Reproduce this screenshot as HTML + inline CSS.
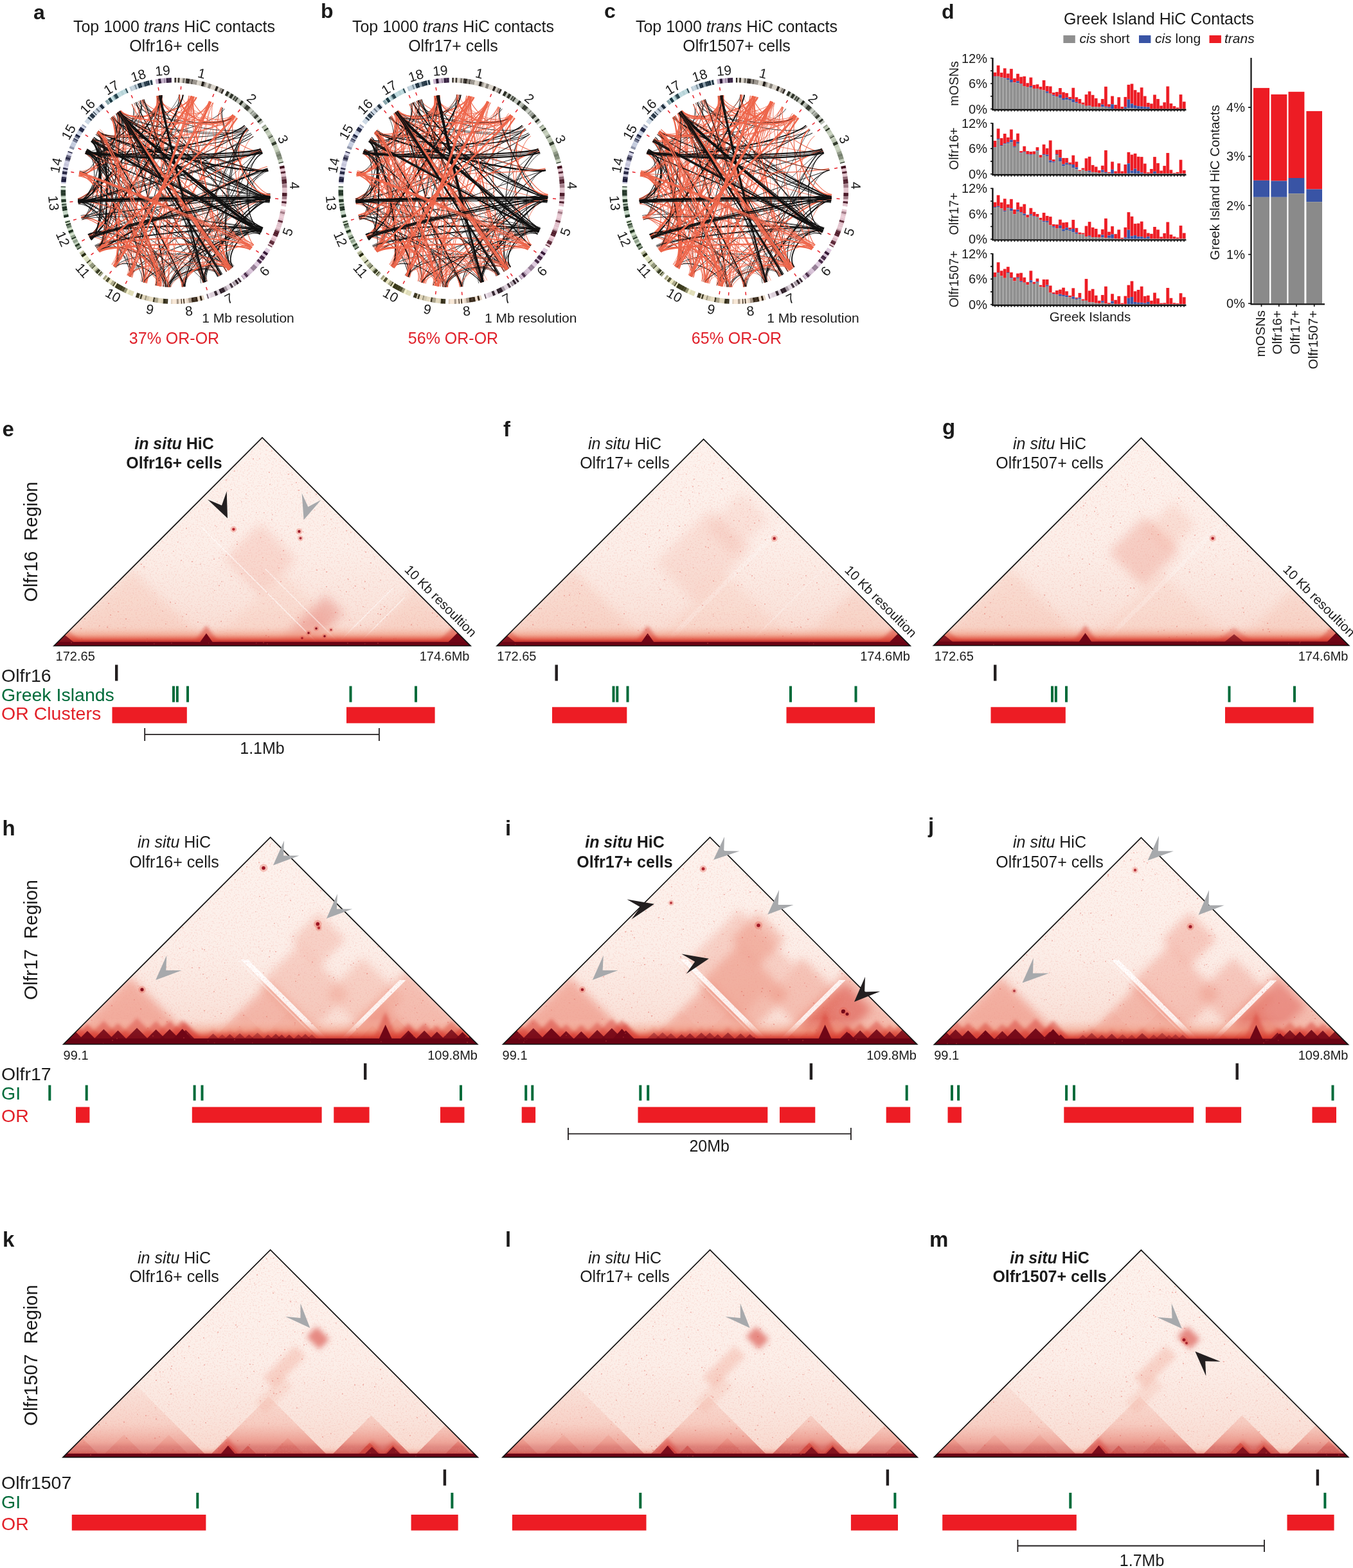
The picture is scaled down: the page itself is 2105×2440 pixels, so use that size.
<!DOCTYPE html>
<html><head><meta charset="utf-8"><style>
html,body{margin:0;padding:0;background:#fff;}
body{width:2105px;height:2440px;overflow:hidden;}
svg{display:block;font-family:'Liberation Sans', Arial, sans-serif;}

</style></head><body>
<svg width="2105" height="2440" viewBox="0 0 2105 2440">
<rect width="2105" height="2440" fill="#fff"/><g fill="#1a1a1a">
<text x="52.0" y="30.0" font-size="32" font-weight="bold">a</text>
<text x="499.0" y="28.0" font-size="32" font-weight="bold">b</text>
<text x="940.0" y="28.0" font-size="32" font-weight="bold">c</text>
<text x="1465.0" y="29.0" font-size="32" font-weight="bold">d</text>
<text x="271.0" y="50.0" font-size="25" text-anchor="middle">Top 1000 <tspan font-style="italic">trans</tspan> HiC contacts</text>
<text x="271.0" y="80.0" font-size="25" text-anchor="middle">Olfr16+ cells</text>
<text x="271.0" y="535.0" font-size="25" text-anchor="middle" fill="#e0202a">37% OR-OR</text>
<text x="705.0" y="50.0" font-size="25" text-anchor="middle">Top 1000 <tspan font-style="italic">trans</tspan> HiC contacts</text>
<text x="705.0" y="80.0" font-size="25" text-anchor="middle">Olfr17+ cells</text>
<text x="705.0" y="535.0" font-size="25" text-anchor="middle" fill="#e0202a">56% OR-OR</text>
<text x="1146.0" y="50.0" font-size="25" text-anchor="middle">Top 1000 <tspan font-style="italic">trans</tspan> HiC contacts</text>
<text x="1146.0" y="80.0" font-size="25" text-anchor="middle">Olfr1507+ cells</text>
<text x="1146.0" y="535.0" font-size="25" text-anchor="middle" fill="#e0202a">65% OR-OR</text>
<text x="386.0" y="502.0" font-size="21" text-anchor="middle">1 Mb resolution</text>
<text x="825.7" y="502.0" font-size="21" text-anchor="middle">1 Mb resolution</text>
<text x="1265.0" y="502.0" font-size="21" text-anchor="middle">1 Mb resolution</text>
<rect x="1545.50" y="112.73" width="5.07" height="6.08" fill="rgb(237,28,36)"/><rect x="1545.50" y="118.80" width="5.07" height="0.87" fill="rgb(57,84,165)"/><rect x="1545.50" y="119.67" width="5.07" height="49.83" fill="rgb(143,143,143)"/><rect x="1550.57" y="101.79" width="5.07" height="17.01" fill="rgb(237,28,36)"/><rect x="1550.57" y="118.80" width="5.07" height="50.70" fill="rgb(143,143,143)"/><rect x="1555.64" y="113.08" width="5.07" height="7.47" fill="rgb(237,28,36)"/><rect x="1555.64" y="120.54" width="5.07" height="48.96" fill="rgb(143,143,143)"/><rect x="1560.71" y="106.30" width="5.07" height="15.10" fill="rgb(237,28,36)"/><rect x="1560.71" y="121.41" width="5.07" height="0.87" fill="rgb(57,84,165)"/><rect x="1560.71" y="122.28" width="5.07" height="47.22" fill="rgb(143,143,143)"/><rect x="1565.78" y="114.46" width="5.07" height="7.29" fill="rgb(237,28,36)"/><rect x="1565.78" y="121.76" width="5.07" height="2.26" fill="rgb(57,84,165)"/><rect x="1565.78" y="124.01" width="5.07" height="45.49" fill="rgb(143,143,143)"/><rect x="1570.85" y="107.17" width="5.07" height="16.84" fill="rgb(237,28,36)"/><rect x="1570.85" y="124.01" width="5.07" height="3.99" fill="rgb(57,84,165)"/><rect x="1570.85" y="128.01" width="5.07" height="41.49" fill="rgb(143,143,143)"/><rect x="1575.92" y="121.93" width="5.07" height="6.42" fill="rgb(237,28,36)"/><rect x="1575.92" y="128.35" width="5.07" height="41.15" fill="rgb(143,143,143)"/><rect x="1580.99" y="114.81" width="5.07" height="11.46" fill="rgb(237,28,36)"/><rect x="1580.99" y="126.27" width="5.07" height="2.95" fill="rgb(57,84,165)"/><rect x="1580.99" y="129.22" width="5.07" height="40.28" fill="rgb(143,143,143)"/><rect x="1586.06" y="119.67" width="5.07" height="10.76" fill="rgb(237,28,36)"/><rect x="1586.06" y="130.44" width="5.07" height="0.52" fill="rgb(57,84,165)"/><rect x="1586.06" y="130.96" width="5.07" height="38.54" fill="rgb(143,143,143)"/><rect x="1591.13" y="118.80" width="5.07" height="15.28" fill="rgb(237,28,36)"/><rect x="1591.13" y="134.08" width="5.07" height="35.42" fill="rgb(143,143,143)"/><rect x="1596.20" y="129.22" width="5.07" height="6.42" fill="rgb(237,28,36)"/><rect x="1596.20" y="135.65" width="5.07" height="33.85" fill="rgb(143,143,143)"/><rect x="1601.27" y="120.54" width="5.07" height="13.37" fill="rgb(237,28,36)"/><rect x="1601.27" y="133.91" width="5.07" height="2.26" fill="rgb(57,84,165)"/><rect x="1601.27" y="136.17" width="5.07" height="33.33" fill="rgb(143,143,143)"/><rect x="1606.34" y="132.17" width="5.07" height="5.73" fill="rgb(237,28,36)"/><rect x="1606.34" y="137.90" width="5.07" height="31.60" fill="rgb(143,143,143)"/><rect x="1611.41" y="131.30" width="5.07" height="6.60" fill="rgb(237,28,36)"/><rect x="1611.41" y="137.90" width="5.07" height="31.60" fill="rgb(143,143,143)"/><rect x="1616.48" y="134.95" width="5.07" height="4.69" fill="rgb(237,28,36)"/><rect x="1616.48" y="139.64" width="5.07" height="29.86" fill="rgb(143,143,143)"/><rect x="1621.55" y="124.88" width="5.07" height="15.63" fill="rgb(237,28,36)"/><rect x="1621.55" y="140.51" width="5.07" height="28.99" fill="rgb(143,143,143)"/><rect x="1626.62" y="133.91" width="5.07" height="8.33" fill="rgb(237,28,36)"/><rect x="1626.62" y="142.24" width="5.07" height="2.60" fill="rgb(57,84,165)"/><rect x="1626.62" y="144.85" width="5.07" height="24.65" fill="rgb(143,143,143)"/><rect x="1631.69" y="134.43" width="5.07" height="11.28" fill="rgb(237,28,36)"/><rect x="1631.69" y="145.71" width="5.07" height="23.79" fill="rgb(143,143,143)"/><rect x="1636.76" y="143.98" width="5.07" height="3.82" fill="rgb(237,28,36)"/><rect x="1636.76" y="147.80" width="5.07" height="1.74" fill="rgb(57,84,165)"/><rect x="1636.76" y="149.53" width="5.07" height="19.97" fill="rgb(143,143,143)"/><rect x="1641.83" y="143.11" width="5.07" height="6.94" fill="rgb(237,28,36)"/><rect x="1641.83" y="150.06" width="5.07" height="19.44" fill="rgb(143,143,143)"/><rect x="1646.90" y="137.03" width="5.07" height="10.42" fill="rgb(237,28,36)"/><rect x="1646.90" y="147.45" width="5.07" height="5.21" fill="rgb(57,84,165)"/><rect x="1646.90" y="152.66" width="5.07" height="16.84" fill="rgb(143,143,143)"/><rect x="1651.97" y="143.46" width="5.07" height="9.55" fill="rgb(237,28,36)"/><rect x="1651.97" y="153.01" width="5.07" height="2.78" fill="rgb(57,84,165)"/><rect x="1651.97" y="155.78" width="5.07" height="13.72" fill="rgb(143,143,143)"/><rect x="1657.04" y="144.85" width="5.07" height="6.94" fill="rgb(237,28,36)"/><rect x="1657.04" y="151.79" width="5.07" height="3.47" fill="rgb(57,84,165)"/><rect x="1657.04" y="155.26" width="5.07" height="14.24" fill="rgb(143,143,143)"/><rect x="1662.11" y="150.92" width="5.07" height="3.13" fill="rgb(237,28,36)"/><rect x="1662.11" y="154.05" width="5.07" height="2.08" fill="rgb(57,84,165)"/><rect x="1662.11" y="156.13" width="5.07" height="13.37" fill="rgb(143,143,143)"/><rect x="1667.18" y="136.69" width="5.07" height="17.71" fill="rgb(237,28,36)"/><rect x="1667.18" y="154.40" width="5.07" height="4.86" fill="rgb(57,84,165)"/><rect x="1667.18" y="159.26" width="5.07" height="10.24" fill="rgb(143,143,143)"/><rect x="1672.25" y="151.27" width="5.07" height="7.47" fill="rgb(237,28,36)"/><rect x="1672.25" y="158.74" width="5.07" height="1.74" fill="rgb(57,84,165)"/><rect x="1672.25" y="160.47" width="5.07" height="9.03" fill="rgb(143,143,143)"/><rect x="1677.32" y="154.05" width="5.07" height="7.29" fill="rgb(237,28,36)"/><rect x="1677.32" y="161.34" width="5.07" height="8.16" fill="rgb(143,143,143)"/><rect x="1682.39" y="159.60" width="5.07" height="3.13" fill="rgb(237,28,36)"/><rect x="1682.39" y="162.73" width="5.07" height="6.77" fill="rgb(143,143,143)"/><rect x="1687.46" y="147.10" width="5.07" height="17.71" fill="rgb(237,28,36)"/><rect x="1687.46" y="164.81" width="5.07" height="4.69" fill="rgb(143,143,143)"/><rect x="1692.53" y="142.24" width="5.07" height="22.22" fill="rgb(237,28,36)"/><rect x="1692.53" y="164.47" width="5.07" height="0.87" fill="rgb(57,84,165)"/><rect x="1692.53" y="165.33" width="5.07" height="4.17" fill="rgb(143,143,143)"/><rect x="1697.60" y="147.80" width="5.07" height="18.23" fill="rgb(237,28,36)"/><rect x="1697.60" y="166.03" width="5.07" height="3.47" fill="rgb(143,143,143)"/><rect x="1702.67" y="153.01" width="5.07" height="13.19" fill="rgb(237,28,36)"/><rect x="1702.67" y="166.20" width="5.07" height="3.30" fill="rgb(143,143,143)"/><rect x="1707.74" y="160.47" width="5.07" height="6.08" fill="rgb(237,28,36)"/><rect x="1707.74" y="166.55" width="5.07" height="2.95" fill="rgb(143,143,143)"/><rect x="1712.81" y="154.05" width="5.07" height="8.68" fill="rgb(237,28,36)"/><rect x="1712.81" y="162.73" width="5.07" height="3.47" fill="rgb(57,84,165)"/><rect x="1712.81" y="166.20" width="5.07" height="3.30" fill="rgb(143,143,143)"/><rect x="1717.88" y="134.78" width="5.07" height="30.90" fill="rgb(237,28,36)"/><rect x="1717.88" y="165.68" width="5.07" height="1.22" fill="rgb(57,84,165)"/><rect x="1717.88" y="166.90" width="5.07" height="2.60" fill="rgb(143,143,143)"/><rect x="1722.95" y="162.21" width="5.07" height="4.34" fill="rgb(237,28,36)"/><rect x="1722.95" y="166.55" width="5.07" height="1.39" fill="rgb(57,84,165)"/><rect x="1722.95" y="167.94" width="5.07" height="1.56" fill="rgb(143,143,143)"/><rect x="1728.02" y="149.53" width="5.07" height="12.67" fill="rgb(237,28,36)"/><rect x="1728.02" y="162.21" width="5.07" height="6.94" fill="rgb(57,84,165)"/><rect x="1728.02" y="169.15" width="5.07" height="0.35" fill="rgb(143,143,143)"/><rect x="1733.09" y="163.08" width="5.07" height="6.08" fill="rgb(237,28,36)"/><rect x="1733.09" y="169.15" width="5.07" height="0.35" fill="rgb(143,143,143)"/><rect x="1738.16" y="151.27" width="5.07" height="18.23" fill="rgb(237,28,36)"/><rect x="1743.23" y="166.03" width="5.07" height="3.47" fill="rgb(237,28,36)"/><rect x="1748.30" y="150.92" width="5.07" height="15.63" fill="rgb(237,28,36)"/><rect x="1748.30" y="166.55" width="5.07" height="2.60" fill="rgb(57,84,165)"/><rect x="1748.30" y="169.15" width="5.07" height="0.35" fill="rgb(143,143,143)"/><rect x="1753.37" y="131.83" width="5.07" height="22.92" fill="rgb(237,28,36)"/><rect x="1753.37" y="154.74" width="5.07" height="13.54" fill="rgb(57,84,165)"/><rect x="1753.37" y="168.28" width="5.07" height="1.22" fill="rgb(143,143,143)"/><rect x="1758.44" y="130.44" width="5.07" height="30.90" fill="rgb(237,28,36)"/><rect x="1758.44" y="161.34" width="5.07" height="6.94" fill="rgb(57,84,165)"/><rect x="1758.44" y="168.28" width="5.07" height="1.22" fill="rgb(143,143,143)"/><rect x="1763.51" y="140.16" width="5.07" height="23.79" fill="rgb(237,28,36)"/><rect x="1763.51" y="163.94" width="5.07" height="4.69" fill="rgb(57,84,165)"/><rect x="1763.51" y="168.63" width="5.07" height="0.87" fill="rgb(143,143,143)"/><rect x="1768.58" y="143.63" width="5.07" height="21.53" fill="rgb(237,28,36)"/><rect x="1768.58" y="165.16" width="5.07" height="3.99" fill="rgb(57,84,165)"/><rect x="1768.58" y="169.15" width="5.07" height="0.35" fill="rgb(143,143,143)"/><rect x="1773.65" y="136.17" width="5.07" height="29.51" fill="rgb(237,28,36)"/><rect x="1773.65" y="165.68" width="5.07" height="3.47" fill="rgb(57,84,165)"/><rect x="1773.65" y="169.15" width="5.07" height="0.35" fill="rgb(143,143,143)"/><rect x="1778.72" y="149.53" width="5.07" height="16.67" fill="rgb(237,28,36)"/><rect x="1778.72" y="166.20" width="5.07" height="2.95" fill="rgb(57,84,165)"/><rect x="1778.72" y="169.15" width="5.07" height="0.35" fill="rgb(143,143,143)"/><rect x="1783.79" y="159.95" width="5.07" height="6.60" fill="rgb(237,28,36)"/><rect x="1783.79" y="166.55" width="5.07" height="2.95" fill="rgb(57,84,165)"/><rect x="1788.86" y="161.34" width="5.07" height="8.16" fill="rgb(237,28,36)"/><rect x="1793.93" y="147.45" width="5.07" height="22.05" fill="rgb(237,28,36)"/><rect x="1799.00" y="154.05" width="5.07" height="15.45" fill="rgb(237,28,36)"/><rect x="1804.07" y="164.47" width="5.07" height="5.03" fill="rgb(237,28,36)"/><rect x="1809.14" y="159.26" width="5.07" height="10.24" fill="rgb(237,28,36)"/><rect x="1814.21" y="134.43" width="5.07" height="35.07" fill="rgb(237,28,36)"/><rect x="1819.28" y="160.99" width="5.07" height="8.51" fill="rgb(237,28,36)"/><rect x="1824.35" y="165.16" width="5.07" height="4.34" fill="rgb(237,28,36)"/><rect x="1829.42" y="167.42" width="5.07" height="2.08" fill="rgb(237,28,36)"/><rect x="1834.49" y="147.10" width="5.07" height="22.40" fill="rgb(237,28,36)"/><rect x="1839.56" y="158.22" width="5.07" height="11.28" fill="rgb(237,28,36)"/><path d="M1550.57 79.5V169.5M1555.64 79.5V169.5M1560.71 79.5V169.5M1565.78 79.5V169.5M1570.85 79.5V169.5M1575.92 79.5V169.5M1580.99 79.5V169.5M1586.06 79.5V169.5M1591.13 79.5V169.5M1596.20 79.5V169.5M1601.27 79.5V169.5M1606.34 79.5V169.5M1611.41 79.5V169.5M1616.48 79.5V169.5M1621.55 79.5V169.5M1626.62 79.5V169.5M1631.69 79.5V169.5M1636.76 79.5V169.5M1641.83 79.5V169.5M1646.90 79.5V169.5M1651.97 79.5V169.5M1657.04 79.5V169.5M1662.11 79.5V169.5M1667.18 79.5V169.5M1672.25 79.5V169.5M1677.32 79.5V169.5M1682.39 79.5V169.5M1687.46 79.5V169.5M1692.53 79.5V169.5M1697.60 79.5V169.5M1702.67 79.5V169.5M1707.74 79.5V169.5M1712.81 79.5V169.5M1717.88 79.5V169.5M1722.95 79.5V169.5M1728.02 79.5V169.5M1733.09 79.5V169.5M1738.16 79.5V169.5M1743.23 79.5V169.5M1748.30 79.5V169.5M1753.37 79.5V169.5M1758.44 79.5V169.5M1763.51 79.5V169.5M1768.58 79.5V169.5M1773.65 79.5V169.5M1778.72 79.5V169.5M1783.79 79.5V169.5M1788.86 79.5V169.5M1793.93 79.5V169.5M1799.00 79.5V169.5M1804.07 79.5V169.5M1809.14 79.5V169.5M1814.21 79.5V169.5M1819.28 79.5V169.5M1824.35 79.5V169.5M1829.42 79.5V169.5M1834.49 79.5V169.5M1839.56 79.5V169.5" stroke="#fff" stroke-opacity="0.45" stroke-width="0.8" fill="none"/><path d="M1544.4 89.9V170.7H1845.4" stroke="#111" stroke-width="2.4" fill="none"/><path d="M1541 169.5H1544.4M1541 149.8H1544.4M1541 130.0H1544.4M1541 110.3H1544.4M1541 90.5H1544.4" stroke="#111" stroke-width="1.6" fill="none"/><path d="M1548.04 170.5V173.5M1553.11 170.5V173.5M1558.17 170.5V173.5M1563.24 170.5V173.5M1568.32 170.5V173.5M1573.38 170.5V173.5M1578.45 170.5V173.5M1583.53 170.5V173.5M1588.60 170.5V173.5M1593.66 170.5V173.5M1598.73 170.5V173.5M1603.81 170.5V173.5M1608.88 170.5V173.5M1613.94 170.5V173.5M1619.02 170.5V173.5M1624.09 170.5V173.5M1629.15 170.5V173.5M1634.22 170.5V173.5M1639.30 170.5V173.5M1644.37 170.5V173.5M1649.43 170.5V173.5M1654.51 170.5V173.5M1659.58 170.5V173.5M1664.64 170.5V173.5M1669.71 170.5V173.5M1674.79 170.5V173.5M1679.86 170.5V173.5M1684.92 170.5V173.5M1689.99 170.5V173.5M1695.07 170.5V173.5M1700.13 170.5V173.5M1705.20 170.5V173.5M1710.28 170.5V173.5M1715.35 170.5V173.5M1720.41 170.5V173.5M1725.49 170.5V173.5M1730.56 170.5V173.5M1735.62 170.5V173.5M1740.69 170.5V173.5M1745.77 170.5V173.5M1750.84 170.5V173.5M1755.90 170.5V173.5M1760.97 170.5V173.5M1766.05 170.5V173.5M1771.12 170.5V173.5M1776.18 170.5V173.5M1781.26 170.5V173.5M1786.33 170.5V173.5M1791.39 170.5V173.5M1796.46 170.5V173.5M1801.54 170.5V173.5M1806.61 170.5V173.5M1811.67 170.5V173.5M1816.74 170.5V173.5M1821.82 170.5V173.5M1826.88 170.5V173.5M1831.95 170.5V173.5M1837.03 170.5V173.5M1842.10 170.5V173.5" stroke="#111" stroke-width="1.6" fill="none"/><text x="1536" y="176.5" font-size="20" text-anchor="end">0%</text><text x="1536" y="137.0" font-size="20" text-anchor="end">6%</text><text x="1536" y="97.5" font-size="20" text-anchor="end">12%</text><rect x="1545.50" y="219.03" width="5.07" height="9.94" fill="rgb(237,28,36)"/><rect x="1545.50" y="228.97" width="5.07" height="0.52" fill="rgb(57,84,165)"/><rect x="1545.50" y="229.49" width="5.07" height="41.31" fill="rgb(143,143,143)"/><rect x="1550.57" y="200.21" width="5.07" height="15.69" fill="rgb(237,28,36)"/><rect x="1550.57" y="215.89" width="5.07" height="1.39" fill="rgb(57,84,165)"/><rect x="1550.57" y="217.29" width="5.07" height="53.51" fill="rgb(143,143,143)"/><rect x="1555.64" y="215.02" width="5.07" height="10.98" fill="rgb(237,28,36)"/><rect x="1555.64" y="226.00" width="5.07" height="1.22" fill="rgb(57,84,165)"/><rect x="1555.64" y="227.22" width="5.07" height="43.58" fill="rgb(143,143,143)"/><rect x="1560.71" y="208.05" width="5.07" height="15.16" fill="rgb(237,28,36)"/><rect x="1560.71" y="223.21" width="5.07" height="1.05" fill="rgb(57,84,165)"/><rect x="1560.71" y="224.26" width="5.07" height="46.54" fill="rgb(143,143,143)"/><rect x="1565.78" y="213.80" width="5.07" height="7.67" fill="rgb(237,28,36)"/><rect x="1565.78" y="221.47" width="5.07" height="1.74" fill="rgb(57,84,165)"/><rect x="1565.78" y="223.21" width="5.07" height="47.59" fill="rgb(143,143,143)"/><rect x="1570.85" y="201.43" width="5.07" height="16.21" fill="rgb(237,28,36)"/><rect x="1570.85" y="217.64" width="5.07" height="3.83" fill="rgb(57,84,165)"/><rect x="1570.85" y="221.47" width="5.07" height="49.33" fill="rgb(143,143,143)"/><rect x="1575.92" y="217.64" width="5.07" height="10.11" fill="rgb(237,28,36)"/><rect x="1575.92" y="227.75" width="5.07" height="1.22" fill="rgb(57,84,165)"/><rect x="1575.92" y="228.97" width="5.07" height="41.83" fill="rgb(143,143,143)"/><rect x="1580.99" y="207.70" width="5.07" height="13.07" fill="rgb(237,28,36)"/><rect x="1580.99" y="220.77" width="5.07" height="2.96" fill="rgb(57,84,165)"/><rect x="1580.99" y="223.74" width="5.07" height="47.06" fill="rgb(143,143,143)"/><rect x="1586.06" y="235.07" width="5.07" height="2.61" fill="rgb(237,28,36)"/><rect x="1586.06" y="237.68" width="5.07" height="0.87" fill="rgb(57,84,165)"/><rect x="1586.06" y="238.55" width="5.07" height="32.25" fill="rgb(143,143,143)"/><rect x="1591.13" y="227.57" width="5.07" height="8.37" fill="rgb(237,28,36)"/><rect x="1591.13" y="235.94" width="5.07" height="0.87" fill="rgb(57,84,165)"/><rect x="1591.13" y="236.81" width="5.07" height="33.99" fill="rgb(143,143,143)"/><rect x="1596.20" y="235.07" width="5.07" height="4.88" fill="rgb(237,28,36)"/><rect x="1596.20" y="239.95" width="5.07" height="0.70" fill="rgb(57,84,165)"/><rect x="1596.20" y="240.65" width="5.07" height="30.15" fill="rgb(143,143,143)"/><rect x="1601.27" y="235.94" width="5.07" height="4.36" fill="rgb(237,28,36)"/><rect x="1601.27" y="240.30" width="5.07" height="1.39" fill="rgb(57,84,165)"/><rect x="1601.27" y="241.69" width="5.07" height="29.11" fill="rgb(143,143,143)"/><rect x="1606.34" y="235.42" width="5.07" height="4.53" fill="rgb(237,28,36)"/><rect x="1606.34" y="239.95" width="5.07" height="30.85" fill="rgb(143,143,143)"/><rect x="1611.41" y="229.14" width="5.07" height="5.05" fill="rgb(237,28,36)"/><rect x="1611.41" y="234.20" width="5.07" height="1.22" fill="rgb(57,84,165)"/><rect x="1611.41" y="235.42" width="5.07" height="35.38" fill="rgb(143,143,143)"/><rect x="1616.48" y="241.17" width="5.07" height="4.01" fill="rgb(237,28,36)"/><rect x="1616.48" y="245.18" width="5.07" height="25.62" fill="rgb(143,143,143)"/><rect x="1621.55" y="224.78" width="5.07" height="15.16" fill="rgb(237,28,36)"/><rect x="1621.55" y="239.95" width="5.07" height="1.22" fill="rgb(57,84,165)"/><rect x="1621.55" y="241.17" width="5.07" height="29.63" fill="rgb(143,143,143)"/><rect x="1626.62" y="230.71" width="5.07" height="9.94" fill="rgb(237,28,36)"/><rect x="1626.62" y="240.65" width="5.07" height="2.27" fill="rgb(57,84,165)"/><rect x="1626.62" y="242.91" width="5.07" height="27.89" fill="rgb(143,143,143)"/><rect x="1631.69" y="218.51" width="5.07" height="31.03" fill="rgb(237,28,36)"/><rect x="1631.69" y="249.53" width="5.07" height="3.31" fill="rgb(57,84,165)"/><rect x="1631.69" y="252.85" width="5.07" height="17.95" fill="rgb(143,143,143)"/><rect x="1636.76" y="248.14" width="5.07" height="3.14" fill="rgb(237,28,36)"/><rect x="1636.76" y="251.28" width="5.07" height="1.57" fill="rgb(57,84,165)"/><rect x="1636.76" y="252.85" width="5.07" height="17.95" fill="rgb(143,143,143)"/><rect x="1641.83" y="233.32" width="5.07" height="6.62" fill="rgb(237,28,36)"/><rect x="1641.83" y="239.95" width="5.07" height="1.22" fill="rgb(57,84,165)"/><rect x="1641.83" y="241.17" width="5.07" height="29.63" fill="rgb(143,143,143)"/><rect x="1646.90" y="232.98" width="5.07" height="12.20" fill="rgb(237,28,36)"/><rect x="1646.90" y="245.18" width="5.07" height="5.93" fill="rgb(57,84,165)"/><rect x="1646.90" y="251.10" width="5.07" height="19.70" fill="rgb(143,143,143)"/><rect x="1651.97" y="245.87" width="5.07" height="9.76" fill="rgb(237,28,36)"/><rect x="1651.97" y="255.64" width="5.07" height="2.96" fill="rgb(57,84,165)"/><rect x="1651.97" y="258.60" width="5.07" height="12.20" fill="rgb(143,143,143)"/><rect x="1657.04" y="245.87" width="5.07" height="7.50" fill="rgb(237,28,36)"/><rect x="1657.04" y="253.37" width="5.07" height="2.61" fill="rgb(57,84,165)"/><rect x="1657.04" y="255.98" width="5.07" height="14.82" fill="rgb(143,143,143)"/><rect x="1662.11" y="252.85" width="5.07" height="2.79" fill="rgb(237,28,36)"/><rect x="1662.11" y="255.64" width="5.07" height="1.74" fill="rgb(57,84,165)"/><rect x="1662.11" y="257.38" width="5.07" height="13.42" fill="rgb(143,143,143)"/><rect x="1667.18" y="241.69" width="5.07" height="14.29" fill="rgb(237,28,36)"/><rect x="1667.18" y="255.98" width="5.07" height="5.23" fill="rgb(57,84,165)"/><rect x="1667.18" y="261.21" width="5.07" height="9.59" fill="rgb(143,143,143)"/><rect x="1672.25" y="251.63" width="5.07" height="8.72" fill="rgb(237,28,36)"/><rect x="1672.25" y="260.34" width="5.07" height="2.96" fill="rgb(57,84,165)"/><rect x="1672.25" y="263.30" width="5.07" height="7.50" fill="rgb(143,143,143)"/><rect x="1677.32" y="264.70" width="5.07" height="1.39" fill="rgb(237,28,36)"/><rect x="1677.32" y="266.09" width="5.07" height="4.71" fill="rgb(143,143,143)"/><rect x="1682.39" y="261.56" width="5.07" height="2.79" fill="rgb(237,28,36)"/><rect x="1682.39" y="264.35" width="5.07" height="6.45" fill="rgb(143,143,143)"/><rect x="1687.46" y="246.40" width="5.07" height="19.70" fill="rgb(237,28,36)"/><rect x="1687.46" y="266.09" width="5.07" height="4.71" fill="rgb(143,143,143)"/><rect x="1692.53" y="243.78" width="5.07" height="21.96" fill="rgb(237,28,36)"/><rect x="1692.53" y="265.75" width="5.07" height="2.09" fill="rgb(57,84,165)"/><rect x="1692.53" y="267.84" width="5.07" height="2.96" fill="rgb(143,143,143)"/><rect x="1697.60" y="256.86" width="5.07" height="10.98" fill="rgb(237,28,36)"/><rect x="1697.60" y="267.84" width="5.07" height="2.96" fill="rgb(143,143,143)"/><rect x="1702.67" y="259.47" width="5.07" height="8.72" fill="rgb(237,28,36)"/><rect x="1702.67" y="268.19" width="5.07" height="2.61" fill="rgb(143,143,143)"/><rect x="1707.74" y="265.05" width="5.07" height="4.01" fill="rgb(237,28,36)"/><rect x="1707.74" y="269.06" width="5.07" height="1.74" fill="rgb(143,143,143)"/><rect x="1712.81" y="257.73" width="5.07" height="6.62" fill="rgb(237,28,36)"/><rect x="1712.81" y="264.35" width="5.07" height="3.49" fill="rgb(57,84,165)"/><rect x="1712.81" y="267.84" width="5.07" height="2.96" fill="rgb(143,143,143)"/><rect x="1717.88" y="233.85" width="5.07" height="33.99" fill="rgb(237,28,36)"/><rect x="1717.88" y="267.84" width="5.07" height="1.22" fill="rgb(57,84,165)"/><rect x="1717.88" y="269.06" width="5.07" height="1.74" fill="rgb(143,143,143)"/><rect x="1722.95" y="267.84" width="5.07" height="1.74" fill="rgb(237,28,36)"/><rect x="1722.95" y="269.58" width="5.07" height="1.22" fill="rgb(143,143,143)"/><rect x="1728.02" y="251.63" width="5.07" height="12.20" fill="rgb(237,28,36)"/><rect x="1728.02" y="263.83" width="5.07" height="6.10" fill="rgb(57,84,165)"/><rect x="1728.02" y="269.93" width="5.07" height="0.87" fill="rgb(143,143,143)"/><rect x="1733.09" y="266.44" width="5.07" height="3.49" fill="rgb(237,28,36)"/><rect x="1733.09" y="269.93" width="5.07" height="0.87" fill="rgb(143,143,143)"/><rect x="1738.16" y="254.24" width="5.07" height="15.69" fill="rgb(237,28,36)"/><rect x="1738.16" y="269.93" width="5.07" height="0.87" fill="rgb(143,143,143)"/><rect x="1743.23" y="266.44" width="5.07" height="3.49" fill="rgb(237,28,36)"/><rect x="1743.23" y="269.93" width="5.07" height="0.87" fill="rgb(143,143,143)"/><rect x="1748.30" y="255.98" width="5.07" height="13.94" fill="rgb(237,28,36)"/><rect x="1748.30" y="269.93" width="5.07" height="0.87" fill="rgb(143,143,143)"/><rect x="1753.37" y="236.81" width="5.07" height="17.43" fill="rgb(237,28,36)"/><rect x="1753.37" y="254.24" width="5.07" height="15.69" fill="rgb(57,84,165)"/><rect x="1753.37" y="269.93" width="5.07" height="0.87" fill="rgb(143,143,143)"/><rect x="1758.44" y="240.65" width="5.07" height="24.93" fill="rgb(237,28,36)"/><rect x="1758.44" y="265.57" width="5.07" height="4.01" fill="rgb(57,84,165)"/><rect x="1758.44" y="269.58" width="5.07" height="1.22" fill="rgb(143,143,143)"/><rect x="1763.51" y="238.90" width="5.07" height="23.71" fill="rgb(237,28,36)"/><rect x="1763.51" y="262.61" width="5.07" height="7.32" fill="rgb(57,84,165)"/><rect x="1763.51" y="269.93" width="5.07" height="0.87" fill="rgb(143,143,143)"/><rect x="1768.58" y="243.78" width="5.07" height="22.31" fill="rgb(237,28,36)"/><rect x="1768.58" y="266.09" width="5.07" height="3.83" fill="rgb(57,84,165)"/><rect x="1768.58" y="269.93" width="5.07" height="0.87" fill="rgb(143,143,143)"/><rect x="1773.65" y="244.13" width="5.07" height="24.40" fill="rgb(237,28,36)"/><rect x="1773.65" y="268.53" width="5.07" height="1.39" fill="rgb(57,84,165)"/><rect x="1773.65" y="269.93" width="5.07" height="0.87" fill="rgb(143,143,143)"/><rect x="1778.72" y="254.59" width="5.07" height="15.34" fill="rgb(237,28,36)"/><rect x="1778.72" y="269.93" width="5.07" height="0.87" fill="rgb(143,143,143)"/><rect x="1783.79" y="268.19" width="5.07" height="1.74" fill="rgb(237,28,36)"/><rect x="1783.79" y="269.93" width="5.07" height="0.87" fill="rgb(143,143,143)"/><rect x="1788.86" y="262.96" width="5.07" height="6.97" fill="rgb(237,28,36)"/><rect x="1788.86" y="269.93" width="5.07" height="0.87" fill="rgb(143,143,143)"/><rect x="1793.93" y="244.13" width="5.07" height="22.66" fill="rgb(237,28,36)"/><rect x="1793.93" y="266.79" width="5.07" height="3.14" fill="rgb(57,84,165)"/><rect x="1793.93" y="269.93" width="5.07" height="0.87" fill="rgb(143,143,143)"/><rect x="1799.00" y="253.89" width="5.07" height="16.04" fill="rgb(237,28,36)"/><rect x="1799.00" y="269.93" width="5.07" height="0.87" fill="rgb(143,143,143)"/><rect x="1804.07" y="265.57" width="5.07" height="4.36" fill="rgb(237,28,36)"/><rect x="1804.07" y="269.93" width="5.07" height="0.87" fill="rgb(143,143,143)"/><rect x="1809.14" y="258.08" width="5.07" height="11.85" fill="rgb(237,28,36)"/><rect x="1809.14" y="269.93" width="5.07" height="0.87" fill="rgb(143,143,143)"/><rect x="1814.21" y="238.03" width="5.07" height="31.90" fill="rgb(237,28,36)"/><rect x="1814.21" y="269.93" width="5.07" height="0.87" fill="rgb(143,143,143)"/><rect x="1819.28" y="264.35" width="5.07" height="5.58" fill="rgb(237,28,36)"/><rect x="1819.28" y="269.93" width="5.07" height="0.87" fill="rgb(143,143,143)"/><rect x="1824.35" y="269.06" width="5.07" height="0.87" fill="rgb(237,28,36)"/><rect x="1824.35" y="269.93" width="5.07" height="0.87" fill="rgb(143,143,143)"/><rect x="1829.42" y="267.84" width="5.07" height="2.09" fill="rgb(237,28,36)"/><rect x="1829.42" y="269.93" width="5.07" height="0.87" fill="rgb(143,143,143)"/><rect x="1834.49" y="248.66" width="5.07" height="21.27" fill="rgb(237,28,36)"/><rect x="1834.49" y="269.93" width="5.07" height="0.87" fill="rgb(143,143,143)"/><rect x="1839.56" y="265.05" width="5.07" height="4.88" fill="rgb(237,28,36)"/><rect x="1839.56" y="269.93" width="5.07" height="0.87" fill="rgb(143,143,143)"/><path d="M1550.57 180.8V270.8M1555.64 180.8V270.8M1560.71 180.8V270.8M1565.78 180.8V270.8M1570.85 180.8V270.8M1575.92 180.8V270.8M1580.99 180.8V270.8M1586.06 180.8V270.8M1591.13 180.8V270.8M1596.20 180.8V270.8M1601.27 180.8V270.8M1606.34 180.8V270.8M1611.41 180.8V270.8M1616.48 180.8V270.8M1621.55 180.8V270.8M1626.62 180.8V270.8M1631.69 180.8V270.8M1636.76 180.8V270.8M1641.83 180.8V270.8M1646.90 180.8V270.8M1651.97 180.8V270.8M1657.04 180.8V270.8M1662.11 180.8V270.8M1667.18 180.8V270.8M1672.25 180.8V270.8M1677.32 180.8V270.8M1682.39 180.8V270.8M1687.46 180.8V270.8M1692.53 180.8V270.8M1697.60 180.8V270.8M1702.67 180.8V270.8M1707.74 180.8V270.8M1712.81 180.8V270.8M1717.88 180.8V270.8M1722.95 180.8V270.8M1728.02 180.8V270.8M1733.09 180.8V270.8M1738.16 180.8V270.8M1743.23 180.8V270.8M1748.30 180.8V270.8M1753.37 180.8V270.8M1758.44 180.8V270.8M1763.51 180.8V270.8M1768.58 180.8V270.8M1773.65 180.8V270.8M1778.72 180.8V270.8M1783.79 180.8V270.8M1788.86 180.8V270.8M1793.93 180.8V270.8M1799.00 180.8V270.8M1804.07 180.8V270.8M1809.14 180.8V270.8M1814.21 180.8V270.8M1819.28 180.8V270.8M1824.35 180.8V270.8M1829.42 180.8V270.8M1834.49 180.8V270.8M1839.56 180.8V270.8" stroke="#fff" stroke-opacity="0.45" stroke-width="0.8" fill="none"/><path d="M1544.4 191.2V272.0H1845.4" stroke="#111" stroke-width="2.4" fill="none"/><path d="M1541 270.8H1544.4M1541 251.1H1544.4M1541 231.3H1544.4M1541 211.6H1544.4M1541 191.8H1544.4" stroke="#111" stroke-width="1.6" fill="none"/><path d="M1548.04 271.8V274.8M1553.11 271.8V274.8M1558.17 271.8V274.8M1563.24 271.8V274.8M1568.32 271.8V274.8M1573.38 271.8V274.8M1578.45 271.8V274.8M1583.53 271.8V274.8M1588.60 271.8V274.8M1593.66 271.8V274.8M1598.73 271.8V274.8M1603.81 271.8V274.8M1608.88 271.8V274.8M1613.94 271.8V274.8M1619.02 271.8V274.8M1624.09 271.8V274.8M1629.15 271.8V274.8M1634.22 271.8V274.8M1639.30 271.8V274.8M1644.37 271.8V274.8M1649.43 271.8V274.8M1654.51 271.8V274.8M1659.58 271.8V274.8M1664.64 271.8V274.8M1669.71 271.8V274.8M1674.79 271.8V274.8M1679.86 271.8V274.8M1684.92 271.8V274.8M1689.99 271.8V274.8M1695.07 271.8V274.8M1700.13 271.8V274.8M1705.20 271.8V274.8M1710.28 271.8V274.8M1715.35 271.8V274.8M1720.41 271.8V274.8M1725.49 271.8V274.8M1730.56 271.8V274.8M1735.62 271.8V274.8M1740.69 271.8V274.8M1745.77 271.8V274.8M1750.84 271.8V274.8M1755.90 271.8V274.8M1760.97 271.8V274.8M1766.05 271.8V274.8M1771.12 271.8V274.8M1776.18 271.8V274.8M1781.26 271.8V274.8M1786.33 271.8V274.8M1791.39 271.8V274.8M1796.46 271.8V274.8M1801.54 271.8V274.8M1806.61 271.8V274.8M1811.67 271.8V274.8M1816.74 271.8V274.8M1821.82 271.8V274.8M1826.88 271.8V274.8M1831.95 271.8V274.8M1837.03 271.8V274.8M1842.10 271.8V274.8" stroke="#111" stroke-width="1.6" fill="none"/><text x="1536" y="277.8" font-size="20" text-anchor="end">0%</text><text x="1536" y="238.3" font-size="20" text-anchor="end">6%</text><text x="1536" y="198.8" font-size="20" text-anchor="end">12%</text><rect x="1545.50" y="314.68" width="5.07" height="7.32" fill="rgb(237,28,36)"/><rect x="1545.50" y="322.00" width="5.07" height="1.22" fill="rgb(57,84,165)"/><rect x="1545.50" y="323.22" width="5.07" height="48.98" fill="rgb(143,143,143)"/><rect x="1550.57" y="303.70" width="5.07" height="17.08" fill="rgb(237,28,36)"/><rect x="1550.57" y="320.78" width="5.07" height="1.22" fill="rgb(57,84,165)"/><rect x="1550.57" y="322.00" width="5.07" height="50.20" fill="rgb(143,143,143)"/><rect x="1555.64" y="315.03" width="5.07" height="9.24" fill="rgb(237,28,36)"/><rect x="1555.64" y="324.27" width="5.07" height="47.93" fill="rgb(143,143,143)"/><rect x="1560.71" y="309.28" width="5.07" height="18.48" fill="rgb(237,28,36)"/><rect x="1560.71" y="327.75" width="5.07" height="1.22" fill="rgb(57,84,165)"/><rect x="1560.71" y="328.97" width="5.07" height="43.23" fill="rgb(143,143,143)"/><rect x="1565.78" y="317.99" width="5.07" height="5.23" fill="rgb(237,28,36)"/><rect x="1565.78" y="323.22" width="5.07" height="1.05" fill="rgb(57,84,165)"/><rect x="1565.78" y="324.27" width="5.07" height="47.93" fill="rgb(143,143,143)"/><rect x="1570.85" y="309.80" width="5.07" height="14.47" fill="rgb(237,28,36)"/><rect x="1570.85" y="324.27" width="5.07" height="3.83" fill="rgb(57,84,165)"/><rect x="1570.85" y="328.10" width="5.07" height="44.10" fill="rgb(143,143,143)"/><rect x="1575.92" y="326.01" width="5.07" height="7.32" fill="rgb(237,28,36)"/><rect x="1575.92" y="333.33" width="5.07" height="38.87" fill="rgb(143,143,143)"/><rect x="1580.99" y="315.03" width="5.07" height="11.33" fill="rgb(237,28,36)"/><rect x="1580.99" y="326.36" width="5.07" height="3.14" fill="rgb(57,84,165)"/><rect x="1580.99" y="329.50" width="5.07" height="42.70" fill="rgb(143,143,143)"/><rect x="1586.06" y="321.65" width="5.07" height="8.54" fill="rgb(237,28,36)"/><rect x="1586.06" y="330.19" width="5.07" height="1.39" fill="rgb(57,84,165)"/><rect x="1586.06" y="331.59" width="5.07" height="40.61" fill="rgb(143,143,143)"/><rect x="1591.13" y="317.64" width="5.07" height="14.82" fill="rgb(237,28,36)"/><rect x="1591.13" y="332.46" width="5.07" height="2.61" fill="rgb(57,84,165)"/><rect x="1591.13" y="335.07" width="5.07" height="37.13" fill="rgb(143,143,143)"/><rect x="1596.20" y="334.20" width="5.07" height="4.36" fill="rgb(237,28,36)"/><rect x="1596.20" y="338.56" width="5.07" height="33.64" fill="rgb(143,143,143)"/><rect x="1601.27" y="323.74" width="5.07" height="9.59" fill="rgb(237,28,36)"/><rect x="1601.27" y="333.33" width="5.07" height="1.74" fill="rgb(57,84,165)"/><rect x="1601.27" y="335.07" width="5.07" height="37.13" fill="rgb(143,143,143)"/><rect x="1606.34" y="329.84" width="5.07" height="6.62" fill="rgb(237,28,36)"/><rect x="1606.34" y="336.47" width="5.07" height="1.22" fill="rgb(57,84,165)"/><rect x="1606.34" y="337.69" width="5.07" height="34.51" fill="rgb(143,143,143)"/><rect x="1611.41" y="332.98" width="5.07" height="4.71" fill="rgb(237,28,36)"/><rect x="1611.41" y="337.69" width="5.07" height="34.51" fill="rgb(143,143,143)"/><rect x="1616.48" y="338.91" width="5.07" height="3.14" fill="rgb(237,28,36)"/><rect x="1616.48" y="342.05" width="5.07" height="30.15" fill="rgb(143,143,143)"/><rect x="1621.55" y="331.06" width="5.07" height="12.72" fill="rgb(237,28,36)"/><rect x="1621.55" y="343.79" width="5.07" height="1.74" fill="rgb(57,84,165)"/><rect x="1621.55" y="345.53" width="5.07" height="26.67" fill="rgb(143,143,143)"/><rect x="1626.62" y="335.94" width="5.07" height="7.84" fill="rgb(237,28,36)"/><rect x="1626.62" y="343.79" width="5.07" height="2.09" fill="rgb(57,84,165)"/><rect x="1626.62" y="345.88" width="5.07" height="26.32" fill="rgb(143,143,143)"/><rect x="1631.69" y="337.16" width="5.07" height="13.25" fill="rgb(237,28,36)"/><rect x="1631.69" y="350.41" width="5.07" height="21.79" fill="rgb(143,143,143)"/><rect x="1636.76" y="349.02" width="5.07" height="3.14" fill="rgb(237,28,36)"/><rect x="1636.76" y="352.15" width="5.07" height="1.74" fill="rgb(57,84,165)"/><rect x="1636.76" y="353.90" width="5.07" height="18.30" fill="rgb(143,143,143)"/><rect x="1641.83" y="349.37" width="5.07" height="6.27" fill="rgb(237,28,36)"/><rect x="1641.83" y="355.64" width="5.07" height="16.56" fill="rgb(143,143,143)"/><rect x="1646.90" y="341.70" width="5.07" height="9.06" fill="rgb(237,28,36)"/><rect x="1646.90" y="350.76" width="5.07" height="4.36" fill="rgb(57,84,165)"/><rect x="1646.90" y="355.12" width="5.07" height="17.08" fill="rgb(143,143,143)"/><rect x="1651.97" y="346.40" width="5.07" height="10.11" fill="rgb(237,28,36)"/><rect x="1651.97" y="356.51" width="5.07" height="3.31" fill="rgb(57,84,165)"/><rect x="1651.97" y="359.82" width="5.07" height="12.38" fill="rgb(143,143,143)"/><rect x="1657.04" y="345.88" width="5.07" height="8.37" fill="rgb(237,28,36)"/><rect x="1657.04" y="354.25" width="5.07" height="3.83" fill="rgb(57,84,165)"/><rect x="1657.04" y="358.08" width="5.07" height="14.12" fill="rgb(143,143,143)"/><rect x="1662.11" y="354.25" width="5.07" height="3.14" fill="rgb(237,28,36)"/><rect x="1662.11" y="357.38" width="5.07" height="1.74" fill="rgb(57,84,165)"/><rect x="1662.11" y="359.13" width="5.07" height="13.07" fill="rgb(143,143,143)"/><rect x="1667.18" y="342.05" width="5.07" height="13.94" fill="rgb(237,28,36)"/><rect x="1667.18" y="355.99" width="5.07" height="5.58" fill="rgb(57,84,165)"/><rect x="1667.18" y="361.57" width="5.07" height="10.63" fill="rgb(143,143,143)"/><rect x="1672.25" y="354.77" width="5.07" height="6.97" fill="rgb(237,28,36)"/><rect x="1672.25" y="361.74" width="5.07" height="2.09" fill="rgb(57,84,165)"/><rect x="1672.25" y="363.83" width="5.07" height="8.37" fill="rgb(143,143,143)"/><rect x="1677.32" y="361.74" width="5.07" height="2.96" fill="rgb(237,28,36)"/><rect x="1677.32" y="364.70" width="5.07" height="7.50" fill="rgb(143,143,143)"/><rect x="1682.39" y="362.61" width="5.07" height="2.09" fill="rgb(237,28,36)"/><rect x="1682.39" y="364.70" width="5.07" height="7.50" fill="rgb(143,143,143)"/><rect x="1687.46" y="351.63" width="5.07" height="16.56" fill="rgb(237,28,36)"/><rect x="1687.46" y="368.19" width="5.07" height="4.01" fill="rgb(143,143,143)"/><rect x="1692.53" y="345.18" width="5.07" height="21.61" fill="rgb(237,28,36)"/><rect x="1692.53" y="366.80" width="5.07" height="1.39" fill="rgb(57,84,165)"/><rect x="1692.53" y="368.19" width="5.07" height="4.01" fill="rgb(143,143,143)"/><rect x="1697.60" y="353.90" width="5.07" height="15.16" fill="rgb(237,28,36)"/><rect x="1697.60" y="369.06" width="5.07" height="3.14" fill="rgb(143,143,143)"/><rect x="1702.67" y="355.99" width="5.07" height="13.07" fill="rgb(237,28,36)"/><rect x="1702.67" y="369.06" width="5.07" height="3.14" fill="rgb(143,143,143)"/><rect x="1707.74" y="364.70" width="5.07" height="4.88" fill="rgb(237,28,36)"/><rect x="1707.74" y="369.59" width="5.07" height="2.61" fill="rgb(143,143,143)"/><rect x="1712.81" y="356.86" width="5.07" height="8.72" fill="rgb(237,28,36)"/><rect x="1712.81" y="365.58" width="5.07" height="3.49" fill="rgb(57,84,165)"/><rect x="1712.81" y="369.06" width="5.07" height="3.14" fill="rgb(143,143,143)"/><rect x="1717.88" y="339.95" width="5.07" height="30.33" fill="rgb(237,28,36)"/><rect x="1717.88" y="370.28" width="5.07" height="1.92" fill="rgb(143,143,143)"/><rect x="1722.95" y="360.70" width="5.07" height="5.75" fill="rgb(237,28,36)"/><rect x="1722.95" y="366.45" width="5.07" height="3.49" fill="rgb(57,84,165)"/><rect x="1722.95" y="369.93" width="5.07" height="2.27" fill="rgb(143,143,143)"/><rect x="1728.02" y="352.15" width="5.07" height="12.55" fill="rgb(237,28,36)"/><rect x="1728.02" y="364.70" width="5.07" height="6.10" fill="rgb(57,84,165)"/><rect x="1728.02" y="370.81" width="5.07" height="1.39" fill="rgb(143,143,143)"/><rect x="1733.09" y="364.18" width="5.07" height="7.15" fill="rgb(237,28,36)"/><rect x="1733.09" y="371.33" width="5.07" height="0.87" fill="rgb(143,143,143)"/><rect x="1738.16" y="357.38" width="5.07" height="14.29" fill="rgb(237,28,36)"/><rect x="1738.16" y="371.68" width="5.07" height="0.52" fill="rgb(143,143,143)"/><rect x="1743.23" y="369.93" width="5.07" height="1.74" fill="rgb(237,28,36)"/><rect x="1743.23" y="371.68" width="5.07" height="0.52" fill="rgb(143,143,143)"/><rect x="1748.30" y="353.90" width="5.07" height="15.69" fill="rgb(237,28,36)"/><rect x="1748.30" y="369.59" width="5.07" height="2.09" fill="rgb(57,84,165)"/><rect x="1748.30" y="371.68" width="5.07" height="0.52" fill="rgb(143,143,143)"/><rect x="1753.37" y="330.19" width="5.07" height="27.54" fill="rgb(237,28,36)"/><rect x="1753.37" y="357.73" width="5.07" height="13.94" fill="rgb(57,84,165)"/><rect x="1753.37" y="371.68" width="5.07" height="0.52" fill="rgb(143,143,143)"/><rect x="1758.44" y="336.82" width="5.07" height="30.50" fill="rgb(237,28,36)"/><rect x="1758.44" y="367.32" width="5.07" height="4.36" fill="rgb(57,84,165)"/><rect x="1758.44" y="371.68" width="5.07" height="0.52" fill="rgb(143,143,143)"/><rect x="1763.51" y="348.15" width="5.07" height="17.95" fill="rgb(237,28,36)"/><rect x="1763.51" y="366.10" width="5.07" height="5.58" fill="rgb(57,84,165)"/><rect x="1763.51" y="371.68" width="5.07" height="0.52" fill="rgb(143,143,143)"/><rect x="1768.58" y="347.62" width="5.07" height="20.57" fill="rgb(237,28,36)"/><rect x="1768.58" y="368.19" width="5.07" height="3.49" fill="rgb(57,84,165)"/><rect x="1768.58" y="371.68" width="5.07" height="0.52" fill="rgb(143,143,143)"/><rect x="1773.65" y="344.66" width="5.07" height="23.53" fill="rgb(237,28,36)"/><rect x="1773.65" y="368.19" width="5.07" height="3.49" fill="rgb(57,84,165)"/><rect x="1773.65" y="371.68" width="5.07" height="0.52" fill="rgb(143,143,143)"/><rect x="1778.72" y="356.86" width="5.07" height="13.07" fill="rgb(237,28,36)"/><rect x="1778.72" y="369.93" width="5.07" height="1.74" fill="rgb(57,84,165)"/><rect x="1778.72" y="371.68" width="5.07" height="0.52" fill="rgb(143,143,143)"/><rect x="1783.79" y="362.61" width="5.07" height="5.58" fill="rgb(237,28,36)"/><rect x="1783.79" y="368.19" width="5.07" height="3.49" fill="rgb(57,84,165)"/><rect x="1783.79" y="371.68" width="5.07" height="0.52" fill="rgb(143,143,143)"/><rect x="1788.86" y="363.83" width="5.07" height="7.84" fill="rgb(237,28,36)"/><rect x="1788.86" y="371.68" width="5.07" height="0.52" fill="rgb(143,143,143)"/><rect x="1793.93" y="353.03" width="5.07" height="18.65" fill="rgb(237,28,36)"/><rect x="1793.93" y="371.68" width="5.07" height="0.52" fill="rgb(143,143,143)"/><rect x="1799.00" y="357.38" width="5.07" height="14.29" fill="rgb(237,28,36)"/><rect x="1799.00" y="371.68" width="5.07" height="0.52" fill="rgb(143,143,143)"/><rect x="1804.07" y="368.54" width="5.07" height="3.14" fill="rgb(237,28,36)"/><rect x="1804.07" y="371.68" width="5.07" height="0.52" fill="rgb(143,143,143)"/><rect x="1809.14" y="362.96" width="5.07" height="8.72" fill="rgb(237,28,36)"/><rect x="1809.14" y="371.68" width="5.07" height="0.52" fill="rgb(143,143,143)"/><rect x="1814.21" y="345.53" width="5.07" height="26.15" fill="rgb(237,28,36)"/><rect x="1814.21" y="371.68" width="5.07" height="0.52" fill="rgb(143,143,143)"/><rect x="1819.28" y="365.05" width="5.07" height="6.62" fill="rgb(237,28,36)"/><rect x="1819.28" y="371.68" width="5.07" height="0.52" fill="rgb(143,143,143)"/><rect x="1824.35" y="368.19" width="5.07" height="3.49" fill="rgb(237,28,36)"/><rect x="1824.35" y="371.68" width="5.07" height="0.52" fill="rgb(143,143,143)"/><rect x="1829.42" y="369.59" width="5.07" height="2.09" fill="rgb(237,28,36)"/><rect x="1829.42" y="371.68" width="5.07" height="0.52" fill="rgb(143,143,143)"/><rect x="1834.49" y="351.11" width="5.07" height="20.57" fill="rgb(237,28,36)"/><rect x="1834.49" y="371.68" width="5.07" height="0.52" fill="rgb(143,143,143)"/><rect x="1839.56" y="362.61" width="5.07" height="9.06" fill="rgb(237,28,36)"/><rect x="1839.56" y="371.68" width="5.07" height="0.52" fill="rgb(143,143,143)"/><path d="M1550.57 282.2V372.2M1555.64 282.2V372.2M1560.71 282.2V372.2M1565.78 282.2V372.2M1570.85 282.2V372.2M1575.92 282.2V372.2M1580.99 282.2V372.2M1586.06 282.2V372.2M1591.13 282.2V372.2M1596.20 282.2V372.2M1601.27 282.2V372.2M1606.34 282.2V372.2M1611.41 282.2V372.2M1616.48 282.2V372.2M1621.55 282.2V372.2M1626.62 282.2V372.2M1631.69 282.2V372.2M1636.76 282.2V372.2M1641.83 282.2V372.2M1646.90 282.2V372.2M1651.97 282.2V372.2M1657.04 282.2V372.2M1662.11 282.2V372.2M1667.18 282.2V372.2M1672.25 282.2V372.2M1677.32 282.2V372.2M1682.39 282.2V372.2M1687.46 282.2V372.2M1692.53 282.2V372.2M1697.60 282.2V372.2M1702.67 282.2V372.2M1707.74 282.2V372.2M1712.81 282.2V372.2M1717.88 282.2V372.2M1722.95 282.2V372.2M1728.02 282.2V372.2M1733.09 282.2V372.2M1738.16 282.2V372.2M1743.23 282.2V372.2M1748.30 282.2V372.2M1753.37 282.2V372.2M1758.44 282.2V372.2M1763.51 282.2V372.2M1768.58 282.2V372.2M1773.65 282.2V372.2M1778.72 282.2V372.2M1783.79 282.2V372.2M1788.86 282.2V372.2M1793.93 282.2V372.2M1799.00 282.2V372.2M1804.07 282.2V372.2M1809.14 282.2V372.2M1814.21 282.2V372.2M1819.28 282.2V372.2M1824.35 282.2V372.2M1829.42 282.2V372.2M1834.49 282.2V372.2M1839.56 282.2V372.2" stroke="#fff" stroke-opacity="0.45" stroke-width="0.8" fill="none"/><path d="M1544.4 292.6V373.4H1845.4" stroke="#111" stroke-width="2.4" fill="none"/><path d="M1541 372.2H1544.4M1541 352.5H1544.4M1541 332.7H1544.4M1541 313.0H1544.4M1541 293.2H1544.4" stroke="#111" stroke-width="1.6" fill="none"/><path d="M1548.04 373.2V376.2M1553.11 373.2V376.2M1558.17 373.2V376.2M1563.24 373.2V376.2M1568.32 373.2V376.2M1573.38 373.2V376.2M1578.45 373.2V376.2M1583.53 373.2V376.2M1588.60 373.2V376.2M1593.66 373.2V376.2M1598.73 373.2V376.2M1603.81 373.2V376.2M1608.88 373.2V376.2M1613.94 373.2V376.2M1619.02 373.2V376.2M1624.09 373.2V376.2M1629.15 373.2V376.2M1634.22 373.2V376.2M1639.30 373.2V376.2M1644.37 373.2V376.2M1649.43 373.2V376.2M1654.51 373.2V376.2M1659.58 373.2V376.2M1664.64 373.2V376.2M1669.71 373.2V376.2M1674.79 373.2V376.2M1679.86 373.2V376.2M1684.92 373.2V376.2M1689.99 373.2V376.2M1695.07 373.2V376.2M1700.13 373.2V376.2M1705.20 373.2V376.2M1710.28 373.2V376.2M1715.35 373.2V376.2M1720.41 373.2V376.2M1725.49 373.2V376.2M1730.56 373.2V376.2M1735.62 373.2V376.2M1740.69 373.2V376.2M1745.77 373.2V376.2M1750.84 373.2V376.2M1755.90 373.2V376.2M1760.97 373.2V376.2M1766.05 373.2V376.2M1771.12 373.2V376.2M1776.18 373.2V376.2M1781.26 373.2V376.2M1786.33 373.2V376.2M1791.39 373.2V376.2M1796.46 373.2V376.2M1801.54 373.2V376.2M1806.61 373.2V376.2M1811.67 373.2V376.2M1816.74 373.2V376.2M1821.82 373.2V376.2M1826.88 373.2V376.2M1831.95 373.2V376.2M1837.03 373.2V376.2M1842.10 373.2V376.2" stroke="#111" stroke-width="1.6" fill="none"/><text x="1536" y="379.2" font-size="20" text-anchor="end">0%</text><text x="1536" y="339.7" font-size="20" text-anchor="end">6%</text><text x="1536" y="300.2" font-size="20" text-anchor="end">12%</text><rect x="1545.50" y="423.97" width="5.07" height="7.02" fill="rgb(237,28,36)"/><rect x="1545.50" y="430.99" width="5.07" height="42.81" fill="rgb(143,143,143)"/><rect x="1550.57" y="408.18" width="5.07" height="16.14" fill="rgb(237,28,36)"/><rect x="1550.57" y="424.32" width="5.07" height="0.88" fill="rgb(57,84,165)"/><rect x="1550.57" y="425.20" width="5.07" height="48.60" fill="rgb(143,143,143)"/><rect x="1555.64" y="421.34" width="5.07" height="7.90" fill="rgb(237,28,36)"/><rect x="1555.64" y="429.23" width="5.07" height="44.57" fill="rgb(143,143,143)"/><rect x="1560.71" y="418.53" width="5.07" height="14.21" fill="rgb(237,28,36)"/><rect x="1560.71" y="432.74" width="5.07" height="41.06" fill="rgb(143,143,143)"/><rect x="1565.78" y="415.19" width="5.07" height="8.77" fill="rgb(237,28,36)"/><rect x="1565.78" y="423.97" width="5.07" height="1.23" fill="rgb(57,84,165)"/><rect x="1565.78" y="425.20" width="5.07" height="48.60" fill="rgb(143,143,143)"/><rect x="1570.85" y="423.79" width="5.07" height="8.42" fill="rgb(237,28,36)"/><rect x="1570.85" y="432.21" width="5.07" height="1.23" fill="rgb(57,84,165)"/><rect x="1570.85" y="433.44" width="5.07" height="40.36" fill="rgb(143,143,143)"/><rect x="1575.92" y="431.69" width="5.07" height="5.79" fill="rgb(237,28,36)"/><rect x="1575.92" y="437.48" width="5.07" height="36.32" fill="rgb(143,143,143)"/><rect x="1580.99" y="425.55" width="5.07" height="6.14" fill="rgb(237,28,36)"/><rect x="1580.99" y="431.69" width="5.07" height="1.40" fill="rgb(57,84,165)"/><rect x="1580.99" y="433.09" width="5.07" height="40.71" fill="rgb(143,143,143)"/><rect x="1586.06" y="424.67" width="5.07" height="12.81" fill="rgb(237,28,36)"/><rect x="1586.06" y="437.48" width="5.07" height="1.75" fill="rgb(57,84,165)"/><rect x="1586.06" y="439.23" width="5.07" height="34.57" fill="rgb(143,143,143)"/><rect x="1591.13" y="431.69" width="5.07" height="8.07" fill="rgb(237,28,36)"/><rect x="1591.13" y="439.76" width="5.07" height="34.04" fill="rgb(143,143,143)"/><rect x="1596.20" y="438.88" width="5.07" height="4.39" fill="rgb(237,28,36)"/><rect x="1596.20" y="443.27" width="5.07" height="30.53" fill="rgb(143,143,143)"/><rect x="1601.27" y="421.34" width="5.07" height="14.91" fill="rgb(237,28,36)"/><rect x="1601.27" y="436.25" width="5.07" height="3.51" fill="rgb(57,84,165)"/><rect x="1601.27" y="439.76" width="5.07" height="34.04" fill="rgb(143,143,143)"/><rect x="1606.34" y="438.71" width="5.07" height="3.16" fill="rgb(237,28,36)"/><rect x="1606.34" y="441.87" width="5.07" height="31.93" fill="rgb(143,143,143)"/><rect x="1611.41" y="433.44" width="5.07" height="4.91" fill="rgb(237,28,36)"/><rect x="1611.41" y="438.36" width="5.07" height="1.40" fill="rgb(57,84,165)"/><rect x="1611.41" y="439.76" width="5.07" height="34.04" fill="rgb(143,143,143)"/><rect x="1616.48" y="443.62" width="5.07" height="2.63" fill="rgb(237,28,36)"/><rect x="1616.48" y="446.25" width="5.07" height="27.55" fill="rgb(143,143,143)"/><rect x="1621.55" y="434.85" width="5.07" height="12.28" fill="rgb(237,28,36)"/><rect x="1621.55" y="447.13" width="5.07" height="26.67" fill="rgb(143,143,143)"/><rect x="1626.62" y="434.85" width="5.07" height="8.77" fill="rgb(237,28,36)"/><rect x="1626.62" y="443.62" width="5.07" height="2.11" fill="rgb(57,84,165)"/><rect x="1626.62" y="445.73" width="5.07" height="28.07" fill="rgb(143,143,143)"/><rect x="1631.69" y="444.50" width="5.07" height="11.05" fill="rgb(237,28,36)"/><rect x="1631.69" y="455.55" width="5.07" height="18.25" fill="rgb(143,143,143)"/><rect x="1636.76" y="455.03" width="5.07" height="2.28" fill="rgb(237,28,36)"/><rect x="1636.76" y="457.31" width="5.07" height="0.70" fill="rgb(57,84,165)"/><rect x="1636.76" y="458.01" width="5.07" height="15.79" fill="rgb(143,143,143)"/><rect x="1641.83" y="452.04" width="5.07" height="6.49" fill="rgb(237,28,36)"/><rect x="1641.83" y="458.53" width="5.07" height="15.27" fill="rgb(143,143,143)"/><rect x="1646.90" y="450.64" width="5.07" height="7.02" fill="rgb(237,28,36)"/><rect x="1646.90" y="457.66" width="5.07" height="3.16" fill="rgb(57,84,165)"/><rect x="1646.90" y="460.82" width="5.07" height="12.98" fill="rgb(143,143,143)"/><rect x="1651.97" y="447.66" width="5.07" height="11.41" fill="rgb(237,28,36)"/><rect x="1651.97" y="459.06" width="5.07" height="2.11" fill="rgb(57,84,165)"/><rect x="1651.97" y="461.17" width="5.07" height="12.63" fill="rgb(143,143,143)"/><rect x="1657.04" y="453.27" width="5.07" height="6.49" fill="rgb(237,28,36)"/><rect x="1657.04" y="459.76" width="5.07" height="2.81" fill="rgb(57,84,165)"/><rect x="1657.04" y="462.57" width="5.07" height="11.23" fill="rgb(143,143,143)"/><rect x="1662.11" y="459.94" width="5.07" height="2.63" fill="rgb(237,28,36)"/><rect x="1662.11" y="462.57" width="5.07" height="11.23" fill="rgb(143,143,143)"/><rect x="1667.18" y="448.36" width="5.07" height="13.16" fill="rgb(237,28,36)"/><rect x="1667.18" y="461.52" width="5.07" height="3.51" fill="rgb(57,84,165)"/><rect x="1667.18" y="465.03" width="5.07" height="8.77" fill="rgb(143,143,143)"/><rect x="1672.25" y="462.92" width="5.07" height="1.75" fill="rgb(237,28,36)"/><rect x="1672.25" y="464.68" width="5.07" height="1.40" fill="rgb(57,84,165)"/><rect x="1672.25" y="466.08" width="5.07" height="7.72" fill="rgb(143,143,143)"/><rect x="1677.32" y="455.90" width="5.07" height="7.37" fill="rgb(237,28,36)"/><rect x="1677.32" y="463.27" width="5.07" height="2.28" fill="rgb(57,84,165)"/><rect x="1677.32" y="465.55" width="5.07" height="8.25" fill="rgb(143,143,143)"/><rect x="1682.39" y="465.55" width="5.07" height="2.28" fill="rgb(237,28,36)"/><rect x="1682.39" y="467.83" width="5.07" height="5.97" fill="rgb(143,143,143)"/><rect x="1687.46" y="433.97" width="5.07" height="33.87" fill="rgb(237,28,36)"/><rect x="1687.46" y="467.83" width="5.07" height="5.97" fill="rgb(143,143,143)"/><rect x="1692.53" y="452.39" width="5.07" height="17.90" fill="rgb(237,28,36)"/><rect x="1692.53" y="470.29" width="5.07" height="3.51" fill="rgb(143,143,143)"/><rect x="1697.60" y="449.76" width="5.07" height="20.53" fill="rgb(237,28,36)"/><rect x="1697.60" y="470.29" width="5.07" height="3.51" fill="rgb(143,143,143)"/><rect x="1702.67" y="459.76" width="5.07" height="11.93" fill="rgb(237,28,36)"/><rect x="1702.67" y="471.69" width="5.07" height="2.11" fill="rgb(143,143,143)"/><rect x="1707.74" y="467.83" width="5.07" height="4.21" fill="rgb(237,28,36)"/><rect x="1707.74" y="472.05" width="5.07" height="1.75" fill="rgb(143,143,143)"/><rect x="1712.81" y="459.06" width="5.07" height="9.12" fill="rgb(237,28,36)"/><rect x="1712.81" y="468.19" width="5.07" height="2.63" fill="rgb(57,84,165)"/><rect x="1712.81" y="470.82" width="5.07" height="2.98" fill="rgb(143,143,143)"/><rect x="1717.88" y="445.73" width="5.07" height="26.85" fill="rgb(237,28,36)"/><rect x="1717.88" y="472.57" width="5.07" height="1.23" fill="rgb(143,143,143)"/><rect x="1722.95" y="471.34" width="5.07" height="1.75" fill="rgb(237,28,36)"/><rect x="1722.95" y="473.10" width="5.07" height="0.70" fill="rgb(143,143,143)"/><rect x="1728.02" y="457.31" width="5.07" height="11.23" fill="rgb(237,28,36)"/><rect x="1728.02" y="468.54" width="5.07" height="4.04" fill="rgb(57,84,165)"/><rect x="1728.02" y="472.57" width="5.07" height="1.23" fill="rgb(143,143,143)"/><rect x="1733.09" y="466.78" width="5.07" height="6.32" fill="rgb(237,28,36)"/><rect x="1733.09" y="473.10" width="5.07" height="0.70" fill="rgb(143,143,143)"/><rect x="1738.16" y="460.82" width="5.07" height="12.63" fill="rgb(237,28,36)"/><rect x="1738.16" y="473.45" width="5.07" height="0.35" fill="rgb(143,143,143)"/><rect x="1743.23" y="471.69" width="5.07" height="1.75" fill="rgb(237,28,36)"/><rect x="1743.23" y="473.45" width="5.07" height="0.35" fill="rgb(143,143,143)"/><rect x="1748.30" y="460.64" width="5.07" height="12.81" fill="rgb(237,28,36)"/><rect x="1748.30" y="473.45" width="5.07" height="0.35" fill="rgb(143,143,143)"/><rect x="1753.37" y="443.62" width="5.07" height="20.18" fill="rgb(237,28,36)"/><rect x="1753.37" y="463.80" width="5.07" height="9.65" fill="rgb(57,84,165)"/><rect x="1753.37" y="473.45" width="5.07" height="0.35" fill="rgb(143,143,143)"/><rect x="1758.44" y="437.48" width="5.07" height="24.57" fill="rgb(237,28,36)"/><rect x="1758.44" y="462.04" width="5.07" height="11.41" fill="rgb(57,84,165)"/><rect x="1758.44" y="473.45" width="5.07" height="0.35" fill="rgb(143,143,143)"/><rect x="1763.51" y="453.27" width="5.07" height="16.67" fill="rgb(237,28,36)"/><rect x="1763.51" y="469.94" width="5.07" height="3.51" fill="rgb(57,84,165)"/><rect x="1763.51" y="473.45" width="5.07" height="0.35" fill="rgb(143,143,143)"/><rect x="1768.58" y="450.99" width="5.07" height="19.83" fill="rgb(237,28,36)"/><rect x="1768.58" y="470.82" width="5.07" height="2.63" fill="rgb(57,84,165)"/><rect x="1768.58" y="473.45" width="5.07" height="0.35" fill="rgb(143,143,143)"/><rect x="1773.65" y="445.73" width="5.07" height="25.09" fill="rgb(237,28,36)"/><rect x="1773.65" y="470.82" width="5.07" height="2.63" fill="rgb(57,84,165)"/><rect x="1773.65" y="473.45" width="5.07" height="0.35" fill="rgb(143,143,143)"/><rect x="1778.72" y="460.82" width="5.07" height="10.88" fill="rgb(237,28,36)"/><rect x="1778.72" y="471.69" width="5.07" height="1.75" fill="rgb(57,84,165)"/><rect x="1778.72" y="473.45" width="5.07" height="0.35" fill="rgb(143,143,143)"/><rect x="1783.79" y="459.76" width="5.07" height="10.18" fill="rgb(237,28,36)"/><rect x="1783.79" y="469.94" width="5.07" height="3.51" fill="rgb(57,84,165)"/><rect x="1783.79" y="473.45" width="5.07" height="0.35" fill="rgb(143,143,143)"/><rect x="1788.86" y="467.83" width="5.07" height="5.61" fill="rgb(237,28,36)"/><rect x="1788.86" y="473.45" width="5.07" height="0.35" fill="rgb(143,143,143)"/><rect x="1793.93" y="455.55" width="5.07" height="17.90" fill="rgb(237,28,36)"/><rect x="1793.93" y="473.45" width="5.07" height="0.35" fill="rgb(143,143,143)"/><rect x="1799.00" y="464.32" width="5.07" height="9.12" fill="rgb(237,28,36)"/><rect x="1799.00" y="473.45" width="5.07" height="0.35" fill="rgb(143,143,143)"/><rect x="1804.07" y="471.69" width="5.07" height="1.75" fill="rgb(237,28,36)"/><rect x="1804.07" y="473.45" width="5.07" height="0.35" fill="rgb(143,143,143)"/><rect x="1809.14" y="471.34" width="5.07" height="2.11" fill="rgb(237,28,36)"/><rect x="1809.14" y="473.45" width="5.07" height="0.35" fill="rgb(143,143,143)"/><rect x="1814.21" y="448.01" width="5.07" height="25.44" fill="rgb(237,28,36)"/><rect x="1814.21" y="473.45" width="5.07" height="0.35" fill="rgb(143,143,143)"/><rect x="1819.28" y="463.80" width="5.07" height="9.65" fill="rgb(237,28,36)"/><rect x="1819.28" y="473.45" width="5.07" height="0.35" fill="rgb(143,143,143)"/><rect x="1824.35" y="471.34" width="5.07" height="2.11" fill="rgb(237,28,36)"/><rect x="1824.35" y="473.45" width="5.07" height="0.35" fill="rgb(143,143,143)"/><rect x="1829.42" y="472.05" width="5.07" height="1.40" fill="rgb(237,28,36)"/><rect x="1829.42" y="473.45" width="5.07" height="0.35" fill="rgb(143,143,143)"/><rect x="1834.49" y="456.25" width="5.07" height="17.20" fill="rgb(237,28,36)"/><rect x="1834.49" y="473.45" width="5.07" height="0.35" fill="rgb(143,143,143)"/><rect x="1839.56" y="462.39" width="5.07" height="11.05" fill="rgb(237,28,36)"/><rect x="1839.56" y="473.45" width="5.07" height="0.35" fill="rgb(143,143,143)"/><path d="M1550.57 383.8V473.8M1555.64 383.8V473.8M1560.71 383.8V473.8M1565.78 383.8V473.8M1570.85 383.8V473.8M1575.92 383.8V473.8M1580.99 383.8V473.8M1586.06 383.8V473.8M1591.13 383.8V473.8M1596.20 383.8V473.8M1601.27 383.8V473.8M1606.34 383.8V473.8M1611.41 383.8V473.8M1616.48 383.8V473.8M1621.55 383.8V473.8M1626.62 383.8V473.8M1631.69 383.8V473.8M1636.76 383.8V473.8M1641.83 383.8V473.8M1646.90 383.8V473.8M1651.97 383.8V473.8M1657.04 383.8V473.8M1662.11 383.8V473.8M1667.18 383.8V473.8M1672.25 383.8V473.8M1677.32 383.8V473.8M1682.39 383.8V473.8M1687.46 383.8V473.8M1692.53 383.8V473.8M1697.60 383.8V473.8M1702.67 383.8V473.8M1707.74 383.8V473.8M1712.81 383.8V473.8M1717.88 383.8V473.8M1722.95 383.8V473.8M1728.02 383.8V473.8M1733.09 383.8V473.8M1738.16 383.8V473.8M1743.23 383.8V473.8M1748.30 383.8V473.8M1753.37 383.8V473.8M1758.44 383.8V473.8M1763.51 383.8V473.8M1768.58 383.8V473.8M1773.65 383.8V473.8M1778.72 383.8V473.8M1783.79 383.8V473.8M1788.86 383.8V473.8M1793.93 383.8V473.8M1799.00 383.8V473.8M1804.07 383.8V473.8M1809.14 383.8V473.8M1814.21 383.8V473.8M1819.28 383.8V473.8M1824.35 383.8V473.8M1829.42 383.8V473.8M1834.49 383.8V473.8M1839.56 383.8V473.8" stroke="#fff" stroke-opacity="0.45" stroke-width="0.8" fill="none"/><path d="M1544.4 394.2V475.0H1845.4" stroke="#111" stroke-width="2.4" fill="none"/><path d="M1541 473.8H1544.4M1541 454.1H1544.4M1541 434.3H1544.4M1541 414.6H1544.4M1541 394.8H1544.4" stroke="#111" stroke-width="1.6" fill="none"/><path d="M1548.04 474.8V477.8M1553.11 474.8V477.8M1558.17 474.8V477.8M1563.24 474.8V477.8M1568.32 474.8V477.8M1573.38 474.8V477.8M1578.45 474.8V477.8M1583.53 474.8V477.8M1588.60 474.8V477.8M1593.66 474.8V477.8M1598.73 474.8V477.8M1603.81 474.8V477.8M1608.88 474.8V477.8M1613.94 474.8V477.8M1619.02 474.8V477.8M1624.09 474.8V477.8M1629.15 474.8V477.8M1634.22 474.8V477.8M1639.30 474.8V477.8M1644.37 474.8V477.8M1649.43 474.8V477.8M1654.51 474.8V477.8M1659.58 474.8V477.8M1664.64 474.8V477.8M1669.71 474.8V477.8M1674.79 474.8V477.8M1679.86 474.8V477.8M1684.92 474.8V477.8M1689.99 474.8V477.8M1695.07 474.8V477.8M1700.13 474.8V477.8M1705.20 474.8V477.8M1710.28 474.8V477.8M1715.35 474.8V477.8M1720.41 474.8V477.8M1725.49 474.8V477.8M1730.56 474.8V477.8M1735.62 474.8V477.8M1740.69 474.8V477.8M1745.77 474.8V477.8M1750.84 474.8V477.8M1755.90 474.8V477.8M1760.97 474.8V477.8M1766.05 474.8V477.8M1771.12 474.8V477.8M1776.18 474.8V477.8M1781.26 474.8V477.8M1786.33 474.8V477.8M1791.39 474.8V477.8M1796.46 474.8V477.8M1801.54 474.8V477.8M1806.61 474.8V477.8M1811.67 474.8V477.8M1816.74 474.8V477.8M1821.82 474.8V477.8M1826.88 474.8V477.8M1831.95 474.8V477.8M1837.03 474.8V477.8M1842.10 474.8V477.8" stroke="#111" stroke-width="1.6" fill="none"/><text x="1536" y="480.8" font-size="20" text-anchor="end">0%</text><text x="1536" y="441.3" font-size="20" text-anchor="end">6%</text><text x="1536" y="401.8" font-size="20" text-anchor="end">12%</text>
<text x="1491" y="130.0" font-size="20" text-anchor="middle" transform="rotate(-90 1491 130.0)">mOSNs</text>
<text x="1491" y="231.3" font-size="20" text-anchor="middle" transform="rotate(-90 1491 231.3)">Olfr16+</text>
<text x="1491" y="332.7" font-size="20" text-anchor="middle" transform="rotate(-90 1491 332.7)">Olfr17+</text>
<text x="1491" y="434.3" font-size="20" text-anchor="middle" transform="rotate(-90 1491 434.3)">Olfr1507+</text>
<text x="1696.0" y="500.0" font-size="20.5" text-anchor="middle">Greek Islands</text>
<text x="1803.0" y="38.0" font-size="25" text-anchor="middle">Greek Island HiC Contacts</text>
<rect x="1654.4" y="55" width="18.4" height="12" fill="rgb(143,143,143)"/>
<rect x="1772" y="55" width="18.4" height="12" fill="rgb(57,84,165)"/>
<rect x="1881.5" y="55" width="18.4" height="12" fill="rgb(237,28,36)"/>
<text x="1679.5" y="66.5" font-size="21"><tspan font-style="italic">cis</tspan> short</text>
<text x="1797.0" y="66.5" font-size="21"><tspan font-style="italic">cis</tspan> long</text>
<text x="1905.0" y="66.5" font-size="21"><tspan font-style="italic">trans</tspan></text>
<rect x="1950" y="136.9" width="25.0" height="143.9" fill="rgb(237,28,36)"/>
<rect x="1950" y="280.8" width="25.0" height="26.0" fill="rgb(57,84,165)"/>
<rect x="1950" y="306.8" width="25.0" height="165.5" fill="rgb(138,138,138)"/>
<rect x="1977.4" y="146.9" width="24.9" height="134.6" fill="rgb(237,28,36)"/>
<rect x="1977.4" y="281.5" width="24.9" height="25.3" fill="rgb(57,84,165)"/>
<rect x="1977.4" y="306.8" width="24.9" height="165.5" fill="rgb(138,138,138)"/>
<rect x="2004.5" y="142.8" width="24.9" height="134.2" fill="rgb(237,28,36)"/>
<rect x="2004.5" y="277" width="24.9" height="24.2" fill="rgb(57,84,165)"/>
<rect x="2004.5" y="301.2" width="24.9" height="171.1" fill="rgb(138,138,138)"/>
<rect x="2032.4" y="172.9" width="24.6" height="121.6" fill="rgb(237,28,36)"/>
<rect x="2032.4" y="294.5" width="24.6" height="19.7" fill="rgb(57,84,165)"/>
<rect x="2032.4" y="314.2" width="24.6" height="158.1" fill="rgb(138,138,138)"/>
<path d="M1946.5 90V473.3H2061" stroke="#111" stroke-width="2.2" fill="none"/>
<path d="M1942 472.3H1946.5M1942 396.0H1946.5M1942 319.7H1946.5M1942 243.4H1946.5M1942 167.1H1946.5" stroke="#111" stroke-width="1.6" fill="none"/>
<path d="M1962.5 473.3V477.3M1989.8 473.3V477.3M2017.0 473.3V477.3M2044.7 473.3V477.3" stroke="#111" stroke-width="1.6" fill="none"/>
<text x="1937.0" y="479.3" font-size="20" text-anchor="end">0%</text>
<text x="1937.0" y="403.0" font-size="20" text-anchor="end">1%</text>
<text x="1937.0" y="326.7" font-size="20" text-anchor="end">2%</text>
<text x="1937.0" y="250.4" font-size="20" text-anchor="end">3%</text>
<text x="1937.0" y="174.1" font-size="20" text-anchor="end">4%</text>
<text x="1897" y="284" font-size="20.4" text-anchor="middle" transform="rotate(-90 1897 284)">Greek Island HiC Contacts</text>
<text x="1967.6" y="483" font-size="20.7" text-anchor="end" transform="rotate(-90 1967.6 483)">mOSNs</text>
<text x="1993.7" y="483" font-size="20.7" text-anchor="end" transform="rotate(-90 1993.7 483)">Olfr16+</text>
<text x="2021.5" y="483" font-size="20.7" text-anchor="end" transform="rotate(-90 2021.5 483)">Olfr17+</text>
<text x="2049.5" y="483" font-size="20.7" text-anchor="end" transform="rotate(-90 2049.5 483)">Olfr1507+</text>
<text x="3.5" y="678.5" font-size="33" font-weight="bold">e</text>
<text x="783.0" y="679.0" font-size="33" font-weight="bold">f</text>
<text x="1466.0" y="676.0" font-size="33" font-weight="bold">g</text>
<text x="3.5" y="1299.5" font-size="33" font-weight="bold">h</text>
<text x="786.0" y="1299.5" font-size="33" font-weight="bold">i</text>
<text x="1444.0" y="1296.0" font-size="33" font-weight="bold">j</text>
<text x="4.0" y="1940.0" font-size="33" font-weight="bold">k</text>
<text x="786.0" y="1940.0" font-size="33" font-weight="bold">l</text>
<text x="1446.0" y="1939.5" font-size="33" font-weight="bold">m</text>
<text x="271.0" y="698.5" font-size="25" text-anchor="middle" font-weight="bold"><tspan font-style="italic">in situ</tspan> HiC</text>
<text x="271.0" y="728.5" font-size="25" text-anchor="middle" font-weight="bold">Olfr16+ cells</text>
<text x="972.0" y="698.5" font-size="25" text-anchor="middle"><tspan font-style="italic">in situ</tspan> HiC</text>
<text x="972.0" y="728.5" font-size="25" text-anchor="middle">Olfr17+ cells</text>
<text x="1633.0" y="698.5" font-size="25" text-anchor="middle"><tspan font-style="italic">in situ</tspan> HiC</text>
<text x="1633.0" y="728.5" font-size="25" text-anchor="middle">Olfr1507+ cells</text>
<text x="271.0" y="1319.0" font-size="25" text-anchor="middle"><tspan font-style="italic">in situ</tspan> HiC</text>
<text x="271.0" y="1349.5" font-size="25" text-anchor="middle">Olfr16+ cells</text>
<text x="972.0" y="1319.0" font-size="25" text-anchor="middle" font-weight="bold"><tspan font-style="italic">in situ</tspan> HiC</text>
<text x="972.0" y="1349.5" font-size="25" text-anchor="middle" font-weight="bold">Olfr17+ cells</text>
<text x="1633.0" y="1319.0" font-size="25" text-anchor="middle"><tspan font-style="italic">in situ</tspan> HiC</text>
<text x="1633.0" y="1349.5" font-size="25" text-anchor="middle">Olfr1507+ cells</text>
<text x="271.0" y="1965.5" font-size="25" text-anchor="middle"><tspan font-style="italic">in situ</tspan> HiC</text>
<text x="271.0" y="1995.3" font-size="25" text-anchor="middle">Olfr16+ cells</text>
<text x="972.0" y="1965.5" font-size="25" text-anchor="middle"><tspan font-style="italic">in situ</tspan> HiC</text>
<text x="972.0" y="1995.3" font-size="25" text-anchor="middle">Olfr17+ cells</text>
<text x="1633.0" y="1965.5" font-size="25" text-anchor="middle" font-weight="bold"><tspan font-style="italic">in situ</tspan> HiC</text>
<text x="1633.0" y="1995.3" font-size="25" text-anchor="middle" font-weight="bold">Olfr1507+ cells</text>
<text x="57.5" y="843" font-size="29" text-anchor="middle" transform="rotate(-90 57.5 843)">Olfr16&#160;&#160;Region</text>
<text x="57.5" y="1462.5" font-size="29" text-anchor="middle" transform="rotate(-90 57.5 1462.5)">Olfr17&#160;&#160;Region</text>
<text x="57.5" y="2109" font-size="29" text-anchor="middle" transform="rotate(-90 57.5 2109)">Olfr1507&#160;&#160;Region</text>
<filter id="hicnoise" x="0" y="0" width="100%" height="100%"><feTurbulence type="fractalNoise" baseFrequency="0.45" numOctaves="2" seed="3" result="n"/><feColorMatrix in="n" type="matrix" values="0 0 0 0 0.86  0 0 0 0 0.3  0 0 0 0 0.26  0 0 0 -5 2.3"/></filter><clipPath id="ct1"><path d="M84.0 1005.0L408.0 681.0L732.0 1005.0Z"/></clipPath><filter id="st1" x="-30%" y="-30%" width="160%" height="160%"><feGaussianBlur stdDeviation="2.5"/></filter><g clip-path="url(#ct1)"><linearGradient id="gt1" x1="0" y1="681.0" x2="0" y2="1005.0" gradientUnits="userSpaceOnUse"><stop offset="0" stop-color="rgb(253, 243, 238)"/><stop offset="0.55" stop-color="rgb(252, 238, 232)"/><stop offset="0.8" stop-color="rgb(250, 229, 221)"/><stop offset="0.93" stop-color="rgb(249, 220, 210)"/><stop offset="1" stop-color="rgb(246, 205, 192)"/></linearGradient><rect x="84.0" y="681.0" width="648.0" height="324.0" fill="url(#gt1)"/><filter id="ft1" x="-20%" y="-20%" width="140%" height="140%"><feGaussianBlur stdDeviation="8"/></filter><g filter="url(#ft1)"><path d="M85.0 1005.0L205.0 885.0L325.0 1005.0Z" fill="rgb(244, 175, 155)" fill-opacity="0.25"/><path d="M325.0 1005.0L440.0 890.0L555.0 1005.0Z" fill="rgb(244, 185, 165)" fill-opacity="0.2"/><path d="M555.0 1005.0L645.0 915.0L735.0 1005.0Z" fill="rgb(244, 175, 155)" fill-opacity="0.25"/><path d="M348.4 870.0L405.0 813.4L461.6 870.0L405.0 926.6Z" fill="rgb(238, 150, 130)" fill-opacity="0.25"/><path d="M435.5 996.2L506.2 925.5L534.5 953.8L463.8 1024.5Z" fill="rgb(220, 80, 65)" fill-opacity="0.3"/></g><path d="M497.0 1005.0L312.0 820.0L314.5 820.0L499.5 1005.0Z" fill="#fff" fill-opacity="0.6"/><path d="M531.0 1005.0L411.0 885.0L413.5 885.0L533.5 1005.0Z" fill="#fff" fill-opacity="0.5"/><path d="M520.0 1005.0L610.0 915.0L612.5 915.0L522.5 1005.0Z" fill="#fff" fill-opacity="0.5"/><path d="M553.0 1005.0L628.0 930.0L630.5 930.0L555.5 1005.0Z" fill="#fff" fill-opacity="0.5"/><rect x="84.0" y="681.0" width="648.0" height="324.0" filter="url(#hicnoise)" opacity="0.2"/><linearGradient id="bt1" x1="0" y1="973.0" x2="0" y2="1005.0" gradientUnits="userSpaceOnUse"><stop offset="0" stop-color="rgb(248, 205, 190)" stop-opacity="0"/><stop offset="0.45" stop-color="rgb(240, 150, 125)" stop-opacity="0.6"/><stop offset="0.7" stop-color="rgb(222, 75, 58)" stop-opacity="0.9"/><stop offset="0.86" stop-color="rgb(165, 20, 30)" stop-opacity="1"/><stop offset="1" stop-color="rgb(110, 5, 20)" stop-opacity="1"/></linearGradient><rect x="84.0" y="973.0" width="648.0" height="32.0" fill="url(#bt1)"/><g filter="url(#st1)"><path d="M302.0 999.5L321.0 972.9L340.0 999.5Z" fill="rgb(215,60,50)" fill-opacity="0.50"/><path d="M680.8 999.5L715.0 965.3L749.2 999.5Z" fill="rgb(215,60,50)" fill-opacity="0.50"/><path d="M71.5 999.5L100.0 976.7L128.5 999.5Z" fill="rgb(215,60,50)" fill-opacity="0.40"/></g><path d="M311.0 999.5L321.0 985.5L331.0 999.5Z" fill="rgb(112,6,22)" fill-opacity="1.00"/><path d="M697.0 999.5L715.0 981.5L733.0 999.5Z" fill="rgb(112,6,22)" fill-opacity="1.00"/><path d="M85.0 999.5L100.0 987.5L115.0 999.5Z" fill="rgb(112,6,22)" fill-opacity="0.80"/><rect x="84.0" y="999.0" width="648.0" height="6.0" fill="rgb(105,4,20)"/><circle cx="363.4" cy="823.6" r="4.8" fill="rgb(230,90,75)" fill-opacity="0.32"/><circle cx="363.4" cy="823.6" r="2.2" fill="rgb(180, 20, 30)" fill-opacity="0.9"/><circle cx="465.4" cy="827.0" r="4.8" fill="rgb(230,90,75)" fill-opacity="0.32"/><circle cx="465.4" cy="827.0" r="2.2" fill="rgb(150, 10, 25)" fill-opacity="0.9"/><circle cx="467.5" cy="837.6" r="4.4" fill="rgb(230,90,75)" fill-opacity="0.28"/><circle cx="467.5" cy="837.6" r="2" fill="rgb(150, 10, 25)" fill-opacity="0.8"/><circle cx="480.0" cy="985.0" r="4.0" fill="rgb(230,90,75)" fill-opacity="0.32"/><circle cx="480.0" cy="985.0" r="1.8" fill="rgb(120, 0, 20)" fill-opacity="0.9"/><circle cx="492.0" cy="978.0" r="4.0" fill="rgb(230,90,75)" fill-opacity="0.32"/><circle cx="492.0" cy="978.0" r="1.8" fill="rgb(120, 0, 20)" fill-opacity="0.9"/><circle cx="505.0" cy="990.0" r="4.0" fill="rgb(230,90,75)" fill-opacity="0.32"/><circle cx="505.0" cy="990.0" r="1.8" fill="rgb(120, 0, 20)" fill-opacity="0.9"/><circle cx="470.0" cy="993.0" r="4.0" fill="rgb(230,90,75)" fill-opacity="0.28"/><circle cx="470.0" cy="993.0" r="1.8" fill="rgb(150, 10, 25)" fill-opacity="0.8"/><circle cx="515.0" cy="980.0" r="3.3" fill="rgb(230,90,75)" fill-opacity="0.28"/><circle cx="515.0" cy="980.0" r="1.5" fill="rgb(150, 10, 25)" fill-opacity="0.8"/><path d="M171 956h2.0v2.0h-2.0zM375 892h2.0v2.0h-2.0zM373 915h1.4v1.4h-1.4zM697 973h1.2v1.2h-1.2zM368 842h1.4v1.4h-1.4zM382 775h1.2v1.2h-1.2zM552 911h2.1v2.1h-2.1zM358 950h1.9v1.9h-1.9zM281 871h2.1v2.1h-2.1zM241 939h1.6v1.6h-1.6zM540 900h1.6v1.6h-1.6zM368 846h2.0v2.0h-2.0zM422 808h1.7v1.7h-1.7zM540 1000h1.8v1.8h-1.8zM409 999h2.0v2.0h-2.0zM434 960h1.4v1.4h-1.4zM417 990h1.8v1.8h-1.8zM382 768h1.7v1.7h-1.7zM592 947h2.1v2.1h-2.1zM564 943h1.7v1.7h-1.7zM448 819h1.3v1.3h-1.3zM398 797h1.5v1.5h-1.5zM433 883h1.8v1.8h-1.8zM463 960h2.0v2.0h-2.0zM601 946h1.5v1.5h-1.5zM489 793h1.3v1.3h-1.3zM545 828h1.5v1.5h-1.5zM334 817h1.4v1.4h-1.4zM154 973h1.7v1.7h-1.7zM219 877h2.0v2.0h-2.0zM179 914h1.4v1.4h-1.4zM541 901h1.7v1.7h-1.7zM227 997h2.0v2.0h-2.0zM419 753h1.8v1.8h-1.8zM340 868h1.5v1.5h-1.5zM277 995h2.1v2.1h-2.1zM283 959h1.5v1.5h-1.5zM354 763h1.2v1.2h-1.2zM615 993h1.8v1.8h-1.8zM195 962h2.2v2.2h-2.2zM540 846h1.6v1.6h-1.6zM521 821h1.4v1.4h-1.4zM276 843h1.5v1.5h-1.5zM649 972h1.2v1.2h-1.2zM521 952h2.1v2.1h-2.1zM307 967h1.9v1.9h-1.9zM398 1000h1.4v1.4h-1.4zM194 976h1.4v1.4h-1.4zM576 875h2.0v2.0h-2.0zM323 791h1.5v1.5h-1.5zM131 962h2.0v2.0h-2.0zM483 934h1.6v1.6h-1.6zM454 753h1.3v1.3h-1.3zM257 970h1.8v1.8h-1.8zM264 936h2.0v2.0h-2.0zM239 1001h1.6v1.6h-1.6zM240 922h1.3v1.3h-1.3zM393 713h1.9v1.9h-1.9zM471 827h1.5v1.5h-1.5zM125 977h2.2v2.2h-2.2zM223 881h2.2v2.2h-2.2zM436 904h1.9v1.9h-1.9zM252 856h1.5v1.5h-1.5zM266 1000h1.6v1.6h-1.6zM507 889h2.1v2.1h-2.1zM337 780h1.5v1.5h-1.5zM289 955h2.1v2.1h-2.1zM437 869h1.8v1.8h-1.8zM272 938h1.7v1.7h-1.7zM409 939h1.3v1.3h-1.3zM587 1000h2.0v2.0h-2.0zM417 979h1.5v1.5h-1.5zM289 974h2.0v2.0h-2.0zM672 953h1.9v1.9h-1.9zM364 732h1.9v1.9h-1.9zM126 993h2.0v2.0h-2.0zM440 856h2.1v2.1h-2.1zM378 809h1.5v1.5h-1.5zM503 816h1.8v1.8h-1.8zM252 950h1.6v1.6h-1.6zM344 879h1.4v1.4h-1.4zM409 891h1.6v1.6h-1.6zM529 918h1.4v1.4h-1.4zM405 836h1.4v1.4h-1.4zM351 863h2.1v2.1h-2.1zM580 967h1.5v1.5h-1.5zM533 956h1.6v1.6h-1.6zM538 920h1.8v1.8h-1.8zM639 971h2.2v2.2h-2.2zM454 738h1.5v1.5h-1.5zM526 913h1.5v1.5h-1.5zM418 734h1.9v1.9h-1.9zM110 999h2.0v2.0h-2.0zM491 768h2.1v2.1h-2.1zM587 954h1.9v1.9h-1.9zM538 825h2.1v2.1h-2.1zM166 975h2.2v2.2h-2.2zM476 952h1.4v1.4h-1.4zM269 857h1.5v1.5h-1.5zM464 762h1.9v1.9h-1.9zM597 943h2.2v2.2h-2.2zM437 840h2.1v2.1h-2.1zM582 866h1.6v1.6h-1.6zM568 858h2.2v2.2h-2.2zM577 996h1.3v1.3h-1.3zM408 867h1.5v1.5h-1.5zM410 797h1.7v1.7h-1.7zM375 780h1.6v1.6h-1.6zM591 902h1.7v1.7h-1.7zM504 803h1.4v1.4h-1.4zM472 967h2.0v2.0h-2.0zM415 1001h1.7v1.7h-1.7zM567 1001h1.5v1.5h-1.5zM428 797h1.2v1.2h-1.2zM336 819h1.6v1.6h-1.6zM560 972h1.9v1.9h-1.9zM403 923h1.8v1.8h-1.8zM504 885h1.6v1.6h-1.6zM492 886h2.1v2.1h-2.1zM591 955h2.0v2.0h-2.0zM543 964h1.7v1.7h-1.7zM183 951h1.7v1.7h-1.7zM415 922h1.6v1.6h-1.6zM314 894h1.2v1.2h-1.2zM413 988h1.9v1.9h-1.9zM344 904h1.8v1.8h-1.8zM423 800h1.7v1.7h-1.7zM507 912h2.0v2.0h-2.0zM259 879h1.4v1.4h-1.4zM448 737h2.0v2.0h-2.0zM228 993h1.9v1.9h-1.9zM289 821h2.0v2.0h-2.0zM477 766h1.7v1.7h-1.7zM549 914h1.5v1.5h-1.5zM403 713h1.4v1.4h-1.4zM612 993h1.8v1.8h-1.8zM306 952h1.3v1.3h-1.3zM343 841h1.6v1.6h-1.6zM460 750h1.9v1.9h-1.9zM298 873h2.1v2.1h-2.1zM601 959h1.5v1.5h-1.5zM332 869h2.1v2.1h-2.1zM343 966h2.0v2.0h-2.0zM183 977h1.2v1.2h-1.2zM628 975h1.2v1.2h-1.2zM567 904h2.0v2.0h-2.0zM514 807h1.8v1.8h-1.8zM311 877h1.8v1.8h-1.8zM422 701h1.6v1.6h-1.6zM351 746h2.1v2.1h-2.1zM359 896h1.9v1.9h-1.9zM566 915h2.0v2.0h-2.0zM247 997h1.4v1.4h-1.4zM679 958h2.1v2.1h-2.1zM324 1000h1.2v1.2h-1.2zM428 825h1.3v1.3h-1.3zM340 910h2.1v2.1h-2.1zM333 918h1.5v1.5h-1.5zM168 938h2.0v2.0h-2.0zM359 761h1.8v1.8h-1.8zM592 991h1.8v1.8h-1.8z" fill="rgb(220,80,70)" fill-opacity="0.3"/></g><path d="M84.0 1005.0L408.0 681.0L732.0 1005.0Z" fill="none" stroke="#111" stroke-width="1.7"/>
<path d="M354.0 806.6L323.0 777.3L345.0 786.6L352.7 764.5Z" fill="#231f20"/>
<path d="M472.6 809.1L469.6 767.5L479.3 788.8L499.4 778.1Z" fill="rgb(167,169,172)"/>
<clipPath id="ct2"><path d="M773.1 1005.0L1094.6 683.5L1416.1 1005.0Z"/></clipPath><filter id="st2" x="-30%" y="-30%" width="160%" height="160%"><feGaussianBlur stdDeviation="2.5"/></filter><g clip-path="url(#ct2)"><linearGradient id="gt2" x1="0" y1="683.5" x2="0" y2="1005.0" gradientUnits="userSpaceOnUse"><stop offset="0" stop-color="rgb(253, 243, 238)"/><stop offset="0.55" stop-color="rgb(252, 238, 232)"/><stop offset="0.8" stop-color="rgb(250, 229, 221)"/><stop offset="0.93" stop-color="rgb(249, 220, 210)"/><stop offset="1" stop-color="rgb(246, 205, 192)"/></linearGradient><rect x="773.1" y="683.5" width="643.0" height="321.5" fill="url(#gt2)"/><filter id="ft2" x="-20%" y="-20%" width="140%" height="140%"><feGaussianBlur stdDeviation="8"/></filter><g filter="url(#ft2)"><path d="M771.6 1005.0L891.6 885.0L1011.6 1005.0Z" fill="rgb(244, 175, 155)" fill-opacity="0.25"/><path d="M1011.6 1005.0L1126.6 890.0L1241.6 1005.0Z" fill="rgb(244, 185, 165)" fill-opacity="0.2"/><path d="M1241.6 1005.0L1331.6 915.0L1421.6 1005.0Z" fill="rgb(244, 175, 155)" fill-opacity="0.25"/><path d="M1019.8 875.6L1104.6 790.8L1168.2 854.4L1083.4 939.2Z" fill="rgb(238, 150, 130)" fill-opacity="0.18"/><path d="M1097.5 822.1L1154.1 765.5L1196.5 807.9L1139.9 864.5Z" fill="rgb(238, 150, 130)" fill-opacity="0.15"/></g><path d="M1026.0 1005.0L1216.0 815.0L1226.0 815.0L1036.0 1005.0Z" fill="#fff" fill-opacity="0.2"/><path d="M1160.0 1005.0L1280.0 885.0L1283.0 885.0L1163.0 1005.0Z" fill="#fff" fill-opacity="0.25"/><rect x="773.1" y="683.5" width="643.0" height="321.5" filter="url(#hicnoise)" opacity="0.2"/><linearGradient id="bt2" x1="0" y1="973.0" x2="0" y2="1005.0" gradientUnits="userSpaceOnUse"><stop offset="0" stop-color="rgb(248, 205, 190)" stop-opacity="0"/><stop offset="0.45" stop-color="rgb(240, 150, 125)" stop-opacity="0.6"/><stop offset="0.7" stop-color="rgb(222, 75, 58)" stop-opacity="0.9"/><stop offset="0.86" stop-color="rgb(165, 20, 30)" stop-opacity="1"/><stop offset="1" stop-color="rgb(110, 5, 20)" stop-opacity="1"/></linearGradient><rect x="773.1" y="973.0" width="643.0" height="32.0" fill="url(#bt2)"/><g filter="url(#st2)"><path d="M988.6 999.5L1007.6 972.9L1026.6 999.5Z" fill="rgb(215,60,50)" fill-opacity="0.50"/><path d="M1367.4 999.5L1401.6 965.3L1435.8 999.5Z" fill="rgb(215,60,50)" fill-opacity="0.50"/><path d="M758.1 999.5L786.6 976.7L815.1 999.5Z" fill="rgb(215,60,50)" fill-opacity="0.40"/></g><path d="M997.6 999.5L1007.6 985.5L1017.6 999.5Z" fill="rgb(112,6,22)" fill-opacity="1.00"/><path d="M1383.6 999.5L1401.6 981.5L1419.6 999.5Z" fill="rgb(112,6,22)" fill-opacity="1.00"/><path d="M771.6 999.5L786.6 987.5L801.6 999.5Z" fill="rgb(112,6,22)" fill-opacity="0.80"/><rect x="773.1" y="999.0" width="643.0" height="6.0" fill="rgb(105,4,20)"/><circle cx="1204.7" cy="837.9" r="5.1" fill="rgb(230,90,75)" fill-opacity="0.32"/><circle cx="1204.7" cy="837.9" r="2.3" fill="rgb(170, 20, 30)" fill-opacity="0.9"/><path d="M1388 988h1.3v1.3h-1.3zM1246 899h1.5v1.5h-1.5zM1163 879h1.8v1.8h-1.8zM1026 916h2.2v2.2h-2.2zM1059 770h1.2v1.2h-1.2zM978 806h2.1v2.1h-2.1zM1111 864h1.4v1.4h-1.4zM890 971h2.0v2.0h-2.0zM1245 975h2.0v2.0h-2.0zM877 926h1.9v1.9h-1.9zM1070 854h1.7v1.7h-1.7zM1341 973h1.7v1.7h-1.7zM1138 979h1.9v1.9h-1.9zM1086 755h1.5v1.5h-1.5zM1097 850h1.9v1.9h-1.9zM1151 784h1.4v1.4h-1.4zM1102 984h1.8v1.8h-1.8zM1240 975h1.4v1.4h-1.4zM919 965h1.3v1.3h-1.3zM1109 958h1.4v1.4h-1.4zM908 967h1.6v1.6h-1.6zM938 945h1.4v1.4h-1.4zM891 906h1.6v1.6h-1.6zM801 1002h1.4v1.4h-1.4zM1169 922h1.3v1.3h-1.3zM1062 930h1.9v1.9h-1.9zM1077 756h1.9v1.9h-1.9zM1061 965h1.3v1.3h-1.3zM1149 810h1.7v1.7h-1.7zM866 992h1.5v1.5h-1.5zM1163 818h1.2v1.2h-1.2zM1132 729h1.3v1.3h-1.3zM1100 1000h2.1v2.1h-2.1zM1059 764h1.8v1.8h-1.8zM1174 941h1.9v1.9h-1.9zM1072 783h1.8v1.8h-1.8zM910 975h2.2v2.2h-2.2zM1102 870h1.3v1.3h-1.3zM1042 852h1.4v1.4h-1.4zM1009 850h2.1v2.1h-2.1zM1166 777h2.2v2.2h-2.2zM970 954h1.9v1.9h-1.9zM1037 840h1.4v1.4h-1.4zM1141 809h1.7v1.7h-1.7zM825 957h1.8v1.8h-1.8zM1273 916h1.7v1.7h-1.7zM1003 830h2.0v2.0h-2.0zM946 853h1.7v1.7h-1.7zM1087 767h1.6v1.6h-1.6zM1210 979h1.8v1.8h-1.8zM1002 1004h1.3v1.3h-1.3zM828 971h2.2v2.2h-2.2zM1204 902h1.6v1.6h-1.6zM1110 720h1.7v1.7h-1.7zM1156 967h1.4v1.4h-1.4zM1101 839h1.6v1.6h-1.6zM1230 985h1.9v1.9h-1.9zM1077 993h1.5v1.5h-1.5zM1253 895h2.0v2.0h-2.0zM1173 813h1.9v1.9h-1.9zM1231 967h1.9v1.9h-1.9zM1163 975h2.1v2.1h-2.1zM838 946h2.0v2.0h-2.0zM901 923h1.8v1.8h-1.8zM896 942h1.3v1.3h-1.3zM1167 823h1.5v1.5h-1.5zM1137 834h1.4v1.4h-1.4zM945 845h1.2v1.2h-1.2zM885 925h2.0v2.0h-2.0zM1033 901h2.0v2.0h-2.0zM1072 778h1.2v1.2h-1.2zM1132 994h1.6v1.6h-1.6zM1119 806h1.6v1.6h-1.6zM1190 839h1.7v1.7h-1.7zM1189 939h1.9v1.9h-1.9zM1026 954h1.3v1.3h-1.3zM1180 809h1.7v1.7h-1.7zM1320 940h1.8v1.8h-1.8zM1067 758h1.5v1.5h-1.5zM1008 786h1.3v1.3h-1.3zM1067 737h1.6v1.6h-1.6zM961 971h2.1v2.1h-2.1zM1057 889h2.1v2.1h-2.1zM1209 804h1.6v1.6h-1.6zM1293 887h1.6v1.6h-1.6zM1338 981h1.7v1.7h-1.7zM1217 989h1.9v1.9h-1.9zM1256 963h2.1v2.1h-2.1zM1258 998h1.5v1.5h-1.5zM1173 899h1.6v1.6h-1.6zM1080 971h1.4v1.4h-1.4zM1004 979h2.1v2.1h-2.1zM1122 760h2.0v2.0h-2.0zM1024 775h1.8v1.8h-1.8zM1166 792h1.6v1.6h-1.6zM866 957h1.6v1.6h-1.6zM1109 955h1.5v1.5h-1.5zM1267 880h1.6v1.6h-1.6zM1078 883h1.5v1.5h-1.5zM1151 857h2.2v2.2h-2.2zM1065 816h1.7v1.7h-1.7zM970 940h1.2v1.2h-1.2zM1132 728h1.7v1.7h-1.7zM1109 903h2.1v2.1h-2.1zM1017 884h2.1v2.1h-2.1zM1099 978h1.4v1.4h-1.4zM841 946h1.8v1.8h-1.8zM964 822h1.6v1.6h-1.6zM1029 940h2.0v2.0h-2.0zM1135 835h1.5v1.5h-1.5zM1265 1001h1.4v1.4h-1.4zM1225 908h1.9v1.9h-1.9zM1146 891h1.8v1.8h-1.8zM1250 909h1.7v1.7h-1.7zM1302 952h1.8v1.8h-1.8zM1123 743h2.2v2.2h-2.2zM1071 777h1.4v1.4h-1.4zM1303 909h1.5v1.5h-1.5zM1038 817h1.9v1.9h-1.9zM1066 895h1.3v1.3h-1.3zM987 856h1.6v1.6h-1.6zM1111 981h1.4v1.4h-1.4zM1270 906h2.0v2.0h-2.0zM1061 830h1.5v1.5h-1.5zM1077 765h1.4v1.4h-1.4zM1079 745h1.7v1.7h-1.7zM1142 783h1.4v1.4h-1.4zM1162 960h1.4v1.4h-1.4zM1169 895h2.1v2.1h-2.1zM906 953h1.5v1.5h-1.5zM1056 818h2.0v2.0h-2.0zM1163 804h1.3v1.3h-1.3zM1151 977h1.8v1.8h-1.8zM1092 941h2.1v2.1h-2.1zM904 910h2.1v2.1h-2.1zM1153 909h1.7v1.7h-1.7zM1025 824h2.2v2.2h-2.2zM1025 836h1.6v1.6h-1.6zM1116 946h1.3v1.3h-1.3zM1031 849h1.3v1.3h-1.3zM1101 851h2.0v2.0h-2.0zM1147 910h1.9v1.9h-1.9zM1081 725h1.3v1.3h-1.3zM980 856h1.8v1.8h-1.8zM1189 987h1.3v1.3h-1.3zM1204 824h1.3v1.3h-1.3zM973 896h1.7v1.7h-1.7zM992 980h1.8v1.8h-1.8zM1007 988h1.8v1.8h-1.8z" fill="rgb(220,80,70)" fill-opacity="0.3"/></g><path d="M773.1 1005.0L1094.6 683.5L1416.1 1005.0Z" fill="none" stroke="#111" stroke-width="1.7"/>
<clipPath id="ct3"><path d="M1452.5 1004.5L1775.5 681.5L2098.5 1004.5Z"/></clipPath><filter id="st3" x="-30%" y="-30%" width="160%" height="160%"><feGaussianBlur stdDeviation="2.5"/></filter><g clip-path="url(#ct3)"><linearGradient id="gt3" x1="0" y1="681.5" x2="0" y2="1004.5" gradientUnits="userSpaceOnUse"><stop offset="0" stop-color="rgb(253, 243, 238)"/><stop offset="0.55" stop-color="rgb(252, 238, 232)"/><stop offset="0.8" stop-color="rgb(250, 229, 221)"/><stop offset="0.93" stop-color="rgb(249, 220, 210)"/><stop offset="1" stop-color="rgb(246, 205, 192)"/></linearGradient><rect x="1452.5" y="681.5" width="646.0" height="323.0" fill="url(#gt3)"/><filter id="ft3" x="-20%" y="-20%" width="140%" height="140%"><feGaussianBlur stdDeviation="8"/></filter><g filter="url(#ft3)"><path d="M1452.5 1004.5L1572.5 884.5L1692.5 1004.5Z" fill="rgb(244, 175, 155)" fill-opacity="0.25"/><path d="M1692.5 1004.5L1807.5 889.5L1922.5 1004.5Z" fill="rgb(244, 185, 165)" fill-opacity="0.2"/><path d="M1922.5 1004.5L2012.5 914.5L2102.5 1004.5Z" fill="rgb(244, 175, 155)" fill-opacity="0.25"/><path d="M1724.8 859.4L1781.4 802.8L1835.2 856.6L1778.6 913.2Z" fill="rgb(232, 130, 110)" fill-opacity="0.3"/><path d="M1783.1 823.5L1825.5 781.1L1860.9 816.5L1818.5 858.9Z" fill="rgb(238, 150, 130)" fill-opacity="0.2"/></g><path d="M1707.0 1004.5L1897.0 814.5L1907.0 814.5L1717.0 1004.5Z" fill="#fff" fill-opacity="0.2"/><rect x="1452.5" y="681.5" width="646.0" height="323.0" filter="url(#hicnoise)" opacity="0.2"/><linearGradient id="bt3" x1="0" y1="972.5" x2="0" y2="1004.5" gradientUnits="userSpaceOnUse"><stop offset="0" stop-color="rgb(248, 205, 190)" stop-opacity="0"/><stop offset="0.45" stop-color="rgb(240, 150, 125)" stop-opacity="0.6"/><stop offset="0.7" stop-color="rgb(222, 75, 58)" stop-opacity="0.9"/><stop offset="0.86" stop-color="rgb(165, 20, 30)" stop-opacity="1"/><stop offset="1" stop-color="rgb(110, 5, 20)" stop-opacity="1"/></linearGradient><rect x="1452.5" y="972.5" width="646.0" height="32.0" fill="url(#bt3)"/><g filter="url(#st3)"><path d="M1669.5 999.0L1688.5 972.4L1707.5 999.0Z" fill="rgb(215,60,50)" fill-opacity="0.50"/><path d="M2048.3 999.0L2082.5 964.8L2116.7 999.0Z" fill="rgb(215,60,50)" fill-opacity="0.50"/><path d="M1439.0 999.0L1467.5 976.2L1496.0 999.0Z" fill="rgb(215,60,50)" fill-opacity="0.40"/><path d="M1891.5 999.0L1920.0 976.2L1948.5 999.0Z" fill="rgb(215,60,50)" fill-opacity="0.35"/></g><path d="M1678.5 999.0L1688.5 985.0L1698.5 999.0Z" fill="rgb(112,6,22)" fill-opacity="1.00"/><path d="M2064.5 999.0L2082.5 981.0L2100.5 999.0Z" fill="rgb(112,6,22)" fill-opacity="1.00"/><path d="M1452.5 999.0L1467.5 987.0L1482.5 999.0Z" fill="rgb(112,6,22)" fill-opacity="0.80"/><path d="M1905.0 999.0L1920.0 987.0L1935.0 999.0Z" fill="rgb(112,6,22)" fill-opacity="0.70"/><rect x="1452.5" y="998.5" width="646.0" height="6.0" fill="rgb(105,4,20)"/><circle cx="1886.7" cy="837.7" r="5.1" fill="rgb(230,90,75)" fill-opacity="0.32"/><circle cx="1886.7" cy="837.7" r="2.3" fill="rgb(170, 20, 30)" fill-opacity="0.9"/><path d="M1606 857h1.6v1.6h-1.6zM1843 884h1.3v1.3h-1.3zM1863 962h1.7v1.7h-1.7zM1931 898h1.3v1.3h-1.3zM1942 872h1.5v1.5h-1.5zM1758 914h2.1v2.1h-2.1zM1914 979h1.6v1.6h-1.6zM2057 965h1.3v1.3h-1.3zM1857 779h1.7v1.7h-1.7zM1702 795h1.8v1.8h-1.8zM1830 974h1.9v1.9h-1.9zM1558 959h2.2v2.2h-2.2zM2004 1001h1.3v1.3h-1.3zM1949 963h1.2v1.2h-1.2zM2022 998h1.7v1.7h-1.7zM1716 879h1.4v1.4h-1.4zM1655 991h2.1v2.1h-2.1zM1697 830h1.7v1.7h-1.7zM1868 874h1.8v1.8h-1.8zM1853 985h1.7v1.7h-1.7zM1731 914h1.4v1.4h-1.4zM1647 997h1.7v1.7h-1.7zM1721 869h1.2v1.2h-1.2zM1850 886h1.3v1.3h-1.3zM1858 832h1.9v1.9h-1.9zM1680 910h1.9v1.9h-1.9zM1889 993h1.5v1.5h-1.5zM1747 873h1.5v1.5h-1.5zM1688 782h1.6v1.6h-1.6zM1837 779h1.6v1.6h-1.6zM1820 919h1.5v1.5h-1.5zM1596 941h1.4v1.4h-1.4zM1670 892h2.1v2.1h-2.1zM1744 754h1.3v1.3h-1.3zM1795 743h2.0v2.0h-2.0zM1632 942h1.8v1.8h-1.8zM1676 816h1.6v1.6h-1.6zM1717 979h1.4v1.4h-1.4zM2021 1000h1.6v1.6h-1.6zM2066 981h1.4v1.4h-1.4zM1934 952h1.9v1.9h-1.9zM1788 775h1.5v1.5h-1.5zM1833 774h2.0v2.0h-2.0zM1901 980h2.1v2.1h-2.1zM1881 851h1.6v1.6h-1.6zM1964 979h2.0v2.0h-2.0zM1859 960h1.2v1.2h-1.2zM1793 818h1.7v1.7h-1.7zM1679 890h1.8v1.8h-1.8zM1811 913h1.6v1.6h-1.6zM1694 877h2.0v2.0h-2.0zM1698 940h1.8v1.8h-1.8zM1731 802h1.7v1.7h-1.7zM1907 817h1.9v1.9h-1.9zM1750 761h1.7v1.7h-1.7zM1727 819h2.1v2.1h-2.1zM1532 944h1.9v1.9h-1.9zM2026 937h1.9v1.9h-1.9zM1926 864h1.3v1.3h-1.3zM1545 932h1.2v1.2h-1.2zM1531 954h1.9v1.9h-1.9zM1993 989h1.8v1.8h-1.8zM1936 983h1.3v1.3h-1.3zM1662 864h2.0v2.0h-2.0zM1614 880h2.0v2.0h-2.0zM1707 800h1.6v1.6h-1.6zM1679 817h1.3v1.3h-1.3zM1776 996h1.6v1.6h-1.6zM1899 926h1.9v1.9h-1.9zM1787 838h1.8v1.8h-1.8zM1739 914h1.4v1.4h-1.4zM1831 783h1.4v1.4h-1.4zM1899 989h1.5v1.5h-1.5zM1685 786h2.0v2.0h-2.0zM1545 1002h1.7v1.7h-1.7zM1839 833h2.0v2.0h-2.0zM1763 914h2.1v2.1h-2.1zM1711 918h2.2v2.2h-2.2zM1754 756h1.4v1.4h-1.4zM1916 900h2.2v2.2h-2.2zM1573 909h2.1v2.1h-2.1zM1726 917h1.3v1.3h-1.3zM1512 951h1.5v1.5h-1.5zM1683 869h1.9v1.9h-1.9zM1734 838h1.4v1.4h-1.4zM1830 990h1.6v1.6h-1.6zM1804 720h1.5v1.5h-1.5zM2026 975h1.3v1.3h-1.3zM1951 926h1.5v1.5h-1.5zM1889 893h2.0v2.0h-2.0zM1624 925h2.2v2.2h-2.2zM1887 855h1.3v1.3h-1.3zM1772 795h1.9v1.9h-1.9zM1891 864h1.4v1.4h-1.4zM1870 885h1.4v1.4h-1.4zM1532 982h1.3v1.3h-1.3zM1667 914h1.8v1.8h-1.8zM1811 891h1.7v1.7h-1.7zM1940 857h1.9v1.9h-1.9zM1700 963h1.2v1.2h-1.2zM1779 761h2.0v2.0h-2.0zM1681 789h1.6v1.6h-1.6zM1802 931h1.6v1.6h-1.6zM1933 945h1.9v1.9h-1.9zM1793 865h1.4v1.4h-1.4zM1614 934h1.2v1.2h-1.2zM1971 969h2.1v2.1h-2.1zM1700 860h1.8v1.8h-1.8zM1862 997h1.9v1.9h-1.9zM1646 959h1.7v1.7h-1.7zM1841 916h1.2v1.2h-1.2zM1950 895h1.7v1.7h-1.7zM1791 830h1.4v1.4h-1.4zM1776 890h1.6v1.6h-1.6zM1818 991h2.1v2.1h-2.1zM1540 937h1.8v1.8h-1.8zM1801 982h1.5v1.5h-1.5zM1539 959h1.8v1.8h-1.8zM1974 982h2.1v2.1h-2.1zM1735 926h1.7v1.7h-1.7zM1904 855h1.6v1.6h-1.6zM1753 926h1.6v1.6h-1.6zM1569 972h1.9v1.9h-1.9zM1690 801h1.7v1.7h-1.7zM1838 754h1.2v1.2h-1.2zM1588 934h1.3v1.3h-1.3zM1750 745h1.4v1.4h-1.4zM1769 701h1.2v1.2h-1.2zM1742 813h1.9v1.9h-1.9zM1630 936h1.7v1.7h-1.7zM1893 995h1.8v1.8h-1.8zM1875 972h1.4v1.4h-1.4zM1972 978h2.1v2.1h-2.1zM1845 987h1.3v1.3h-1.3zM1642 956h1.3v1.3h-1.3zM1704 789h1.9v1.9h-1.9zM1930 919h2.0v2.0h-2.0zM1810 980h1.6v1.6h-1.6zM1720 756h2.0v2.0h-2.0zM1763 769h1.4v1.4h-1.4zM1918 877h1.9v1.9h-1.9zM1702 839h1.4v1.4h-1.4zM1754 926h1.9v1.9h-1.9zM2020 963h1.6v1.6h-1.6zM1668 801h1.3v1.3h-1.3zM1710 990h1.3v1.3h-1.3zM1601 994h1.4v1.4h-1.4zM1816 817h2.0v2.0h-2.0zM1843 936h1.7v1.7h-1.7zM1753 753h2.0v2.0h-2.0zM1850 889h2.0v2.0h-2.0zM1842 825h1.3v1.3h-1.3zM1801 831h1.9v1.9h-1.9z" fill="rgb(220,80,70)" fill-opacity="0.3"/></g><path d="M1452.5 1004.5L1775.5 681.5L2098.5 1004.5Z" fill="none" stroke="#111" stroke-width="1.7"/>
<clipPath id="ct4"><path d="M98.7 1625.0L420.7 1303.0L742.7 1625.0Z"/></clipPath><filter id="st4" x="-30%" y="-30%" width="160%" height="160%"><feGaussianBlur stdDeviation="2.5"/></filter><g clip-path="url(#ct4)"><linearGradient id="gt4" x1="0" y1="1303.0" x2="0" y2="1625.0" gradientUnits="userSpaceOnUse"><stop offset="0" stop-color="rgb(253, 243, 238)"/><stop offset="0.55" stop-color="rgb(252, 238, 232)"/><stop offset="0.8" stop-color="rgb(250, 229, 221)"/><stop offset="0.93" stop-color="rgb(249, 220, 210)"/><stop offset="1" stop-color="rgb(246, 205, 192)"/></linearGradient><rect x="98.7" y="1303.0" width="644.0" height="322.0" fill="url(#gt4)"/><filter id="ft4" x="-20%" y="-20%" width="140%" height="140%"><feGaussianBlur stdDeviation="7"/></filter><g filter="url(#ft4)"><path d="M97.7 1625.0L202.7 1520.0L307.7 1625.0Z" fill="rgb(236, 120, 100)" fill-opacity="0.5"/><path d="M322.7 1625.0L420.2 1527.5L517.7 1625.0Z" fill="rgb(236, 130, 110)" fill-opacity="0.45"/><path d="M517.7 1625.0L632.7 1510.0L747.7 1625.0Z" fill="rgb(236, 130, 110)" fill-opacity="0.4"/><path d="M527.7 1625.0L592.7 1560.0L657.7 1625.0Z" fill="rgb(232, 110, 90)" fill-opacity="0.3"/><path d="M402.0 1532.9L465.6 1469.3L543.4 1547.1L479.8 1610.7Z" fill="rgb(236, 140, 120)" fill-opacity="0.3"/><path d="M507.6 1546.5L564.2 1489.9L627.8 1553.5L571.2 1610.1Z" fill="rgb(236, 140, 120)" fill-opacity="0.28"/><path d="M453.3 1462.0L495.7 1419.6L538.1 1462.0L495.7 1504.4Z" fill="rgb(236, 140, 120)" fill-opacity="0.3"/></g><linearGradient id="dt4" x1="0" y1="1545.0" x2="0" y2="1625.0" gradientUnits="userSpaceOnUse"><stop offset="0" stop-color="rgb(240,160,140)" stop-opacity="0.12"/><stop offset="0.6" stop-color="rgb(236,135,115)" stop-opacity="0.35"/><stop offset="0.82" stop-color="rgb(220,80,65)" stop-opacity="0.65"/><stop offset="0.93" stop-color="rgb(180,30,35)" stop-opacity="0.9"/><stop offset="1" stop-color="rgb(120,8,22)" stop-opacity="1"/></linearGradient><path d="M97.7 1625.0L120.1 1602.6L142.4 1625.0Z" fill="url(#dt4)" fill-opacity="0.7516726942796699"/><path d="M133.0 1625.0L151.7 1606.4L170.3 1625.0Z" fill="url(#dt4)" fill-opacity="0.7415268594494882"/><path d="M160.1 1625.0L184.7 1600.4L209.2 1625.0Z" fill="url(#dt4)" fill-opacity="0.577540512229303"/><path d="M187.5 1625.0L207.6 1604.9L227.7 1625.0Z" fill="url(#dt4)" fill-opacity="0.7365987990415961"/><path d="M212.2 1625.0L234.2 1603.0L256.2 1625.0Z" fill="url(#dt4)" fill-opacity="0.6293587726364375"/><path d="M245.7 1625.0L274.8 1595.9L303.9 1625.0Z" fill="url(#dt4)" fill-opacity="0.6503977342276674"/><path d="M292.3 1625.0L300.0 1617.3L307.7 1625.0Z" fill="url(#dt4)" fill-opacity="0.753152250110404"/><path d="M527.7 1625.0L544.1 1608.6L560.5 1625.0Z" fill="url(#dt4)" fill-opacity="0.7263921538979877"/><path d="M550.3 1625.0L579.6 1595.7L608.9 1625.0Z" fill="url(#dt4)" fill-opacity="0.6025025023725556"/><path d="M590.5 1625.0L618.6 1596.9L646.7 1625.0Z" fill="url(#dt4)" fill-opacity="0.7096932952649492"/><path d="M625.7 1625.0L641.0 1609.7L656.4 1625.0Z" fill="url(#dt4)" fill-opacity="0.7849440117529288"/><path d="M646.2 1625.0L676.1 1595.1L706.1 1625.0Z" fill="url(#dt4)" fill-opacity="0.5854017851550339"/><path d="M691.3 1625.0L717.5 1598.8L743.7 1625.0Z" fill="url(#dt4)" fill-opacity="0.7799937556244101"/><path d="M721.3 1625.0L732.5 1613.8L743.7 1625.0Z" fill="url(#dt4)" fill-opacity="0.5629172483400989"/><path d="M322.7 1625.0L375.2 1572.5L427.7 1625.0Z" fill="url(#dt4)" fill-opacity="0.35"/><path d="M397.7 1625.0L457.7 1565.0L517.7 1625.0Z" fill="url(#dt4)" fill-opacity="0.35"/><path d="M577.7 1625.0L617.7 1585.0L657.7 1625.0Z" fill="url(#dt4)" fill-opacity="0.8"/><path d="M597.7 1625.0L617.7 1605.0L637.7 1625.0Z" fill="url(#dt4)" fill-opacity="0.9"/><path d="M506.7 1625.0L374.7 1493.0L385.7 1493.0L517.7 1625.0Z" fill="#fff" fill-opacity="0.85"/><path d="M499.7 1625.0L367.7 1493.0L370.7 1493.0L502.7 1625.0Z" fill="#fff" fill-opacity="0.35"/><path d="M521.7 1625.0L621.7 1525.0L631.7 1525.0L531.7 1625.0Z" fill="#fff" fill-opacity="0.85"/><rect x="98.7" y="1303.0" width="644.0" height="322.0" filter="url(#hicnoise)" opacity="0.2"/><linearGradient id="bt4" x1="0" y1="1585.0" x2="0" y2="1625.0" gradientUnits="userSpaceOnUse"><stop offset="0" stop-color="rgb(248, 205, 190)" stop-opacity="0"/><stop offset="0.45" stop-color="rgb(240, 150, 125)" stop-opacity="0.6"/><stop offset="0.7" stop-color="rgb(222, 75, 58)" stop-opacity="0.9"/><stop offset="0.86" stop-color="rgb(165, 20, 30)" stop-opacity="1"/><stop offset="1" stop-color="rgb(110, 5, 20)" stop-opacity="1"/></linearGradient><rect x="98.7" y="1585.0" width="644.0" height="40.0" fill="url(#bt4)"/><g filter="url(#st4)"><path d="M86.7 1616.5L114.1 1589.1L141.5 1616.5Z" fill="rgb(215,60,50)" fill-opacity="0.46"/><path d="M112.7 1616.5L135.9 1593.3L159.2 1616.5Z" fill="rgb(215,60,50)" fill-opacity="0.49"/><path d="M133.0 1616.5L161.4 1588.2L189.7 1616.5Z" fill="rgb(215,60,50)" fill-opacity="0.44"/><path d="M158.9 1616.5L183.5 1591.9L208.2 1616.5Z" fill="rgb(215,60,50)" fill-opacity="0.44"/><path d="M180.7 1616.5L213.0 1584.2L245.2 1616.5Z" fill="rgb(215,60,50)" fill-opacity="0.43"/><path d="M214.9 1616.5L242.7 1588.7L270.5 1616.5Z" fill="rgb(215,60,50)" fill-opacity="0.45"/><path d="M235.4 1616.5L264.0 1587.9L292.6 1616.5Z" fill="rgb(215,60,50)" fill-opacity="0.46"/><path d="M262.9 1616.5L289.0 1590.4L315.1 1616.5Z" fill="rgb(215,60,50)" fill-opacity="0.43"/><path d="M302.3 1616.5L302.5 1616.2L302.8 1616.5Z" fill="rgb(215,60,50)" fill-opacity="0.50"/><path d="M314.7 1616.5L331.6 1601.3L348.5 1616.5Z" fill="rgb(215,60,50)" fill-opacity="0.26"/><path d="M331.3 1616.5L345.7 1603.6L360.1 1616.5Z" fill="rgb(215,60,50)" fill-opacity="0.18"/><path d="M342.2 1616.5L357.6 1602.7L373.0 1616.5Z" fill="rgb(215,60,50)" fill-opacity="0.28"/><path d="M355.2 1616.5L373.1 1600.4L390.9 1616.5Z" fill="rgb(215,60,50)" fill-opacity="0.24"/><path d="M373.1 1616.5L387.5 1603.5L401.9 1616.5Z" fill="rgb(215,60,50)" fill-opacity="0.23"/><path d="M380.4 1616.5L400.6 1598.3L420.8 1616.5Z" fill="rgb(215,60,50)" fill-opacity="0.18"/><path d="M403.1 1616.5L417.0 1604.0L430.9 1616.5Z" fill="rgb(215,60,50)" fill-opacity="0.26"/><path d="M412.7 1616.5L429.1 1601.8L445.4 1616.5Z" fill="rgb(215,60,50)" fill-opacity="0.28"/><path d="M424.4 1616.5L438.2 1604.1L451.9 1616.5Z" fill="rgb(215,60,50)" fill-opacity="0.29"/><path d="M435.9 1616.5L449.9 1603.9L463.9 1616.5Z" fill="rgb(215,60,50)" fill-opacity="0.30"/><path d="M450.3 1616.5L464.4 1603.8L478.6 1616.5Z" fill="rgb(215,60,50)" fill-opacity="0.23"/><path d="M459.3 1616.5L475.0 1602.4L490.6 1616.5Z" fill="rgb(215,60,50)" fill-opacity="0.25"/><path d="M470.9 1616.5L485.2 1603.7L499.5 1616.5Z" fill="rgb(215,60,50)" fill-opacity="0.18"/><path d="M489.9 1616.5L491.7 1614.9L493.6 1616.5Z" fill="rgb(215,60,50)" fill-opacity="0.23"/><path d="M611.3 1616.5L635.4 1592.3L659.6 1616.5Z" fill="rgb(215,60,50)" fill-opacity="0.46"/><path d="M635.8 1616.5L660.2 1592.2L684.5 1616.5Z" fill="rgb(215,60,50)" fill-opacity="0.45"/><path d="M658.7 1616.5L679.8 1595.4L700.9 1616.5Z" fill="rgb(215,60,50)" fill-opacity="0.45"/><path d="M674.4 1616.5L702.4 1588.5L730.4 1616.5Z" fill="rgb(215,60,50)" fill-opacity="0.41"/><path d="M699.5 1616.5L719.5 1596.5L739.5 1616.5Z" fill="rgb(215,60,50)" fill-opacity="0.48"/><path d="M720.1 1616.5L735.6 1601.1L751.0 1616.5Z" fill="rgb(215,60,50)" fill-opacity="0.50"/><path d="M257.1 1616.5L283.7 1587.2L310.3 1616.5Z" fill="rgb(215,60,50)" fill-opacity="0.50"/><path d="M580.7 1616.5L599.7 1574.7L618.7 1616.5Z" fill="rgb(215,60,50)" fill-opacity="0.50"/><path d="M619.6 1616.5L636.7 1599.4L653.8 1616.5Z" fill="rgb(215,60,50)" fill-opacity="0.50"/></g><path d="M99.7 1616.5L114.1 1602.1L128.6 1616.5Z" fill="rgb(112,6,22)" fill-opacity="0.91"/><path d="M123.7 1616.5L135.9 1604.3L148.2 1616.5Z" fill="rgb(112,6,22)" fill-opacity="0.97"/><path d="M146.4 1616.5L161.4 1601.6L176.3 1616.5Z" fill="rgb(112,6,22)" fill-opacity="0.87"/><path d="M170.6 1616.5L183.5 1603.5L196.5 1616.5Z" fill="rgb(112,6,22)" fill-opacity="0.89"/><path d="M196.0 1616.5L213.0 1599.5L230.0 1616.5Z" fill="rgb(112,6,22)" fill-opacity="0.86"/><path d="M228.1 1616.5L242.7 1601.9L257.3 1616.5Z" fill="rgb(112,6,22)" fill-opacity="0.91"/><path d="M248.9 1616.5L264.0 1601.5L279.0 1616.5Z" fill="rgb(112,6,22)" fill-opacity="0.92"/><path d="M275.2 1616.5L289.0 1602.8L302.7 1616.5Z" fill="rgb(112,6,22)" fill-opacity="0.87"/><path d="M302.4 1616.5L302.5 1616.3L302.7 1616.5Z" fill="rgb(112,6,22)" fill-opacity="1.00"/><path d="M322.7 1616.5L331.6 1608.5L340.5 1616.5Z" fill="rgb(112,6,22)" fill-opacity="0.51"/><path d="M338.1 1616.5L345.7 1609.7L353.3 1616.5Z" fill="rgb(112,6,22)" fill-opacity="0.35"/><path d="M349.5 1616.5L357.6 1609.2L365.7 1616.5Z" fill="rgb(112,6,22)" fill-opacity="0.55"/><path d="M363.7 1616.5L373.1 1608.0L382.5 1616.5Z" fill="rgb(112,6,22)" fill-opacity="0.49"/><path d="M379.9 1616.5L387.5 1609.7L395.1 1616.5Z" fill="rgb(112,6,22)" fill-opacity="0.46"/><path d="M390.0 1616.5L400.6 1606.9L411.3 1616.5Z" fill="rgb(112,6,22)" fill-opacity="0.36"/><path d="M409.7 1616.5L417.0 1609.9L424.3 1616.5Z" fill="rgb(112,6,22)" fill-opacity="0.52"/><path d="M420.4 1616.5L429.1 1608.7L437.7 1616.5Z" fill="rgb(112,6,22)" fill-opacity="0.56"/><path d="M430.9 1616.5L438.2 1610.0L445.4 1616.5Z" fill="rgb(112,6,22)" fill-opacity="0.58"/><path d="M442.6 1616.5L449.9 1609.9L457.3 1616.5Z" fill="rgb(112,6,22)" fill-opacity="0.60"/><path d="M457.0 1616.5L464.4 1609.8L471.9 1616.5Z" fill="rgb(112,6,22)" fill-opacity="0.46"/><path d="M466.7 1616.5L475.0 1609.1L483.2 1616.5Z" fill="rgb(112,6,22)" fill-opacity="0.51"/><path d="M477.7 1616.5L485.2 1609.7L492.7 1616.5Z" fill="rgb(112,6,22)" fill-opacity="0.36"/><path d="M490.8 1616.5L491.7 1615.6L492.7 1616.5Z" fill="rgb(112,6,22)" fill-opacity="0.45"/><path d="M622.7 1616.5L635.4 1603.8L648.1 1616.5Z" fill="rgb(112,6,22)" fill-opacity="0.91"/><path d="M647.4 1616.5L660.2 1603.7L672.9 1616.5Z" fill="rgb(112,6,22)" fill-opacity="0.90"/><path d="M668.7 1616.5L679.8 1605.4L690.9 1616.5Z" fill="rgb(112,6,22)" fill-opacity="0.90"/><path d="M687.6 1616.5L702.4 1601.7L717.2 1616.5Z" fill="rgb(112,6,22)" fill-opacity="0.82"/><path d="M708.9 1616.5L719.5 1606.0L730.0 1616.5Z" fill="rgb(112,6,22)" fill-opacity="0.96"/><path d="M727.4 1616.5L735.6 1608.4L743.7 1616.5Z" fill="rgb(112,6,22)" fill-opacity="1.00"/><path d="M269.7 1616.5L283.7 1601.1L297.7 1616.5Z" fill="rgb(112,6,22)" fill-opacity="1.00"/><path d="M589.7 1616.5L599.7 1594.5L609.7 1616.5Z" fill="rgb(112,6,22)" fill-opacity="1.00"/><path d="M627.7 1616.5L636.7 1607.5L645.7 1616.5Z" fill="rgb(112,6,22)" fill-opacity="1.00"/><rect x="98.7" y="1616.0" width="644.0" height="9.0" fill="rgb(105,4,20)"/><circle cx="410.0" cy="1350.7" r="6.2" fill="rgb(230,90,75)" fill-opacity="0.33"/><circle cx="410.0" cy="1350.7" r="2.8" fill="rgb(150, 10, 25)" fill-opacity="0.95"/><circle cx="494.3" cy="1437.9" r="6.2" fill="rgb(230,90,75)" fill-opacity="0.33"/><circle cx="494.3" cy="1437.9" r="2.8" fill="rgb(150, 10, 25)" fill-opacity="0.95"/><circle cx="496.0" cy="1444.0" r="4.8" fill="rgb(230,90,75)" fill-opacity="0.28"/><circle cx="496.0" cy="1444.0" r="2.2" fill="rgb(170, 20, 30)" fill-opacity="0.8"/><circle cx="221.0" cy="1539.9" r="5.7" fill="rgb(230,90,75)" fill-opacity="0.33"/><circle cx="221.0" cy="1539.9" r="2.6" fill="rgb(130, 5, 20)" fill-opacity="0.95"/><path d="M444 1392h1.4v1.4h-1.4zM618 1561h1.4v1.4h-1.4zM298 1505h1.9v1.9h-1.9zM649 1586h1.3v1.3h-1.3zM489 1519h1.7v1.7h-1.7zM156 1604h2.1v2.1h-2.1zM451 1400h2.1v2.1h-2.1zM467 1587h2.0v2.0h-2.0zM426 1436h1.8v1.8h-1.8zM376 1355h1.5v1.5h-1.5zM279 1475h1.7v1.7h-1.7zM319 1624h1.4v1.4h-1.4zM365 1368h1.8v1.8h-1.8zM458 1594h1.3v1.3h-1.3zM591 1501h1.4v1.4h-1.4zM548 1591h2.2v2.2h-2.2zM572 1612h1.2v1.2h-1.2zM285 1614h2.0v2.0h-2.0zM363 1607h1.8v1.8h-1.8zM208 1555h1.6v1.6h-1.6zM259 1624h1.3v1.3h-1.3zM440 1552h1.6v1.6h-1.6zM259 1589h2.0v2.0h-2.0zM420 1313h1.5v1.5h-1.5zM248 1583h1.3v1.3h-1.3zM132 1602h1.8v1.8h-1.8zM608 1543h1.7v1.7h-1.7zM661 1593h2.1v2.1h-2.1zM315 1515h2.0v2.0h-2.0zM512 1565h1.7v1.7h-1.7zM520 1524h1.5v1.5h-1.5zM693 1611h1.3v1.3h-1.3zM724 1613h1.9v1.9h-1.9zM181 1615h1.9v1.9h-1.9zM508 1486h1.9v1.9h-1.9zM173 1564h2.0v2.0h-2.0zM402 1473h1.2v1.2h-1.2zM414 1581h1.8v1.8h-1.8zM449 1426h2.0v2.0h-2.0zM412 1614h1.3v1.3h-1.3zM378 1579h2.0v2.0h-2.0zM142 1587h1.4v1.4h-1.4zM293 1572h1.6v1.6h-1.6zM317 1477h2.1v2.1h-2.1zM300 1478h1.7v1.7h-1.7zM560 1459h1.3v1.3h-1.3zM257 1576h1.6v1.6h-1.6zM592 1620h1.8v1.8h-1.8zM535 1499h1.5v1.5h-1.5zM657 1556h1.8v1.8h-1.8zM383 1348h2.0v2.0h-2.0zM332 1516h1.3v1.3h-1.3zM470 1416h1.8v1.8h-1.8zM520 1408h1.5v1.5h-1.5zM615 1563h2.2v2.2h-2.2zM418 1488h2.1v2.1h-2.1zM588 1615h1.3v1.3h-1.3zM518 1520h1.9v1.9h-1.9zM497 1571h1.5v1.5h-1.5zM484 1592h1.9v1.9h-1.9zM309 1505h2.2v2.2h-2.2zM357 1566h1.5v1.5h-1.5zM545 1501h1.6v1.6h-1.6zM726 1621h2.1v2.1h-2.1zM488 1404h1.3v1.3h-1.3zM696 1590h2.0v2.0h-2.0zM291 1608h1.4v1.4h-1.4zM608 1522h1.7v1.7h-1.7zM436 1354h1.3v1.3h-1.3zM570 1514h2.2v2.2h-2.2zM459 1526h1.9v1.9h-1.9zM454 1465h1.4v1.4h-1.4zM351 1523h2.1v2.1h-2.1zM310 1428h1.6v1.6h-1.6zM645 1568h1.4v1.4h-1.4zM455 1456h1.9v1.9h-1.9zM218 1569h2.2v2.2h-2.2zM554 1600h2.1v2.1h-2.1zM343 1576h2.0v2.0h-2.0zM497 1597h1.5v1.5h-1.5zM515 1592h1.8v1.8h-1.8zM263 1579h1.9v1.9h-1.9zM297 1591h1.8v1.8h-1.8zM317 1572h2.1v2.1h-2.1zM674 1587h1.9v1.9h-1.9zM549 1498h1.7v1.7h-1.7zM419 1479h1.8v1.8h-1.8zM174 1618h2.0v2.0h-2.0zM407 1350h1.6v1.6h-1.6zM349 1498h1.2v1.2h-1.2zM364 1617h2.0v2.0h-2.0zM544 1557h1.9v1.9h-1.9zM380 1359h1.2v1.2h-1.2zM670 1603h1.5v1.5h-1.5zM503 1574h1.5v1.5h-1.5zM498 1385h1.7v1.7h-1.7zM284 1597h1.3v1.3h-1.3zM392 1622h1.4v1.4h-1.4zM256 1575h1.3v1.3h-1.3zM464 1516h2.1v2.1h-2.1zM214 1534h1.2v1.2h-1.2zM333 1622h1.4v1.4h-1.4zM237 1611h2.2v2.2h-2.2zM539 1618h1.3v1.3h-1.3zM529 1574h1.3v1.3h-1.3zM407 1479h1.7v1.7h-1.7zM332 1542h2.0v2.0h-2.0zM252 1488h1.4v1.4h-1.4zM501 1414h1.6v1.6h-1.6zM555 1607h1.4v1.4h-1.4zM323 1619h1.4v1.4h-1.4zM630 1538h2.1v2.1h-2.1zM419 1316h1.5v1.5h-1.5zM397 1418h1.6v1.6h-1.6zM603 1539h1.6v1.6h-1.6zM458 1591h1.7v1.7h-1.7zM485 1496h1.9v1.9h-1.9zM283 1443h1.5v1.5h-1.5zM321 1521h1.7v1.7h-1.7zM716 1604h1.5v1.5h-1.5zM314 1476h1.7v1.7h-1.7zM334 1581h1.4v1.4h-1.4zM402 1341h2.1v2.1h-2.1zM482 1621h1.3v1.3h-1.3zM557 1495h1.3v1.3h-1.3zM627 1584h1.3v1.3h-1.3zM488 1478h1.5v1.5h-1.5zM403 1394h1.9v1.9h-1.9zM648 1575h1.3v1.3h-1.3zM372 1597h1.5v1.5h-1.5zM643 1611h2.0v2.0h-2.0zM229 1599h2.1v2.1h-2.1zM432 1440h1.3v1.3h-1.3zM511 1518h1.8v1.8h-1.8zM428 1480h1.9v1.9h-1.9zM593 1479h1.6v1.6h-1.6zM587 1472h1.7v1.7h-1.7zM258 1504h1.4v1.4h-1.4zM409 1513h1.7v1.7h-1.7zM473 1487h1.4v1.4h-1.4zM566 1611h1.7v1.7h-1.7zM410 1397h1.6v1.6h-1.6zM655 1560h1.5v1.5h-1.5zM160 1623h1.2v1.2h-1.2zM457 1375h1.4v1.4h-1.4z" fill="rgb(220,80,70)" fill-opacity="0.3"/></g><path d="M98.7 1625.0L420.7 1303.0L742.7 1625.0Z" fill="none" stroke="#111" stroke-width="1.7"/>
<path d="M425.0 1346.5L442.0 1308.2L441.1 1331.6L465.4 1331.6Z" fill="rgb(167,169,172)"/>
<path d="M507.9 1429.4L524.9 1391.1L523.9 1414.5L548.2 1414.5Z" fill="rgb(167,169,172)"/>
<path d="M242.2 1525.0L259.2 1486.7L258.3 1510.1L282.6 1510.1Z" fill="rgb(167,169,172)"/>
<clipPath id="ct5"><path d="M782.6 1625.0L1104.6 1303.0L1426.6 1625.0Z"/></clipPath><filter id="st5" x="-30%" y="-30%" width="160%" height="160%"><feGaussianBlur stdDeviation="2.5"/></filter><g clip-path="url(#ct5)"><linearGradient id="gt5" x1="0" y1="1303.0" x2="0" y2="1625.0" gradientUnits="userSpaceOnUse"><stop offset="0" stop-color="rgb(253, 243, 238)"/><stop offset="0.55" stop-color="rgb(252, 238, 232)"/><stop offset="0.8" stop-color="rgb(250, 229, 221)"/><stop offset="0.93" stop-color="rgb(249, 220, 210)"/><stop offset="1" stop-color="rgb(246, 205, 192)"/></linearGradient><rect x="782.6" y="1303.0" width="644.0" height="322.0" fill="url(#gt5)"/><filter id="ft5" x="-20%" y="-20%" width="140%" height="140%"><feGaussianBlur stdDeviation="7"/></filter><g filter="url(#ft5)"><path d="M781.6 1625.0L886.6 1520.0L991.6 1625.0Z" fill="rgb(236, 120, 100)" fill-opacity="0.5"/><path d="M1006.6 1625.0L1104.1 1527.5L1201.6 1625.0Z" fill="rgb(236, 130, 110)" fill-opacity="0.45"/><path d="M1201.6 1625.0L1316.6 1510.0L1431.6 1625.0Z" fill="rgb(236, 130, 110)" fill-opacity="0.4"/><path d="M1211.6 1625.0L1276.6 1560.0L1341.6 1625.0Z" fill="rgb(232, 110, 90)" fill-opacity="0.3"/><path d="M1085.9 1532.9L1149.5 1469.3L1227.3 1547.1L1163.7 1610.7Z" fill="rgb(236, 140, 120)" fill-opacity="0.44999999999999996"/><path d="M1191.5 1546.5L1248.1 1489.9L1311.7 1553.5L1255.1 1610.1Z" fill="rgb(236, 140, 120)" fill-opacity="0.42000000000000004"/><path d="M1137.2 1462.0L1179.6 1419.6L1222.0 1462.0L1179.6 1504.4Z" fill="rgb(236, 140, 120)" fill-opacity="0.44999999999999996"/><path d="M1243.4 1599.1L1314.1 1528.4L1356.6 1570.9L1285.9 1641.6Z" fill="rgb(215, 60, 50)" fill-opacity="0.45"/><path d="M1065.1 1500.0L1150.0 1415.1L1234.9 1500.0L1150.0 1584.9Z" fill="rgb(236, 140, 120)" fill-opacity="0.3"/></g><linearGradient id="dt5" x1="0" y1="1545.0" x2="0" y2="1625.0" gradientUnits="userSpaceOnUse"><stop offset="0" stop-color="rgb(240,160,140)" stop-opacity="0.12"/><stop offset="0.6" stop-color="rgb(236,135,115)" stop-opacity="0.35"/><stop offset="0.82" stop-color="rgb(220,80,65)" stop-opacity="0.65"/><stop offset="0.93" stop-color="rgb(180,30,35)" stop-opacity="0.9"/><stop offset="1" stop-color="rgb(120,8,22)" stop-opacity="1"/></linearGradient><path d="M781.6 1625.0L806.0 1600.6L830.4 1625.0Z" fill="url(#dt5)" fill-opacity="0.7253423852421688"/><path d="M820.1 1625.0L837.2 1607.9L854.4 1625.0Z" fill="url(#dt5)" fill-opacity="0.566342308846125"/><path d="M846.0 1625.0L865.3 1605.7L884.7 1625.0Z" fill="url(#dt5)" fill-opacity="0.6430936799089458"/><path d="M875.1 1625.0L892.1 1608.1L909.0 1625.0Z" fill="url(#dt5)" fill-opacity="0.7774203621592928"/><path d="M897.9 1625.0L913.1 1609.9L928.2 1625.0Z" fill="url(#dt5)" fill-opacity="0.7794530917658746"/><path d="M918.9 1625.0L934.2 1609.7L949.4 1625.0Z" fill="url(#dt5)" fill-opacity="0.7596448604487127"/><path d="M941.6 1625.0L966.6 1600.0L991.6 1625.0Z" fill="url(#dt5)" fill-opacity="0.7143820506324663"/><path d="M982.9 1625.0L987.2 1620.6L991.6 1625.0Z" fill="url(#dt5)" fill-opacity="0.7936077572704457"/><path d="M1211.6 1625.0L1229.6 1607.0L1247.7 1625.0Z" fill="url(#dt5)" fill-opacity="0.7031109957773372"/><path d="M1234.5 1625.0L1258.9 1600.6L1283.3 1625.0Z" fill="url(#dt5)" fill-opacity="0.726061767739275"/><path d="M1267.7 1625.0L1283.3 1609.4L1298.9 1625.0Z" fill="url(#dt5)" fill-opacity="0.6479852224736395"/><path d="M1287.2 1625.0L1313.2 1599.0L1339.2 1625.0Z" fill="url(#dt5)" fill-opacity="0.7828067087336908"/><path d="M1325.9 1625.0L1348.4 1602.5L1370.9 1625.0Z" fill="url(#dt5)" fill-opacity="0.5925455616034048"/><path d="M1358.6 1625.0L1376.8 1606.8L1395.1 1625.0Z" fill="url(#dt5)" fill-opacity="0.7993240498954901"/><path d="M1380.2 1625.0L1403.9 1601.3L1427.6 1625.0Z" fill="url(#dt5)" fill-opacity="0.5537622329817524"/><path d="M1006.6 1625.0L1059.1 1572.5L1111.6 1625.0Z" fill="url(#dt5)" fill-opacity="0.35"/><path d="M1081.6 1625.0L1141.6 1565.0L1201.6 1625.0Z" fill="url(#dt5)" fill-opacity="0.35"/><path d="M1261.6 1625.0L1301.6 1585.0L1341.6 1625.0Z" fill="url(#dt5)" fill-opacity="0.8"/><path d="M1281.6 1625.0L1301.6 1605.0L1321.6 1625.0Z" fill="url(#dt5)" fill-opacity="0.9"/><path d="M1190.6 1625.0L1058.6 1493.0L1069.6 1493.0L1201.6 1625.0Z" fill="#fff" fill-opacity="0.85"/><path d="M1183.6 1625.0L1051.6 1493.0L1054.6 1493.0L1186.6 1625.0Z" fill="#fff" fill-opacity="0.35"/><path d="M1205.6 1625.0L1305.6 1525.0L1315.6 1525.0L1215.6 1625.0Z" fill="#fff" fill-opacity="0.85"/><rect x="782.6" y="1303.0" width="644.0" height="322.0" filter="url(#hicnoise)" opacity="0.2"/><linearGradient id="bt5" x1="0" y1="1585.0" x2="0" y2="1625.0" gradientUnits="userSpaceOnUse"><stop offset="0" stop-color="rgb(248, 205, 190)" stop-opacity="0"/><stop offset="0.45" stop-color="rgb(240, 150, 125)" stop-opacity="0.6"/><stop offset="0.7" stop-color="rgb(222, 75, 58)" stop-opacity="0.9"/><stop offset="0.86" stop-color="rgb(165, 20, 30)" stop-opacity="1"/><stop offset="1" stop-color="rgb(110, 5, 20)" stop-opacity="1"/></linearGradient><rect x="782.6" y="1585.0" width="644.0" height="40.0" fill="url(#bt5)"/><g filter="url(#st5)"><path d="M768.8 1616.5L800.0 1585.3L831.3 1616.5Z" fill="rgb(215,60,50)" fill-opacity="0.48"/><path d="M798.6 1616.5L829.8 1585.3L861.0 1616.5Z" fill="rgb(215,60,50)" fill-opacity="0.44"/><path d="M826.7 1616.5L857.9 1585.3L889.1 1616.5Z" fill="rgb(215,60,50)" fill-opacity="0.49"/><path d="M857.9 1616.5L880.7 1593.7L903.6 1616.5Z" fill="rgb(215,60,50)" fill-opacity="0.46"/><path d="M882.2 1616.5L904.3 1594.4L926.4 1616.5Z" fill="rgb(215,60,50)" fill-opacity="0.45"/><path d="M903.1 1616.5L929.2 1590.5L955.2 1616.5Z" fill="rgb(215,60,50)" fill-opacity="0.44"/><path d="M920.6 1616.5L951.8 1585.2L983.1 1616.5Z" fill="rgb(215,60,50)" fill-opacity="0.45"/><path d="M949.1 1616.5L973.7 1591.9L998.2 1616.5Z" fill="rgb(215,60,50)" fill-opacity="0.49"/><path d="M983.2 1616.5L985.4 1614.3L987.6 1616.5Z" fill="rgb(215,60,50)" fill-opacity="0.47"/><path d="M996.9 1616.5L1017.4 1598.0L1038.0 1616.5Z" fill="rgb(215,60,50)" fill-opacity="0.19"/><path d="M1009.9 1616.5L1030.8 1597.7L1051.7 1616.5Z" fill="rgb(215,60,50)" fill-opacity="0.20"/><path d="M1025.4 1616.5L1043.7 1600.1L1061.9 1616.5Z" fill="rgb(215,60,50)" fill-opacity="0.22"/><path d="M1045.3 1616.5L1060.3 1602.9L1075.4 1616.5Z" fill="rgb(215,60,50)" fill-opacity="0.29"/><path d="M1055.5 1616.5L1073.4 1600.4L1091.2 1616.5Z" fill="rgb(215,60,50)" fill-opacity="0.29"/><path d="M1070.8 1616.5L1091.1 1598.2L1111.4 1616.5Z" fill="rgb(215,60,50)" fill-opacity="0.26"/><path d="M1084.2 1616.5L1104.2 1598.5L1124.2 1616.5Z" fill="rgb(215,60,50)" fill-opacity="0.25"/><path d="M1101.9 1616.5L1116.7 1603.2L1131.4 1616.5Z" fill="rgb(215,60,50)" fill-opacity="0.28"/><path d="M1112.1 1616.5L1132.6 1598.1L1153.0 1616.5Z" fill="rgb(215,60,50)" fill-opacity="0.27"/><path d="M1134.7 1616.5L1152.3 1600.7L1169.9 1616.5Z" fill="rgb(215,60,50)" fill-opacity="0.26"/><path d="M1151.4 1616.5L1166.7 1602.8L1182.0 1616.5Z" fill="rgb(215,60,50)" fill-opacity="0.29"/><path d="M1167.5 1616.5L1173.5 1611.1L1179.4 1616.5Z" fill="rgb(215,60,50)" fill-opacity="0.29"/><path d="M1296.7 1616.5L1317.6 1595.6L1338.5 1616.5Z" fill="rgb(215,60,50)" fill-opacity="0.47"/><path d="M1313.8 1616.5L1338.2 1592.0L1362.7 1616.5Z" fill="rgb(215,60,50)" fill-opacity="0.42"/><path d="M1335.6 1616.5L1363.8 1588.3L1392.0 1616.5Z" fill="rgb(215,60,50)" fill-opacity="0.45"/><path d="M1362.5 1616.5L1384.2 1594.8L1405.9 1616.5Z" fill="rgb(215,60,50)" fill-opacity="0.40"/><path d="M1377.7 1616.5L1403.4 1590.8L1429.1 1616.5Z" fill="rgb(215,60,50)" fill-opacity="0.41"/><path d="M1408.9 1616.5L1421.1 1604.2L1433.4 1616.5Z" fill="rgb(215,60,50)" fill-opacity="0.42"/><path d="M941.0 1616.5L967.6 1587.2L994.2 1616.5Z" fill="rgb(215,60,50)" fill-opacity="0.50"/><path d="M1264.6 1616.5L1283.6 1574.7L1302.6 1616.5Z" fill="rgb(215,60,50)" fill-opacity="0.50"/><path d="M1303.5 1616.5L1320.6 1599.4L1337.7 1616.5Z" fill="rgb(215,60,50)" fill-opacity="0.50"/></g><path d="M783.6 1616.5L800.0 1600.1L816.5 1616.5Z" fill="rgb(112,6,22)" fill-opacity="0.95"/><path d="M813.4 1616.5L829.8 1600.1L846.3 1616.5Z" fill="rgb(112,6,22)" fill-opacity="0.89"/><path d="M841.5 1616.5L857.9 1600.1L874.3 1616.5Z" fill="rgb(112,6,22)" fill-opacity="0.98"/><path d="M868.7 1616.5L880.7 1604.5L892.7 1616.5Z" fill="rgb(112,6,22)" fill-opacity="0.91"/><path d="M892.7 1616.5L904.3 1604.9L915.9 1616.5Z" fill="rgb(112,6,22)" fill-opacity="0.90"/><path d="M915.5 1616.5L929.2 1602.8L942.9 1616.5Z" fill="rgb(112,6,22)" fill-opacity="0.88"/><path d="M935.4 1616.5L951.8 1600.0L968.3 1616.5Z" fill="rgb(112,6,22)" fill-opacity="0.90"/><path d="M960.7 1616.5L973.7 1603.6L986.6 1616.5Z" fill="rgb(112,6,22)" fill-opacity="0.97"/><path d="M984.3 1616.5L985.4 1615.3L986.6 1616.5Z" fill="rgb(112,6,22)" fill-opacity="0.94"/><path d="M1006.6 1616.5L1017.4 1606.8L1028.3 1616.5Z" fill="rgb(112,6,22)" fill-opacity="0.39"/><path d="M1019.8 1616.5L1030.8 1606.6L1041.8 1616.5Z" fill="rgb(112,6,22)" fill-opacity="0.40"/><path d="M1034.1 1616.5L1043.7 1607.9L1053.3 1616.5Z" fill="rgb(112,6,22)" fill-opacity="0.44"/><path d="M1052.4 1616.5L1060.3 1609.4L1068.3 1616.5Z" fill="rgb(112,6,22)" fill-opacity="0.59"/><path d="M1064.0 1616.5L1073.4 1608.0L1082.8 1616.5Z" fill="rgb(112,6,22)" fill-opacity="0.58"/><path d="M1080.4 1616.5L1091.1 1606.9L1101.8 1616.5Z" fill="rgb(112,6,22)" fill-opacity="0.53"/><path d="M1093.6 1616.5L1104.2 1607.0L1114.7 1616.5Z" fill="rgb(112,6,22)" fill-opacity="0.50"/><path d="M1108.9 1616.5L1116.7 1609.5L1124.4 1616.5Z" fill="rgb(112,6,22)" fill-opacity="0.56"/><path d="M1121.8 1616.5L1132.6 1606.8L1143.3 1616.5Z" fill="rgb(112,6,22)" fill-opacity="0.54"/><path d="M1143.0 1616.5L1152.3 1608.2L1161.5 1616.5Z" fill="rgb(112,6,22)" fill-opacity="0.52"/><path d="M1158.7 1616.5L1166.7 1609.3L1174.7 1616.5Z" fill="rgb(112,6,22)" fill-opacity="0.59"/><path d="M1170.3 1616.5L1173.5 1613.7L1176.6 1616.5Z" fill="rgb(112,6,22)" fill-opacity="0.59"/><path d="M1306.6 1616.5L1317.6 1605.5L1328.6 1616.5Z" fill="rgb(112,6,22)" fill-opacity="0.94"/><path d="M1325.4 1616.5L1338.2 1603.6L1351.1 1616.5Z" fill="rgb(112,6,22)" fill-opacity="0.84"/><path d="M1349.0 1616.5L1363.8 1601.7L1378.7 1616.5Z" fill="rgb(112,6,22)" fill-opacity="0.90"/><path d="M1372.8 1616.5L1384.2 1605.1L1395.6 1616.5Z" fill="rgb(112,6,22)" fill-opacity="0.80"/><path d="M1389.9 1616.5L1403.4 1603.0L1416.9 1616.5Z" fill="rgb(112,6,22)" fill-opacity="0.81"/><path d="M1414.7 1616.5L1421.1 1610.0L1427.6 1616.5Z" fill="rgb(112,6,22)" fill-opacity="0.85"/><path d="M953.6 1616.5L967.6 1601.1L981.6 1616.5Z" fill="rgb(112,6,22)" fill-opacity="1.00"/><path d="M1273.6 1616.5L1283.6 1594.5L1293.6 1616.5Z" fill="rgb(112,6,22)" fill-opacity="1.00"/><path d="M1311.6 1616.5L1320.6 1607.5L1329.6 1616.5Z" fill="rgb(112,6,22)" fill-opacity="1.00"/><rect x="782.6" y="1616.0" width="644.0" height="9.0" fill="rgb(105,4,20)"/><circle cx="1094.0" cy="1352.0" r="5.5" fill="rgb(230,90,75)" fill-opacity="0.32"/><circle cx="1094.0" cy="1352.0" r="2.5" fill="rgb(170, 20, 30)" fill-opacity="0.9"/><circle cx="1180.0" cy="1440.0" r="6.2" fill="rgb(230,90,75)" fill-opacity="0.32"/><circle cx="1180.0" cy="1440.0" r="2.8" fill="rgb(150, 10, 25)" fill-opacity="0.9"/><circle cx="906.0" cy="1540.0" r="5.1" fill="rgb(230,90,75)" fill-opacity="0.32"/><circle cx="906.0" cy="1540.0" r="2.3" fill="rgb(150, 10, 25)" fill-opacity="0.9"/><circle cx="1044.0" cy="1405.0" r="4.4" fill="rgb(230,90,75)" fill-opacity="0.28"/><circle cx="1044.0" cy="1405.0" r="2" fill="rgb(170, 20, 30)" fill-opacity="0.8"/><circle cx="1312.0" cy="1573.9" r="7.0" fill="rgb(230,90,75)" fill-opacity="0.33"/><circle cx="1312.0" cy="1573.9" r="3.2" fill="rgb(110, 0, 20)" fill-opacity="0.95"/><circle cx="1318.0" cy="1578.0" r="5.5" fill="rgb(230,90,75)" fill-opacity="0.32"/><circle cx="1318.0" cy="1578.0" r="2.5" fill="rgb(110, 0, 20)" fill-opacity="0.9"/><path d="M1184 1542h2.0v2.0h-2.0zM1082 1607h1.8v1.8h-1.8zM1085 1382h1.7v1.7h-1.7zM885 1560h1.3v1.3h-1.3zM969 1613h1.7v1.7h-1.7zM982 1567h1.7v1.7h-1.7zM986 1458h1.9v1.9h-1.9zM819 1617h1.2v1.2h-1.2zM1265 1575h1.2v1.2h-1.2zM1269 1602h2.1v2.1h-2.1zM1004 1417h1.7v1.7h-1.7zM1265 1560h2.1v2.1h-2.1zM806 1608h1.3v1.3h-1.3zM1002 1500h2.1v2.1h-2.1zM1002 1601h1.7v1.7h-1.7zM814 1621h1.7v1.7h-1.7zM1044 1379h1.8v1.8h-1.8zM1100 1573h1.3v1.3h-1.3zM1254 1609h1.8v1.8h-1.8zM1062 1351h2.0v2.0h-2.0zM972 1449h2.2v2.2h-2.2zM1331 1617h1.7v1.7h-1.7zM1097 1538h1.7v1.7h-1.7zM1186 1464h1.5v1.5h-1.5zM1286 1582h1.6v1.6h-1.6zM1289 1553h1.9v1.9h-1.9zM1210 1548h1.6v1.6h-1.6zM1095 1551h1.9v1.9h-1.9zM972 1607h1.8v1.8h-1.8zM1135 1384h1.9v1.9h-1.9zM1081 1566h1.8v1.8h-1.8zM1197 1541h2.0v2.0h-2.0zM1008 1574h2.1v2.1h-2.1zM1226 1617h2.2v2.2h-2.2zM1116 1473h1.4v1.4h-1.4zM1321 1605h1.7v1.7h-1.7zM1228 1535h1.9v1.9h-1.9zM893 1554h1.8v1.8h-1.8zM1211 1438h1.8v1.8h-1.8zM1282 1508h1.9v1.9h-1.9zM1067 1512h1.4v1.4h-1.4zM1224 1506h1.2v1.2h-1.2zM1086 1376h1.3v1.3h-1.3zM1028 1500h1.8v1.8h-1.8zM936 1594h1.2v1.2h-1.2zM1044 1393h1.6v1.6h-1.6zM857 1571h1.6v1.6h-1.6zM1001 1490h2.2v2.2h-2.2zM1306 1510h1.6v1.6h-1.6zM1146 1611h2.2v2.2h-2.2zM1175 1416h2.1v2.1h-2.1zM1147 1501h1.3v1.3h-1.3zM1188 1590h1.6v1.6h-1.6zM1061 1376h1.5v1.5h-1.5zM1166 1387h2.2v2.2h-2.2zM1102 1437h1.5v1.5h-1.5zM967 1457h1.3v1.3h-1.3zM1183 1446h1.5v1.5h-1.5zM1286 1569h1.2v1.2h-1.2zM1126 1391h2.1v2.1h-2.1zM1174 1456h1.8v1.8h-1.8zM1171 1542h1.3v1.3h-1.3zM1126 1411h1.5v1.5h-1.5zM1124 1453h1.6v1.6h-1.6zM1262 1493h1.2v1.2h-1.2zM1373 1589h1.7v1.7h-1.7zM1058 1488h1.9v1.9h-1.9zM1190 1458h2.1v2.1h-2.1zM1031 1429h2.1v2.1h-2.1zM1321 1527h1.6v1.6h-1.6zM967 1554h2.1v2.1h-2.1zM1136 1463h1.5v1.5h-1.5zM931 1567h2.0v2.0h-2.0zM1248 1618h2.2v2.2h-2.2zM1198 1610h1.9v1.9h-1.9zM1176 1436h1.4v1.4h-1.4zM1153 1542h2.1v2.1h-2.1zM985 1496h1.7v1.7h-1.7zM1108 1596h1.8v1.8h-1.8zM1182 1388h1.8v1.8h-1.8zM946 1545h1.7v1.7h-1.7zM1022 1540h1.4v1.4h-1.4zM1242 1514h1.3v1.3h-1.3zM936 1585h1.7v1.7h-1.7zM991 1559h1.2v1.2h-1.2zM880 1610h1.9v1.9h-1.9zM1185 1417h1.4v1.4h-1.4zM997 1501h1.5v1.5h-1.5zM1164 1488h1.9v1.9h-1.9zM1092 1548h1.2v1.2h-1.2zM1085 1590h1.8v1.8h-1.8zM1059 1453h1.3v1.3h-1.3zM1024 1427h2.1v2.1h-2.1zM1217 1455h2.1v2.1h-2.1zM970 1520h1.9v1.9h-1.9zM983 1454h1.5v1.5h-1.5zM1254 1534h1.4v1.4h-1.4zM938 1519h2.1v2.1h-2.1zM1199 1442h2.2v2.2h-2.2zM828 1592h1.7v1.7h-1.7zM807 1616h1.4v1.4h-1.4zM1110 1433h1.7v1.7h-1.7zM1096 1487h1.6v1.6h-1.6zM1185 1537h2.1v2.1h-2.1zM981 1448h2.0v2.0h-2.0zM1280 1567h1.5v1.5h-1.5zM1059 1489h1.4v1.4h-1.4zM985 1545h1.8v1.8h-1.8zM1272 1488h1.6v1.6h-1.6zM1309 1514h2.2v2.2h-2.2zM1251 1529h1.5v1.5h-1.5zM1013 1580h2.1v2.1h-2.1zM1177 1377h1.6v1.6h-1.6zM1016 1409h1.2v1.2h-1.2zM1159 1569h1.9v1.9h-1.9zM893 1531h1.6v1.6h-1.6zM1062 1445h2.0v2.0h-2.0zM849 1565h1.6v1.6h-1.6zM816 1618h1.2v1.2h-1.2zM1154 1458h2.1v2.1h-2.1zM1145 1418h2.0v2.0h-2.0zM942 1619h2.0v2.0h-2.0zM1222 1581h1.8v1.8h-1.8zM1160 1362h1.6v1.6h-1.6zM984 1426h1.7v1.7h-1.7zM1214 1476h2.0v2.0h-2.0zM1016 1494h1.9v1.9h-1.9zM1119 1395h1.3v1.3h-1.3zM1156 1548h1.9v1.9h-1.9zM980 1602h1.5v1.5h-1.5zM1268 1519h2.2v2.2h-2.2zM1322 1541h1.8v1.8h-1.8zM1203 1593h2.1v2.1h-2.1zM1178 1428h1.3v1.3h-1.3zM1226 1481h1.9v1.9h-1.9zM1023 1589h1.4v1.4h-1.4zM1183 1592h1.4v1.4h-1.4zM1190 1550h1.4v1.4h-1.4z" fill="rgb(220,80,70)" fill-opacity="0.3"/></g><path d="M782.6 1625.0L1104.6 1303.0L1426.6 1625.0Z" fill="none" stroke="#111" stroke-width="1.7"/>
<path d="M1110.1 1338.0L1127.1 1301.9L1126.2 1324.1L1150.5 1324.4Z" fill="rgb(167,169,172)"/>
<path d="M1194.3 1423.0L1212.1 1384.7L1210.6 1408.1L1234.6 1408.1Z" fill="rgb(167,169,172)"/>
<path d="M921.8 1525.0L938.8 1486.7L937.6 1510.1L961.4 1510.1Z" fill="rgb(167,169,172)"/>
<path d="M1017.9 1406.8L975.4 1399.6L996.1 1411.4L982.6 1430.6Z" fill="#231f20"/>
<path d="M1102.9 1491.8L1060.4 1484.6L1081.1 1496.4L1067.6 1515.6Z" fill="#231f20"/>
<path d="M1329.0 1559.0L1346.0 1519.9L1345.1 1543.5L1369.4 1542.8Z" fill="#231f20"/>
<clipPath id="ct6"><path d="M1453.4 1625.5L1775.4 1303.5L2097.4 1625.5Z"/></clipPath><filter id="st6" x="-30%" y="-30%" width="160%" height="160%"><feGaussianBlur stdDeviation="2.5"/></filter><g clip-path="url(#ct6)"><linearGradient id="gt6" x1="0" y1="1303.5" x2="0" y2="1625.5" gradientUnits="userSpaceOnUse"><stop offset="0" stop-color="rgb(253, 243, 238)"/><stop offset="0.55" stop-color="rgb(252, 238, 232)"/><stop offset="0.8" stop-color="rgb(250, 229, 221)"/><stop offset="0.93" stop-color="rgb(249, 220, 210)"/><stop offset="1" stop-color="rgb(246, 205, 192)"/></linearGradient><rect x="1453.4" y="1303.5" width="644.0" height="322.0" fill="url(#gt6)"/><filter id="ft6" x="-20%" y="-20%" width="140%" height="140%"><feGaussianBlur stdDeviation="7"/></filter><g filter="url(#ft6)"><path d="M1452.4 1625.5L1557.4 1520.5L1662.4 1625.5Z" fill="rgb(236, 120, 100)" fill-opacity="0.5"/><path d="M1677.4 1625.5L1774.9 1528.0L1872.4 1625.5Z" fill="rgb(236, 130, 110)" fill-opacity="0.45"/><path d="M1872.4 1625.5L1987.4 1510.5L2102.4 1625.5Z" fill="rgb(236, 130, 110)" fill-opacity="0.4"/><path d="M1882.4 1625.5L1947.4 1560.5L2012.4 1625.5Z" fill="rgb(232, 110, 90)" fill-opacity="0.3"/><path d="M1756.7 1532.9L1820.3 1469.3L1898.1 1547.1L1834.5 1610.7Z" fill="rgb(236, 140, 120)" fill-opacity="0.39"/><path d="M1862.3 1546.5L1918.9 1489.9L1982.5 1553.5L1925.9 1610.1Z" fill="rgb(236, 140, 120)" fill-opacity="0.36400000000000005"/><path d="M1808.0 1462.0L1850.4 1419.6L1892.8 1462.0L1850.4 1504.4Z" fill="rgb(236, 140, 120)" fill-opacity="0.39"/><path d="M1918.4 1594.1L1989.1 1523.4L2031.6 1565.9L1960.9 1636.6Z" fill="rgb(215, 60, 50)" fill-opacity="0.35"/></g><linearGradient id="dt6" x1="0" y1="1545.5" x2="0" y2="1625.5" gradientUnits="userSpaceOnUse"><stop offset="0" stop-color="rgb(240,160,140)" stop-opacity="0.12"/><stop offset="0.6" stop-color="rgb(236,135,115)" stop-opacity="0.35"/><stop offset="0.82" stop-color="rgb(220,80,65)" stop-opacity="0.65"/><stop offset="0.93" stop-color="rgb(180,30,35)" stop-opacity="0.9"/><stop offset="1" stop-color="rgb(120,8,22)" stop-opacity="1"/></linearGradient><path d="M1452.4 1625.5L1477.3 1600.6L1502.2 1625.5Z" fill="url(#dt6)" fill-opacity="0.572900652019891"/><path d="M1487.5 1625.5L1515.0 1598.0L1542.4 1625.5Z" fill="url(#dt6)" fill-opacity="0.7586375721440225"/><path d="M1524.8 1625.5L1548.9 1601.4L1573.0 1625.5Z" fill="url(#dt6)" fill-opacity="0.6423074585157297"/><path d="M1557.7 1625.5L1573.4 1609.8L1589.1 1625.5Z" fill="url(#dt6)" fill-opacity="0.7207374834583242"/><path d="M1579.7 1625.5L1598.2 1607.0L1616.7 1625.5Z" fill="url(#dt6)" fill-opacity="0.6446432109420498"/><path d="M1606.9 1625.5L1628.0 1604.4L1649.1 1625.5Z" fill="url(#dt6)" fill-opacity="0.7899040158841377"/><path d="M1640.3 1625.5L1651.4 1614.5L1662.4 1625.5Z" fill="url(#dt6)" fill-opacity="0.5727568753307815"/><path d="M1882.4 1625.5L1901.0 1606.9L1919.6 1625.5Z" fill="url(#dt6)" fill-opacity="0.6402767659132012"/><path d="M1909.4 1625.5L1936.7 1598.3L1963.9 1625.5Z" fill="url(#dt6)" fill-opacity="0.6906560863669228"/><path d="M1948.1 1625.5L1971.3 1602.3L1994.4 1625.5Z" fill="url(#dt6)" fill-opacity="0.5585141487551718"/><path d="M1979.7 1625.5L1997.1 1608.1L2014.5 1625.5Z" fill="url(#dt6)" fill-opacity="0.6542407100331447"/><path d="M1998.9 1625.5L2023.4 1601.0L2047.9 1625.5Z" fill="url(#dt6)" fill-opacity="0.7775557878630193"/><path d="M2026.7 1625.5L2050.0 1602.2L2073.3 1625.5Z" fill="url(#dt6)" fill-opacity="0.5558702646268588"/><path d="M2056.4 1625.5L2072.9 1609.0L2089.5 1625.5Z" fill="url(#dt6)" fill-opacity="0.7651454873787255"/><path d="M2080.6 1625.5L2089.5 1616.6L2098.4 1625.5Z" fill="url(#dt6)" fill-opacity="0.6044910276976345"/><path d="M1677.4 1625.5L1729.9 1573.0L1782.4 1625.5Z" fill="url(#dt6)" fill-opacity="0.35"/><path d="M1752.4 1625.5L1812.4 1565.5L1872.4 1625.5Z" fill="url(#dt6)" fill-opacity="0.35"/><path d="M1932.4 1625.5L1972.4 1585.5L2012.4 1625.5Z" fill="url(#dt6)" fill-opacity="0.8"/><path d="M1952.4 1625.5L1972.4 1605.5L1992.4 1625.5Z" fill="url(#dt6)" fill-opacity="0.9"/><path d="M1861.4 1625.5L1729.4 1493.5L1740.4 1493.5L1872.4 1625.5Z" fill="#fff" fill-opacity="0.85"/><path d="M1854.4 1625.5L1722.4 1493.5L1725.4 1493.5L1857.4 1625.5Z" fill="#fff" fill-opacity="0.35"/><path d="M1876.4 1625.5L1976.4 1525.5L1986.4 1525.5L1886.4 1625.5Z" fill="#fff" fill-opacity="0.85"/><rect x="1453.4" y="1303.5" width="644.0" height="322.0" filter="url(#hicnoise)" opacity="0.2"/><linearGradient id="bt6" x1="0" y1="1585.5" x2="0" y2="1625.5" gradientUnits="userSpaceOnUse"><stop offset="0" stop-color="rgb(248, 205, 190)" stop-opacity="0"/><stop offset="0.45" stop-color="rgb(240, 150, 125)" stop-opacity="0.6"/><stop offset="0.7" stop-color="rgb(222, 75, 58)" stop-opacity="0.9"/><stop offset="0.86" stop-color="rgb(165, 20, 30)" stop-opacity="1"/><stop offset="1" stop-color="rgb(110, 5, 20)" stop-opacity="1"/></linearGradient><rect x="1453.4" y="1585.5" width="644.0" height="40.0" fill="url(#bt6)"/><g filter="url(#st6)"><path d="M1441.6 1617.0L1468.6 1590.0L1495.7 1617.0Z" fill="rgb(215,60,50)" fill-opacity="0.45"/><path d="M1458.4 1617.0L1486.7 1588.6L1515.1 1617.0Z" fill="rgb(215,60,50)" fill-opacity="0.44"/><path d="M1480.8 1617.0L1506.2 1591.6L1531.6 1617.0Z" fill="rgb(215,60,50)" fill-opacity="0.47"/><path d="M1507.1 1617.0L1533.2 1590.8L1559.4 1617.0Z" fill="rgb(215,60,50)" fill-opacity="0.50"/><path d="M1535.7 1617.0L1559.4 1593.3L1583.0 1617.0Z" fill="rgb(215,60,50)" fill-opacity="0.43"/><path d="M1549.0 1617.0L1579.5 1586.5L1610.0 1617.0Z" fill="rgb(215,60,50)" fill-opacity="0.47"/><path d="M1579.3 1617.0L1611.3 1585.0L1643.3 1617.0Z" fill="rgb(215,60,50)" fill-opacity="0.47"/><path d="M1611.6 1617.0L1633.3 1595.3L1655.0 1617.0Z" fill="rgb(215,60,50)" fill-opacity="0.43"/><path d="M1636.4 1617.0L1650.2 1603.3L1663.9 1617.0Z" fill="rgb(215,60,50)" fill-opacity="0.48"/><path d="M1670.8 1617.0L1684.7 1604.5L1698.6 1617.0Z" fill="rgb(215,60,50)" fill-opacity="0.20"/><path d="M1678.4 1617.0L1698.5 1598.9L1718.7 1617.0Z" fill="rgb(215,60,50)" fill-opacity="0.24"/><path d="M1700.1 1617.0L1714.2 1604.3L1728.2 1617.0Z" fill="rgb(215,60,50)" fill-opacity="0.24"/><path d="M1712.5 1617.0L1729.7 1601.5L1747.0 1617.0Z" fill="rgb(215,60,50)" fill-opacity="0.29"/><path d="M1730.3 1617.0L1746.5 1602.5L1762.6 1617.0Z" fill="rgb(215,60,50)" fill-opacity="0.18"/><path d="M1746.5 1617.0L1760.8 1604.2L1775.0 1617.0Z" fill="rgb(215,60,50)" fill-opacity="0.18"/><path d="M1757.3 1617.0L1777.0 1599.3L1796.7 1617.0Z" fill="rgb(215,60,50)" fill-opacity="0.28"/><path d="M1780.0 1617.0L1794.8 1603.7L1809.7 1617.0Z" fill="rgb(215,60,50)" fill-opacity="0.19"/><path d="M1787.3 1617.0L1808.1 1598.3L1828.8 1617.0Z" fill="rgb(215,60,50)" fill-opacity="0.19"/><path d="M1805.3 1617.0L1818.7 1604.9L1832.2 1617.0Z" fill="rgb(215,60,50)" fill-opacity="0.18"/><path d="M1812.8 1617.0L1828.8 1602.6L1844.7 1617.0Z" fill="rgb(215,60,50)" fill-opacity="0.20"/><path d="M1825.8 1617.0L1840.0 1604.3L1854.1 1617.0Z" fill="rgb(215,60,50)" fill-opacity="0.20"/><path d="M1968.3 1617.0L1987.5 1597.9L2006.6 1617.0Z" fill="rgb(215,60,50)" fill-opacity="0.41"/><path d="M1980.0 1617.0L2006.8 1590.2L2033.6 1617.0Z" fill="rgb(215,60,50)" fill-opacity="0.41"/><path d="M2000.6 1617.0L2022.2 1595.4L2043.9 1617.0Z" fill="rgb(215,60,50)" fill-opacity="0.48"/><path d="M2012.9 1617.0L2040.3 1589.6L2067.7 1617.0Z" fill="rgb(215,60,50)" fill-opacity="0.47"/><path d="M2032.9 1617.0L2058.0 1591.9L2083.1 1617.0Z" fill="rgb(215,60,50)" fill-opacity="0.44"/><path d="M2050.6 1617.0L2081.0 1586.6L2111.3 1617.0Z" fill="rgb(215,60,50)" fill-opacity="0.41"/><path d="M2078.1 1617.0L2091.4 1603.7L2104.7 1617.0Z" fill="rgb(215,60,50)" fill-opacity="0.44"/><path d="M1611.8 1617.0L1638.4 1587.7L1665.0 1617.0Z" fill="rgb(215,60,50)" fill-opacity="0.50"/><path d="M1935.4 1617.0L1954.4 1575.2L1973.4 1617.0Z" fill="rgb(215,60,50)" fill-opacity="0.50"/><path d="M1974.3 1617.0L1991.4 1599.9L2008.5 1617.0Z" fill="rgb(215,60,50)" fill-opacity="0.50"/></g><path d="M1454.4 1617.0L1468.6 1602.8L1482.9 1617.0Z" fill="rgb(112,6,22)" fill-opacity="0.89"/><path d="M1471.8 1617.0L1486.7 1602.1L1501.7 1617.0Z" fill="rgb(112,6,22)" fill-opacity="0.88"/><path d="M1492.8 1617.0L1506.2 1603.6L1519.6 1617.0Z" fill="rgb(112,6,22)" fill-opacity="0.95"/><path d="M1519.4 1617.0L1533.2 1603.2L1547.0 1617.0Z" fill="rgb(112,6,22)" fill-opacity="1.00"/><path d="M1546.9 1617.0L1559.4 1604.5L1571.8 1617.0Z" fill="rgb(112,6,22)" fill-opacity="0.86"/><path d="M1563.4 1617.0L1579.5 1600.9L1595.5 1617.0Z" fill="rgb(112,6,22)" fill-opacity="0.94"/><path d="M1594.5 1617.0L1611.3 1600.2L1628.2 1617.0Z" fill="rgb(112,6,22)" fill-opacity="0.95"/><path d="M1621.9 1617.0L1633.3 1605.6L1644.7 1617.0Z" fill="rgb(112,6,22)" fill-opacity="0.85"/><path d="M1642.9 1617.0L1650.2 1609.8L1657.4 1617.0Z" fill="rgb(112,6,22)" fill-opacity="0.96"/><path d="M1677.4 1617.0L1684.7 1610.4L1692.0 1617.0Z" fill="rgb(112,6,22)" fill-opacity="0.40"/><path d="M1687.9 1617.0L1698.5 1607.5L1709.1 1617.0Z" fill="rgb(112,6,22)" fill-opacity="0.47"/><path d="M1706.8 1617.0L1714.2 1610.3L1721.6 1617.0Z" fill="rgb(112,6,22)" fill-opacity="0.48"/><path d="M1720.6 1617.0L1729.7 1608.8L1738.8 1617.0Z" fill="rgb(112,6,22)" fill-opacity="0.59"/><path d="M1738.0 1617.0L1746.5 1609.4L1754.9 1617.0Z" fill="rgb(112,6,22)" fill-opacity="0.35"/><path d="M1753.3 1617.0L1760.8 1610.2L1768.3 1617.0Z" fill="rgb(112,6,22)" fill-opacity="0.35"/><path d="M1766.7 1617.0L1777.0 1607.7L1787.4 1617.0Z" fill="rgb(112,6,22)" fill-opacity="0.56"/><path d="M1787.0 1617.0L1794.8 1610.0L1802.6 1617.0Z" fill="rgb(112,6,22)" fill-opacity="0.37"/><path d="M1797.1 1617.0L1808.1 1607.2L1819.0 1617.0Z" fill="rgb(112,6,22)" fill-opacity="0.38"/><path d="M1811.6 1617.0L1818.7 1610.6L1825.8 1617.0Z" fill="rgb(112,6,22)" fill-opacity="0.36"/><path d="M1820.3 1617.0L1828.8 1609.4L1837.2 1617.0Z" fill="rgb(112,6,22)" fill-opacity="0.39"/><path d="M1832.5 1617.0L1840.0 1610.3L1847.4 1617.0Z" fill="rgb(112,6,22)" fill-opacity="0.39"/><path d="M1977.4 1617.0L1987.5 1606.9L1997.5 1617.0Z" fill="rgb(112,6,22)" fill-opacity="0.82"/><path d="M1992.7 1617.0L2006.8 1602.9L2020.9 1617.0Z" fill="rgb(112,6,22)" fill-opacity="0.83"/><path d="M2010.8 1617.0L2022.2 1605.6L2033.6 1617.0Z" fill="rgb(112,6,22)" fill-opacity="0.95"/><path d="M2025.9 1617.0L2040.3 1602.6L2054.7 1617.0Z" fill="rgb(112,6,22)" fill-opacity="0.93"/><path d="M2044.8 1617.0L2058.0 1603.8L2071.2 1617.0Z" fill="rgb(112,6,22)" fill-opacity="0.89"/><path d="M2065.0 1617.0L2081.0 1601.0L2096.9 1617.0Z" fill="rgb(112,6,22)" fill-opacity="0.82"/><path d="M2084.4 1617.0L2091.4 1610.0L2098.4 1617.0Z" fill="rgb(112,6,22)" fill-opacity="0.88"/><path d="M1624.4 1617.0L1638.4 1601.6L1652.4 1617.0Z" fill="rgb(112,6,22)" fill-opacity="1.00"/><path d="M1944.4 1617.0L1954.4 1595.0L1964.4 1617.0Z" fill="rgb(112,6,22)" fill-opacity="1.00"/><path d="M1982.4 1617.0L1991.4 1608.0L2000.4 1617.0Z" fill="rgb(112,6,22)" fill-opacity="1.00"/><rect x="1453.4" y="1616.5" width="644.0" height="9.0" fill="rgb(105,4,20)"/><circle cx="1766.0" cy="1354.0" r="4.8" fill="rgb(230,90,75)" fill-opacity="0.28"/><circle cx="1766.0" cy="1354.0" r="2.2" fill="rgb(170, 20, 30)" fill-opacity="0.8"/><circle cx="1852.0" cy="1442.0" r="5.7" fill="rgb(230,90,75)" fill-opacity="0.32"/><circle cx="1852.0" cy="1442.0" r="2.6" fill="rgb(150, 10, 25)" fill-opacity="0.9"/><circle cx="1578.0" cy="1542.0" r="4.4" fill="rgb(230,90,75)" fill-opacity="0.24"/><circle cx="1578.0" cy="1542.0" r="2" fill="rgb(150, 10, 25)" fill-opacity="0.7"/><path d="M1964 1568h1.7v1.7h-1.7zM1880 1455h2.0v2.0h-2.0zM1694 1551h1.5v1.5h-1.5zM1970 1539h1.6v1.6h-1.6zM1800 1523h1.4v1.4h-1.4zM1810 1563h1.5v1.5h-1.5zM1971 1524h2.0v2.0h-2.0zM1969 1563h1.6v1.6h-1.6zM1862 1397h2.2v2.2h-2.2zM1832 1368h1.9v1.9h-1.9zM1685 1604h2.1v2.1h-2.1zM1785 1511h1.9v1.9h-1.9zM1972 1618h1.2v1.2h-1.2zM1686 1497h1.5v1.5h-1.5zM1765 1348h1.4v1.4h-1.4zM1726 1544h1.6v1.6h-1.6zM1885 1590h1.6v1.6h-1.6zM1989 1560h1.7v1.7h-1.7zM1757 1531h1.6v1.6h-1.6zM1625 1461h2.0v2.0h-2.0zM1744 1602h1.5v1.5h-1.5zM1718 1587h1.8v1.8h-1.8zM1626 1456h1.7v1.7h-1.7zM1650 1563h1.5v1.5h-1.5zM1878 1616h2.1v2.1h-2.1zM1696 1498h1.5v1.5h-1.5zM1710 1461h2.0v2.0h-2.0zM1725 1555h2.0v2.0h-2.0zM1770 1454h1.3v1.3h-1.3zM1856 1499h1.3v1.3h-1.3zM1751 1593h1.8v1.8h-1.8zM1851 1597h2.1v2.1h-2.1zM1900 1558h1.3v1.3h-1.3zM2061 1596h1.6v1.6h-1.6zM1631 1533h1.3v1.3h-1.3zM1969 1618h1.5v1.5h-1.5zM1865 1476h1.2v1.2h-1.2zM1487 1623h2.0v2.0h-2.0zM1806 1453h1.7v1.7h-1.7zM1792 1352h1.5v1.5h-1.5zM1596 1485h2.1v2.1h-2.1zM1822 1557h1.8v1.8h-1.8zM1699 1445h1.6v1.6h-1.6zM1880 1534h1.8v1.8h-1.8zM1883 1617h1.4v1.4h-1.4zM1856 1427h1.3v1.3h-1.3zM1817 1600h1.5v1.5h-1.5zM1757 1537h2.1v2.1h-2.1zM1889 1538h1.9v1.9h-1.9zM1638 1446h1.4v1.4h-1.4zM2007 1554h2.0v2.0h-2.0zM1591 1494h1.5v1.5h-1.5zM1963 1543h2.2v2.2h-2.2zM1909 1524h2.0v2.0h-2.0zM1529 1609h1.2v1.2h-1.2zM2047 1609h1.6v1.6h-1.6zM1834 1391h1.3v1.3h-1.3zM1723 1362h2.2v2.2h-2.2zM1701 1495h1.8v1.8h-1.8zM1857 1458h1.5v1.5h-1.5zM1541 1589h1.4v1.4h-1.4zM1742 1564h1.8v1.8h-1.8zM1784 1342h1.8v1.8h-1.8zM1758 1581h1.7v1.7h-1.7zM1901 1565h1.7v1.7h-1.7zM1996 1593h1.4v1.4h-1.4zM2045 1584h2.1v2.1h-2.1zM1948 1602h1.3v1.3h-1.3zM2040 1573h1.7v1.7h-1.7zM1688 1624h2.0v2.0h-2.0zM1834 1583h1.8v1.8h-1.8zM1842 1535h1.4v1.4h-1.4zM1779 1340h1.9v1.9h-1.9zM1555 1538h2.1v2.1h-2.1zM1858 1580h1.9v1.9h-1.9zM1748 1339h1.8v1.8h-1.8zM1747 1562h1.8v1.8h-1.8zM1926 1616h1.8v1.8h-1.8zM1473 1623h1.7v1.7h-1.7zM1883 1455h1.6v1.6h-1.6zM1890 1458h1.3v1.3h-1.3zM1965 1622h2.1v2.1h-2.1zM1735 1386h1.7v1.7h-1.7zM1676 1479h2.1v2.1h-2.1zM1745 1619h1.9v1.9h-1.9zM1879 1504h1.2v1.2h-1.2zM1799 1358h1.2v1.2h-1.2zM1906 1588h1.4v1.4h-1.4zM1922 1495h1.3v1.3h-1.3zM1701 1480h1.6v1.6h-1.6zM1730 1492h1.8v1.8h-1.8zM1846 1390h1.8v1.8h-1.8zM1868 1573h1.5v1.5h-1.5zM1624 1616h1.5v1.5h-1.5zM1728 1423h2.2v2.2h-2.2zM1804 1592h1.4v1.4h-1.4zM1632 1513h1.5v1.5h-1.5zM1881 1467h1.3v1.3h-1.3zM1797 1360h1.5v1.5h-1.5zM1653 1429h1.8v1.8h-1.8zM2003 1534h1.9v1.9h-1.9zM1636 1463h1.9v1.9h-1.9zM1785 1584h1.4v1.4h-1.4zM1958 1510h2.1v2.1h-2.1zM1768 1326h1.5v1.5h-1.5zM1724 1527h1.8v1.8h-1.8zM1768 1407h1.8v1.8h-1.8zM1680 1485h1.8v1.8h-1.8zM1835 1495h1.4v1.4h-1.4zM1715 1431h1.8v1.8h-1.8zM1775 1385h2.1v2.1h-2.1zM1696 1420h1.9v1.9h-1.9zM1693 1595h1.6v1.6h-1.6zM1833 1402h1.8v1.8h-1.8zM1758 1337h2.1v2.1h-2.1zM1889 1454h1.5v1.5h-1.5zM1746 1625h1.2v1.2h-1.2zM1763 1509h1.8v1.8h-1.8zM1988 1618h1.7v1.7h-1.7zM1680 1420h2.1v2.1h-2.1zM1763 1326h1.8v1.8h-1.8zM1873 1501h1.7v1.7h-1.7zM1624 1555h1.6v1.6h-1.6zM1723 1360h2.0v2.0h-2.0zM1869 1484h1.7v1.7h-1.7zM1586 1624h1.3v1.3h-1.3zM1683 1423h1.6v1.6h-1.6zM1940 1509h1.5v1.5h-1.5zM1576 1566h1.8v1.8h-1.8zM1777 1368h2.2v2.2h-2.2zM1794 1599h1.9v1.9h-1.9zM2042 1579h1.3v1.3h-1.3zM1820 1459h1.5v1.5h-1.5zM1884 1445h2.0v2.0h-2.0zM1663 1478h1.5v1.5h-1.5zM1719 1495h1.9v1.9h-1.9zM1839 1464h1.6v1.6h-1.6zM2013 1582h2.1v2.1h-2.1zM1582 1529h1.5v1.5h-1.5zM1731 1547h1.9v1.9h-1.9zM1656 1536h1.6v1.6h-1.6zM1684 1435h1.5v1.5h-1.5zM1552 1615h1.8v1.8h-1.8zM1876 1500h1.7v1.7h-1.7zM1640 1622h2.1v2.1h-2.1zM1627 1555h1.3v1.3h-1.3z" fill="rgb(220,80,70)" fill-opacity="0.3"/></g><path d="M1453.4 1625.5L1775.4 1303.5L2097.4 1625.5Z" fill="none" stroke="#111" stroke-width="1.7"/>
<path d="M1785.6 1339.0L1803.0 1300.8L1801.8 1324.2L1825.9 1324.4Z" fill="rgb(167,169,172)"/>
<path d="M1864.5 1423.8L1881.0 1385.1L1880.4 1408.8L1904.7 1408.8Z" fill="rgb(167,169,172)"/>
<path d="M1590.5 1529.5L1607.8 1490.8L1606.9 1514.5L1631.9 1514.5Z" fill="rgb(167,169,172)"/>
<clipPath id="ct7"><path d="M98.1 2267.6L420.7 1945.0L743.3 2267.6Z"/></clipPath><filter id="st7" x="-30%" y="-30%" width="160%" height="160%"><feGaussianBlur stdDeviation="2.5"/></filter><g clip-path="url(#ct7)"><linearGradient id="gt7" x1="0" y1="1945.0" x2="0" y2="2267.6" gradientUnits="userSpaceOnUse"><stop offset="0" stop-color="rgb(253, 243, 238)"/><stop offset="0.55" stop-color="rgb(252, 238, 232)"/><stop offset="0.8" stop-color="rgb(250, 229, 221)"/><stop offset="0.93" stop-color="rgb(249, 220, 210)"/><stop offset="1" stop-color="rgb(246, 205, 192)"/></linearGradient><rect x="98.1" y="1945.0" width="645.2" height="322.6" fill="url(#gt7)"/><filter id="ft7" x="-20%" y="-20%" width="140%" height="140%"><feGaussianBlur stdDeviation="4"/></filter><g filter="url(#ft7)"><path d="M477.0 2079.9L492.6 2064.3L512.4 2084.1L496.8 2099.7Z" fill="rgb(215, 70, 60)" fill-opacity="0.6"/><path d="M409.5 2143.3L459.0 2093.8L475.9 2110.7L426.4 2160.2Z" fill="rgb(236, 140, 120)" fill-opacity="0.28"/><path d="M396.0 2182.7L438.4 2140.3L455.4 2157.3L413.0 2199.7Z" fill="rgb(240, 160, 140)" fill-opacity="0.2"/></g><linearGradient id="dt7" x1="0" y1="2137.6" x2="0" y2="2267.6" gradientUnits="userSpaceOnUse"><stop offset="0" stop-color="rgb(240,160,140)" stop-opacity="0.12"/><stop offset="0.6" stop-color="rgb(236,135,115)" stop-opacity="0.35"/><stop offset="0.82" stop-color="rgb(220,80,65)" stop-opacity="0.65"/><stop offset="0.93" stop-color="rgb(180,30,35)" stop-opacity="0.9"/><stop offset="1" stop-color="rgb(120,8,22)" stop-opacity="1"/></linearGradient><path d="M97.7 2267.6L210.7 2154.6L323.7 2267.6Z" fill="url(#dt7)" fill-opacity="0.55"/><path d="M323.7 2267.6L418.2 2173.1L512.7 2267.6Z" fill="url(#dt7)" fill-opacity="0.7"/><path d="M512.7 2267.6L577.7 2202.6L642.7 2267.6Z" fill="url(#dt7)" fill-opacity="0.75"/><path d="M642.7 2267.6L694.2 2216.1L745.7 2267.6Z" fill="url(#dt7)" fill-opacity="0.6"/><path d="M337.7 2267.6L356.7 2248.6L375.7 2267.6Z" fill="url(#dt7)" fill-opacity="0.9"/><path d="M367.7 2267.6L385.7 2249.6L403.7 2267.6Z" fill="url(#dt7)" fill-opacity="0.7"/><path d="M552.7 2267.6L575.2 2245.1L597.7 2267.6Z" fill="url(#dt7)" fill-opacity="0.9"/><path d="M592.7 2267.6L611.2 2249.1L629.7 2267.6Z" fill="url(#dt7)" fill-opacity="0.9"/><path d="M687.7 2267.6L712.7 2242.6L737.7 2267.6Z" fill="url(#dt7)" fill-opacity="0.5"/><path d="M97.7 2267.6L127.7 2237.6L157.7 2267.6Z" fill="url(#dt7)" fill-opacity="0.3"/><path d="M157.7 2267.6L192.7 2232.6L227.7 2267.6Z" fill="url(#dt7)" fill-opacity="0.25"/><path d="M227.7 2267.6L262.7 2232.6L297.7 2267.6Z" fill="url(#dt7)" fill-opacity="0.25"/><path d="M417.7 2267.6L447.7 2237.6L477.7 2267.6Z" fill="url(#dt7)" fill-opacity="0.3"/><rect x="98.1" y="1945.0" width="645.2" height="322.6" filter="url(#hicnoise)" opacity="0.2"/><linearGradient id="bt7" x1="0" y1="2251.6" x2="0" y2="2267.6" gradientUnits="userSpaceOnUse"><stop offset="0" stop-color="rgb(248, 205, 190)" stop-opacity="0"/><stop offset="0.5" stop-color="rgb(235, 130, 110)" stop-opacity="0.4"/><stop offset="0.8" stop-color="rgb(190, 30, 35)" stop-opacity="0.8"/><stop offset="1" stop-color="rgb(110, 5, 20)" stop-opacity="1"/></linearGradient><rect x="98.1" y="2251.6" width="645.2" height="16.0" fill="url(#bt7)"/><g filter="url(#st7)"><path d="M333.8 2262.6L354.7 2237.5L375.6 2262.6Z" fill="rgb(215,60,50)" fill-opacity="0.45"/><path d="M557.8 2262.6L578.7 2241.7L599.6 2262.6Z" fill="rgb(215,60,50)" fill-opacity="0.40"/><path d="M590.8 2262.6L611.7 2241.7L632.6 2262.6Z" fill="rgb(215,60,50)" fill-opacity="0.40"/></g><path d="M343.7 2262.6L354.7 2249.4L365.7 2262.6Z" fill="rgb(112,6,22)" fill-opacity="0.90"/><path d="M567.7 2262.6L578.7 2251.6L589.7 2262.6Z" fill="rgb(112,6,22)" fill-opacity="0.80"/><path d="M600.7 2262.6L611.7 2251.6L622.7 2262.6Z" fill="rgb(112,6,22)" fill-opacity="0.80"/><rect x="98.1" y="2262.1" width="645.2" height="5.5" fill="rgb(105,4,20)"/><path d="M444 2063h1.3v1.3h-1.3zM425 1957h1.6v1.6h-1.6zM372 2212h1.3v1.3h-1.3zM242 2147h2.1v2.1h-2.1zM470 2073h2.2v2.2h-2.2zM473 2151h1.6v1.6h-1.6zM537 2083h1.5v1.5h-1.5zM476 2091h1.5v1.5h-1.5zM611 2170h1.4v1.4h-1.4zM469 2114h2.1v2.1h-2.1zM368 2189h1.4v1.4h-1.4zM414 1958h1.9v1.9h-1.9zM591 2130h2.1v2.1h-2.1zM301 2169h1.8v1.8h-1.8zM472 2092h2.0v2.0h-2.0zM551 2154h2.2v2.2h-2.2zM347 2161h1.2v1.2h-1.2zM396 1999h1.3v1.3h-1.3zM350 2226h1.3v1.3h-1.3zM388 2122h2.1v2.1h-2.1zM627 2224h1.5v1.5h-1.5zM366 2061h2.1v2.1h-2.1zM478 2030h1.2v1.2h-1.2zM368 2064h1.8v1.8h-1.8zM431 2144h1.9v1.9h-1.9zM133 2235h2.0v2.0h-2.0zM662 2202h1.6v1.6h-1.6zM322 2062h1.3v1.3h-1.3zM646 2265h1.7v1.7h-1.7zM410 1973h1.3v1.3h-1.3zM439 1992h1.7v1.7h-1.7zM242 2207h2.2v2.2h-2.2zM648 2205h2.0v2.0h-2.0zM432 2060h1.2v1.2h-1.2zM265 2168h2.2v2.2h-2.2zM387 2247h2.2v2.2h-2.2zM501 2235h2.0v2.0h-2.0zM407 2156h2.0v2.0h-2.0zM213 2200h1.5v1.5h-1.5zM615 2258h1.6v1.6h-1.6zM357 2250h1.9v1.9h-1.9zM196 2237h2.0v2.0h-2.0zM192 2212h2.2v2.2h-2.2zM522 2058h1.7v1.7h-1.7zM438 2246h1.6v1.6h-1.6zM661 2212h1.4v1.4h-1.4zM253 2134h1.5v1.5h-1.5zM394 2133h2.1v2.1h-2.1zM369 2241h1.7v1.7h-1.7zM441 2114h1.2v1.2h-1.2zM382 2004h1.2v1.2h-1.2zM404 2179h1.8v1.8h-1.8zM308 2112h1.8v1.8h-1.8zM460 2025h1.5v1.5h-1.5zM461 2190h2.1v2.1h-2.1zM384 2143h1.7v1.7h-1.7zM429 2168h1.7v1.7h-1.7zM442 2099h2.1v2.1h-2.1zM549 2228h2.1v2.1h-2.1zM266 2125h2.1v2.1h-2.1zM604 2234h1.4v1.4h-1.4zM560 2158h1.3v1.3h-1.3zM668 2257h1.4v1.4h-1.4zM412 2264h2.0v2.0h-2.0zM431 2054h1.4v1.4h-1.4zM304 2178h1.2v1.2h-1.2zM456 2087h1.2v1.2h-1.2zM312 2146h1.7v1.7h-1.7zM140 2263h2.0v2.0h-2.0zM317 2123h2.1v2.1h-2.1zM438 2022h1.3v1.3h-1.3zM295 2190h1.5v1.5h-1.5zM421 2002h1.5v1.5h-1.5zM454 2006h1.7v1.7h-1.7zM417 2214h1.6v1.6h-1.6zM425 2167h2.2v2.2h-2.2zM319 2213h1.9v1.9h-1.9zM508 2076h1.5v1.5h-1.5zM153 2216h2.1v2.1h-2.1zM395 1996h1.6v1.6h-1.6zM268 2255h2.2v2.2h-2.2zM451 2024h2.2v2.2h-2.2zM404 2107h1.4v1.4h-1.4zM248 2134h1.7v1.7h-1.7zM582 2157h1.9v1.9h-1.9zM309 2263h1.3v1.3h-1.3zM565 2153h1.2v1.2h-1.2zM637 2233h1.8v1.8h-1.8zM572 2207h1.3v1.3h-1.3zM436 2108h2.0v2.0h-2.0zM617 2212h1.8v1.8h-1.8zM503 2147h1.9v1.9h-1.9zM613 2186h1.7v1.7h-1.7zM443 2158h1.3v1.3h-1.3zM575 2260h1.7v1.7h-1.7zM345 2100h1.9v1.9h-1.9zM593 2144h1.8v1.8h-1.8zM262 2185h1.5v1.5h-1.5zM532 2168h1.9v1.9h-1.9zM286 2112h1.7v1.7h-1.7zM399 1983h2.1v2.1h-2.1zM227 2261h2.1v2.1h-2.1zM627 2257h1.6v1.6h-1.6zM436 2252h1.3v1.3h-1.3zM247 2235h1.7v1.7h-1.7zM415 2090h1.5v1.5h-1.5zM302 2216h1.2v1.2h-1.2zM582 2216h1.3v1.3h-1.3zM338 2072h2.2v2.2h-2.2zM478 2061h1.6v1.6h-1.6zM164 2214h1.5v1.5h-1.5zM270 2110h1.4v1.4h-1.4zM339 2253h2.1v2.1h-2.1zM622 2149h2.1v2.1h-2.1zM584 2153h1.5v1.5h-1.5zM130 2244h1.3v1.3h-1.3zM403 2056h1.5v1.5h-1.5zM575 2260h1.5v1.5h-1.5zM458 2072h1.4v1.4h-1.4zM240 2237h2.2v2.2h-2.2zM388 1990h1.4v1.4h-1.4zM265 2129h2.1v2.1h-2.1zM365 2114h1.6v1.6h-1.6zM277 2257h1.3v1.3h-1.3zM423 2148h2.1v2.1h-2.1zM386 2253h2.0v2.0h-2.0zM351 2244h2.0v2.0h-2.0zM650 2259h1.4v1.4h-1.4zM435 2165h2.1v2.1h-2.1zM564 2154h2.0v2.0h-2.0zM393 2123h1.2v1.2h-1.2zM261 2150h1.9v1.9h-1.9zM436 2133h1.6v1.6h-1.6zM242 2139h1.2v1.2h-1.2zM293 2094h2.2v2.2h-2.2zM514 2230h1.7v1.7h-1.7zM420 2163h1.6v1.6h-1.6zM264 2160h2.1v2.1h-2.1zM316 2081h1.9v1.9h-1.9zM226 2202h1.9v1.9h-1.9zM424 2011h2.2v2.2h-2.2zM299 2210h1.4v1.4h-1.4zM241 2190h1.5v1.5h-1.5zM367 2160h2.1v2.1h-2.1zM235 2259h1.3v1.3h-1.3zM352 2235h2.1v2.1h-2.1zM571 2267h2.1v2.1h-2.1zM342 2066h1.5v1.5h-1.5z" fill="rgb(220,80,70)" fill-opacity="0.3"/></g><path d="M98.1 2267.6L420.7 1945.0L743.3 2267.6Z" fill="none" stroke="#111" stroke-width="1.7"/>
<path d="M482.4 2066.6L444.1 2048.7L467.5 2050.9L467.5 2028.3Z" fill="rgb(167,169,172)"/>
<clipPath id="ct8"><path d="M782.0 2267.6L1104.6 1945.0L1427.2 2267.6Z"/></clipPath><filter id="st8" x="-30%" y="-30%" width="160%" height="160%"><feGaussianBlur stdDeviation="2.5"/></filter><g clip-path="url(#ct8)"><linearGradient id="gt8" x1="0" y1="1945.0" x2="0" y2="2267.6" gradientUnits="userSpaceOnUse"><stop offset="0" stop-color="rgb(253, 243, 238)"/><stop offset="0.55" stop-color="rgb(252, 238, 232)"/><stop offset="0.8" stop-color="rgb(250, 229, 221)"/><stop offset="0.93" stop-color="rgb(249, 220, 210)"/><stop offset="1" stop-color="rgb(246, 205, 192)"/></linearGradient><rect x="782.0" y="1945.0" width="645.2" height="322.6" fill="url(#gt8)"/><filter id="ft8" x="-20%" y="-20%" width="140%" height="140%"><feGaussianBlur stdDeviation="4"/></filter><g filter="url(#ft8)"><path d="M1160.9 2079.9L1176.5 2064.3L1196.3 2084.1L1180.7 2099.7Z" fill="rgb(215, 70, 60)" fill-opacity="0.6"/><path d="M1093.4 2143.3L1142.9 2093.8L1159.8 2110.7L1110.3 2160.2Z" fill="rgb(236, 140, 120)" fill-opacity="0.28"/><path d="M1079.9 2182.7L1122.3 2140.3L1139.3 2157.3L1096.9 2199.7Z" fill="rgb(240, 160, 140)" fill-opacity="0.2"/></g><linearGradient id="dt8" x1="0" y1="2137.6" x2="0" y2="2267.6" gradientUnits="userSpaceOnUse"><stop offset="0" stop-color="rgb(240,160,140)" stop-opacity="0.12"/><stop offset="0.6" stop-color="rgb(236,135,115)" stop-opacity="0.35"/><stop offset="0.82" stop-color="rgb(220,80,65)" stop-opacity="0.65"/><stop offset="0.93" stop-color="rgb(180,30,35)" stop-opacity="0.9"/><stop offset="1" stop-color="rgb(120,8,22)" stop-opacity="1"/></linearGradient><path d="M781.6 2267.6L894.6 2154.6L1007.6 2267.6Z" fill="url(#dt8)" fill-opacity="0.55"/><path d="M1007.6 2267.6L1102.1 2173.1L1196.6 2267.6Z" fill="url(#dt8)" fill-opacity="0.7"/><path d="M1196.6 2267.6L1261.6 2202.6L1326.6 2267.6Z" fill="url(#dt8)" fill-opacity="0.75"/><path d="M1326.6 2267.6L1378.1 2216.1L1429.6 2267.6Z" fill="url(#dt8)" fill-opacity="0.6"/><path d="M1021.6 2267.6L1040.6 2248.6L1059.6 2267.6Z" fill="url(#dt8)" fill-opacity="0.9"/><path d="M1051.6 2267.6L1069.6 2249.6L1087.6 2267.6Z" fill="url(#dt8)" fill-opacity="0.7"/><path d="M1236.6 2267.6L1259.1 2245.1L1281.6 2267.6Z" fill="url(#dt8)" fill-opacity="0.9"/><path d="M1276.6 2267.6L1295.1 2249.1L1313.6 2267.6Z" fill="url(#dt8)" fill-opacity="0.9"/><path d="M1371.6 2267.6L1396.6 2242.6L1421.6 2267.6Z" fill="url(#dt8)" fill-opacity="0.5"/><path d="M781.6 2267.6L811.6 2237.6L841.6 2267.6Z" fill="url(#dt8)" fill-opacity="0.3"/><path d="M841.6 2267.6L876.6 2232.6L911.6 2267.6Z" fill="url(#dt8)" fill-opacity="0.25"/><path d="M911.6 2267.6L946.6 2232.6L981.6 2267.6Z" fill="url(#dt8)" fill-opacity="0.25"/><path d="M1101.6 2267.6L1131.6 2237.6L1161.6 2267.6Z" fill="url(#dt8)" fill-opacity="0.3"/><rect x="782.0" y="1945.0" width="645.2" height="322.6" filter="url(#hicnoise)" opacity="0.2"/><linearGradient id="bt8" x1="0" y1="2251.6" x2="0" y2="2267.6" gradientUnits="userSpaceOnUse"><stop offset="0" stop-color="rgb(248, 205, 190)" stop-opacity="0"/><stop offset="0.5" stop-color="rgb(235, 130, 110)" stop-opacity="0.4"/><stop offset="0.8" stop-color="rgb(190, 30, 35)" stop-opacity="0.8"/><stop offset="1" stop-color="rgb(110, 5, 20)" stop-opacity="1"/></linearGradient><rect x="782.0" y="2251.6" width="645.2" height="16.0" fill="url(#bt8)"/><g filter="url(#st8)"><path d="M1017.7 2262.6L1038.6 2237.5L1059.5 2262.6Z" fill="rgb(215,60,50)" fill-opacity="0.45"/><path d="M1241.7 2262.6L1262.6 2241.7L1283.5 2262.6Z" fill="rgb(215,60,50)" fill-opacity="0.40"/><path d="M1274.7 2262.6L1295.6 2241.7L1316.5 2262.6Z" fill="rgb(215,60,50)" fill-opacity="0.40"/></g><path d="M1027.6 2262.6L1038.6 2249.4L1049.6 2262.6Z" fill="rgb(112,6,22)" fill-opacity="0.90"/><path d="M1251.6 2262.6L1262.6 2251.6L1273.6 2262.6Z" fill="rgb(112,6,22)" fill-opacity="0.80"/><path d="M1284.6 2262.6L1295.6 2251.6L1306.6 2262.6Z" fill="rgb(112,6,22)" fill-opacity="0.80"/><rect x="782.0" y="2262.1" width="645.2" height="5.5" fill="rgb(105,4,20)"/><path d="M928 2255h1.3v1.3h-1.3zM942 2267h1.4v1.4h-1.4zM1196 2093h1.7v1.7h-1.7zM1101 2007h2.0v2.0h-2.0zM1045 2236h1.6v1.6h-1.6zM1182 2067h1.9v1.9h-1.9zM1000 2168h1.7v1.7h-1.7zM1201 2236h1.8v1.8h-1.8zM907 2250h1.8v1.8h-1.8zM1252 2229h1.5v1.5h-1.5zM1012 2228h1.3v1.3h-1.3zM1227 2172h2.1v2.1h-2.1zM1123 2109h1.3v1.3h-1.3zM1055 2067h2.0v2.0h-2.0zM1210 2259h1.4v1.4h-1.4zM1063 2020h1.6v1.6h-1.6zM1070 2080h1.8v1.8h-1.8zM1118 2061h2.0v2.0h-2.0zM1108 2173h2.2v2.2h-2.2zM1152 2185h1.6v1.6h-1.6zM897 2258h1.6v1.6h-1.6zM1103 2098h1.4v1.4h-1.4zM1074 1986h1.6v1.6h-1.6zM1250 2176h1.7v1.7h-1.7zM1036 2061h1.4v1.4h-1.4zM1239 2142h1.2v1.2h-1.2zM1017 2084h1.3v1.3h-1.3zM1106 2172h1.4v1.4h-1.4zM1262 2154h1.2v1.2h-1.2zM1178 2238h1.9v1.9h-1.9zM1380 2262h1.4v1.4h-1.4zM973 2122h2.2v2.2h-2.2zM1020 2249h2.1v2.1h-2.1zM1115 2147h2.2v2.2h-2.2zM1021 2254h2.0v2.0h-2.0zM1178 2217h1.9v1.9h-1.9zM1016 2083h1.7v1.7h-1.7zM1123 2215h1.5v1.5h-1.5zM858 2213h1.5v1.5h-1.5zM970 2204h1.7v1.7h-1.7zM961 2232h1.6v1.6h-1.6zM1015 2256h2.0v2.0h-2.0zM1286 2201h1.6v1.6h-1.6zM1204 2197h2.2v2.2h-2.2zM1081 2225h2.1v2.1h-2.1zM1174 2224h1.9v1.9h-1.9zM1375 2222h1.9v1.9h-1.9zM1018 2212h2.0v2.0h-2.0zM1250 2138h1.5v1.5h-1.5zM993 2113h1.3v1.3h-1.3zM1033 2084h2.0v2.0h-2.0zM1257 2211h1.8v1.8h-1.8zM993 2230h1.9v1.9h-1.9zM1091 2127h2.1v2.1h-2.1zM1178 2079h2.1v2.1h-2.1zM1155 2234h2.1v2.1h-2.1zM1229 2262h1.7v1.7h-1.7zM1018 2217h1.7v1.7h-1.7zM981 2164h1.7v1.7h-1.7zM865 2215h1.7v1.7h-1.7zM1277 2211h1.8v1.8h-1.8zM1233 2145h1.3v1.3h-1.3zM864 2256h1.6v1.6h-1.6zM1189 2256h1.3v1.3h-1.3zM1170 2157h2.2v2.2h-2.2zM1013 2250h1.9v1.9h-1.9zM1090 2000h1.4v1.4h-1.4zM1018 2057h1.6v1.6h-1.6zM1015 2063h1.8v1.8h-1.8zM977 2154h2.0v2.0h-2.0zM1287 2184h1.8v1.8h-1.8zM950 2216h1.5v1.5h-1.5zM1188 2106h1.9v1.9h-1.9zM1002 2132h1.9v1.9h-1.9zM1015 2139h1.7v1.7h-1.7zM1085 2069h1.7v1.7h-1.7zM876 2211h1.3v1.3h-1.3zM1294 2190h1.4v1.4h-1.4zM985 2260h1.9v1.9h-1.9zM1258 2131h1.8v1.8h-1.8zM994 2221h1.6v1.6h-1.6zM1112 2100h2.2v2.2h-2.2zM1245 2262h2.1v2.1h-2.1zM1005 2138h1.9v1.9h-1.9zM945 2169h1.4v1.4h-1.4zM1097 2170h1.4v1.4h-1.4zM1038 2169h1.5v1.5h-1.5zM1119 2139h1.6v1.6h-1.6zM916 2168h1.9v1.9h-1.9zM904 2205h1.9v1.9h-1.9zM1341 2197h1.7v1.7h-1.7zM1005 2108h2.1v2.1h-2.1zM1223 2238h2.1v2.1h-2.1zM1180 2096h1.4v1.4h-1.4zM1296 2142h1.4v1.4h-1.4zM1248 2138h1.4v1.4h-1.4zM1226 2127h1.5v1.5h-1.5zM1069 2265h1.3v1.3h-1.3zM935 2137h2.0v2.0h-2.0zM1031 2221h1.9v1.9h-1.9zM1070 2138h1.7v1.7h-1.7zM1136 2230h2.2v2.2h-2.2zM911 2189h2.1v2.1h-2.1zM1174 2106h1.6v1.6h-1.6zM1094 2132h1.8v1.8h-1.8zM856 2267h1.5v1.5h-1.5zM1135 2009h1.8v1.8h-1.8zM1030 2046h1.7v1.7h-1.7zM1295 2148h2.2v2.2h-2.2zM1084 2191h2.1v2.1h-2.1zM1131 2160h1.9v1.9h-1.9zM1114 2109h1.6v1.6h-1.6zM1072 2098h2.0v2.0h-2.0zM1232 2240h1.9v1.9h-1.9zM1147 2252h1.8v1.8h-1.8zM1070 2004h1.4v1.4h-1.4zM1293 2234h1.6v1.6h-1.6zM1123 2164h1.8v1.8h-1.8zM960 2239h1.8v1.8h-1.8zM1243 2167h1.6v1.6h-1.6zM1135 2155h1.8v1.8h-1.8zM1149 2173h1.6v1.6h-1.6zM1115 2130h1.8v1.8h-1.8zM1068 2064h1.5v1.5h-1.5zM1096 2128h1.3v1.3h-1.3zM997 2113h1.9v1.9h-1.9zM1166 2198h1.7v1.7h-1.7zM1218 2080h1.3v1.3h-1.3zM1068 2034h1.8v1.8h-1.8zM1213 2242h1.3v1.3h-1.3zM1356 2263h1.6v1.6h-1.6zM1145 2222h2.1v2.1h-2.1zM1066 2038h1.3v1.3h-1.3zM1067 2105h1.5v1.5h-1.5zM1143 2145h1.9v1.9h-1.9zM1056 2179h2.2v2.2h-2.2zM1187 2146h1.7v1.7h-1.7zM1352 2203h1.9v1.9h-1.9zM963 2147h1.6v1.6h-1.6zM955 2260h2.1v2.1h-2.1zM1182 2259h2.0v2.0h-2.0zM957 2212h1.7v1.7h-1.7zM1184 2204h1.5v1.5h-1.5zM873 2231h1.8v1.8h-1.8zM1247 2191h1.3v1.3h-1.3zM958 2178h1.9v1.9h-1.9zM1005 2258h1.5v1.5h-1.5zM1077 2265h1.9v1.9h-1.9zM1270 2230h1.8v1.8h-1.8zM1134 2211h1.7v1.7h-1.7zM1230 2261h2.2v2.2h-2.2zM1186 2171h1.7v1.7h-1.7zM997 2242h1.4v1.4h-1.4zM1025 2127h1.4v1.4h-1.4zM1074 2041h1.9v1.9h-1.9z" fill="rgb(220,80,70)" fill-opacity="0.3"/></g><path d="M782.0 2267.6L1104.6 1945.0L1427.2 2267.6Z" fill="none" stroke="#111" stroke-width="1.7"/>
<path d="M1166.6 2066.6L1128.4 2048.7L1151.8 2050.9L1151.8 2028.3Z" fill="rgb(167,169,172)"/>
<clipPath id="ct9"><path d="M1453.2 2267.5L1775.4 1945.3L2097.6 2267.5Z"/></clipPath><filter id="st9" x="-30%" y="-30%" width="160%" height="160%"><feGaussianBlur stdDeviation="2.5"/></filter><g clip-path="url(#ct9)"><linearGradient id="gt9" x1="0" y1="1945.3" x2="0" y2="2267.5" gradientUnits="userSpaceOnUse"><stop offset="0" stop-color="rgb(253, 243, 238)"/><stop offset="0.55" stop-color="rgb(252, 238, 232)"/><stop offset="0.8" stop-color="rgb(250, 229, 221)"/><stop offset="0.93" stop-color="rgb(249, 220, 210)"/><stop offset="1" stop-color="rgb(246, 205, 192)"/></linearGradient><rect x="1453.2" y="1945.3" width="644.4" height="322.2" fill="url(#gt9)"/><filter id="ft9" x="-20%" y="-20%" width="140%" height="140%"><feGaussianBlur stdDeviation="4"/></filter><g filter="url(#ft9)"><path d="M1831.7 2079.9L1847.3 2064.3L1867.1 2084.1L1851.5 2099.7Z" fill="rgb(215, 70, 60)" fill-opacity="0.6"/><path d="M1764.2 2143.3L1813.7 2093.8L1830.6 2110.7L1781.1 2160.2Z" fill="rgb(236, 140, 120)" fill-opacity="0.28"/><path d="M1750.7 2182.7L1793.1 2140.3L1810.1 2157.3L1767.7 2199.7Z" fill="rgb(240, 160, 140)" fill-opacity="0.2"/></g><linearGradient id="dt9" x1="0" y1="2137.5" x2="0" y2="2267.5" gradientUnits="userSpaceOnUse"><stop offset="0" stop-color="rgb(240,160,140)" stop-opacity="0.12"/><stop offset="0.6" stop-color="rgb(236,135,115)" stop-opacity="0.35"/><stop offset="0.82" stop-color="rgb(220,80,65)" stop-opacity="0.65"/><stop offset="0.93" stop-color="rgb(180,30,35)" stop-opacity="0.9"/><stop offset="1" stop-color="rgb(120,8,22)" stop-opacity="1"/></linearGradient><path d="M1452.4 2267.5L1565.4 2154.5L1678.4 2267.5Z" fill="url(#dt9)" fill-opacity="0.55"/><path d="M1678.4 2267.5L1772.9 2173.0L1867.4 2267.5Z" fill="url(#dt9)" fill-opacity="0.7"/><path d="M1867.4 2267.5L1932.4 2202.5L1997.4 2267.5Z" fill="url(#dt9)" fill-opacity="0.75"/><path d="M1997.4 2267.5L2048.9 2216.0L2100.4 2267.5Z" fill="url(#dt9)" fill-opacity="0.6"/><path d="M1692.4 2267.5L1711.4 2248.5L1730.4 2267.5Z" fill="url(#dt9)" fill-opacity="0.9"/><path d="M1722.4 2267.5L1740.4 2249.5L1758.4 2267.5Z" fill="url(#dt9)" fill-opacity="0.7"/><path d="M1907.4 2267.5L1929.9 2245.0L1952.4 2267.5Z" fill="url(#dt9)" fill-opacity="0.9"/><path d="M1947.4 2267.5L1965.9 2249.0L1984.4 2267.5Z" fill="url(#dt9)" fill-opacity="0.9"/><path d="M2042.4 2267.5L2067.4 2242.5L2092.4 2267.5Z" fill="url(#dt9)" fill-opacity="0.5"/><path d="M1452.4 2267.5L1482.4 2237.5L1512.4 2267.5Z" fill="url(#dt9)" fill-opacity="0.3"/><path d="M1512.4 2267.5L1547.4 2232.5L1582.4 2267.5Z" fill="url(#dt9)" fill-opacity="0.25"/><path d="M1582.4 2267.5L1617.4 2232.5L1652.4 2267.5Z" fill="url(#dt9)" fill-opacity="0.25"/><path d="M1772.4 2267.5L1802.4 2237.5L1832.4 2267.5Z" fill="url(#dt9)" fill-opacity="0.3"/><rect x="1453.2" y="1945.3" width="644.4" height="322.2" filter="url(#hicnoise)" opacity="0.2"/><linearGradient id="bt9" x1="0" y1="2251.5" x2="0" y2="2267.5" gradientUnits="userSpaceOnUse"><stop offset="0" stop-color="rgb(248, 205, 190)" stop-opacity="0"/><stop offset="0.5" stop-color="rgb(235, 130, 110)" stop-opacity="0.4"/><stop offset="0.8" stop-color="rgb(190, 30, 35)" stop-opacity="0.8"/><stop offset="1" stop-color="rgb(110, 5, 20)" stop-opacity="1"/></linearGradient><rect x="1453.2" y="2251.5" width="644.4" height="16.0" fill="url(#bt9)"/><g filter="url(#st9)"><path d="M1688.5 2262.5L1709.4 2237.4L1730.3 2262.5Z" fill="rgb(215,60,50)" fill-opacity="0.45"/><path d="M1912.5 2262.5L1933.4 2241.6L1954.3 2262.5Z" fill="rgb(215,60,50)" fill-opacity="0.40"/><path d="M1945.5 2262.5L1966.4 2241.6L1987.3 2262.5Z" fill="rgb(215,60,50)" fill-opacity="0.40"/></g><path d="M1698.4 2262.5L1709.4 2249.3L1720.4 2262.5Z" fill="rgb(112,6,22)" fill-opacity="0.90"/><path d="M1922.4 2262.5L1933.4 2251.5L1944.4 2262.5Z" fill="rgb(112,6,22)" fill-opacity="0.80"/><path d="M1955.4 2262.5L1966.4 2251.5L1977.4 2262.5Z" fill="rgb(112,6,22)" fill-opacity="0.80"/><rect x="1453.2" y="2262.0" width="644.4" height="5.5" fill="rgb(105,4,20)"/><circle cx="1842.0" cy="2085.0" r="5.5" fill="rgb(230,90,75)" fill-opacity="0.32"/><circle cx="1842.0" cy="2085.0" r="2.5" fill="rgb(150, 10, 25)" fill-opacity="0.9"/><circle cx="1846.0" cy="2090.0" r="4.4" fill="rgb(230,90,75)" fill-opacity="0.28"/><circle cx="1846.0" cy="2090.0" r="2" fill="rgb(150, 10, 25)" fill-opacity="0.8"/><path d="M1752 2066h1.3v1.3h-1.3zM1777 2235h1.3v1.3h-1.3zM1810 2144h1.2v1.2h-1.2zM1697 2172h1.7v1.7h-1.7zM1779 2243h1.8v1.8h-1.8zM1641 2163h1.9v1.9h-1.9zM1634 2206h1.4v1.4h-1.4zM2024 2229h1.3v1.3h-1.3zM1697 2104h1.2v1.2h-1.2zM1727 2237h1.3v1.3h-1.3zM1826 2234h1.4v1.4h-1.4zM1710 2151h1.3v1.3h-1.3zM1827 2001h1.8v1.8h-1.8zM1811 2141h1.3v1.3h-1.3zM1626 2266h2.2v2.2h-2.2zM1689 2163h1.8v1.8h-1.8zM1677 2224h1.8v1.8h-1.8zM1744 2075h2.2v2.2h-2.2zM1733 2014h1.6v1.6h-1.6zM1956 2205h1.7v1.7h-1.7zM1602 2256h1.6v1.6h-1.6zM1694 2222h1.6v1.6h-1.6zM1486 2260h1.4v1.4h-1.4zM2063 2263h1.8v1.8h-1.8zM1847 2257h1.6v1.6h-1.6zM1811 2170h1.3v1.3h-1.3zM1744 2172h2.0v2.0h-2.0zM1700 2231h1.4v1.4h-1.4zM1914 2194h2.1v2.1h-2.1zM1772 1977h1.2v1.2h-1.2zM1794 2001h1.8v1.8h-1.8zM1814 2070h1.4v1.4h-1.4zM1764 2250h1.7v1.7h-1.7zM1804 2114h1.7v1.7h-1.7zM1867 2120h1.5v1.5h-1.5zM1920 2178h1.3v1.3h-1.3zM1904 2091h1.7v1.7h-1.7zM1842 2066h2.1v2.1h-2.1zM1602 2211h1.9v1.9h-1.9zM1856 2227h1.2v1.2h-1.2zM1838 2143h1.9v1.9h-1.9zM1682 2097h1.7v1.7h-1.7zM1668 2198h1.2v1.2h-1.2zM2082 2263h2.0v2.0h-2.0zM1602 2197h1.4v1.4h-1.4zM1531 2248h2.2v2.2h-2.2zM1693 2184h1.7v1.7h-1.7zM1790 2064h1.8v1.8h-1.8zM1787 2009h1.6v1.6h-1.6zM1520 2203h1.3v1.3h-1.3zM1615 2220h1.8v1.8h-1.8zM1969 2260h2.0v2.0h-2.0zM2034 2245h2.1v2.1h-2.1zM2046 2257h1.3v1.3h-1.3zM1843 2104h1.5v1.5h-1.5zM1751 2142h1.8v1.8h-1.8zM1737 2005h1.6v1.6h-1.6zM1804 2006h1.9v1.9h-1.9zM1856 2054h1.6v1.6h-1.6zM1844 2191h2.1v2.1h-2.1zM1802 2053h1.2v1.2h-1.2zM1809 2097h2.1v2.1h-2.1zM1662 2214h1.7v1.7h-1.7zM1637 2117h1.3v1.3h-1.3zM1984 2266h1.8v1.8h-1.8zM1708 2232h1.7v1.7h-1.7zM1660 2069h1.4v1.4h-1.4zM1848 2225h1.8v1.8h-1.8zM1744 2164h1.4v1.4h-1.4zM1667 2186h1.5v1.5h-1.5zM1840 2121h2.1v2.1h-2.1zM1955 2161h1.3v1.3h-1.3zM1803 2236h1.4v1.4h-1.4zM1584 2166h1.6v1.6h-1.6zM1999 2267h2.1v2.1h-2.1zM1914 2105h1.3v1.3h-1.3zM1752 2149h2.2v2.2h-2.2zM1811 2241h2.2v2.2h-2.2zM1795 2246h1.7v1.7h-1.7zM1885 2259h1.4v1.4h-1.4zM1828 2010h2.0v2.0h-2.0zM1715 2196h1.7v1.7h-1.7zM1823 2010h1.9v1.9h-1.9zM1790 2132h2.0v2.0h-2.0zM1962 2242h1.4v1.4h-1.4zM1698 2255h1.6v1.6h-1.6zM1637 2101h1.4v1.4h-1.4zM1514 2256h1.7v1.7h-1.7zM1617 2143h2.1v2.1h-2.1zM1794 2046h2.1v2.1h-2.1zM1753 1985h1.5v1.5h-1.5zM1863 2247h1.6v1.6h-1.6zM1865 2049h2.1v2.1h-2.1zM1995 2174h1.6v1.6h-1.6zM1813 2173h1.3v1.3h-1.3zM1908 2174h2.1v2.1h-2.1zM1781 2218h1.6v1.6h-1.6zM1880 2234h1.5v1.5h-1.5zM1785 2233h1.2v1.2h-1.2zM1748 2038h2.0v2.0h-2.0zM1796 2186h1.3v1.3h-1.3zM2021 2210h1.9v1.9h-1.9zM1871 2203h1.8v1.8h-1.8zM1734 2071h2.1v2.1h-2.1zM2081 2254h2.2v2.2h-2.2zM1583 2142h1.6v1.6h-1.6zM1630 2258h1.4v1.4h-1.4zM1933 2232h1.4v1.4h-1.4zM1758 2156h1.7v1.7h-1.7zM1938 2153h1.5v1.5h-1.5zM1892 2194h1.7v1.7h-1.7zM1834 2150h1.7v1.7h-1.7zM1955 2179h1.3v1.3h-1.3zM1761 2135h1.7v1.7h-1.7zM1903 2118h2.1v2.1h-2.1zM1637 2172h1.3v1.3h-1.3zM1782 2088h1.7v1.7h-1.7zM1658 2099h2.1v2.1h-2.1zM1663 2171h2.1v2.1h-2.1zM1965 2141h2.0v2.0h-2.0zM1744 2208h1.7v1.7h-1.7zM1989 2230h1.8v1.8h-1.8zM1764 2039h1.3v1.3h-1.3zM1509 2238h1.3v1.3h-1.3zM1943 2208h1.5v1.5h-1.5zM1909 2259h1.9v1.9h-1.9zM1771 2118h1.6v1.6h-1.6zM1611 2170h1.5v1.5h-1.5zM1775 2139h2.0v2.0h-2.0zM1703 2121h2.0v2.0h-2.0zM1752 2064h1.4v1.4h-1.4zM1742 2233h2.1v2.1h-2.1zM1914 2168h1.8v1.8h-1.8zM1762 2079h1.5v1.5h-1.5zM1760 2029h1.6v1.6h-1.6zM1869 2154h1.2v1.2h-1.2zM1958 2227h1.9v1.9h-1.9zM1790 2218h2.1v2.1h-2.1zM2001 2175h1.3v1.3h-1.3zM1972 2153h1.7v1.7h-1.7zM1734 2261h1.4v1.4h-1.4zM1625 2185h1.3v1.3h-1.3zM2002 2192h1.9v1.9h-1.9zM2053 2244h1.8v1.8h-1.8zM1728 2174h1.5v1.5h-1.5zM1545 2181h1.9v1.9h-1.9zM1797 2048h1.9v1.9h-1.9zM1742 2105h1.4v1.4h-1.4zM1757 2012h1.6v1.6h-1.6zM1757 2082h1.9v1.9h-1.9zM1669 2146h1.9v1.9h-1.9zM1540 2210h1.3v1.3h-1.3zM1619 2213h1.3v1.3h-1.3z" fill="rgb(220,80,70)" fill-opacity="0.3"/></g><path d="M1453.2 2267.5L1775.4 1945.3L2097.6 2267.5Z" fill="none" stroke="#111" stroke-width="1.7"/>
<path d="M1838.9 2067.6L1800.2 2049.8L1823.5 2051.6L1822.7 2028.2Z" fill="rgb(167,169,172)"/>
<path d="M1859.4 2103.1L1898.8 2118.8L1875.2 2118.2L1876.3 2141.3Z" fill="#231f20"/>
<text x="86.6" y="1027.7" font-size="20">172.65</text>
<text x="730.5" y="1027.7" font-size="20" text-anchor="end">174.6Mb</text>
<text x="773.3" y="1027.7" font-size="20">172.65</text>
<text x="1416.0" y="1027.7" font-size="20" text-anchor="end">174.6Mb</text>
<text x="1453.7" y="1027.7" font-size="20">172.65</text>
<text x="2097.5" y="1027.7" font-size="20" text-anchor="end">174.6Mb</text>
<text x="98.6" y="1649.0" font-size="20">99.1</text>
<text x="743.0" y="1649.0" font-size="20" text-anchor="end">109.8Mb</text>
<text x="781.6" y="1649.0" font-size="20">99.1</text>
<text x="1426.0" y="1649.0" font-size="20" text-anchor="end">109.8Mb</text>
<text x="1453.2" y="1649.0" font-size="20">99.1</text>
<text x="2097.5" y="1649.0" font-size="20" text-anchor="end">109.8Mb</text>
<text x="628.2" y="887.7" font-size="20.5" transform="rotate(45 628.2 887.7)">10 Kb resoultion</text>
<text x="1313.1" y="888.5" font-size="20.5" transform="rotate(45 1313.1 888.5)">10 Kb resoultion</text>
<text x="1995.0" y="887.5" font-size="20.5" transform="rotate(45 1995.0 887.5)">10 Kb resoultion</text>
<text x="2.0" y="1061.3" font-size="28.5">Olfr16</text>
<text x="2.0" y="1090.9" font-size="28.5" fill="rgb(0,107,58)">Greek Islands</text>
<text x="2.0" y="1119.5" font-size="28.5" fill="rgb(226,32,40)">OR Clusters</text>
<rect x="179.0" y="1034.5" width="4.4" height="25" fill="#231f20"/>
<rect x="268.0" y="1067.6" width="4" height="25" fill="rgb(0,107,58)"/>
<rect x="273.8" y="1067.6" width="4" height="25" fill="rgb(0,107,58)"/>
<rect x="290.0" y="1067.6" width="4" height="25" fill="rgb(0,107,58)"/>
<rect x="543.5" y="1067.6" width="4" height="25" fill="rgb(0,107,58)"/>
<rect x="645.0" y="1067.6" width="4" height="25" fill="rgb(0,107,58)"/>
<rect x="174.5" y="1100.3" width="116.3" height="25.1" fill="rgb(237,28,36)"/>
<rect x="539.0" y="1100.3" width="137.6" height="25.1" fill="rgb(237,28,36)"/>
<rect x="863.5" y="1034.5" width="4.4" height="25" fill="#231f20"/>
<rect x="952.5" y="1067.6" width="4" height="25" fill="rgb(0,107,58)"/>
<rect x="958.3" y="1067.6" width="4" height="25" fill="rgb(0,107,58)"/>
<rect x="974.5" y="1067.6" width="4" height="25" fill="rgb(0,107,58)"/>
<rect x="1228.0" y="1067.6" width="4" height="25" fill="rgb(0,107,58)"/>
<rect x="1329.5" y="1067.6" width="4" height="25" fill="rgb(0,107,58)"/>
<rect x="859.0" y="1100.3" width="116.3" height="25.1" fill="rgb(237,28,36)"/>
<rect x="1223.5" y="1100.3" width="137.6" height="25.1" fill="rgb(237,28,36)"/>
<rect x="1546.0" y="1034.5" width="4.4" height="25" fill="#231f20"/>
<rect x="1635.0" y="1067.6" width="4" height="25" fill="rgb(0,107,58)"/>
<rect x="1640.8" y="1067.6" width="4" height="25" fill="rgb(0,107,58)"/>
<rect x="1657.0" y="1067.6" width="4" height="25" fill="rgb(0,107,58)"/>
<rect x="1910.5" y="1067.6" width="4" height="25" fill="rgb(0,107,58)"/>
<rect x="2012.0" y="1067.6" width="4" height="25" fill="rgb(0,107,58)"/>
<rect x="1541.5" y="1100.3" width="116.3" height="25.1" fill="rgb(237,28,36)"/>
<rect x="1906.0" y="1100.3" width="137.6" height="25.1" fill="rgb(237,28,36)"/>
<path d="M225.2 1142.8H589.9M225.2 1133V1153M589.9 1133V1153" stroke="#231f20" stroke-width="1.8" fill="none"/>
<text x="408.0" y="1173.4" font-size="25" text-anchor="middle">1.1Mb</text>
<text x="2.0" y="1681.4" font-size="28.5">Olfr17</text>
<text x="2.0" y="1711.0" font-size="28.5" fill="rgb(0,107,58)">GI</text>
<text x="2.0" y="1746.0" font-size="28.5" fill="rgb(226,32,40)">OR</text>
<rect x="566.0" y="1654.6" width="4.4" height="25.5" fill="#231f20"/>
<rect x="75.3" y="1688.6" width="4" height="24" fill="rgb(0,107,58)"/>
<rect x="132.7" y="1688.6" width="4" height="24" fill="rgb(0,107,58)"/>
<rect x="300.6" y="1688.6" width="4" height="24" fill="rgb(0,107,58)"/>
<rect x="312.5" y="1688.6" width="4" height="24" fill="rgb(0,107,58)"/>
<rect x="715.0" y="1688.6" width="4" height="24" fill="rgb(0,107,58)"/>
<rect x="118.0" y="1722.6" width="21.4" height="24.7" fill="rgb(237,28,36)"/>
<rect x="298.8" y="1722.6" width="201.8" height="24.7" fill="rgb(237,28,36)"/>
<rect x="519.3" y="1722.6" width="55.3" height="24.7" fill="rgb(237,28,36)"/>
<rect x="685.0" y="1722.6" width="37.5" height="24.7" fill="rgb(237,28,36)"/>
<rect x="1259.7" y="1654.6" width="4.4" height="25.5" fill="#231f20"/>
<rect x="816.2" y="1688.6" width="4" height="24" fill="rgb(0,107,58)"/>
<rect x="826.3" y="1688.6" width="4" height="24" fill="rgb(0,107,58)"/>
<rect x="994.3" y="1688.6" width="4" height="24" fill="rgb(0,107,58)"/>
<rect x="1006.2" y="1688.6" width="4" height="24" fill="rgb(0,107,58)"/>
<rect x="1408.7" y="1688.6" width="4" height="24" fill="rgb(0,107,58)"/>
<rect x="811.7" y="1722.6" width="21.4" height="24.7" fill="rgb(237,28,36)"/>
<rect x="992.5" y="1722.6" width="201.8" height="24.7" fill="rgb(237,28,36)"/>
<rect x="1213.0" y="1722.6" width="55.3" height="24.7" fill="rgb(237,28,36)"/>
<rect x="1378.7" y="1722.6" width="37.5" height="24.7" fill="rgb(237,28,36)"/>
<rect x="1922.5" y="1654.6" width="4.4" height="25.5" fill="#231f20"/>
<rect x="1479.0" y="1688.6" width="4" height="24" fill="rgb(0,107,58)"/>
<rect x="1489.1" y="1688.6" width="4" height="24" fill="rgb(0,107,58)"/>
<rect x="1657.1" y="1688.6" width="4" height="24" fill="rgb(0,107,58)"/>
<rect x="1669.0" y="1688.6" width="4" height="24" fill="rgb(0,107,58)"/>
<rect x="2071.5" y="1688.6" width="4" height="24" fill="rgb(0,107,58)"/>
<rect x="1474.5" y="1722.6" width="21.4" height="24.7" fill="rgb(237,28,36)"/>
<rect x="1655.3" y="1722.6" width="201.8" height="24.7" fill="rgb(237,28,36)"/>
<rect x="1875.8" y="1722.6" width="55.3" height="24.7" fill="rgb(237,28,36)"/>
<rect x="2041.5" y="1722.6" width="37.5" height="24.7" fill="rgb(237,28,36)"/>
<path d="M884 1764.3H1323.9M884 1755V1774M1323.9 1755V1774" stroke="#231f20" stroke-width="1.8" fill="none"/>
<text x="1103.7" y="1792.0" font-size="25" text-anchor="middle">20Mb</text>
<text x="2.0" y="2317.3" font-size="28.5">Olfr1507</text>
<text x="2.0" y="2347.0" font-size="28.5" fill="rgb(0,107,58)">GI</text>
<text x="2.0" y="2381.0" font-size="28.5" fill="rgb(226,32,40)">OR</text>
<rect x="689.7" y="2286.7" width="4.4" height="25" fill="#231f20"/>
<rect x="305.3" y="2322.9" width="4" height="24.5" fill="rgb(0,107,58)"/>
<rect x="701.4" y="2322.9" width="4" height="24.5" fill="rgb(0,107,58)"/>
<rect x="111.8" y="2357" width="208.6" height="24.6" fill="rgb(237,28,36)"/>
<rect x="639.6" y="2357" width="73.1" height="24.6" fill="rgb(237,28,36)"/>
<rect x="1378.7" y="2286.7" width="4.4" height="25" fill="#231f20"/>
<rect x="994.3" y="2322.9" width="4" height="24.5" fill="rgb(0,107,58)"/>
<rect x="1390.4" y="2322.9" width="4" height="24.5" fill="rgb(0,107,58)"/>
<rect x="796.9" y="2357" width="208.6" height="24.6" fill="rgb(237,28,36)"/>
<rect x="1323.9" y="2357" width="73.1" height="24.6" fill="rgb(237,28,36)"/>
<rect x="2047.7" y="2286.7" width="4.4" height="25" fill="#231f20"/>
<rect x="1663.3" y="2322.9" width="4" height="24.5" fill="rgb(0,107,58)"/>
<rect x="2059.4" y="2322.9" width="4" height="24.5" fill="rgb(0,107,58)"/>
<rect x="1466.2" y="2357" width="208.6" height="24.6" fill="rgb(237,28,36)"/>
<rect x="2002.5" y="2357" width="73.1" height="24.6" fill="rgb(237,28,36)"/>
<path d="M1583.4 2405.5H1967M1583.4 2396V2415M1967 2396V2415" stroke="#231f20" stroke-width="1.8" fill="none"/>
<text x="1776.6" y="2437.0" font-size="25" text-anchor="middle">1.7Mb</text>
<g><defs><g id="ring"><path d="M0.92 -176.00A176 176 0 0 1 3.50 -175.97L3.35 -168.47A168.5 168.5 0 0 0 0.88 -168.50Z" fill="rgb(40,35,30)"/><path d="M3.34 -175.97A176 176 0 0 1 4.99 -175.93L4.78 -168.43A168.5 168.5 0 0 0 3.20 -168.47Z" fill="rgb(217,211,202)"/><path d="M4.84 -175.93A176 176 0 0 1 6.43 -175.88L6.16 -168.39A168.5 168.5 0 0 0 4.63 -168.44Z" fill="rgb(225,219,209)"/><path d="M6.28 -175.89A176 176 0 0 1 9.26 -175.76L8.86 -168.27A168.5 168.5 0 0 0 6.01 -168.39Z" fill="rgb(57,52,46)"/><path d="M9.11 -175.76A176 176 0 0 1 12.05 -175.59L11.53 -168.10A168.5 168.5 0 0 0 8.72 -168.27Z" fill="rgb(223,217,207)"/><path d="M11.89 -175.60A176 176 0 0 1 14.09 -175.43L13.49 -167.96A168.5 168.5 0 0 0 11.39 -168.11Z" fill="rgb(204,198,188)"/><path d="M13.94 -175.45A176 176 0 0 1 17.44 -175.13L16.69 -167.67A168.5 168.5 0 0 0 13.35 -167.97Z" fill="rgb(119,114,107)"/><path d="M17.28 -175.15A176 176 0 0 1 18.83 -174.99L18.03 -167.53A168.5 168.5 0 0 0 16.55 -167.69Z" fill="rgb(219,213,203)"/><path d="M18.68 -175.01A176 176 0 0 1 20.58 -174.79L19.70 -167.34A168.5 168.5 0 0 0 17.88 -167.55Z" fill="rgb(50,45,40)"/><path d="M20.43 -174.81A176 176 0 0 1 24.78 -174.25L23.72 -166.82A168.5 168.5 0 0 0 19.55 -167.36Z" fill="rgb(42,37,32)"/><path d="M24.63 -174.27A176 176 0 0 1 28.32 -173.71L27.12 -166.30A168.5 168.5 0 0 0 23.58 -166.84Z" fill="rgb(140,135,127)"/><path d="M28.17 -173.73A176 176 0 0 1 29.76 -173.47L28.49 -166.07A168.5 168.5 0 0 0 26.97 -166.33Z" fill="rgb(53,48,43)"/><path d="M29.61 -173.49A176 176 0 0 1 33.44 -172.79L32.01 -165.43A168.5 168.5 0 0 0 28.35 -166.10Z" fill="rgb(152,146,138)"/><path d="M33.29 -172.82A176 176 0 0 1 36.76 -172.12L35.19 -164.78A168.5 168.5 0 0 0 31.87 -165.46Z" fill="rgb(153,147,139)"/><path d="M36.61 -172.15A176 176 0 0 1 40.81 -171.20L39.07 -163.91A168.5 168.5 0 0 0 35.05 -164.81Z" fill="rgb(220,214,204)"/><path d="M40.66 -171.24A176 176 0 0 1 44.06 -170.40L42.18 -163.13A168.5 168.5 0 0 0 38.93 -163.94Z" fill="rgb(205,200,190)"/><path d="M43.91 -170.43A176 176 0 0 1 47.84 -169.37L45.80 -162.16A168.5 168.5 0 0 0 42.04 -163.17Z" fill="rgb(31,26,21)"/><path d="M47.69 -169.41A176 176 0 0 1 49.44 -168.91L47.33 -161.72A168.5 168.5 0 0 0 45.66 -162.20Z" fill="rgb(130,125,117)"/><path d="M49.29 -168.96A176 176 0 0 1 51.15 -168.40L48.97 -161.23A168.5 168.5 0 0 0 47.19 -161.76Z" fill="rgb(165,160,151)"/><path d="M51.01 -168.45A176 176 0 0 1 54.68 -167.29L52.35 -160.16A168.5 168.5 0 0 0 48.83 -161.27Z" fill="rgb(213,207,197)"/><path d="M54.53 -167.34A176 176 0 0 1 58.89 -165.85L56.38 -158.79A168.5 168.5 0 0 0 52.21 -160.21Z" fill="rgb(133,128,120)"/><path d="M58.75 -165.91A176 176 0 0 1 62.10 -164.68L59.46 -157.66A168.5 168.5 0 0 0 56.24 -158.84Z" fill="rgb(215,209,200)"/><path d="M61.96 -164.73A176 176 0 0 1 66.13 -163.10L63.31 -156.15A168.5 168.5 0 0 0 59.32 -157.71Z" fill="rgb(215,209,199)"/><path d="M65.99 -163.16A176 176 0 0 1 69.52 -161.69L66.56 -154.80A168.5 168.5 0 0 0 63.18 -156.21Z" fill="rgb(39,34,29)"/><path d="M69.38 -161.75A176 176 0 0 1 72.83 -160.22L69.73 -153.40A168.5 168.5 0 0 0 66.43 -154.85Z" fill="rgb(207,201,191)"/><path d="M72.69 -160.29A176 176 0 0 1 74.90 -159.27L71.71 -152.48A168.5 168.5 0 0 0 69.59 -153.46Z" fill="rgb(134,129,121)"/><path d="M74.76 -159.33A176 176 0 0 1 76.08 -158.71L72.84 -151.94A168.5 168.5 0 0 0 71.57 -152.54Z" fill="rgb(159,153,145)"/><path d="M75.94 -158.77A176 176 0 0 1 77.58 -157.98L74.27 -151.25A168.5 168.5 0 0 0 72.71 -152.01Z" fill="rgb(37,32,27)"/><path d="M77.44 -158.05A176 176 0 0 1 78.41 -157.57L75.07 -150.85A168.5 168.5 0 0 0 74.14 -151.31Z" fill="rgb(48,43,37)"/><path d="M82.64 -155.39A176 176 0 0 1 86.67 -153.18L82.98 -146.65A168.5 168.5 0 0 0 79.12 -148.77Z" fill="rgb(44,49,39)"/><path d="M86.54 -153.26A176 176 0 0 1 89.49 -151.55L85.67 -145.09A168.5 168.5 0 0 0 82.85 -146.73Z" fill="rgb(188,193,183)"/><path d="M89.35 -151.63A176 176 0 0 1 93.26 -149.26L89.28 -142.90A168.5 168.5 0 0 0 85.55 -145.17Z" fill="rgb(45,50,40)"/><path d="M93.13 -149.34A176 176 0 0 1 95.41 -147.89L91.35 -141.59A168.5 168.5 0 0 0 89.16 -142.98Z" fill="rgb(185,190,180)"/><path d="M95.28 -147.98A176 176 0 0 1 96.91 -146.92L92.78 -140.66A168.5 168.5 0 0 0 91.22 -141.67Z" fill="rgb(50,55,45)"/><path d="M96.78 -147.00A176 176 0 0 1 98.64 -145.76L94.44 -139.55A168.5 168.5 0 0 0 92.66 -140.74Z" fill="rgb(127,132,122)"/><path d="M98.52 -145.84A176 176 0 0 1 100.46 -144.51L96.18 -138.36A168.5 168.5 0 0 0 94.32 -139.63Z" fill="rgb(45,50,40)"/><path d="M100.33 -144.60A176 176 0 0 1 102.57 -143.02L98.20 -136.93A168.5 168.5 0 0 0 96.05 -138.44Z" fill="rgb(185,190,180)"/><path d="M102.45 -143.11A176 176 0 0 1 105.62 -140.79L101.11 -134.79A168.5 168.5 0 0 0 98.08 -137.01Z" fill="rgb(192,197,187)"/><path d="M105.49 -140.88A176 176 0 0 1 108.57 -138.52L103.94 -132.62A168.5 168.5 0 0 0 101.00 -134.88Z" fill="rgb(33,38,28)"/><path d="M108.45 -138.62A176 176 0 0 1 111.77 -135.96L107.01 -130.16A168.5 168.5 0 0 0 103.83 -132.71Z" fill="rgb(188,193,183)"/><path d="M111.65 -136.05A176 176 0 0 1 113.82 -134.24L108.97 -128.52A168.5 168.5 0 0 0 106.89 -130.26Z" fill="rgb(148,153,143)"/><path d="M113.70 -134.34A176 176 0 0 1 116.52 -131.91L111.55 -126.29A168.5 168.5 0 0 0 108.86 -128.62Z" fill="rgb(54,59,49)"/><path d="M116.40 -132.01A176 176 0 0 1 118.01 -130.58L112.98 -125.01A168.5 168.5 0 0 0 111.44 -126.38Z" fill="rgb(47,52,42)"/><path d="M117.89 -130.68A176 176 0 0 1 119.06 -129.62L113.99 -124.09A168.5 168.5 0 0 0 112.87 -125.11Z" fill="rgb(52,57,47)"/><path d="M118.95 -129.72A176 176 0 0 1 120.24 -128.53L115.11 -123.05A168.5 168.5 0 0 0 113.88 -124.19Z" fill="rgb(151,156,146)"/><path d="M120.12 -128.63A176 176 0 0 1 123.45 -125.45L118.19 -120.10A168.5 168.5 0 0 0 115.00 -123.15Z" fill="rgb(202,207,197)"/><path d="M123.34 -125.55A176 176 0 0 1 124.98 -123.92L119.65 -118.64A168.5 168.5 0 0 0 118.08 -120.20Z" fill="rgb(137,142,132)"/><path d="M124.87 -124.03A176 176 0 0 1 126.16 -122.72L120.78 -117.49A168.5 168.5 0 0 0 119.55 -118.75Z" fill="rgb(184,189,179)"/><path d="M126.05 -122.83A176 176 0 0 1 128.19 -120.59L122.73 -115.45A168.5 168.5 0 0 0 120.68 -117.60Z" fill="rgb(149,154,144)"/><path d="M128.09 -120.71A176 176 0 0 1 129.29 -119.42L123.78 -114.33A168.5 168.5 0 0 0 122.63 -115.56Z" fill="rgb(141,146,136)"/><path d="M129.18 -119.53A176 176 0 0 1 132.15 -116.24L126.52 -111.28A168.5 168.5 0 0 0 123.68 -114.44Z" fill="rgb(56,61,51)"/><path d="M132.05 -116.35A176 176 0 0 1 135.23 -112.64L129.47 -107.84A168.5 168.5 0 0 0 126.43 -111.39Z" fill="rgb(202,207,197)"/><path d="M135.13 -112.76A176 176 0 0 1 137.28 -110.14L131.43 -105.45A168.5 168.5 0 0 0 129.38 -107.95Z" fill="rgb(42,47,37)"/><path d="M137.18 -110.26A176 176 0 0 1 139.48 -107.33L133.54 -102.76A168.5 168.5 0 0 0 131.34 -105.56Z" fill="rgb(190,195,185)"/><path d="M142.33 -103.52A176 176 0 0 1 143.70 -101.62L137.58 -97.29A168.5 168.5 0 0 0 136.27 -99.11Z" fill="rgb(145,155,137)"/><path d="M143.61 -101.74A176 176 0 0 1 146.01 -98.26L139.79 -94.08A168.5 168.5 0 0 0 137.49 -97.41Z" fill="rgb(189,199,179)"/><path d="M145.93 -98.39A176 176 0 0 1 147.36 -96.23L141.09 -92.13A168.5 168.5 0 0 0 139.71 -94.20Z" fill="rgb(35,45,30)"/><path d="M147.28 -96.36A176 176 0 0 1 149.97 -92.12L143.57 -88.20A168.5 168.5 0 0 0 141.00 -92.25Z" fill="rgb(188,198,179)"/><path d="M149.88 -92.25A176 176 0 0 1 152.14 -88.48L145.66 -84.71A168.5 168.5 0 0 0 143.50 -88.32Z" fill="rgb(200,210,190)"/><path d="M152.07 -88.61A176 176 0 0 1 153.70 -85.75L147.15 -82.10A168.5 168.5 0 0 0 145.59 -84.84Z" fill="rgb(151,161,143)"/><path d="M153.62 -85.89A176 176 0 0 1 154.34 -84.59L147.76 -80.98A168.5 168.5 0 0 0 147.07 -82.23Z" fill="rgb(49,59,44)"/><path d="M154.27 -84.72A176 176 0 0 1 156.12 -81.25L149.47 -77.79A168.5 168.5 0 0 0 147.69 -81.11Z" fill="rgb(196,206,186)"/><path d="M156.05 -81.39A176 176 0 0 1 158.23 -77.07L151.49 -73.79A168.5 168.5 0 0 0 149.40 -77.92Z" fill="rgb(185,195,176)"/><path d="M158.16 -77.21A176 176 0 0 1 159.34 -74.75L152.55 -71.56A168.5 168.5 0 0 0 151.42 -73.92Z" fill="rgb(50,60,45)"/><path d="M159.27 -74.89A176 176 0 0 1 160.16 -72.98L153.33 -69.87A168.5 168.5 0 0 0 152.49 -71.70Z" fill="rgb(40,50,35)"/><path d="M160.09 -73.12A176 176 0 0 1 161.99 -68.81L155.09 -65.88A168.5 168.5 0 0 0 153.27 -70.00Z" fill="rgb(195,205,185)"/><path d="M161.93 -68.95A176 176 0 0 1 163.38 -65.45L156.41 -62.66A168.5 168.5 0 0 0 155.03 -66.02Z" fill="rgb(203,213,193)"/><path d="M163.32 -65.60A176 176 0 0 1 164.70 -62.04L157.69 -59.39A168.5 168.5 0 0 0 156.36 -62.80Z" fill="rgb(189,199,179)"/><path d="M164.65 -62.18A176 176 0 0 1 166.07 -58.28L158.99 -55.80A168.5 168.5 0 0 0 157.63 -59.53Z" fill="rgb(145,155,136)"/><path d="M166.02 -58.43A176 176 0 0 1 167.39 -54.36L160.26 -52.05A168.5 168.5 0 0 0 158.94 -55.94Z" fill="rgb(117,127,110)"/><path d="M167.35 -54.51A176 176 0 0 1 168.82 -49.77L161.62 -47.65A168.5 168.5 0 0 0 160.21 -52.19Z" fill="rgb(135,145,127)"/><path d="M168.77 -49.92A176 176 0 0 1 170.09 -45.23L162.84 -43.30A168.5 168.5 0 0 0 161.58 -47.79Z" fill="rgb(201,211,192)"/><path d="M170.05 -45.38A176 176 0 0 1 170.35 -44.24L163.09 -42.36A168.5 168.5 0 0 0 162.80 -43.44Z" fill="rgb(32,42,27)"/><path d="M171.48 -39.62A176 176 0 0 1 172.41 -35.36L165.06 -33.86A168.5 168.5 0 0 0 164.18 -37.93Z" fill="rgb(65,15,30)"/><path d="M172.38 -35.51A176 176 0 0 1 173.32 -30.61L165.93 -29.30A168.5 168.5 0 0 0 165.03 -34.00Z" fill="rgb(228,197,207)"/><path d="M173.29 -30.76A176 176 0 0 1 173.85 -27.40L166.45 -26.23A168.5 168.5 0 0 0 165.91 -29.45Z" fill="rgb(86,39,53)"/><path d="M173.83 -27.55A176 176 0 0 1 174.54 -22.64L167.10 -21.68A168.5 168.5 0 0 0 166.42 -26.38Z" fill="rgb(224,193,203)"/><path d="M174.52 -22.79A176 176 0 0 1 175.08 -18.00L167.62 -17.24A168.5 168.5 0 0 0 167.08 -21.82Z" fill="rgb(144,104,117)"/><path d="M175.06 -18.16A176 176 0 0 1 175.46 -13.75L167.99 -13.16A168.5 168.5 0 0 0 167.60 -17.38Z" fill="rgb(80,32,46)"/><path d="M175.45 -13.90A176 176 0 0 1 175.63 -11.44L168.14 -10.96A168.5 168.5 0 0 0 167.97 -13.31Z" fill="rgb(71,22,37)"/><path d="M175.62 -11.60A176 176 0 0 1 175.76 -9.26L168.27 -8.87A168.5 168.5 0 0 0 168.13 -11.10Z" fill="rgb(177,140,152)"/><path d="M175.75 -9.42A176 176 0 0 1 175.94 -4.68L168.44 -4.48A168.5 168.5 0 0 0 168.26 -9.02Z" fill="rgb(162,124,136)"/><path d="M175.93 -4.84A176 176 0 0 1 176.00 -1.31L168.50 -1.25A168.5 168.5 0 0 0 168.44 -4.63Z" fill="rgb(226,195,205)"/><path d="M175.99 -1.46A176 176 0 0 1 175.97 3.31L168.47 3.17A168.5 168.5 0 0 0 168.49 -1.40Z" fill="rgb(224,193,203)"/><path d="M175.97 3.15A176 176 0 0 1 175.88 6.46L168.39 6.19A168.5 168.5 0 0 0 168.47 3.02Z" fill="rgb(75,26,41)"/><path d="M175.89 6.31A176 176 0 0 1 175.80 8.37L168.31 8.01A168.5 168.5 0 0 0 168.39 6.04Z" fill="rgb(65,16,31)"/><path d="M175.81 8.21A176 176 0 0 1 175.70 10.23L168.22 9.79A168.5 168.5 0 0 0 168.32 7.86Z" fill="rgb(151,111,124)"/><path d="M175.71 10.07A176 176 0 0 1 175.48 13.50L168.00 12.92A168.5 168.5 0 0 0 168.22 9.64Z" fill="rgb(160,121,133)"/><path d="M175.49 13.35A176 176 0 0 1 175.20 16.76L167.73 16.05A168.5 168.5 0 0 0 168.01 12.78Z" fill="rgb(233,203,213)"/><path d="M175.21 16.61A176 176 0 0 1 174.86 20.04L167.40 19.18A168.5 168.5 0 0 0 167.75 15.90Z" fill="rgb(79,31,46)"/><path d="M174.87 19.89A176 176 0 0 1 174.34 24.08L166.92 23.06A168.5 168.5 0 0 0 167.42 19.04Z" fill="rgb(223,192,202)"/><path d="M174.37 23.93A176 176 0 0 1 174.26 24.67L166.84 23.62A168.5 168.5 0 0 0 166.94 22.91Z" fill="rgb(226,195,205)"/><path d="M173.53 29.38A176 176 0 0 1 172.89 32.96L165.52 31.56A168.5 168.5 0 0 0 166.14 28.13Z" fill="rgb(230,198,208)"/><path d="M172.91 32.81A176 176 0 0 1 172.14 36.67L164.80 35.11A168.5 168.5 0 0 0 165.55 31.41Z" fill="rgb(166,126,138)"/><path d="M172.17 36.52A176 176 0 0 1 171.49 39.59L164.18 37.90A168.5 168.5 0 0 0 164.83 34.96Z" fill="rgb(226,194,204)"/><path d="M171.52 39.44A176 176 0 0 1 170.43 43.92L163.17 42.05A168.5 168.5 0 0 0 164.21 37.76Z" fill="rgb(235,204,214)"/><path d="M170.47 43.77A176 176 0 0 1 169.58 47.10L162.35 45.09A168.5 168.5 0 0 0 163.21 41.91Z" fill="rgb(223,190,201)"/><path d="M169.62 46.95A176 176 0 0 1 169.11 48.77L161.90 46.69A168.5 168.5 0 0 0 162.39 44.95Z" fill="rgb(84,31,46)"/><path d="M169.15 48.62A176 176 0 0 1 168.69 50.20L161.50 48.07A168.5 168.5 0 0 0 161.94 46.55Z" fill="rgb(94,42,56)"/><path d="M168.73 50.06A176 176 0 0 1 167.60 53.74L160.45 51.45A168.5 168.5 0 0 0 161.54 47.92Z" fill="rgb(222,189,200)"/><path d="M167.64 53.59A176 176 0 0 1 167.04 55.45L159.92 53.08A168.5 168.5 0 0 0 160.50 51.31Z" fill="rgb(227,195,205)"/><path d="M167.09 55.30A176 176 0 0 1 166.48 57.11L159.38 54.68A168.5 168.5 0 0 0 159.97 52.94Z" fill="rgb(220,187,198)"/><path d="M166.53 56.96A176 176 0 0 1 165.80 59.03L158.74 56.52A168.5 168.5 0 0 0 159.43 54.54Z" fill="rgb(232,201,211)"/><path d="M165.86 58.89A176 176 0 0 1 164.77 61.87L157.74 59.24A168.5 168.5 0 0 0 158.79 56.38Z" fill="rgb(223,191,201)"/><path d="M164.82 61.73A176 176 0 0 1 164.12 63.58L157.12 60.87A168.5 168.5 0 0 0 157.80 59.10Z" fill="rgb(167,126,139)"/><path d="M164.17 63.43A176 176 0 0 1 163.20 65.88L156.25 63.08A168.5 168.5 0 0 0 157.17 60.73Z" fill="rgb(87,35,49)"/><path d="M163.26 65.74A176 176 0 0 1 161.71 69.47L154.82 66.51A168.5 168.5 0 0 0 156.30 62.94Z" fill="rgb(81,28,43)"/><path d="M161.77 69.33A176 176 0 0 1 160.56 72.09L153.72 69.01A168.5 168.5 0 0 0 154.87 66.38Z" fill="rgb(87,35,49)"/><path d="M160.62 71.95A176 176 0 0 1 159.08 75.29L152.30 72.08A168.5 168.5 0 0 0 153.78 68.88Z" fill="rgb(239,208,219)"/><path d="M159.15 75.15A176 176 0 0 1 156.94 79.65L150.26 76.26A168.5 168.5 0 0 0 152.37 71.95Z" fill="rgb(220,187,198)"/><path d="M157.01 79.52A176 176 0 0 1 156.21 81.09L149.55 77.63A168.5 168.5 0 0 0 150.32 76.13Z" fill="rgb(94,43,57)"/><path d="M156.28 80.95A176 176 0 0 1 154.27 84.71L147.70 81.10A168.5 168.5 0 0 0 149.62 77.50Z" fill="rgb(92,40,55)"/><path d="M154.35 84.57A176 176 0 0 1 152.92 87.14L146.40 83.42A168.5 168.5 0 0 0 147.77 80.97Z" fill="rgb(223,191,201)"/><path d="M152.99 87.00A176 176 0 0 1 152.41 88.02L145.91 84.27A168.5 168.5 0 0 0 146.47 83.30Z" fill="rgb(72,17,32)"/><path d="M149.97 92.11A176 176 0 0 1 148.12 95.06L141.81 91.01A168.5 168.5 0 0 0 143.58 88.19Z" fill="rgb(223,203,223)"/><path d="M148.20 94.93A176 176 0 0 1 147.33 96.27L141.06 92.17A168.5 168.5 0 0 0 141.89 90.89Z" fill="rgb(216,196,216)"/><path d="M147.42 96.14A176 176 0 0 1 146.51 97.52L140.27 93.37A168.5 168.5 0 0 0 141.14 92.05Z" fill="rgb(212,191,212)"/><path d="M146.60 97.39A176 176 0 0 1 144.15 100.98L138.01 96.67A168.5 168.5 0 0 0 140.35 93.24Z" fill="rgb(54,24,54)"/><path d="M144.24 100.85A176 176 0 0 1 143.30 102.18L137.19 97.83A168.5 168.5 0 0 0 138.09 96.55Z" fill="rgb(215,195,215)"/><path d="M143.39 102.06A176 176 0 0 1 141.85 104.19L135.80 99.75A168.5 168.5 0 0 0 137.28 97.71Z" fill="rgb(206,184,206)"/><path d="M141.94 104.06A176 176 0 0 1 140.52 105.97L134.54 101.45A168.5 168.5 0 0 0 135.89 99.63Z" fill="rgb(62,33,62)"/><path d="M140.62 105.84A176 176 0 0 1 139.25 107.64L133.31 103.05A168.5 168.5 0 0 0 134.62 101.33Z" fill="rgb(72,43,72)"/><path d="M139.34 107.52A176 176 0 0 1 138.38 108.76L132.48 104.12A168.5 168.5 0 0 0 133.40 102.94Z" fill="rgb(68,39,68)"/><path d="M138.47 108.64A176 176 0 0 1 136.91 110.60L131.08 105.88A168.5 168.5 0 0 0 132.57 104.01Z" fill="rgb(219,199,219)"/><path d="M137.01 110.48A176 176 0 0 1 134.96 112.97L129.21 108.16A168.5 168.5 0 0 0 131.17 105.77Z" fill="rgb(67,38,67)"/><path d="M135.06 112.85A176 176 0 0 1 134.12 113.96L128.41 109.10A168.5 168.5 0 0 0 129.30 108.04Z" fill="rgb(76,47,76)"/><path d="M134.22 113.84A176 176 0 0 1 131.54 116.93L125.94 111.94A168.5 168.5 0 0 0 128.50 108.99Z" fill="rgb(221,201,221)"/><path d="M131.65 116.81A176 176 0 0 1 129.55 119.14L124.03 114.06A168.5 168.5 0 0 0 126.04 111.83Z" fill="rgb(223,203,223)"/><path d="M129.65 119.02A176 176 0 0 1 126.63 122.23L121.24 117.02A168.5 168.5 0 0 0 124.13 113.95Z" fill="rgb(151,127,151)"/><path d="M126.74 122.12A176 176 0 0 1 123.61 125.29L118.34 119.95A168.5 168.5 0 0 0 121.34 116.91Z" fill="rgb(150,126,150)"/><path d="M123.72 125.18A176 176 0 0 1 120.90 127.90L115.75 122.45A168.5 168.5 0 0 0 118.44 119.85Z" fill="rgb(218,197,218)"/><path d="M121.01 127.80A176 176 0 0 1 117.74 130.82L112.72 125.24A168.5 168.5 0 0 0 115.85 122.35Z" fill="rgb(212,191,212)"/><path d="M117.86 130.71A176 176 0 0 1 115.71 132.62L110.77 126.97A168.5 168.5 0 0 0 112.83 125.14Z" fill="rgb(170,147,170)"/><path d="M115.82 132.52A176 176 0 0 1 114.41 133.74L109.54 128.04A168.5 168.5 0 0 0 110.89 126.87Z" fill="rgb(57,27,57)"/><path d="M114.53 133.64A176 176 0 0 1 112.76 135.14L107.95 129.38A168.5 168.5 0 0 0 109.65 127.94Z" fill="rgb(74,45,74)"/><path d="M112.87 135.04A176 176 0 0 1 109.40 137.87L104.73 132.00A168.5 168.5 0 0 0 108.06 129.29Z" fill="rgb(211,190,211)"/><path d="M109.52 137.78A176 176 0 0 1 109.11 138.10L104.46 132.22A168.5 168.5 0 0 0 104.85 131.90Z" fill="rgb(69,40,69)"/><path d="M105.33 141.00A176 176 0 0 1 102.85 142.82L98.47 136.73A168.5 168.5 0 0 0 100.84 134.99Z" fill="rgb(57,42,52)"/><path d="M102.98 142.73A176 176 0 0 1 101.06 144.09L96.75 137.95A168.5 168.5 0 0 0 98.59 136.65Z" fill="rgb(217,204,214)"/><path d="M101.18 144.01A176 176 0 0 1 98.38 145.93L94.19 139.71A168.5 168.5 0 0 0 96.87 137.87Z" fill="rgb(41,26,36)"/><path d="M98.51 145.85A176 176 0 0 1 96.41 147.24L92.30 140.97A168.5 168.5 0 0 0 94.31 139.63Z" fill="rgb(180,167,177)"/><path d="M96.54 147.16A176 176 0 0 1 94.20 148.67L90.18 142.34A168.5 168.5 0 0 0 92.43 140.89Z" fill="rgb(155,142,152)"/><path d="M94.32 148.59A176 176 0 0 1 92.53 149.72L88.58 143.34A168.5 168.5 0 0 0 90.31 142.26Z" fill="rgb(240,228,238)"/><path d="M92.66 149.64A176 176 0 0 1 90.64 150.86L86.78 144.43A168.5 168.5 0 0 0 88.71 143.26Z" fill="rgb(58,43,53)"/><path d="M90.78 150.78A176 176 0 0 1 89.46 151.57L85.65 145.11A168.5 168.5 0 0 0 86.91 144.36Z" fill="rgb(61,46,56)"/><path d="M89.59 151.49A176 176 0 0 1 87.65 152.62L83.92 146.12A168.5 168.5 0 0 0 85.77 145.04Z" fill="rgb(227,215,225)"/><path d="M87.79 152.54A176 176 0 0 1 84.17 154.57L80.58 147.98A168.5 168.5 0 0 0 84.05 146.04Z" fill="rgb(223,211,221)"/><path d="M84.30 154.50A176 176 0 0 1 80.22 156.66L76.80 149.98A168.5 168.5 0 0 0 80.71 147.91Z" fill="rgb(164,151,161)"/><path d="M80.35 156.59A176 176 0 0 1 75.86 158.81L72.63 152.04A168.5 168.5 0 0 0 76.93 149.91Z" fill="rgb(48,33,43)"/><path d="M76.00 158.75A176 176 0 0 1 72.60 160.33L69.50 153.50A168.5 168.5 0 0 0 72.76 151.98Z" fill="rgb(45,30,40)"/><path d="M72.74 160.27A176 176 0 0 1 68.46 162.14L65.54 155.23A168.5 168.5 0 0 0 69.64 153.44Z" fill="rgb(222,210,220)"/><path d="M68.60 162.08A176 176 0 0 1 64.55 163.74L61.80 156.76A168.5 168.5 0 0 0 65.68 155.17Z" fill="rgb(54,40,50)"/><path d="M64.69 163.68A176 176 0 0 1 61.67 164.84L59.04 157.82A168.5 168.5 0 0 0 61.94 156.70Z" fill="rgb(221,208,218)"/><path d="M61.81 164.79A176 176 0 0 1 57.65 166.29L55.19 159.21A168.5 168.5 0 0 0 59.18 157.77Z" fill="rgb(219,206,216)"/><path d="M57.79 166.24A176 176 0 0 1 54.09 167.48L51.79 160.34A168.5 168.5 0 0 0 55.33 159.16Z" fill="rgb(234,222,232)"/><path d="M54.24 167.43A176 176 0 0 1 52.81 167.89L50.56 160.73A168.5 168.5 0 0 0 51.93 160.30Z" fill="rgb(59,44,54)"/><path d="M52.96 167.84A176 176 0 0 1 52.33 168.04L50.10 160.88A168.5 168.5 0 0 0 50.70 160.69Z" fill="rgb(227,214,224)"/><path d="M47.77 169.39A176 176 0 0 1 44.20 170.36L42.32 163.10A168.5 168.5 0 0 0 45.73 162.17Z" fill="rgb(231,216,199)"/><path d="M44.35 170.32A176 176 0 0 1 41.26 171.10L39.50 163.80A168.5 168.5 0 0 0 42.46 163.06Z" fill="rgb(51,36,21)"/><path d="M41.41 171.06A176 176 0 0 1 37.37 171.99L35.78 164.66A168.5 168.5 0 0 0 39.65 163.77Z" fill="rgb(235,219,202)"/><path d="M37.52 171.95A176 176 0 0 1 33.79 172.73L32.35 165.37A168.5 168.5 0 0 0 35.93 164.63Z" fill="rgb(53,38,23)"/><path d="M33.94 172.70A176 176 0 0 1 31.67 173.13L30.32 165.75A168.5 168.5 0 0 0 32.50 165.34Z" fill="rgb(67,52,37)"/><path d="M31.82 173.10A176 176 0 0 1 27.81 173.79L26.62 166.38A168.5 168.5 0 0 0 30.47 165.72Z" fill="rgb(53,38,23)"/><path d="M27.96 173.76A176 176 0 0 1 23.03 174.49L22.05 167.05A168.5 168.5 0 0 0 26.77 166.36Z" fill="rgb(168,152,136)"/><path d="M23.19 174.47A176 176 0 0 1 20.06 174.85L19.21 167.40A168.5 168.5 0 0 0 22.20 167.03Z" fill="rgb(229,213,197)"/><path d="M20.22 174.84A176 176 0 0 1 16.58 175.22L15.87 167.75A168.5 168.5 0 0 0 19.35 167.38Z" fill="rgb(246,230,213)"/><path d="M16.73 175.20A176 176 0 0 1 14.81 175.38L14.18 167.90A168.5 168.5 0 0 0 16.02 167.74Z" fill="rgb(53,38,23)"/><path d="M14.97 175.36A176 176 0 0 1 12.47 175.56L11.94 168.08A168.5 168.5 0 0 0 14.33 167.89Z" fill="rgb(248,232,215)"/><path d="M12.62 175.55A176 176 0 0 1 11.02 175.65L10.55 168.17A168.5 168.5 0 0 0 12.09 168.07Z" fill="rgb(55,40,25)"/><path d="M11.17 175.64A176 176 0 0 1 7.25 175.85L6.94 168.36A168.5 168.5 0 0 0 10.70 168.16Z" fill="rgb(241,225,208)"/><path d="M7.40 175.84A176 176 0 0 1 4.12 175.95L3.94 168.45A168.5 168.5 0 0 0 7.08 168.35Z" fill="rgb(163,148,132)"/><path d="M4.27 175.95A176 176 0 0 1 2.45 175.98L2.35 168.48A168.5 168.5 0 0 0 4.09 168.45Z" fill="rgb(243,227,210)"/><path d="M2.60 175.98A176 176 0 0 1 -2.38 175.98L-2.28 168.48A168.5 168.5 0 0 0 2.49 168.48Z" fill="rgb(248,232,215)"/><path d="M-2.23 175.99A176 176 0 0 1 -4.83 175.93L-4.62 168.44A168.5 168.5 0 0 0 -2.14 168.49Z" fill="rgb(224,209,192)"/><path d="M-9.58 175.74A176 176 0 0 1 -12.62 175.55L-12.08 168.07A168.5 168.5 0 0 0 -9.17 168.25Z" fill="rgb(63,57,36)"/><path d="M-12.46 175.56A176 176 0 0 1 -17.31 175.15L-16.57 167.68A168.5 168.5 0 0 0 -11.93 168.08Z" fill="rgb(52,47,26)"/><path d="M-17.16 175.16A176 176 0 0 1 -19.05 174.97L-18.24 167.51A168.5 168.5 0 0 0 -16.43 167.70Z" fill="rgb(210,201,174)"/><path d="M-18.90 174.98A176 176 0 0 1 -20.76 174.77L-19.88 167.32A168.5 168.5 0 0 0 -18.10 167.53Z" fill="rgb(220,211,184)"/><path d="M-20.61 174.79A176 176 0 0 1 -25.22 174.18L-24.15 166.76A168.5 168.5 0 0 0 -19.73 167.34Z" fill="rgb(227,217,190)"/><path d="M-25.07 174.21A176 176 0 0 1 -29.70 173.48L-28.44 166.08A168.5 168.5 0 0 0 -24.00 166.78Z" fill="rgb(173,165,140)"/><path d="M-29.55 173.50A176 176 0 0 1 -30.93 173.26L-29.61 165.88A168.5 168.5 0 0 0 -28.29 166.11Z" fill="rgb(153,145,121)"/><path d="M-30.77 173.29A176 176 0 0 1 -33.23 172.83L-31.81 165.47A168.5 168.5 0 0 0 -29.46 165.90Z" fill="rgb(59,53,33)"/><path d="M-33.08 172.86A176 176 0 0 1 -35.58 172.37L-34.06 165.02A168.5 168.5 0 0 0 -31.67 165.50Z" fill="rgb(232,222,195)"/><path d="M-35.43 172.40A176 176 0 0 1 -39.48 171.51L-37.80 164.21A168.5 168.5 0 0 0 -33.92 165.05Z" fill="rgb(229,219,192)"/><path d="M-39.33 171.55A176 176 0 0 1 -43.99 170.41L-42.12 163.15A168.5 168.5 0 0 0 -37.65 164.24Z" fill="rgb(211,202,176)"/><path d="M-43.84 170.45A176 176 0 0 1 -46.21 169.83L-44.24 162.59A168.5 168.5 0 0 0 -41.97 163.19Z" fill="rgb(156,148,123)"/><path d="M-46.06 169.87A176 176 0 0 1 -50.93 168.47L-48.76 161.29A168.5 168.5 0 0 0 -44.10 162.63Z" fill="rgb(224,214,187)"/><path d="M-50.78 168.51A176 176 0 0 1 -53.61 167.64L-51.33 160.49A168.5 168.5 0 0 0 -48.62 161.33Z" fill="rgb(67,62,41)"/><path d="M-53.46 167.68A176 176 0 0 1 -55.14 167.14L-52.79 160.02A168.5 168.5 0 0 0 -51.19 160.54Z" fill="rgb(225,216,189)"/><path d="M-54.99 167.19A176 176 0 0 1 -59.56 165.62L-57.02 158.56A168.5 168.5 0 0 0 -52.65 160.06Z" fill="rgb(61,56,35)"/><path d="M-59.41 165.67A176 176 0 0 1 -59.92 165.48L-57.37 158.43A168.5 168.5 0 0 0 -56.88 158.61Z" fill="rgb(58,53,32)"/><path d="M-64.38 163.80A176 176 0 0 1 -68.92 161.95L-65.98 155.04A168.5 168.5 0 0 0 -61.63 156.82Z" fill="rgb(226,223,186)"/><path d="M-68.78 162.01A176 176 0 0 1 -72.17 160.52L-69.10 153.68A168.5 168.5 0 0 0 -65.85 155.10Z" fill="rgb(222,220,184)"/><path d="M-72.03 160.58A176 176 0 0 1 -75.13 159.16L-71.93 152.38A168.5 168.5 0 0 0 -68.96 153.74Z" fill="rgb(244,241,204)"/><path d="M-74.99 159.22A176 176 0 0 1 -78.66 157.44L-75.31 150.73A168.5 168.5 0 0 0 -71.79 152.44Z" fill="rgb(147,146,112)"/><path d="M-78.52 157.51A176 176 0 0 1 -81.87 155.80L-78.38 149.16A168.5 168.5 0 0 0 -75.18 150.80Z" fill="rgb(74,73,42)"/><path d="M-81.73 155.87A176 176 0 0 1 -85.95 153.58L-82.29 147.04A168.5 168.5 0 0 0 -78.25 149.23Z" fill="rgb(61,61,30)"/><path d="M-85.82 153.66A176 176 0 0 1 -88.12 152.35L-84.37 145.86A168.5 168.5 0 0 0 -82.16 147.11Z" fill="rgb(53,53,22)"/><path d="M-87.99 152.43A176 176 0 0 1 -92.27 149.88L-88.34 143.49A168.5 168.5 0 0 0 -84.24 145.93Z" fill="rgb(55,55,25)"/><path d="M-92.14 149.96A176 176 0 0 1 -94.25 148.64L-90.23 142.30A168.5 168.5 0 0 0 -88.21 143.57Z" fill="rgb(236,233,196)"/><path d="M-94.12 148.72A176 176 0 0 1 -95.80 147.64L-91.72 141.35A168.5 168.5 0 0 0 -90.11 142.38Z" fill="rgb(69,68,38)"/><path d="M-95.67 147.72A176 176 0 0 1 -99.60 145.10L-95.36 138.92A168.5 168.5 0 0 0 -91.60 141.43Z" fill="rgb(174,172,138)"/><path d="M-99.48 145.19A176 176 0 0 1 -103.34 142.47L-98.93 136.40A168.5 168.5 0 0 0 -95.24 139.00Z" fill="rgb(234,231,195)"/><path d="M-103.21 142.56A176 176 0 0 1 -104.74 141.44L-100.28 135.41A168.5 168.5 0 0 0 -98.81 136.49Z" fill="rgb(72,72,41)"/><path d="M-104.62 141.53A176 176 0 0 1 -106.73 139.94L-102.18 133.98A168.5 168.5 0 0 0 -100.16 135.50Z" fill="rgb(68,67,37)"/><path d="M-106.61 140.04A176 176 0 0 1 -108.46 138.61L-103.84 132.70A168.5 168.5 0 0 0 -102.07 134.07Z" fill="rgb(224,221,185)"/><path d="M-108.34 138.71A176 176 0 0 1 -110.86 136.69L-106.14 130.87A168.5 168.5 0 0 0 -103.72 132.79Z" fill="rgb(164,163,128)"/><path d="M-114.52 133.65A176 176 0 0 1 -117.02 131.47L-112.03 125.86A168.5 168.5 0 0 0 -109.64 127.95Z" fill="rgb(160,164,135)"/><path d="M-116.90 131.57A176 176 0 0 1 -118.10 130.49L-113.07 124.93A168.5 168.5 0 0 0 -111.92 125.96Z" fill="rgb(36,41,16)"/><path d="M-117.99 130.59A176 176 0 0 1 -119.35 129.35L-114.26 123.84A168.5 168.5 0 0 0 -112.96 125.03Z" fill="rgb(223,227,195)"/><path d="M-119.24 129.45A176 176 0 0 1 -122.55 126.32L-117.33 120.94A168.5 168.5 0 0 0 -114.16 123.94Z" fill="rgb(57,62,36)"/><path d="M-122.44 126.43A176 176 0 0 1 -124.08 124.82L-118.80 119.50A168.5 168.5 0 0 0 -117.23 121.04Z" fill="rgb(154,159,130)"/><path d="M-123.97 124.93A176 176 0 0 1 -127.40 121.43L-121.97 116.25A168.5 168.5 0 0 0 -118.69 119.60Z" fill="rgb(217,221,190)"/><path d="M-127.30 121.54A176 176 0 0 1 -128.30 120.48L-122.84 115.34A168.5 168.5 0 0 0 -121.87 116.36Z" fill="rgb(44,49,23)"/><path d="M-128.20 120.59A176 176 0 0 1 -131.36 117.13L-125.76 112.14A168.5 168.5 0 0 0 -122.73 115.45Z" fill="rgb(147,152,123)"/><path d="M-131.26 117.25A176 176 0 0 1 -132.18 116.21L-126.54 111.26A168.5 168.5 0 0 0 -125.67 112.25Z" fill="rgb(130,135,106)"/><path d="M-132.07 116.33A176 176 0 0 1 -134.96 112.97L-129.21 108.16A168.5 168.5 0 0 0 -126.45 111.37Z" fill="rgb(214,218,187)"/><path d="M-134.86 113.09A176 176 0 0 1 -136.32 111.32L-130.51 106.57A168.5 168.5 0 0 0 -129.11 108.27Z" fill="rgb(61,66,40)"/><path d="M-136.23 111.44A176 176 0 0 1 -138.30 108.86L-132.40 104.22A168.5 168.5 0 0 0 -130.42 106.69Z" fill="rgb(215,219,188)"/><path d="M-138.20 108.98A176 176 0 0 1 -140.67 105.77L-134.67 101.27A168.5 168.5 0 0 0 -132.31 104.33Z" fill="rgb(219,223,192)"/><path d="M-140.58 105.90A176 176 0 0 1 -142.40 103.43L-136.33 99.02A168.5 168.5 0 0 0 -134.59 101.38Z" fill="rgb(237,241,209)"/><path d="M-142.31 103.56A176 176 0 0 1 -144.78 100.08L-138.61 95.81A168.5 168.5 0 0 0 -136.25 99.14Z" fill="rgb(37,42,17)"/><path d="M-144.69 100.20A176 176 0 0 1 -146.80 97.09L-140.54 92.95A168.5 168.5 0 0 0 -138.53 95.93Z" fill="rgb(171,175,145)"/><path d="M-146.71 97.21A176 176 0 0 1 -147.57 95.92L-141.28 91.83A168.5 168.5 0 0 0 -140.46 93.07Z" fill="rgb(221,225,194)"/><path d="M-150.11 91.89A176 176 0 0 1 -151.04 90.36L-144.60 86.51A168.5 168.5 0 0 0 -143.71 87.98Z" fill="rgb(34,53,33)"/><path d="M-150.96 90.49A176 176 0 0 1 -152.74 87.44L-146.23 83.71A168.5 168.5 0 0 0 -144.52 86.63Z" fill="rgb(144,161,139)"/><path d="M-152.67 87.57A176 176 0 0 1 -154.42 84.44L-147.84 80.84A168.5 168.5 0 0 0 -146.16 83.84Z" fill="rgb(40,60,39)"/><path d="M-154.35 84.57A176 176 0 0 1 -155.81 81.86L-149.17 78.37A168.5 168.5 0 0 0 -147.77 80.97Z" fill="rgb(197,213,191)"/><path d="M-155.73 81.99A176 176 0 0 1 -157.84 77.86L-151.12 74.54A168.5 168.5 0 0 0 -149.10 78.50Z" fill="rgb(143,161,139)"/><path d="M-157.77 78.00A176 176 0 0 1 -158.78 75.93L-152.01 72.70A168.5 168.5 0 0 0 -151.05 74.67Z" fill="rgb(196,212,189)"/><path d="M-158.71 76.07A176 176 0 0 1 -159.78 73.80L-152.97 70.65A168.5 168.5 0 0 0 -151.95 72.83Z" fill="rgb(34,54,34)"/><path d="M-159.72 73.94A176 176 0 0 1 -161.30 70.41L-154.43 67.41A168.5 168.5 0 0 0 -152.91 70.78Z" fill="rgb(142,160,138)"/><path d="M-161.24 70.55A176 176 0 0 1 -162.74 67.01L-155.81 64.16A168.5 168.5 0 0 0 -154.37 67.54Z" fill="rgb(207,223,200)"/><path d="M-162.68 67.15A176 176 0 0 1 -163.25 65.76L-156.30 62.96A168.5 168.5 0 0 0 -155.75 64.29Z" fill="rgb(134,152,130)"/><path d="M-163.20 65.90A176 176 0 0 1 -164.62 62.27L-157.60 59.62A168.5 168.5 0 0 0 -156.24 63.09Z" fill="rgb(26,46,26)"/><path d="M-164.56 62.41A176 176 0 0 1 -165.97 58.56L-158.90 56.06A168.5 168.5 0 0 0 -157.55 59.75Z" fill="rgb(207,223,200)"/><path d="M-165.92 58.70A176 176 0 0 1 -167.51 54.00L-160.37 51.70A168.5 168.5 0 0 0 -158.85 56.20Z" fill="rgb(115,133,112)"/><path d="M-167.46 54.15A176 176 0 0 1 -168.14 52.02L-160.97 49.80A168.5 168.5 0 0 0 -160.33 51.84Z" fill="rgb(27,47,27)"/><path d="M-168.09 52.17A176 176 0 0 1 -168.81 49.80L-161.61 47.68A168.5 168.5 0 0 0 -160.93 49.95Z" fill="rgb(201,217,194)"/><path d="M-168.76 49.95A176 176 0 0 1 -169.34 47.96L-162.12 45.92A168.5 168.5 0 0 0 -161.57 47.82Z" fill="rgb(37,56,36)"/><path d="M-169.30 48.11A176 176 0 0 1 -169.71 46.62L-162.48 44.63A168.5 168.5 0 0 0 -162.08 46.06Z" fill="rgb(209,225,202)"/><path d="M-170.91 42.01A176 176 0 0 1 -171.57 39.25L-164.26 37.58A168.5 168.5 0 0 0 -163.63 40.22Z" fill="rgb(21,41,26)"/><path d="M-171.53 39.40A176 176 0 0 1 -171.95 37.54L-164.62 35.94A168.5 168.5 0 0 0 -164.22 37.72Z" fill="rgb(47,67,52)"/><path d="M-171.92 37.69A176 176 0 0 1 -172.50 34.92L-165.15 33.43A168.5 168.5 0 0 0 -164.59 36.09Z" fill="rgb(194,212,195)"/><path d="M-172.47 35.07A176 176 0 0 1 -173.24 31.06L-165.85 29.74A168.5 168.5 0 0 0 -165.12 33.58Z" fill="rgb(193,211,194)"/><path d="M-173.21 31.21A176 176 0 0 1 -173.65 28.66L-166.25 27.43A168.5 168.5 0 0 0 -165.83 29.88Z" fill="rgb(22,42,27)"/><path d="M-173.63 28.81A176 176 0 0 1 -174.26 24.72L-166.83 23.67A168.5 168.5 0 0 0 -166.23 27.58Z" fill="rgb(30,50,35)"/><path d="M-174.23 24.87A176 176 0 0 1 -174.60 22.12L-167.16 21.18A168.5 168.5 0 0 0 -166.81 23.81Z" fill="rgb(140,158,142)"/><path d="M-174.58 22.27A176 176 0 0 1 -174.83 20.28L-167.38 19.42A168.5 168.5 0 0 0 -167.15 21.32Z" fill="rgb(41,61,46)"/><path d="M-174.81 20.43A176 176 0 0 1 -175.10 17.77L-167.64 17.02A168.5 168.5 0 0 0 -167.36 19.56Z" fill="rgb(212,229,212)"/><path d="M-175.08 17.93A176 176 0 0 1 -175.52 13.01L-168.04 12.45A168.5 168.5 0 0 0 -167.62 17.16Z" fill="rgb(39,59,43)"/><path d="M-175.51 13.16A176 176 0 0 1 -175.78 8.76L-168.29 8.39A168.5 168.5 0 0 0 -168.03 12.60Z" fill="rgb(205,222,205)"/><path d="M-175.77 8.91A176 176 0 0 1 -175.85 7.35L-168.35 7.04A168.5 168.5 0 0 0 -168.28 8.53Z" fill="rgb(138,157,140)"/><path d="M-175.84 7.50A176 176 0 0 1 -175.98 2.73L-168.48 2.62A168.5 168.5 0 0 0 -168.35 7.18Z" fill="rgb(39,58,43)"/><path d="M-175.98 2.89A176 176 0 0 1 -175.99 -1.80L-168.49 -1.72A168.5 168.5 0 0 0 -168.48 2.76Z" fill="rgb(37,57,42)"/><path d="M-175.99 -1.65A176 176 0 0 1 -175.90 -6.02L-168.40 -5.76A168.5 168.5 0 0 0 -168.49 -1.58Z" fill="rgb(214,231,214)"/><path d="M-175.90 -5.87A176 176 0 0 1 -175.86 -7.08L-168.36 -6.78A168.5 168.5 0 0 0 -168.41 -5.62Z" fill="rgb(22,42,27)"/><path d="M-175.60 -11.84A176 176 0 0 1 -175.43 -14.16L-167.95 -13.56A168.5 168.5 0 0 0 -168.12 -11.33Z" fill="rgb(194,194,215)"/><path d="M-175.44 -14.01A176 176 0 0 1 -175.21 -16.63L-167.75 -15.92A168.5 168.5 0 0 0 -167.97 -13.41Z" fill="rgb(21,21,51)"/><path d="M-175.23 -16.47A176 176 0 0 1 -174.85 -20.11L-167.40 -19.25A168.5 168.5 0 0 0 -167.76 -15.77Z" fill="rgb(28,28,58)"/><path d="M-174.86 -19.96A176 176 0 0 1 -174.56 -22.49L-167.12 -21.53A168.5 168.5 0 0 0 -167.41 -19.11Z" fill="rgb(49,49,78)"/><path d="M-174.58 -22.34A176 176 0 0 1 -174.00 -26.46L-166.58 -25.34A168.5 168.5 0 0 0 -167.14 -21.38Z" fill="rgb(200,200,221)"/><path d="M-174.02 -26.31A176 176 0 0 1 -173.23 -31.11L-165.85 -29.78A168.5 168.5 0 0 0 -166.61 -25.19Z" fill="rgb(42,42,71)"/><path d="M-173.26 -30.96A176 176 0 0 1 -172.68 -34.04L-165.32 -32.58A168.5 168.5 0 0 0 -165.87 -29.64Z" fill="rgb(193,193,214)"/><path d="M-172.71 -33.88A176 176 0 0 1 -172.15 -36.63L-164.81 -35.07A168.5 168.5 0 0 0 -165.35 -32.44Z" fill="rgb(37,37,66)"/><path d="M-172.18 -36.48A176 176 0 0 1 -171.48 -39.61L-164.18 -37.92A168.5 168.5 0 0 0 -164.84 -34.93Z" fill="rgb(211,211,231)"/><path d="M-171.52 -39.46A176 176 0 0 1 -170.49 -43.68L-163.23 -41.82A168.5 168.5 0 0 0 -164.21 -37.78Z" fill="rgb(196,196,217)"/><path d="M-170.53 -43.53A176 176 0 0 1 -169.44 -47.62L-162.22 -45.59A168.5 168.5 0 0 0 -163.27 -41.67Z" fill="rgb(207,207,228)"/><path d="M-169.48 -47.47A176 176 0 0 1 -168.77 -49.93L-161.58 -47.80A168.5 168.5 0 0 0 -162.26 -45.45Z" fill="rgb(118,118,143)"/><path d="M-168.81 -49.78A176 176 0 0 1 -168.33 -51.38L-161.16 -49.19A168.5 168.5 0 0 0 -161.62 -47.66Z" fill="rgb(27,27,57)"/><path d="M-168.38 -51.24A176 176 0 0 1 -167.69 -53.43L-160.55 -51.15A168.5 168.5 0 0 0 -161.20 -49.05Z" fill="rgb(48,48,77)"/><path d="M-167.74 -53.28A176 176 0 0 1 -166.67 -56.53L-159.57 -54.12A168.5 168.5 0 0 0 -160.59 -51.01Z" fill="rgb(109,109,134)"/><path d="M-166.72 -56.38A176 176 0 0 1 -165.18 -60.76L-158.14 -58.17A168.5 168.5 0 0 0 -159.62 -53.98Z" fill="rgb(209,209,229)"/><path d="M-165.23 -60.61A176 176 0 0 1 -164.70 -62.04L-157.68 -59.40A168.5 168.5 0 0 0 -158.19 -58.03Z" fill="rgb(35,35,64)"/><path d="M-162.96 -66.47A176 176 0 0 1 -161.41 -70.16L-154.53 -67.17A168.5 168.5 0 0 0 -156.02 -63.64Z" fill="rgb(142,149,170)"/><path d="M-161.47 -70.02A176 176 0 0 1 -160.29 -72.68L-153.46 -69.59A168.5 168.5 0 0 0 -154.59 -67.03Z" fill="rgb(195,202,220)"/><path d="M-160.35 -72.54A176 176 0 0 1 -158.60 -76.30L-151.84 -73.04A168.5 168.5 0 0 0 -153.52 -69.45Z" fill="rgb(195,203,221)"/><path d="M-158.67 -76.16A176 176 0 0 1 -157.87 -77.80L-151.14 -74.49A168.5 168.5 0 0 0 -151.91 -72.91Z" fill="rgb(203,211,229)"/><path d="M-157.94 -77.66A176 176 0 0 1 -156.38 -80.76L-149.71 -77.32A168.5 168.5 0 0 0 -151.21 -74.35Z" fill="rgb(118,124,148)"/><path d="M-156.45 -80.63A176 176 0 0 1 -155.46 -82.50L-148.84 -78.99A168.5 168.5 0 0 0 -149.78 -77.19Z" fill="rgb(42,47,75)"/><path d="M-155.54 -82.37A176 176 0 0 1 -154.62 -84.08L-148.03 -80.50A168.5 168.5 0 0 0 -148.91 -78.86Z" fill="rgb(197,205,223)"/><path d="M-154.69 -83.95A176 176 0 0 1 -153.44 -86.21L-146.90 -82.54A168.5 168.5 0 0 0 -148.10 -80.37Z" fill="rgb(106,112,136)"/><path d="M-153.51 -86.08A176 176 0 0 1 -151.90 -88.90L-145.42 -85.11A168.5 168.5 0 0 0 -146.97 -82.41Z" fill="rgb(25,31,60)"/><path d="M-151.98 -88.77A176 176 0 0 1 -150.03 -92.02L-143.63 -88.10A168.5 168.5 0 0 0 -145.50 -84.98Z" fill="rgb(208,216,233)"/><path d="M-150.11 -91.89A176 176 0 0 1 -148.45 -94.55L-142.12 -90.52A168.5 168.5 0 0 0 -143.71 -87.97Z" fill="rgb(191,199,217)"/><path d="M-148.53 -94.42A176 176 0 0 1 -145.93 -98.39L-139.71 -94.20A168.5 168.5 0 0 0 -142.20 -90.39Z" fill="rgb(40,45,74)"/><path d="M-146.01 -98.26A176 176 0 0 1 -144.99 -99.77L-138.81 -95.52A168.5 168.5 0 0 0 -139.79 -94.08Z" fill="rgb(21,26,56)"/><path d="M-145.08 -99.64A176 176 0 0 1 -143.05 -102.54L-136.95 -98.17A168.5 168.5 0 0 0 -138.89 -95.40Z" fill="rgb(202,209,227)"/><path d="M-143.14 -102.41A176 176 0 0 1 -142.09 -103.86L-136.04 -99.43A168.5 168.5 0 0 0 -137.04 -98.05Z" fill="rgb(141,148,169)"/><path d="M-139.23 -107.66A176 176 0 0 1 -136.59 -110.99L-130.77 -106.26A168.5 168.5 0 0 0 -133.30 -103.07Z" fill="rgb(206,218,230)"/><path d="M-136.69 -110.87A176 176 0 0 1 -134.40 -113.63L-128.68 -108.79A168.5 168.5 0 0 0 -130.86 -106.15Z" fill="rgb(203,215,227)"/><path d="M-134.50 -113.51A176 176 0 0 1 -132.72 -115.59L-127.06 -110.67A168.5 168.5 0 0 0 -128.77 -108.67Z" fill="rgb(42,57,72)"/><path d="M-132.82 -115.48A176 176 0 0 1 -131.29 -117.22L-125.69 -112.22A168.5 168.5 0 0 0 -127.16 -110.56Z" fill="rgb(193,206,218)"/><path d="M-131.39 -117.10A176 176 0 0 1 -129.96 -118.69L-124.42 -113.63A168.5 168.5 0 0 0 -125.79 -112.11Z" fill="rgb(39,54,68)"/><path d="M-130.06 -118.57A176 176 0 0 1 -127.42 -121.41L-121.99 -116.24A168.5 168.5 0 0 0 -124.52 -113.52Z" fill="rgb(39,54,69)"/><path d="M-127.52 -121.30A176 176 0 0 1 -126.04 -122.84L-120.67 -117.60A168.5 168.5 0 0 0 -122.09 -116.13Z" fill="rgb(196,208,220)"/><path d="M-126.15 -122.73A176 176 0 0 1 -125.02 -123.88L-119.69 -118.60A168.5 168.5 0 0 0 -120.77 -117.50Z" fill="rgb(37,52,67)"/><path d="M-125.13 -123.77A176 176 0 0 1 -122.70 -126.17L-117.48 -120.80A168.5 168.5 0 0 0 -119.79 -118.50Z" fill="rgb(206,218,230)"/><path d="M-122.81 -126.07A176 176 0 0 1 -121.38 -127.44L-116.21 -122.01A168.5 168.5 0 0 0 -117.58 -120.69Z" fill="rgb(199,211,223)"/><path d="M-121.50 -127.34A176 176 0 0 1 -119.73 -129.00L-114.63 -123.50A168.5 168.5 0 0 0 -116.32 -121.91Z" fill="rgb(107,120,134)"/><path d="M-119.84 -128.90A176 176 0 0 1 -117.97 -130.61L-112.95 -125.04A168.5 168.5 0 0 0 -114.73 -123.40Z" fill="rgb(200,212,224)"/><path d="M-118.09 -130.50A176 176 0 0 1 -115.91 -132.44L-110.97 -126.80A168.5 168.5 0 0 0 -113.05 -124.94Z" fill="rgb(186,198,210)"/><path d="M-116.02 -132.34A176 176 0 0 1 -113.96 -134.12L-109.11 -128.41A168.5 168.5 0 0 0 -111.08 -126.70Z" fill="rgb(28,43,57)"/><path d="M-114.08 -134.02A176 176 0 0 1 -112.45 -135.40L-107.65 -129.63A168.5 168.5 0 0 0 -109.22 -128.31Z" fill="rgb(23,38,53)"/><path d="M-112.56 -135.30A176 176 0 0 1 -111.04 -136.55L-106.31 -130.73A168.5 168.5 0 0 0 -107.77 -129.53Z" fill="rgb(199,211,223)"/><path d="M-107.31 -139.50A176 176 0 0 1 -103.59 -142.28L-99.18 -136.22A168.5 168.5 0 0 0 -102.73 -133.56Z" fill="rgb(137,166,172)"/><path d="M-103.72 -142.19A176 176 0 0 1 -102.55 -143.03L-98.18 -136.94A168.5 168.5 0 0 0 -99.30 -136.13Z" fill="rgb(186,214,218)"/><path d="M-102.68 -142.94A176 176 0 0 1 -98.79 -145.66L-94.58 -139.45A168.5 168.5 0 0 0 -98.30 -136.85Z" fill="rgb(25,55,65)"/><path d="M-98.92 -145.57A176 176 0 0 1 -96.64 -147.10L-92.52 -140.83A168.5 168.5 0 0 0 -94.71 -139.37Z" fill="rgb(197,225,229)"/><path d="M-96.76 -147.01A176 176 0 0 1 -94.73 -148.33L-90.69 -142.01A168.5 168.5 0 0 0 -92.64 -140.75Z" fill="rgb(179,208,212)"/><path d="M-94.86 -148.25A176 176 0 0 1 -93.35 -149.20L-89.37 -142.85A168.5 168.5 0 0 0 -90.82 -141.93Z" fill="rgb(107,136,143)"/><path d="M-93.48 -149.12A176 176 0 0 1 -89.25 -151.69L-85.45 -145.23A168.5 168.5 0 0 0 -89.50 -142.77Z" fill="rgb(39,69,78)"/><path d="M-89.39 -151.61A176 176 0 0 1 -85.17 -154.02L-81.54 -147.46A168.5 168.5 0 0 0 -85.58 -145.15Z" fill="rgb(189,217,222)"/><path d="M-85.30 -153.95A176 176 0 0 1 -83.92 -154.71L-80.34 -148.11A168.5 168.5 0 0 0 -81.67 -147.39Z" fill="rgb(191,219,224)"/><path d="M-84.05 -154.63A176 176 0 0 1 -79.88 -156.83L-76.48 -150.15A168.5 168.5 0 0 0 -80.47 -148.04Z" fill="rgb(182,210,214)"/><path d="M-80.02 -156.76A176 176 0 0 1 -78.25 -157.65L-74.92 -150.93A168.5 168.5 0 0 0 -76.61 -150.08Z" fill="rgb(195,223,227)"/><path d="M-78.39 -157.58A176 176 0 0 1 -75.81 -158.84L-72.58 -152.07A168.5 168.5 0 0 0 -75.05 -150.86Z" fill="rgb(182,210,214)"/><path d="M-75.95 -158.77A176 176 0 0 1 -74.09 -159.65L-70.93 -152.84A168.5 168.5 0 0 0 -72.71 -152.00Z" fill="rgb(32,61,71)"/><path d="M-74.23 -159.58A176 176 0 0 1 -73.82 -159.77L-70.67 -152.96A168.5 168.5 0 0 0 -71.06 -152.78Z" fill="rgb(139,167,173)"/><path d="M-69.47 -161.71A176 176 0 0 1 -67.36 -162.60L-64.49 -155.67A168.5 168.5 0 0 0 -66.51 -154.82Z" fill="rgb(185,202,213)"/><path d="M-67.50 -162.54A176 176 0 0 1 -66.08 -163.12L-63.27 -156.17A168.5 168.5 0 0 0 -64.62 -155.61Z" fill="rgb(188,205,216)"/><path d="M-66.22 -163.07A176 176 0 0 1 -64.81 -163.63L-62.05 -156.66A168.5 168.5 0 0 0 -63.40 -156.12Z" fill="rgb(202,219,229)"/><path d="M-64.95 -163.58A176 176 0 0 1 -61.60 -164.87L-58.98 -157.84A168.5 168.5 0 0 0 -62.19 -156.61Z" fill="rgb(191,208,219)"/><path d="M-61.75 -164.81A176 176 0 0 1 -59.39 -165.68L-56.86 -158.62A168.5 168.5 0 0 0 -59.11 -157.79Z" fill="rgb(123,141,153)"/><path d="M-59.53 -165.63A176 176 0 0 1 -56.75 -166.60L-54.33 -159.50A168.5 168.5 0 0 0 -57.00 -158.57Z" fill="rgb(195,212,223)"/><path d="M-56.89 -166.55A176 176 0 0 1 -54.05 -167.50L-51.74 -160.36A168.5 168.5 0 0 0 -54.47 -159.45Z" fill="rgb(31,50,65)"/><path d="M-54.19 -167.45A176 176 0 0 1 -51.15 -168.40L-48.97 -161.23A168.5 168.5 0 0 0 -51.88 -160.31Z" fill="rgb(27,46,61)"/><path d="M-51.30 -168.36A176 176 0 0 1 -47.21 -169.55L-45.20 -162.32A168.5 168.5 0 0 0 -49.11 -161.18Z" fill="rgb(141,159,171)"/><path d="M-47.36 -169.51A176 176 0 0 1 -44.34 -170.32L-42.45 -163.06A168.5 168.5 0 0 0 -45.34 -162.28Z" fill="rgb(44,64,78)"/><path d="M-44.49 -170.28A176 176 0 0 1 -41.61 -171.01L-39.84 -163.72A168.5 168.5 0 0 0 -42.59 -163.03Z" fill="rgb(35,55,70)"/><path d="M-41.76 -170.97A176 176 0 0 1 -38.58 -171.72L-36.94 -164.40A168.5 168.5 0 0 0 -39.98 -163.69Z" fill="rgb(30,50,65)"/><path d="M-38.73 -171.68A176 176 0 0 1 -37.09 -172.05L-35.51 -164.72A168.5 168.5 0 0 0 -37.08 -164.37Z" fill="rgb(188,205,215)"/><path d="M-37.24 -172.02A176 176 0 0 1 -34.04 -172.68L-32.59 -165.32A168.5 168.5 0 0 0 -35.65 -164.69Z" fill="rgb(34,54,68)"/><path d="M-34.19 -172.65A176 176 0 0 1 -33.63 -172.76L-32.20 -165.39A168.5 168.5 0 0 0 -32.73 -165.29Z" fill="rgb(202,219,229)"/><path d="M-28.95 -173.60A176 176 0 0 1 -24.46 -174.29L-23.42 -166.87A168.5 168.5 0 0 0 -27.71 -166.21Z" fill="rgb(200,180,205)"/><path d="M-24.61 -174.27A176 176 0 0 1 -20.26 -174.83L-19.40 -167.38A168.5 168.5 0 0 0 -23.56 -166.84Z" fill="rgb(40,20,50)"/><path d="M-20.41 -174.81A176 176 0 0 1 -17.23 -175.15L-16.50 -167.69A168.5 168.5 0 0 0 -19.54 -167.36Z" fill="rgb(196,176,201)"/><path d="M-17.39 -175.14A176 176 0 0 1 -15.41 -175.32L-14.75 -167.85A168.5 168.5 0 0 0 -16.65 -167.68Z" fill="rgb(195,175,201)"/><path d="M-15.56 -175.31A176 176 0 0 1 -13.94 -175.45L-13.35 -167.97A168.5 168.5 0 0 0 -14.90 -167.84Z" fill="rgb(129,109,137)"/><path d="M-14.09 -175.43A176 176 0 0 1 -12.13 -175.58L-11.61 -168.10A168.5 168.5 0 0 0 -13.49 -167.96Z" fill="rgb(209,189,214)"/><path d="M-12.28 -175.57A176 176 0 0 1 -7.90 -175.82L-7.57 -168.33A168.5 168.5 0 0 0 -11.76 -168.09Z" fill="rgb(53,33,63)"/><path d="M-8.06 -175.82A176 176 0 0 1 -3.84 -175.96L-3.68 -168.46A168.5 168.5 0 0 0 -7.71 -168.32Z" fill="rgb(59,39,69)"/></g></defs><use href="#ring" transform="translate(270.6 297)"/><text x="314.0" y="114.1" font-size="21" text-anchor="middle" dominant-baseline="central" transform="rotate(13.4 314.0 114.1)">1</text><text x="391.9" y="153.4" font-size="21" text-anchor="middle" dominant-baseline="central" transform="rotate(40.2 391.9 153.4)">2</text><text x="440.5" y="216.6" font-size="21" text-anchor="middle" dominant-baseline="central" transform="rotate(64.7 440.5 216.6)">3</text><text x="458.4" y="288.8" font-size="21" text-anchor="middle" dominant-baseline="central" transform="rotate(87.5 458.4 288.8)">4</text><text x="447.5" y="360.6" font-size="21" text-anchor="middle" dominant-baseline="central" transform="rotate(-70.2 447.5 360.6)">5</text><text x="411.2" y="421.8" font-size="21" text-anchor="middle" dominant-baseline="central" transform="rotate(-48.4 411.2 421.8)">6</text><text x="356.1" y="464.4" font-size="21" text-anchor="middle" dominant-baseline="central" transform="rotate(-27.1 356.1 464.4)">7</text><text x="293.9" y="483.6" font-size="21" text-anchor="middle" dominant-baseline="central" transform="rotate(-7.1 293.9 483.6)">8</text><text x="233.2" y="481.2" font-size="21" text-anchor="middle" dominant-baseline="central" transform="rotate(11.5 233.2 481.2)">9</text><text x="176.0" y="459.4" font-size="21" text-anchor="middle" dominant-baseline="central" transform="rotate(30.2 176.0 459.4)">10</text><text x="129.2" y="420.9" font-size="21" text-anchor="middle" dominant-baseline="central" transform="rotate(48.8 129.2 420.9)">11</text><text x="98.1" y="371.8" font-size="21" text-anchor="middle" dominant-baseline="central" transform="rotate(66.6 98.1 371.8)">12</text><text x="83.6" y="315.9" font-size="21" text-anchor="middle" dominant-baseline="central" transform="rotate(84.2 83.6 315.9)">13</text><text x="86.9" y="257.2" font-size="21" text-anchor="middle" dominant-baseline="central" transform="rotate(282.2 86.9 257.2)">14</text><text x="106.4" y="205.4" font-size="21" text-anchor="middle" dominant-baseline="central" transform="rotate(299.2 106.4 205.4)">15</text><text x="136.0" y="165.8" font-size="21" text-anchor="middle" dominant-baseline="central" transform="rotate(314.3 136.0 165.8)">16</text><text x="173.2" y="136.2" font-size="21" text-anchor="middle" dominant-baseline="central" transform="rotate(328.8 173.2 136.2)">17</text><text x="215.1" y="117.4" font-size="21" text-anchor="middle" dominant-baseline="central" transform="rotate(342.8 215.1 117.4)">18</text><text x="253.0" y="109.8" font-size="21" text-anchor="middle" dominant-baseline="central" transform="rotate(354.6 253.0 109.8)">19</text><g fill="none"><path d="M202.2 430.5C219.5 396.7 168.2 251.6 133.5 236.2" stroke="#111" stroke-width="0.68"/><path d="M202.7 430.8C220.5 395.7 370.4 345.1 405.7 362.1" stroke="#111" stroke-width="0.80"/><path d="M407.6 236.0C386.1 245.5 195.4 195.3 181.5 176.4" stroke="rgb(238,102,75)" stroke-width="0.95"/><path d="M409.2 354.3C373.0 339.3 301.9 403.2 312.9 440.9" stroke="#111" stroke-width="0.68"/><path d="M150.1 386.4C176.8 366.6 204.8 200.6 186.0 173.1" stroke="#111" stroke-width="1.17"/><path d="M405.1 363.5C373.8 348.0 215.0 397.8 198.1 428.3" stroke="#111" stroke-width="0.63"/><path d="M141.0 372.5C161.0 360.8 253.8 171.3 250.7 148.3" stroke="#111" stroke-width="0.71"/><path d="M154.3 391.7C178.7 371.8 388.6 307.0 420.1 309.7" stroke="#111" stroke-width="1.11"/><path d="M205.4 161.9C220.3 193.0 172.4 236.1 143.1 217.9" stroke="#111" stroke-width="1.03"/><path d="M251.9 148.2C255.9 180.4 162.6 250.5 132.8 237.7" stroke="#111" stroke-width="0.83"/><path d="M278.5 147.2C277.3 170.5 345.3 399.3 359.1 418.1" stroke="rgb(238,102,75)" stroke-width="1.07"/><path d="M260.2 446.6C261.7 424.4 343.6 401.7 356.4 420.1" stroke="#111" stroke-width="0.82"/><path d="M302.6 150.4C298.6 168.8 141.9 271.7 123.4 268.1" stroke="rgb(238,102,75)" stroke-width="0.74"/><path d="M249.1 148.6C254.8 187.7 338.3 209.8 362.6 178.5" stroke="rgb(238,102,75)" stroke-width="1.65"/><path d="M151.0 387.5C179.3 366.0 174.3 235.2 144.4 216.0" stroke="rgb(238,102,75)" stroke-width="0.84"/><path d="M152.6 204.4C176.8 223.4 152.0 309.6 121.4 312.9" stroke="#111" stroke-width="0.82"/><path d="M152.6 204.3C182.3 227.6 290.7 186.5 297.5 149.4" stroke="rgb(238,102,75)" stroke-width="1.00"/><path d="M151.6 205.6C181.0 228.2 364.1 360.4 394.7 381.2" stroke="rgb(238,102,75)" stroke-width="0.68"/><path d="M200.5 429.6C214.0 404.2 150.5 313.7 122.0 317.7" stroke="#111" stroke-width="1.00"/><path d="M200.2 429.5C214.9 401.8 277.5 178.5 279.3 147.3" stroke="#111" stroke-width="1.01"/><path d="M263.9 446.9C265.6 409.0 382.3 306.5 420.1 309.7" stroke="rgb(238,102,75)" stroke-width="1.10"/><path d="M254.4 446.1C257.4 418.2 158.3 249.6 132.4 238.7" stroke="#111" stroke-width="1.02"/><path d="M176.8 414.1C201.7 383.0 312.4 195.1 327.6 158.2" stroke="rgb(238,102,75)" stroke-width="0.70"/><path d="M226.7 440.4C234.5 414.9 351.6 204.0 369.1 183.8" stroke="rgb(238,102,75)" stroke-width="2.33"/><path d="M121.5 313.5C147.7 310.6 198.3 196.7 182.9 175.3" stroke="#111" stroke-width="1.04"/><path d="M213.2 158.4C224.6 185.9 390.6 304.5 420.3 306.4" stroke="#111" stroke-width="0.82"/><path d="M133.3 236.6C156.3 246.7 350.7 201.2 366.8 181.9" stroke="rgb(238,102,75)" stroke-width="0.70"/><path d="M245.1 444.8C251.6 407.1 294.1 187.8 302.2 150.4" stroke="rgb(238,102,75)" stroke-width="0.83"/><path d="M319.0 439.0C310.4 413.7 197.1 198.0 181.1 176.6" stroke="#111" stroke-width="0.84"/><path d="M364.2 414.2C341.8 386.2 179.6 228.1 151.0 206.5" stroke="#111" stroke-width="0.65"/><path d="M305.7 151.2C301.3 169.4 139.8 307.8 121.1 309.4" stroke="rgb(238,102,75)" stroke-width="2.02"/><path d="M138.4 367.8C156.3 358.2 294.5 169.5 298.2 149.6" stroke="rgb(238,102,75)" stroke-width="2.34"/><path d="M344.0 427.8C328.5 400.2 195.4 205.6 175.2 181.2" stroke="#111" stroke-width="0.73"/><path d="M202.3 430.6C211.0 413.7 194.4 190.4 183.3 175.0" stroke="rgb(238,102,75)" stroke-width="0.94"/><path d="M365.4 180.7C351.8 197.4 377.0 369.1 394.8 381.1" stroke="rgb(238,102,75)" stroke-width="1.12"/><path d="M344.6 166.5C326.3 198.8 335.8 389.2 357.2 419.5" stroke="rgb(238,102,75)" stroke-width="1.13"/><path d="M250.3 148.4C253.9 174.5 194.6 394.4 178.3 415.3" stroke="#111" stroke-width="1.03"/><path d="M384.9 199.9C358.8 222.1 339.5 390.1 359.8 417.6" stroke="#111" stroke-width="1.06"/><path d="M326.0 157.6C315.5 183.9 149.4 307.8 121.2 310.3" stroke="rgb(238,102,75)" stroke-width="1.04"/><path d="M297.3 149.4C292.9 173.7 200.4 193.1 186.6 172.7" stroke="rgb(238,102,75)" stroke-width="2.04"/><path d="M420.3 306.0C402.1 304.9 193.9 189.9 183.3 175.1" stroke="#111" stroke-width="2.11"/><path d="M121.5 313.8C149.5 310.6 284.1 418.1 287.3 446.1" stroke="#111" stroke-width="1.01"/><path d="M204.9 162.1C222.6 198.4 337.1 384.1 361.7 416.2" stroke="rgb(238,102,75)" stroke-width="1.18"/><path d="M221.3 155.3C233.9 191.5 382.0 305.2 420.2 308.1" stroke="#111" stroke-width="1.03"/><path d="M133.5 236.2C171.7 253.1 320.4 393.1 339.6 430.2" stroke="#111" stroke-width="1.07"/><path d="M171.6 184.3C195.2 211.2 166.9 249.1 134.4 234.1" stroke="#111" stroke-width="0.88"/><path d="M345.5 167.0C325.3 202.0 236.1 401.0 223.4 439.4" stroke="rgb(238,102,75)" stroke-width="0.64"/><path d="M248.0 445.3C253.4 410.3 313.2 190.6 326.4 157.8" stroke="rgb(238,102,75)" stroke-width="0.98"/><path d="M391.8 385.3C375.6 373.5 208.8 411.2 199.3 428.9" stroke="rgb(238,102,75)" stroke-width="1.02"/><path d="M139.3 369.5C155.1 360.7 250.7 427.4 247.9 445.3" stroke="rgb(238,102,75)" stroke-width="1.04"/><path d="M178.6 415.5C200.5 387.2 338.5 388.8 359.8 417.6" stroke="#111" stroke-width="0.89"/><path d="M406.8 359.8C377.5 346.3 165.9 350.7 137.1 365.4" stroke="#111" stroke-width="2.27"/><path d="M385.9 201.0C356.3 225.6 159.9 310.7 121.7 315.4" stroke="#111" stroke-width="1.16"/><path d="M186.7 172.6C206.1 201.3 260.2 412.0 257.1 446.4" stroke="#111" stroke-width="1.84"/><path d="M340.1 429.9C324.2 399.6 377.2 252.1 408.8 238.8" stroke="#111" stroke-width="0.74"/><path d="M285.1 147.7C282.3 176.9 168.9 232.1 144.2 216.3" stroke="#111" stroke-width="0.90"/><path d="M121.9 316.5C159.4 311.6 199.3 210.4 175.2 181.2" stroke="rgb(238,102,75)" stroke-width="0.97"/><path d="M283.9 446.4C281.0 413.9 163.3 249.5 133.4 236.3" stroke="#111" stroke-width="0.93"/><path d="M248.9 445.4C254.9 404.2 378.6 305.3 420.2 308.5" stroke="rgb(238,102,75)" stroke-width="0.65"/><path d="M252.0 148.2C256.7 186.0 255.9 407.9 250.9 445.7" stroke="rgb(238,102,75)" stroke-width="0.72"/><path d="M143.9 216.7C168.4 232.2 154.5 331.2 126.7 339.5" stroke="#111" stroke-width="1.13"/><path d="M175.8 413.3C194.2 390.7 391.0 307.7 420.0 310.3" stroke="rgb(238,102,75)" stroke-width="0.61"/><path d="M220.5 438.4C230.6 410.1 379.3 246.3 406.5 233.6" stroke="#111" stroke-width="0.71"/><path d="M417.1 264.7C382.3 272.4 375.1 343.7 407.5 358.3" stroke="#111" stroke-width="0.80"/><path d="M406.8 359.8C378.0 346.5 156.3 327.4 125.6 335.5" stroke="#111" stroke-width="0.71"/><path d="M121.4 312.1C139.9 310.2 210.3 413.7 201.8 430.3" stroke="#111" stroke-width="0.97"/><path d="M300.5 150.0C292.3 190.1 339.7 212.6 365.6 180.9" stroke="rgb(238,102,75)" stroke-width="0.86"/><path d="M127.4 341.8C164.6 330.2 199.1 212.1 174.0 182.3" stroke="#111" stroke-width="0.79"/><path d="M251.7 148.2C254.7 172.3 145.9 312.6 121.8 315.6" stroke="#111" stroke-width="1.85"/><path d="M152.2 204.9C183.1 228.9 328.7 202.6 349.3 169.3" stroke="#111" stroke-width="0.83"/><path d="M138.1 367.3C164.4 353.4 291.9 178.7 297.2 149.4" stroke="rgb(238,102,75)" stroke-width="1.15"/><path d="M319.5 438.8C310.2 411.8 201.2 197.4 184.9 173.9" stroke="rgb(238,102,75)" stroke-width="0.91"/><path d="M152.0 205.2C171.1 220.0 171.1 374.0 152.0 388.8" stroke="#111" stroke-width="2.39"/><path d="M364.3 179.8C342.5 207.0 305.4 406.8 315.9 440.0" stroke="rgb(238,102,75)" stroke-width="0.64"/><path d="M132.8 237.8C159.9 249.5 214.2 403.4 200.3 429.5" stroke="rgb(238,102,75)" stroke-width="1.05"/><path d="M246.5 149.0C251.5 179.7 318.7 188.3 331.3 159.8" stroke="rgb(238,102,75)" stroke-width="0.94"/><path d="M393.6 382.9C360.7 359.9 251.4 405.2 244.5 444.7" stroke="rgb(238,102,75)" stroke-width="1.13"/><path d="M176.2 413.6C198.9 385.5 254.3 184.3 249.1 148.6" stroke="rgb(238,102,75)" stroke-width="1.65"/><path d="M149.1 385.0C171.5 368.8 381.9 347.9 407.0 359.4" stroke="#111" stroke-width="0.78"/><path d="M406.0 361.4C370.6 344.6 236.3 402.3 224.2 439.6" stroke="#111" stroke-width="0.68"/><path d="M122.5 273.4C147.0 277.3 196.8 195.9 182.1 175.9" stroke="rgb(238,102,75)" stroke-width="2.08"/><path d="M362.6 178.5C340.0 207.6 277.1 184.0 279.2 147.2" stroke="rgb(238,102,75)" stroke-width="2.19"/><path d="M150.5 207.2C168.6 220.7 230.3 417.8 223.1 439.3" stroke="rgb(238,102,75)" stroke-width="1.89"/><path d="M224.2 439.7C235.8 404.0 208.0 203.5 187.1 172.4" stroke="rgb(238,102,75)" stroke-width="1.15"/><path d="M243.8 444.6C249.1 415.8 289.3 177.7 293.8 148.8" stroke="rgb(238,102,75)" stroke-width="0.60"/><path d="M355.1 421.0C337.2 394.7 195.6 205.6 175.5 181.0" stroke="#111" stroke-width="0.95"/><path d="M352.2 422.9C336.4 398.5 229.4 183.2 219.5 156.0" stroke="rgb(238,102,75)" stroke-width="0.99"/><path d="M145.0 214.9C160.2 224.9 230.1 422.5 224.6 439.8" stroke="#111" stroke-width="0.99"/><path d="M404.5 364.7C379.4 352.0 311.0 412.1 320.3 438.5" stroke="#111" stroke-width="0.96"/><path d="M287.1 446.1C283.1 410.4 382.0 272.3 417.0 264.5" stroke="#111" stroke-width="1.18"/><path d="M247.8 148.7C251.8 174.6 310.4 414.3 318.8 439.1" stroke="#111" stroke-width="0.77"/><path d="M123.2 269.0C158.1 275.6 253.9 183.7 248.8 148.6" stroke="rgb(238,102,75)" stroke-width="0.76"/><path d="M123.6 267.3C153.4 273.3 177.7 372.4 154.1 391.5" stroke="rgb(238,102,75)" stroke-width="1.08"/><path d="M218.4 156.4C229.6 186.5 171.4 233.3 144.4 216.0" stroke="#111" stroke-width="1.17"/><path d="M183.3 175.0C204.7 205.0 361.7 364.1 391.4 386.0" stroke="rgb(238,102,75)" stroke-width="1.15"/><path d="M283.3 147.5C281.3 170.9 352.7 200.6 367.8 182.8" stroke="rgb(238,102,75)" stroke-width="0.69"/><path d="M392.0 208.9C359.0 232.8 165.7 327.3 126.5 338.7" stroke="#111" stroke-width="1.17"/><path d="M419.8 312.1C394.3 309.5 309.2 415.2 317.1 439.6" stroke="#111" stroke-width="2.13"/><path d="M146.0 213.5C166.8 227.5 146.4 310.4 121.5 313.1" stroke="#111" stroke-width="1.08"/><path d="M245.0 149.2C249.4 174.5 346.3 198.4 362.0 178.0" stroke="rgb(238,102,75)" stroke-width="0.87"/><path d="M263.3 446.8C264.5 421.7 330.6 406.5 342.6 428.6" stroke="#111" stroke-width="0.97"/><path d="M345.4 167.0C332.0 190.2 393.7 301.4 420.5 302.4" stroke="rgb(238,102,75)" stroke-width="1.12"/><path d="M133.9 235.3C164.6 249.1 168.8 353.3 139.4 369.6" stroke="#111" stroke-width="1.04"/><path d="M176.8 179.9C201.6 210.8 164.3 326.9 126.2 337.6" stroke="rgb(238,102,75)" stroke-width="1.14"/><path d="M224.5 439.7C232.7 414.2 381.9 349.6 406.2 361.0" stroke="#111" stroke-width="0.84"/><path d="M186.1 173.1C203.3 198.3 250.6 179.2 245.5 149.1" stroke="rgb(238,102,75)" stroke-width="1.67"/><path d="M408.3 356.4C386.5 347.0 262.4 422.9 260.9 446.7" stroke="#111" stroke-width="0.71"/><path d="M121.6 314.4C160.1 309.9 182.4 364.8 151.6 388.4" stroke="#111" stroke-width="0.92"/><path d="M133.9 235.2C152.8 243.8 229.3 174.5 222.7 154.9" stroke="#111" stroke-width="0.67"/><path d="M127.5 342.0C164.9 330.2 352.8 222.7 381.9 196.4" stroke="rgb(238,102,75)" stroke-width="0.70"/><path d="M179.4 416.1C193.0 398.4 252.7 423.5 249.5 445.5" stroke="#111" stroke-width="1.06"/><path d="M143.8 216.9C173.8 235.9 341.5 207.2 363.5 179.3" stroke="rgb(238,102,75)" stroke-width="1.12"/><path d="M121.3 311.2C159.7 307.6 334.3 388.4 356.3 420.1" stroke="#111" stroke-width="1.14"/><path d="M147.2 382.2C171.3 365.6 378.4 351.2 404.6 364.4" stroke="#111" stroke-width="0.75"/><path d="M355.9 420.4C333.3 387.7 291.2 188.7 298.6 149.6" stroke="rgb(238,102,75)" stroke-width="1.01"/><path d="M404.7 364.2C384.1 353.9 248.0 172.0 244.0 149.4" stroke="#111" stroke-width="1.15"/><path d="M121.3 311.1C145.7 308.8 384.6 244.7 406.9 234.4" stroke="#111" stroke-width="0.95"/><path d="M185.1 173.7C207.6 206.1 359.2 363.3 390.7 386.9" stroke="rgb(238,102,75)" stroke-width="0.96"/><path d="M416.9 263.9C382.1 271.8 205.5 203.0 185.2 173.7" stroke="rgb(238,102,75)" stroke-width="1.17"/><path d="M407.3 235.2C381.2 247.0 150.0 310.7 121.6 313.9" stroke="#111" stroke-width="1.76"/><path d="M132.3 238.9C169.4 254.5 238.1 401.9 226.2 440.3" stroke="rgb(238,102,75)" stroke-width="0.68"/><path d="M144.6 215.7C176.7 236.4 239.3 404.3 228.6 441.0" stroke="rgb(238,102,75)" stroke-width="0.78"/><path d="M284.4 446.4C282.7 427.3 218.8 176.8 211.2 159.3" stroke="rgb(238,102,75)" stroke-width="0.98"/><path d="M200.8 429.8C219.2 394.8 253.2 188.0 246.9 148.9" stroke="#111" stroke-width="1.17"/><path d="M247.3 148.8C252.1 179.4 264.4 415.9 262.8 446.8" stroke="rgb(238,102,75)" stroke-width="0.84"/><path d="M390.5 206.9C368.2 223.6 158.0 249.7 132.3 238.9" stroke="#111" stroke-width="1.10"/><path d="M205.2 432.0C219.8 401.9 155.8 277.1 122.8 271.3" stroke="rgb(238,102,75)" stroke-width="1.18"/><path d="M257.7 446.4C259.5 425.4 142.6 312.1 121.6 314.5" stroke="#111" stroke-width="1.17"/><path d="M126.6 339.1C145.9 333.5 263.9 426.8 262.9 446.8" stroke="rgb(238,102,75)" stroke-width="1.14"/><path d="M153.6 390.9C181.9 368.2 260.7 410.3 257.5 446.4" stroke="rgb(238,102,75)" stroke-width="1.08"/><path d="M139.2 369.4C162.9 356.4 390.8 270.8 417.2 265.1" stroke="#111" stroke-width="0.93"/><path d="M186.8 172.6C201.8 194.8 149.8 272.8 123.5 267.6" stroke="rgb(238,102,75)" stroke-width="0.73"/><path d="M185.0 173.8C205.6 203.5 305.3 405.5 316.3 439.9" stroke="rgb(238,102,75)" stroke-width="1.73"/><path d="M140.2 371.1C167.7 355.5 154.6 273.5 123.6 267.2" stroke="rgb(238,102,75)" stroke-width="1.16"/><path d="M320.1 438.6C309.6 408.3 315.7 188.0 327.9 158.4" stroke="rgb(238,102,75)" stroke-width="0.61"/><path d="M134.7 233.5C155.0 243.0 148.4 333.4 126.9 339.9" stroke="#111" stroke-width="0.90"/><path d="M183.8 174.7C196.8 193.1 397.7 306.6 420.2 308.3" stroke="#111" stroke-width="0.88"/><path d="M121.4 312.4C157.2 308.7 167.7 247.9 135.2 232.4" stroke="#111" stroke-width="1.94"/><path d="M259.3 446.6C261.4 418.0 319.4 185.9 331.0 159.7" stroke="rgb(238,102,75)" stroke-width="0.92"/><path d="M420.0 310.3C390.5 307.7 340.3 395.1 357.5 419.3" stroke="#111" stroke-width="0.62"/><path d="M420.5 301.4C389.7 300.5 257.1 415.4 253.6 446.0" stroke="#111" stroke-width="0.84"/><path d="M177.7 414.8C196.0 391.6 253.1 177.8 248.8 148.6" stroke="rgb(238,102,75)" stroke-width="0.63"/><path d="M134.3 234.3C169.6 250.5 252.3 187.3 245.9 149.0" stroke="#111" stroke-width="0.70"/><path d="M178.1 415.1C195.8 392.5 166.5 234.7 141.9 220.0" stroke="#111" stroke-width="2.20"/><path d="M143.2 217.8C175.3 237.7 231.9 402.3 218.9 437.8" stroke="rgb(238,102,75)" stroke-width="0.77"/><path d="M121.9 316.8C154.4 312.4 296.9 182.8 304.3 150.8" stroke="rgb(238,102,75)" stroke-width="0.75"/><path d="M173.5 411.4C191.7 389.9 250.9 176.7 246.3 149.0" stroke="rgb(238,102,75)" stroke-width="0.64"/><path d="M139.1 369.2C160.9 357.2 214.3 408.7 203.0 430.9" stroke="#111" stroke-width="0.88"/><path d="M385.8 200.9C361.2 221.4 205.1 198.8 187.4 172.2" stroke="#111" stroke-width="0.84"/><path d="M416.6 262.5C379.0 271.4 183.8 366.8 153.7 391.0" stroke="#111" stroke-width="2.25"/><path d="M420.4 305.0C381.9 303.0 159.6 306.9 121.2 310.3" stroke="#111" stroke-width="0.78"/><path d="M263.1 446.8C264.3 424.1 386.2 350.0 407.0 359.5" stroke="#111" stroke-width="0.61"/><path d="M153.1 390.3C171.3 375.8 296.9 173.0 301.7 150.3" stroke="rgb(238,102,75)" stroke-width="0.63"/><path d="M405.7 231.9C387.6 240.6 285.7 426.0 288.0 446.0" stroke="#111" stroke-width="0.84"/><path d="M222.7 154.8C231.7 181.5 346.7 201.8 364.2 179.8" stroke="rgb(238,102,75)" stroke-width="1.09"/><path d="M141.9 219.9C177.2 241.0 232.3 195.0 217.9 156.6" stroke="#111" stroke-width="0.74"/><path d="M420.3 306.7C394.2 305.0 147.5 310.7 121.5 313.6" stroke="#111" stroke-width="0.76"/><path d="M343.1 428.3C331.6 407.4 266.1 423.0 265.3 446.9" stroke="#111" stroke-width="0.61"/><path d="M225.1 439.9C237.3 401.7 308.8 400.0 322.7 437.6" stroke="rgb(238,102,75)" stroke-width="0.75"/><path d="M123.2 269.1C144.5 273.1 168.7 219.0 151.5 205.8" stroke="#111" stroke-width="0.90"/><path d="M405.7 231.9C369.0 249.6 175.5 350.7 140.0 370.8" stroke="rgb(238,102,75)" stroke-width="1.74"/><path d="M284.8 147.7C282.1 175.5 164.8 357.7 140.5 371.6" stroke="#111" stroke-width="1.87"/><path d="M383.6 198.4C362.3 217.0 174.4 222.3 152.1 205.0" stroke="#111" stroke-width="0.91"/><path d="M352.7 422.5C333.7 393.5 225.1 191.1 211.4 159.2" stroke="#111" stroke-width="1.42"/><path d="M215.9 157.3C226.7 184.8 360.4 216.7 382.4 197.0" stroke="#111" stroke-width="0.83"/><path d="M251.3 148.3C253.8 167.7 167.0 376.2 151.5 388.1" stroke="#111" stroke-width="0.80"/><path d="M122.9 270.6C151.5 275.7 253.1 177.3 248.9 148.6" stroke="rgb(238,102,75)" stroke-width="1.48"/><path d="M409.2 354.5C373.6 339.7 205.8 206.2 183.5 174.9" stroke="#111" stroke-width="1.76"/><path d="M287.9 446.0C284.1 413.1 179.1 224.3 153.1 203.7" stroke="rgb(238,102,75)" stroke-width="0.76"/><path d="M121.4 312.8C156.4 309.1 167.2 247.1 135.5 231.8" stroke="#111" stroke-width="0.84"/><path d="M133.0 237.3C168.7 252.8 352.1 221.6 380.7 195.1" stroke="#111" stroke-width="1.81"/><path d="M407.3 235.1C386.7 244.4 294.7 171.8 298.9 149.7" stroke="rgb(238,102,75)" stroke-width="1.07"/><path d="M420.3 306.2C379.2 303.7 220.8 393.8 202.0 430.4" stroke="#111" stroke-width="0.91"/><path d="M321.8 438.0C311.8 410.4 390.9 305.1 420.3 307.1" stroke="#111" stroke-width="0.98"/><path d="M365.5 180.8C349.9 199.9 201.3 192.6 187.6 172.0" stroke="rgb(238,102,75)" stroke-width="1.91"/><path d="M249.5 445.5C254.2 412.4 156.3 274.3 123.5 267.8" stroke="rgb(238,102,75)" stroke-width="2.01"/><path d="M187.3 172.3C210.1 206.4 184.3 363.5 151.8 388.5" stroke="rgb(238,102,75)" stroke-width="1.14"/><path d="M420.3 306.9C389.0 304.8 194.2 206.2 174.0 182.3" stroke="#111" stroke-width="1.60"/><path d="M420.3 305.7C382.9 303.5 249.2 407.5 242.1 444.3" stroke="#111" stroke-width="0.96"/><path d="M153.9 391.2C169.2 378.8 194.8 191.0 183.3 175.0" stroke="rgb(238,102,75)" stroke-width="0.89"/><path d="M138.1 367.4C171.1 349.9 180.4 229.4 150.5 207.1" stroke="#111" stroke-width="0.99"/><path d="M142.1 219.7C162.9 232.2 162.4 361.0 141.5 373.4" stroke="#111" stroke-width="2.00"/><path d="M173.2 182.9C195.8 209.3 165.0 250.8 133.2 236.9" stroke="#111" stroke-width="1.09"/><path d="M132.8 237.8C154.1 246.9 330.5 408.7 341.5 429.2" stroke="#111" stroke-width="1.05"/><path d="M262.7 446.8C263.7 428.5 347.2 404.2 357.8 419.1" stroke="#111" stroke-width="0.80"/><path d="M417.2 265.2C382.1 272.8 180.9 226.5 152.7 204.3" stroke="#111" stroke-width="2.32"/><path d="M202.8 430.8C212.9 411.0 252.8 170.5 249.8 148.5" stroke="rgb(238,102,75)" stroke-width="1.13"/><path d="M279.0 147.2C277.7 170.5 144.3 307.6 121.1 309.5" stroke="#111" stroke-width="0.64"/><path d="M392.1 384.9C372.8 370.9 282.9 422.5 285.2 446.3" stroke="rgb(238,102,75)" stroke-width="1.01"/><path d="M154.6 392.1C171.2 378.5 372.5 375.4 389.5 388.5" stroke="rgb(238,102,75)" stroke-width="2.21"/><path d="M184.9 173.9C199.1 194.3 309.7 415.9 317.5 439.5" stroke="#111" stroke-width="0.73"/><path d="M341.4 429.2C329.6 407.3 172.7 374.9 153.3 390.4" stroke="rgb(238,102,75)" stroke-width="0.82"/><path d="M138.6 368.2C168.3 352.1 251.8 411.7 246.4 445.0" stroke="rgb(238,102,75)" stroke-width="1.84"/><path d="M134.1 234.9C157.8 245.7 263.0 420.7 261.4 446.7" stroke="#111" stroke-width="1.09"/><path d="M318.1 439.3C309.4 413.2 165.4 234.1 141.9 220.0" stroke="#111" stroke-width="0.73"/><path d="M150.4 386.7C172.6 370.2 219.9 185.7 208.5 160.5" stroke="rgb(238,102,75)" stroke-width="0.63"/><path d="M201.5 430.2C213.4 407.2 318.5 182.5 328.5 158.6" stroke="rgb(238,102,75)" stroke-width="1.62"/><path d="M317.4 439.5C310.1 417.5 144.5 310.4 121.4 312.8" stroke="#111" stroke-width="0.80"/><path d="M263.7 446.8C265.2 414.3 377.8 344.9 407.5 358.3" stroke="#111" stroke-width="1.58"/><path d="M365.0 180.5C347.1 202.6 220.7 186.2 209.0 160.2" stroke="#111" stroke-width="0.67"/><path d="M223.8 439.5C236.5 400.9 293.1 189.9 301.4 150.2" stroke="rgb(238,102,75)" stroke-width="1.08"/><path d="M390.4 387.3C375.3 375.9 140.2 310.0 121.3 311.9" stroke="rgb(238,102,75)" stroke-width="1.05"/><path d="M419.8 312.5C395.7 310.0 334.5 188.6 346.8 167.8" stroke="#111" stroke-width="1.07"/><path d="M180.5 177.0C194.7 195.9 145.0 311.2 121.5 313.8" stroke="#111" stroke-width="1.03"/><path d="M406.7 360.2C383.3 349.3 346.7 395.3 362.4 415.6" stroke="#111" stroke-width="1.78"/><path d="M385.3 200.3C365.1 217.4 198.1 196.9 182.6 175.5" stroke="#111" stroke-width="0.71"/><path d="M420.3 306.6C386.4 304.4 164.9 249.2 133.9 235.2" stroke="#111" stroke-width="1.18"/><path d="M151.5 205.8C177.8 226.0 281.1 413.4 284.0 446.4" stroke="rgb(238,102,75)" stroke-width="1.91"/><path d="M327.5 158.2C313.1 193.5 220.0 396.8 202.7 430.8" stroke="rgb(238,102,75)" stroke-width="0.69"/><path d="M143.1 218.0C177.2 239.2 380.0 306.7 420.0 310.3" stroke="#111" stroke-width="0.88"/><path d="M420.2 307.3C394.7 305.6 342.6 398.5 357.4 419.3" stroke="#111" stroke-width="0.79"/><path d="M241.5 444.2C247.9 411.6 254.6 181.3 250.0 148.4" stroke="rgb(238,102,75)" stroke-width="1.04"/><path d="M186.3 172.9C201.1 194.7 344.1 396.5 359.7 417.7" stroke="#111" stroke-width="0.82"/><path d="M419.6 313.9C379.4 309.3 334.6 385.8 358.3 418.7" stroke="#111" stroke-width="1.08"/><path d="M151.3 206.1C179.2 227.3 364.0 364.1 392.4 384.6" stroke="rgb(238,102,75)" stroke-width="0.74"/><path d="M177.0 414.2C200.8 384.4 341.0 210.0 365.0 180.4" stroke="rgb(238,102,75)" stroke-width="0.76"/><path d="M294.3 148.9C290.7 171.7 192.8 397.3 178.7 415.6" stroke="rgb(238,102,75)" stroke-width="1.12"/><path d="M151.4 206.0C169.4 219.7 283.6 423.6 285.9 446.2" stroke="#111" stroke-width="1.60"/><path d="M390.3 387.4C360.3 364.8 363.1 233.1 394.0 211.7" stroke="rgb(238,102,75)" stroke-width="0.89"/><path d="M133.7 235.7C157.7 246.4 366.5 218.9 386.9 202.3" stroke="#111" stroke-width="0.86"/><path d="M139.8 370.4C171.8 352.4 383.7 302.2 420.4 303.9" stroke="#111" stroke-width="1.16"/><path d="M177.4 179.5C196.2 203.2 217.4 404.3 204.0 431.4" stroke="rgb(238,102,75)" stroke-width="0.81"/><path d="M221.1 438.6C228.8 416.7 144.7 311.8 121.6 314.5" stroke="#111" stroke-width="0.79"/><path d="M300.9 150.1C294.0 183.6 338.8 390.5 359.0 418.2" stroke="rgb(238,102,75)" stroke-width="2.05"/><path d="M385.7 200.8C353.7 227.6 378.8 301.8 420.5 303.7" stroke="rgb(238,102,75)" stroke-width="1.82"/><path d="M406.6 233.8C379.3 246.5 309.7 410.3 319.5 438.8" stroke="#111" stroke-width="1.03"/><path d="M384.2 199.1C355.1 224.1 337.8 386.1 361.0 416.7" stroke="#111" stroke-width="1.19"/><path d="M257.3 446.4C259.9 417.0 150.7 309.1 121.4 312.1" stroke="#111" stroke-width="0.64"/><path d="M356.1 420.3C342.1 400.0 210.0 406.8 198.2 428.3" stroke="rgb(238,102,75)" stroke-width="0.83"/><path d="M151.1 206.3C177.8 226.6 253.9 412.3 249.0 445.4" stroke="rgb(238,102,75)" stroke-width="0.82"/><path d="M415.8 259.3C379.7 268.7 182.1 366.8 152.8 389.9" stroke="rgb(238,102,75)" stroke-width="1.12"/><path d="M417.4 266.4C389.7 272.2 201.5 196.9 185.3 173.6" stroke="#111" stroke-width="1.08"/><path d="M258.2 446.5C261.3 409.6 182.3 367.5 153.4 390.6" stroke="#111" stroke-width="0.70"/><path d="M341.5 429.2C330.8 409.2 261.3 424.0 259.6 446.6" stroke="#111" stroke-width="0.68"/><path d="M123.1 269.5C157.1 275.8 214.5 397.9 197.7 428.1" stroke="rgb(238,102,75)" stroke-width="0.91"/><path d="M406.4 360.6C375.8 346.3 174.0 232.5 145.9 213.7" stroke="#111" stroke-width="1.09"/><path d="M262.6 446.8C264.1 417.6 154.6 330.8 126.6 339.0" stroke="rgb(238,102,75)" stroke-width="1.85"/><path d="M356.8 419.7C338.2 393.2 345.1 206.1 365.7 181.0" stroke="rgb(238,102,75)" stroke-width="0.68"/><path d="M183.0 175.2C195.7 192.9 169.1 375.3 151.8 388.6" stroke="#111" stroke-width="1.05"/><path d="M406.5 360.5C380.4 348.3 192.8 204.1 174.3 182.0" stroke="#111" stroke-width="1.19"/><path d="M288.0 446.0C283.9 410.9 373.6 347.5 405.3 363.0" stroke="#111" stroke-width="1.05"/><path d="M283.6 446.4C281.2 419.3 340.9 397.6 356.5 420.0" stroke="rgb(238,102,75)" stroke-width="2.28"/><path d="M151.8 205.5C170.1 219.6 229.8 417.2 222.4 439.0" stroke="rgb(238,102,75)" stroke-width="0.72"/><path d="M126.8 339.7C154.2 331.6 391.8 304.2 420.3 305.9" stroke="#111" stroke-width="1.19"/><path d="M182.2 175.8C197.9 197.3 326.6 407.0 338.6 430.7" stroke="#111" stroke-width="1.03"/><path d="M357.9 418.9C335.0 386.9 184.0 228.3 153.1 203.7" stroke="#111" stroke-width="0.69"/><path d="M408.5 238.1C377.4 251.4 376.2 345.5 406.9 359.6" stroke="#111" stroke-width="1.16"/><path d="M132.9 237.6C159.6 249.1 381.9 344.2 408.7 355.5" stroke="#111" stroke-width="1.57"/><path d="M247.5 148.8C252.6 181.8 338.7 391.7 358.2 418.7" stroke="rgb(238,102,75)" stroke-width="0.62"/><path d="M177.5 414.6C190.0 398.7 186.3 198.3 173.2 182.9" stroke="rgb(238,102,75)" stroke-width="2.39"/><path d="M408.3 356.6C391.0 349.1 228.2 172.8 222.1 155.1" stroke="#111" stroke-width="0.99"/><path d="M361.1 416.7C340.4 389.3 156.3 278.9 122.4 273.6" stroke="rgb(238,102,75)" stroke-width="1.09"/><path d="M420.1 308.7C401.0 307.2 167.6 216.4 152.5 204.5" stroke="#111" stroke-width="1.09"/><path d="M407.6 235.9C376.4 249.8 164.3 251.0 133.0 237.4" stroke="#111" stroke-width="0.83"/><path d="M223.0 439.2C229.0 421.4 390.0 351.3 407.1 359.1" stroke="#111" stroke-width="0.92"/><path d="M325.2 157.3C316.3 180.0 251.7 421.2 248.0 445.3" stroke="rgb(238,102,75)" stroke-width="0.96"/><path d="M248.8 148.6C252.6 174.7 149.6 271.5 123.8 266.0" stroke="rgb(238,102,75)" stroke-width="0.62"/><path d="M417.3 265.8C393.6 270.8 262.5 422.5 261.0 446.7" stroke="#111" stroke-width="0.77"/><path d="M222.0 155.1C230.2 179.2 328.7 407.2 340.5 429.7" stroke="rgb(238,102,75)" stroke-width="0.74"/><path d="M133.3 236.6C169.4 252.5 160.5 307.3 121.3 311.0" stroke="#111" stroke-width="0.64"/><path d="M149.0 209.2C173.6 227.0 378.6 348.4 406.0 361.5" stroke="#111" stroke-width="1.03"/><path d="M394.1 382.2C378.6 371.5 266.4 428.1 265.8 446.9" stroke="rgb(238,102,75)" stroke-width="0.86"/><path d="M185.8 173.3C198.9 192.4 396.9 308.0 420.0 310.0" stroke="#111" stroke-width="0.84"/><path d="M283.5 446.4C281.6 425.0 370.4 216.0 387.1 202.5" stroke="#111" stroke-width="0.63"/><path d="M391.7 385.5C364.4 365.6 318.1 190.9 331.9 160.1" stroke="rgb(238,102,75)" stroke-width="0.85"/><path d="M123.8 266.0C162.2 274.1 250.5 406.0 243.4 444.5" stroke="#111" stroke-width="0.64"/><path d="M155.3 201.1C184.8 225.6 180.3 362.6 149.2 385.1" stroke="rgb(238,102,75)" stroke-width="0.82"/><path d="M243.9 149.4C251.0 188.6 183.2 364.1 151.6 388.4" stroke="rgb(238,102,75)" stroke-width="1.99"/><path d="M327.1 158.1C313.5 191.6 179.8 228.5 150.9 206.7" stroke="rgb(238,102,75)" stroke-width="1.17"/><path d="M220.4 155.7C229.5 181.4 329.6 404.5 342.8 428.5" stroke="rgb(238,102,75)" stroke-width="0.73"/><path d="M121.8 316.2C149.4 312.7 371.5 228.0 394.4 212.3" stroke="#111" stroke-width="1.01"/><path d="M249.3 148.5C253.8 179.9 263.2 415.1 261.2 446.7" stroke="rgb(238,102,75)" stroke-width="0.64"/><path d="M392.1 384.9C362.4 363.4 181.2 366.6 152.3 389.2" stroke="rgb(238,102,75)" stroke-width="1.88"/><path d="M133.2 236.7C162.1 249.4 203.0 199.7 185.0 173.8" stroke="#111" stroke-width="1.05"/><path d="M408.1 356.9C384.9 346.8 168.9 369.0 148.1 383.6" stroke="#111" stroke-width="1.18"/><path d="M216.0 157.3C222.6 174.2 187.8 399.6 176.4 413.7" stroke="rgb(238,102,75)" stroke-width="0.61"/><path d="M259.1 446.6C260.5 428.2 160.1 225.5 144.7 215.5" stroke="#111" stroke-width="0.79"/><path d="M173.1 183.0C193.1 206.4 387.0 270.8 416.9 264.0" stroke="#111" stroke-width="0.62"/><path d="M180.7 417.1C202.0 388.6 335.2 391.5 355.3 420.8" stroke="rgb(238,102,75)" stroke-width="0.72"/><path d="M407.1 359.2C371.0 342.8 165.3 329.9 127.4 341.8" stroke="#111" stroke-width="0.84"/><path d="M358.6 418.5C341.0 394.1 177.3 372.4 153.9 391.3" stroke="rgb(238,102,75)" stroke-width="1.49"/><path d="M356.5 420.0C334.0 387.9 199.6 211.9 174.5 181.8" stroke="rgb(238,102,75)" stroke-width="1.08"/><path d="M223.6 439.4C232.9 411.0 161.9 245.9 134.8 233.2" stroke="#111" stroke-width="0.73"/><path d="M286.8 446.1C282.4 405.7 173.0 346.3 136.7 364.7" stroke="#111" stroke-width="0.96"/><path d="M223.9 154.4C236.5 192.8 306.1 400.7 319.2 438.9" stroke="#111" stroke-width="1.10"/><path d="M419.5 315.2C387.7 311.3 153.6 312.0 121.8 316.0" stroke="#111" stroke-width="1.17"/><path d="M185.6 173.4C208.6 206.8 236.1 400.8 223.2 439.3" stroke="rgb(238,102,75)" stroke-width="1.09"/><path d="M384.8 199.7C365.7 216.0 284.6 421.1 287.4 446.1" stroke="#111" stroke-width="1.13"/><path d="M341.6 429.1C324.7 397.7 257.6 410.6 253.6 446.0" stroke="rgb(238,102,75)" stroke-width="0.88"/><path d="M134.3 234.4C158.0 245.3 371.0 369.7 392.1 385.0" stroke="rgb(238,102,75)" stroke-width="0.98"/><path d="M248.5 148.6C253.9 185.4 307.8 403.5 320.1 438.6" stroke="#111" stroke-width="1.18"/><path d="M248.3 148.7C253.2 181.4 305.9 408.5 315.9 440.0" stroke="#111" stroke-width="0.79"/><path d="M247.6 148.8C252.7 182.1 308.2 407.0 319.1 438.9" stroke="#111" stroke-width="1.00"/><path d="M247.5 148.8C251.7 175.4 309.6 413.8 318.1 439.3" stroke="#111" stroke-width="1.15"/><path d="M249.9 148.4C254.2 179.6 309.0 409.1 319.2 438.9" stroke="#111" stroke-width="1.26"/><path d="M250.6 148.3C254.8 179.6 308.7 409.2 318.9 439.0" stroke="#111" stroke-width="0.72"/><path d="M249.1 148.5C253.6 179.9 309.4 408.8 319.7 438.7" stroke="#111" stroke-width="0.75"/><path d="M184.3 174.3C201.8 199.1 379.2 347.3 406.7 360.0" stroke="#111" stroke-width="1.24"/><path d="M183.7 174.8C202.6 201.3 376.9 346.9 406.4 360.7" stroke="#111" stroke-width="1.39"/><path d="M186.1 173.1C205.0 200.8 376.6 345.0 407.3 358.8" stroke="#111" stroke-width="1.18"/><path d="M184.0 174.5C199.3 196.1 383.7 346.5 408.0 357.1" stroke="#111" stroke-width="1.21"/><path d="M185.6 173.4C206.1 203.1 373.7 345.4 406.4 360.7" stroke="#111" stroke-width="0.94"/><path d="M185.1 173.8C203.2 199.9 377.8 346.9 406.6 360.3" stroke="#111" stroke-width="1.33"/><path d="M183.1 175.2C200.1 198.8 380.3 347.8 406.7 360.1" stroke="#111" stroke-width="1.40"/><path d="M183.3 175.0C200.7 199.3 378.9 348.9 405.9 361.8" stroke="#111" stroke-width="1.39"/><path d="M121.5 313.3C155.0 309.6 386.5 306.3 420.1 309.0" stroke="#111" stroke-width="1.24"/><path d="M121.3 311.6C158.0 308.0 383.3 306.1 420.1 309.1" stroke="#111" stroke-width="0.96"/><path d="M121.4 312.9C150.0 309.8 391.6 305.7 420.2 307.7" stroke="#111" stroke-width="1.44"/><path d="M121.5 313.3C153.4 309.8 388.1 306.6 420.1 309.2" stroke="#111" stroke-width="1.12"/><path d="M121.6 314.0C153.5 310.3 387.9 308.5 419.9 311.7" stroke="#111" stroke-width="1.50"/><path d="M121.6 314.1C155.1 310.2 386.5 305.7 420.2 308.2" stroke="#111" stroke-width="0.91"/><path d="M121.4 312.8C154.2 309.3 387.4 304.9 420.3 307.1" stroke="#111" stroke-width="1.56"/><path d="M121.7 314.9C149.1 311.6 392.6 305.8 420.2 307.8" stroke="#111" stroke-width="1.23"/><path d="M121.5 313.0C144.2 310.5 397.1 309.3 419.9 311.6" stroke="#111" stroke-width="0.91"/><path d="M121.4 312.6C156.7 308.9 384.9 305.3 420.2 307.8" stroke="#111" stroke-width="1.06"/><path d="M134.1 234.8C156.8 245.1 383.1 242.4 405.5 231.5" stroke="#111" stroke-width="1.42"/><path d="M134.0 234.9C166.0 249.5 375.8 250.9 408.0 236.8" stroke="#111" stroke-width="1.33"/><path d="M133.1 237.1C155.1 246.7 385.9 246.3 407.9 236.6" stroke="#111" stroke-width="0.80"/><path d="M133.7 235.7C154.4 245.0 385.7 242.7 406.2 233.0" stroke="#111" stroke-width="0.96"/><path d="M133.3 236.6C156.3 246.7 384.1 245.0 407.0 234.6" stroke="#111" stroke-width="0.76"/><path d="M134.0 235.0C161.9 247.7 380.2 249.6 408.3 237.5" stroke="#111" stroke-width="1.45"/><path d="M184.3 174.3C204.9 203.7 336.5 390.2 357.3 419.4" stroke="rgb(238,102,75)" stroke-width="1.09"/><path d="M185.7 173.3C204.4 200.6 337.5 392.8 356.5 420.0" stroke="rgb(238,102,75)" stroke-width="1.17"/><path d="M183.9 174.6C205.2 204.6 332.8 391.6 353.0 422.3" stroke="rgb(238,102,75)" stroke-width="0.94"/><path d="M185.8 173.2C203.3 198.7 340.3 393.6 358.3 418.7" stroke="rgb(238,102,75)" stroke-width="1.47"/><path d="M185.0 173.8C205.4 203.2 335.0 391.3 355.2 420.9" stroke="rgb(238,102,75)" stroke-width="1.30"/><path d="M184.5 174.1C200.6 197.0 341.2 396.6 357.4 419.4" stroke="rgb(238,102,75)" stroke-width="0.73"/><path d="M185.7 173.3C198.7 192.2 332.6 408.0 343.8 428.0" stroke="#111" stroke-width="1.50"/><path d="M183.2 175.1C197.8 195.5 332.2 405.7 344.5 427.5" stroke="#111" stroke-width="1.20"/><path d="M185.4 173.5C204.8 201.6 327.0 398.2 343.6 428.0" stroke="#111" stroke-width="1.52"/><path d="M186.8 172.6C202.9 196.5 330.0 402.6 344.2 427.7" stroke="#111" stroke-width="0.99"/><path d="M184.0 174.6C200.9 198.5 331.1 401.4 345.8 426.8" stroke="#111" stroke-width="1.06"/><path d="M140.5 371.7C167.8 356.1 388.4 310.0 419.7 313.4" stroke="#111" stroke-width="1.05"/><path d="M140.1 371.0C162.8 358.1 394.2 306.2 420.2 308.1" stroke="#111" stroke-width="0.78"/><path d="M139.7 370.3C165.6 355.8 390.7 305.9 420.2 308.1" stroke="#111" stroke-width="1.26"/><path d="M140.6 371.9C169.0 355.6 387.6 305.7 420.2 308.1" stroke="#111" stroke-width="0.83"/><path d="M138.8 368.6C165.5 354.1 389.8 306.6 420.1 309.1" stroke="#111" stroke-width="1.45"/><path d="M142.2 219.5C173.9 238.6 373.3 344.2 406.9 359.6" stroke="#111" stroke-width="1.42"/><path d="M142.6 218.8C167.0 233.7 381.2 347.1 407.2 358.9" stroke="#111" stroke-width="1.19"/><path d="M143.5 217.3C171.5 234.9 376.3 347.1 406.1 361.3" stroke="#111" stroke-width="1.04"/><path d="M141.8 220.1C167.1 235.2 380.3 347.0 407.1 359.2" stroke="#111" stroke-width="0.94"/><path d="M143.3 217.7C172.4 235.8 377.0 342.3 408.6 355.7" stroke="#111" stroke-width="0.91"/><path d="M300.7 150.1C294.0 182.6 214.9 399.6 199.0 428.8" stroke="rgb(238,102,75)" stroke-width="1.06"/><path d="M300.1 149.9C294.8 176.3 213.2 405.9 200.6 429.7" stroke="rgb(238,102,75)" stroke-width="1.55"/><path d="M296.8 149.3C290.8 183.0 215.6 398.9 199.4 429.0" stroke="rgb(238,102,75)" stroke-width="1.55"/><path d="M297.9 149.5C293.4 173.6 212.2 408.1 200.8 429.8" stroke="rgb(238,102,75)" stroke-width="0.80"/><path d="M299.0 149.7C293.3 179.1 214.6 403.2 200.6 429.7" stroke="rgb(238,102,75)" stroke-width="0.81"/><path d="M326.0 157.6C316.9 180.5 193.3 395.7 178.2 415.1" stroke="rgb(238,102,75)" stroke-width="1.09"/><path d="M327.8 158.3C315.8 187.4 194.4 387.9 174.2 412.0" stroke="rgb(238,102,75)" stroke-width="0.93"/><path d="M326.1 157.6C317.2 179.9 191.4 395.0 176.3 413.7" stroke="rgb(238,102,75)" stroke-width="0.91"/><path d="M328.3 158.5C317.5 184.4 196.2 393.6 179.0 415.8" stroke="rgb(238,102,75)" stroke-width="1.48"/><path d="M327.6 158.3C316.2 186.1 196.5 391.3 177.9 415.0" stroke="rgb(238,102,75)" stroke-width="1.49"/><path d="M366.3 181.5C348.6 202.9 174.4 372.4 152.6 389.6" stroke="rgb(238,102,75)" stroke-width="0.80"/><path d="M365.9 181.2C342.9 209.1 181.1 367.4 152.7 389.7" stroke="rgb(238,102,75)" stroke-width="1.02"/><path d="M365.1 180.5C346.4 203.5 175.5 370.8 152.1 389.0" stroke="rgb(238,102,75)" stroke-width="1.46"/><path d="M364.5 180.0C345.1 204.2 177.5 371.0 153.2 390.3" stroke="rgb(238,102,75)" stroke-width="1.21"/><path d="M123.0 270.4C148.8 275.1 369.7 371.1 390.7 386.9" stroke="rgb(238,102,75)" stroke-width="0.92"/><path d="M123.3 268.4C156.3 274.8 364.6 365.7 391.7 385.5" stroke="rgb(238,102,75)" stroke-width="0.81"/><path d="M122.9 271.0C157.1 277.0 364.1 364.3 392.4 384.6" stroke="rgb(238,102,75)" stroke-width="1.16"/><path d="M123.0 270.1C154.0 275.7 366.1 367.2 391.5 385.8" stroke="rgb(238,102,75)" stroke-width="1.11"/><path d="M123.3 268.6C150.1 273.8 372.2 365.8 394.8 381.1" stroke="rgb(238,102,75)" stroke-width="1.48"/><path d="M151.6 205.7C175.5 224.0 255.0 415.8 251.1 445.7" stroke="rgb(238,102,75)" stroke-width="0.79"/><path d="M153.4 203.3C179.5 224.1 251.6 412.1 246.1 445.0" stroke="rgb(238,102,75)" stroke-width="0.75"/><path d="M152.3 204.7C173.4 221.2 250.7 418.6 246.4 445.0" stroke="rgb(238,102,75)" stroke-width="1.13"/><path d="M151.9 205.2C171.5 220.4 249.8 420.5 245.7 444.9" stroke="rgb(238,102,75)" stroke-width="1.01"/><path d="M152.6 204.4C181.4 227.0 250.7 408.6 244.3 444.7" stroke="rgb(238,102,75)" stroke-width="1.53"/></g><line x1="247.0" y1="140.8" x2="246.2" y2="135.8" stroke="#e8202a" stroke-width="1.5"/><line x1="281.3" y1="139.4" x2="281.7" y2="134.4" stroke="#e8202a" stroke-width="1.5"/><line x1="330.8" y1="150.9" x2="332.7" y2="146.3" stroke="#e8202a" stroke-width="1.5"/><line x1="349.6" y1="160.2" x2="352.1" y2="155.8" stroke="#e8202a" stroke-width="1.5"/><line x1="370.2" y1="174.4" x2="373.4" y2="170.5" stroke="#e8202a" stroke-width="1.5"/><line x1="390.4" y1="194.0" x2="394.2" y2="190.7" stroke="#e8202a" stroke-width="1.5"/><line x1="398.4" y1="204.1" x2="402.5" y2="201.2" stroke="#e8202a" stroke-width="1.5"/><line x1="428.1" y1="309.1" x2="433.1" y2="309.5" stroke="#e8202a" stroke-width="1.5"/><line x1="414.1" y1="363.0" x2="418.7" y2="365.1" stroke="#e8202a" stroke-width="1.5"/><line x1="398.4" y1="389.9" x2="402.5" y2="392.8" stroke="#e8202a" stroke-width="1.5"/><line x1="320.7" y1="446.8" x2="322.3" y2="451.6" stroke="#e8202a" stroke-width="1.5"/><line x1="197.6" y1="437.1" x2="195.3" y2="441.6" stroke="#e8202a" stroke-width="1.5"/><line x1="173.5" y1="421.7" x2="170.5" y2="425.6" stroke="#e8202a" stroke-width="1.5"/><line x1="145.6" y1="393.6" x2="141.6" y2="396.7" stroke="#e8202a" stroke-width="1.5"/><line x1="131.9" y1="372.6" x2="127.5" y2="375.0" stroke="#e8202a" stroke-width="1.5"/><line x1="118.9" y1="341.1" x2="114.1" y2="342.5" stroke="#e8202a" stroke-width="1.5"/><line x1="113.5" y1="313.8" x2="108.5" y2="314.3" stroke="#e8202a" stroke-width="1.5"/><line x1="115.2" y1="268.5" x2="110.3" y2="267.6" stroke="#e8202a" stroke-width="1.5"/><line x1="126.3" y1="232.7" x2="121.7" y2="230.7" stroke="#e8202a" stroke-width="1.5"/><line x1="137.0" y1="212.6" x2="132.8" y2="209.9" stroke="#e8202a" stroke-width="1.5"/><line x1="169.0" y1="176.0" x2="165.8" y2="172.1" stroke="#e8202a" stroke-width="1.5"/><line x1="206.3" y1="152.7" x2="204.3" y2="148.1" stroke="#e8202a" stroke-width="1.5"/></g>
<g><use href="#ring" transform="translate(702.5 297)"/><text x="745.9" y="114.1" font-size="21" text-anchor="middle" dominant-baseline="central" transform="rotate(13.4 745.9 114.1)">1</text><text x="823.8" y="153.4" font-size="21" text-anchor="middle" dominant-baseline="central" transform="rotate(40.2 823.8 153.4)">2</text><text x="872.4" y="216.6" font-size="21" text-anchor="middle" dominant-baseline="central" transform="rotate(64.7 872.4 216.6)">3</text><text x="890.3" y="288.8" font-size="21" text-anchor="middle" dominant-baseline="central" transform="rotate(87.5 890.3 288.8)">4</text><text x="879.4" y="360.6" font-size="21" text-anchor="middle" dominant-baseline="central" transform="rotate(-70.2 879.4 360.6)">5</text><text x="843.1" y="421.8" font-size="21" text-anchor="middle" dominant-baseline="central" transform="rotate(-48.4 843.1 421.8)">6</text><text x="788.0" y="464.4" font-size="21" text-anchor="middle" dominant-baseline="central" transform="rotate(-27.1 788.0 464.4)">7</text><text x="725.8" y="483.6" font-size="21" text-anchor="middle" dominant-baseline="central" transform="rotate(-7.1 725.8 483.6)">8</text><text x="665.1" y="481.2" font-size="21" text-anchor="middle" dominant-baseline="central" transform="rotate(11.5 665.1 481.2)">9</text><text x="607.9" y="459.4" font-size="21" text-anchor="middle" dominant-baseline="central" transform="rotate(30.2 607.9 459.4)">10</text><text x="561.1" y="420.9" font-size="21" text-anchor="middle" dominant-baseline="central" transform="rotate(48.8 561.1 420.9)">11</text><text x="530.0" y="371.8" font-size="21" text-anchor="middle" dominant-baseline="central" transform="rotate(66.6 530.0 371.8)">12</text><text x="515.5" y="315.9" font-size="21" text-anchor="middle" dominant-baseline="central" transform="rotate(84.2 515.5 315.9)">13</text><text x="518.8" y="257.2" font-size="21" text-anchor="middle" dominant-baseline="central" transform="rotate(282.2 518.8 257.2)">14</text><text x="538.3" y="205.4" font-size="21" text-anchor="middle" dominant-baseline="central" transform="rotate(299.2 538.3 205.4)">15</text><text x="567.9" y="165.8" font-size="21" text-anchor="middle" dominant-baseline="central" transform="rotate(314.3 567.9 165.8)">16</text><text x="605.1" y="136.2" font-size="21" text-anchor="middle" dominant-baseline="central" transform="rotate(328.8 605.1 136.2)">17</text><text x="647.0" y="117.4" font-size="21" text-anchor="middle" dominant-baseline="central" transform="rotate(342.8 647.0 117.4)">18</text><text x="684.9" y="109.8" font-size="21" text-anchor="middle" dominant-baseline="central" transform="rotate(354.6 684.9 109.8)">19</text><g fill="none"><path d="M634.1 430.5C651.4 396.7 600.1 251.6 565.4 236.2" stroke="#111" stroke-width="0.68"/><path d="M634.6 430.8C652.4 395.7 802.3 345.1 837.6 362.1" stroke="#111" stroke-width="0.80"/><path d="M839.5 236.0C818.0 245.5 627.3 195.3 613.4 176.4" stroke="rgb(238,102,75)" stroke-width="0.95"/><path d="M841.1 354.3C804.9 339.3 733.8 403.2 744.8 440.9" stroke="#111" stroke-width="0.68"/><path d="M608.1 413.5C629.0 387.7 636.7 200.6 617.9 173.1" stroke="rgb(238,102,75)" stroke-width="1.17"/><path d="M837.0 363.5C805.7 348.0 646.9 397.8 630.0 428.3" stroke="#111" stroke-width="0.63"/><path d="M572.9 372.5C592.9 360.8 685.7 171.3 682.6 148.3" stroke="#111" stroke-width="0.71"/><path d="M586.2 391.7C610.6 371.8 820.5 307.0 852.0 309.7" stroke="#111" stroke-width="1.11"/><path d="M637.3 161.9C652.2 193.0 604.3 236.1 575.0 217.9" stroke="#111" stroke-width="1.03"/><path d="M683.8 148.2C687.8 180.4 594.5 250.5 564.7 237.7" stroke="#111" stroke-width="0.83"/><path d="M710.4 147.2C709.2 170.5 777.2 399.3 791.0 418.1" stroke="rgb(238,102,75)" stroke-width="1.07"/><path d="M692.1 446.6C693.6 424.4 775.5 401.7 788.3 420.1" stroke="#111" stroke-width="0.82"/><path d="M734.5 150.4C730.5 168.8 573.8 271.7 555.3 268.1" stroke="rgb(238,102,75)" stroke-width="0.74"/><path d="M681.0 148.6C686.7 187.7 770.2 209.8 794.5 178.5" stroke="rgb(238,102,75)" stroke-width="1.65"/><path d="M582.9 387.5C611.2 366.0 606.2 235.2 576.3 216.0" stroke="rgb(238,102,75)" stroke-width="0.84"/><path d="M584.5 204.4C608.7 223.4 583.9 309.6 553.3 312.9" stroke="#111" stroke-width="0.82"/><path d="M584.5 204.3C614.2 227.6 722.6 186.5 729.4 149.4" stroke="rgb(238,102,75)" stroke-width="1.00"/><path d="M583.5 205.6C612.9 228.2 796.0 360.4 826.6 381.2" stroke="rgb(238,102,75)" stroke-width="0.68"/><path d="M632.4 429.6C645.9 404.2 582.4 313.7 553.9 317.7" stroke="rgb(238,102,75)" stroke-width="1.00"/><path d="M632.1 429.5C646.8 401.8 709.4 178.5 711.2 147.3" stroke="#111" stroke-width="1.01"/><path d="M695.8 446.9C697.5 409.0 814.2 306.5 852.0 309.7" stroke="rgb(238,102,75)" stroke-width="1.10"/><path d="M650.2 437.6C660.0 411.3 590.2 249.6 564.3 238.7" stroke="rgb(238,102,75)" stroke-width="1.02"/><path d="M608.7 414.1C633.6 383.0 744.3 195.1 759.5 158.2" stroke="rgb(238,102,75)" stroke-width="0.70"/><path d="M658.6 440.4C666.4 414.9 783.5 204.0 801.0 183.8" stroke="rgb(238,102,75)" stroke-width="2.33"/><path d="M553.4 313.5C579.6 310.6 630.2 196.7 614.8 175.3" stroke="#111" stroke-width="1.04"/><path d="M645.1 158.4C656.5 185.9 822.5 304.5 852.2 306.4" stroke="#111" stroke-width="0.82"/><path d="M565.2 236.6C588.2 246.7 782.6 201.2 798.7 181.9" stroke="rgb(238,102,75)" stroke-width="0.70"/><path d="M677.0 444.8C683.5 407.1 726.0 187.8 734.1 150.4" stroke="rgb(238,102,75)" stroke-width="0.83"/><path d="M750.9 439.0C742.3 413.7 629.0 198.0 613.0 176.6" stroke="#111" stroke-width="0.84"/><path d="M757.7 436.5C744.5 403.1 611.5 228.1 582.9 206.5" stroke="rgb(238,102,75)" stroke-width="0.65"/><path d="M737.6 151.2C733.2 169.4 571.7 307.8 553.0 309.4" stroke="rgb(238,102,75)" stroke-width="2.02"/><path d="M570.3 367.8C588.2 358.2 726.4 169.5 730.1 149.6" stroke="rgb(238,102,75)" stroke-width="2.34"/><path d="M775.9 427.8C760.4 400.2 627.3 205.6 607.1 181.2" stroke="#111" stroke-width="0.73"/><path d="M634.2 430.6C642.9 413.7 626.3 190.4 615.2 175.0" stroke="rgb(238,102,75)" stroke-width="0.94"/><path d="M797.3 180.7C783.7 197.4 808.9 369.1 826.7 381.1" stroke="rgb(238,102,75)" stroke-width="1.12"/><path d="M776.5 166.5C758.2 198.8 767.7 389.2 789.1 419.5" stroke="rgb(238,102,75)" stroke-width="1.13"/><path d="M682.2 148.4C685.8 174.5 626.5 394.4 610.2 415.3" stroke="#111" stroke-width="1.03"/><path d="M816.8 199.9C790.7 222.1 771.4 390.1 791.7 417.6" stroke="#111" stroke-width="1.06"/><path d="M757.9 157.6C747.4 183.9 581.3 307.8 553.1 310.3" stroke="rgb(238,102,75)" stroke-width="1.04"/><path d="M729.2 149.4C724.8 173.7 632.3 193.1 618.5 172.7" stroke="rgb(238,102,75)" stroke-width="2.04"/><path d="M852.2 306.0C834.0 304.9 625.8 189.9 615.2 175.1" stroke="#111" stroke-width="2.11"/><path d="M553.4 313.8C581.4 310.6 716.0 418.1 719.2 446.1" stroke="#111" stroke-width="1.01"/><path d="M636.8 162.1C654.5 198.4 769.0 384.1 793.6 416.2" stroke="rgb(238,102,75)" stroke-width="1.18"/><path d="M653.2 155.3C665.8 191.5 813.9 305.2 852.1 308.1" stroke="#111" stroke-width="1.03"/><path d="M554.9 270.1C596.0 277.6 735.7 400.0 748.6 439.8" stroke="rgb(238,102,75)" stroke-width="1.07"/><path d="M613.9 175.9C635.1 204.8 598.8 249.1 566.3 234.1" stroke="rgb(238,102,75)" stroke-width="0.88"/><path d="M777.4 167.0C757.2 202.0 668.0 401.0 655.3 439.4" stroke="rgb(238,102,75)" stroke-width="0.64"/><path d="M679.9 445.3C685.3 410.3 745.1 190.6 758.3 157.8" stroke="rgb(238,102,75)" stroke-width="0.98"/><path d="M823.7 385.3C807.5 373.5 640.7 411.2 631.2 428.9" stroke="rgb(238,102,75)" stroke-width="1.02"/><path d="M571.2 369.5C587.0 360.7 682.6 427.4 679.8 445.3" stroke="rgb(238,102,75)" stroke-width="1.04"/><path d="M610.5 415.5C632.4 387.2 770.4 388.8 791.7 417.6" stroke="#111" stroke-width="0.89"/><path d="M838.7 359.8C809.4 346.3 597.8 350.7 569.0 365.4" stroke="#111" stroke-width="2.27"/><path d="M817.8 201.0C788.2 225.6 591.8 310.7 553.6 315.4" stroke="#111" stroke-width="1.16"/><path d="M618.6 172.6C638.0 201.3 692.1 412.0 689.0 446.4" stroke="#111" stroke-width="1.84"/><path d="M772.0 429.9C756.1 399.6 809.1 252.1 840.7 238.8" stroke="#111" stroke-width="0.74"/><path d="M717.0 147.7C714.2 176.9 600.8 232.1 576.1 216.3" stroke="#111" stroke-width="0.90"/><path d="M553.8 316.5C591.3 311.6 631.2 210.4 607.1 181.2" stroke="rgb(238,102,75)" stroke-width="0.97"/><path d="M715.8 446.4C712.9 413.9 595.2 249.5 565.3 236.3" stroke="#111" stroke-width="0.93"/><path d="M680.8 445.4C686.8 404.2 810.5 305.3 852.1 308.5" stroke="rgb(238,102,75)" stroke-width="0.65"/><path d="M683.9 148.2C688.6 186.0 687.8 407.9 682.8 445.7" stroke="rgb(238,102,75)" stroke-width="0.72"/><path d="M575.8 216.7C600.3 232.2 586.4 331.2 558.6 339.5" stroke="#111" stroke-width="1.13"/><path d="M607.7 413.3C626.1 390.7 822.9 307.7 851.9 310.3" stroke="rgb(238,102,75)" stroke-width="0.61"/><path d="M652.4 438.4C662.5 410.1 811.2 246.3 838.4 233.6" stroke="#111" stroke-width="0.71"/><path d="M849.0 264.7C814.2 272.4 807.0 343.7 839.4 358.3" stroke="#111" stroke-width="0.80"/><path d="M838.7 359.8C809.9 346.5 588.2 327.4 557.5 335.5" stroke="#111" stroke-width="0.71"/><path d="M553.3 312.1C571.8 310.2 642.2 413.7 633.7 430.3" stroke="#111" stroke-width="0.97"/><path d="M732.4 150.0C724.2 190.1 771.6 212.6 797.5 180.9" stroke="rgb(238,102,75)" stroke-width="0.86"/><path d="M585.7 391.1C616.1 366.7 638.8 206.0 616.5 174.1" stroke="rgb(238,102,75)" stroke-width="0.79"/><path d="M683.6 148.2C686.6 172.3 593.3 359.1 572.1 371.2" stroke="rgb(238,102,75)" stroke-width="1.85"/><path d="M584.1 204.9C615.0 228.9 760.6 202.6 781.2 169.3" stroke="#111" stroke-width="0.83"/><path d="M570.0 367.3C596.3 353.4 723.8 178.7 729.1 149.4" stroke="rgb(238,102,75)" stroke-width="1.15"/><path d="M751.4 438.8C742.1 411.8 633.1 197.4 616.8 173.9" stroke="rgb(238,102,75)" stroke-width="0.91"/><path d="M583.9 205.2C603.0 220.0 625.3 396.3 610.4 415.4" stroke="rgb(238,102,75)" stroke-width="2.39"/><path d="M796.2 179.8C774.4 207.0 737.3 406.8 747.8 440.0" stroke="rgb(238,102,75)" stroke-width="0.64"/><path d="M564.7 237.8C591.8 249.5 646.1 403.4 632.2 429.5" stroke="rgb(238,102,75)" stroke-width="1.05"/><path d="M678.4 149.0C683.4 179.7 750.6 188.3 763.2 159.8" stroke="rgb(238,102,75)" stroke-width="0.94"/><path d="M825.5 382.9C792.6 359.9 683.3 405.2 676.4 444.7" stroke="rgb(238,102,75)" stroke-width="1.13"/><path d="M608.1 413.6C630.8 385.5 686.2 184.3 681.0 148.6" stroke="rgb(238,102,75)" stroke-width="1.65"/><path d="M581.0 385.0C603.4 368.8 813.8 347.9 838.9 359.4" stroke="#111" stroke-width="0.78"/><path d="M788.0 420.2C765.6 388.0 668.2 402.3 656.1 439.6" stroke="rgb(238,102,75)" stroke-width="0.68"/><path d="M554.4 273.4C578.9 277.3 628.7 195.9 614.0 175.9" stroke="rgb(238,102,75)" stroke-width="2.08"/><path d="M794.5 178.5C771.9 207.6 709.0 184.0 711.1 147.2" stroke="rgb(238,102,75)" stroke-width="2.19"/><path d="M582.4 207.2C600.5 220.7 662.2 417.8 655.0 439.3" stroke="rgb(238,102,75)" stroke-width="1.89"/><path d="M656.1 439.7C667.7 404.0 639.9 203.5 619.0 172.4" stroke="rgb(238,102,75)" stroke-width="1.15"/><path d="M675.7 444.6C681.0 415.8 721.2 177.7 725.7 148.8" stroke="rgb(238,102,75)" stroke-width="0.60"/><path d="M787.0 421.0C769.1 394.7 627.5 205.6 607.4 181.0" stroke="#111" stroke-width="0.95"/><path d="M784.1 422.9C768.3 398.5 661.3 183.2 651.4 156.0" stroke="rgb(238,102,75)" stroke-width="0.99"/><path d="M576.9 214.9C592.1 224.9 662.0 422.5 656.5 439.8" stroke="rgb(238,102,75)" stroke-width="0.99"/><path d="M836.4 364.7C811.3 352.0 742.9 412.1 752.2 438.5" stroke="#111" stroke-width="0.96"/><path d="M719.0 446.1C715.0 410.4 813.9 272.3 848.9 264.5" stroke="#111" stroke-width="1.18"/><path d="M679.7 148.7C683.7 174.6 695.0 420.6 693.4 446.7" stroke="rgb(238,102,75)" stroke-width="0.77"/><path d="M555.1 269.0C590.0 275.6 685.8 183.7 680.7 148.6" stroke="rgb(238,102,75)" stroke-width="0.76"/><path d="M555.5 267.3C585.3 273.3 609.6 372.4 586.0 391.5" stroke="rgb(238,102,75)" stroke-width="1.08"/><path d="M650.3 156.4C661.5 186.5 603.3 233.3 576.3 216.0" stroke="#111" stroke-width="1.17"/><path d="M615.2 175.0C636.6 205.0 793.6 364.1 823.3 386.0" stroke="rgb(238,102,75)" stroke-width="1.15"/><path d="M715.2 147.5C713.2 170.9 784.6 200.6 799.7 182.8" stroke="rgb(238,102,75)" stroke-width="0.69"/><path d="M823.9 208.9C790.9 232.8 597.6 327.3 558.4 338.7" stroke="#111" stroke-width="1.17"/><path d="M851.7 312.1C826.2 309.5 741.1 415.2 749.0 439.6" stroke="#111" stroke-width="2.13"/><path d="M577.9 213.5C598.7 227.5 578.3 310.4 553.4 313.1" stroke="#111" stroke-width="1.08"/><path d="M676.9 149.2C681.3 174.5 778.2 198.4 793.9 178.0" stroke="rgb(238,102,75)" stroke-width="0.87"/><path d="M695.2 446.8C696.4 421.7 762.5 406.5 774.5 428.6" stroke="#111" stroke-width="0.97"/><path d="M777.3 167.0C763.9 190.2 825.6 301.4 852.4 302.4" stroke="rgb(238,102,75)" stroke-width="1.12"/><path d="M565.8 235.3C596.5 249.1 610.9 368.7 584.4 389.5" stroke="rgb(238,102,75)" stroke-width="1.04"/><path d="M608.7 179.9C633.5 210.8 596.2 326.9 558.1 337.6" stroke="rgb(238,102,75)" stroke-width="1.14"/><path d="M656.4 439.7C664.6 414.2 813.8 349.6 838.1 361.0" stroke="rgb(238,102,75)" stroke-width="0.84"/><path d="M618.0 173.1C635.2 198.3 682.5 179.2 677.4 149.1" stroke="rgb(238,102,75)" stroke-width="1.67"/><path d="M840.2 356.4C818.4 347.0 694.3 422.9 692.8 446.7" stroke="#111" stroke-width="0.71"/><path d="M554.7 271.3C592.9 278.0 633.9 384.6 610.0 415.1" stroke="rgb(238,102,75)" stroke-width="0.92"/><path d="M565.8 235.2C584.7 243.8 661.2 174.5 654.6 154.9" stroke="#111" stroke-width="0.67"/><path d="M559.4 342.0C596.8 330.2 784.7 222.7 813.8 196.4" stroke="rgb(238,102,75)" stroke-width="0.70"/><path d="M611.3 416.1C624.9 398.4 684.6 423.5 681.4 445.5" stroke="#111" stroke-width="1.06"/><path d="M575.7 216.9C605.7 235.9 773.4 207.2 795.4 179.3" stroke="rgb(238,102,75)" stroke-width="1.12"/><path d="M553.2 311.2C591.6 307.6 766.2 388.4 788.2 420.1" stroke="#111" stroke-width="1.14"/><path d="M579.1 382.2C603.2 365.6 810.3 351.2 836.5 364.4" stroke="#111" stroke-width="0.75"/><path d="M787.8 420.4C765.2 387.7 723.1 188.7 730.5 149.6" stroke="rgb(238,102,75)" stroke-width="1.01"/><path d="M836.6 364.2C816.0 353.9 679.9 172.0 675.9 149.4" stroke="#111" stroke-width="1.15"/><path d="M553.2 311.1C577.6 308.8 816.5 244.7 838.8 234.4" stroke="#111" stroke-width="0.95"/><path d="M617.0 173.7C639.5 206.1 791.1 363.3 822.6 386.9" stroke="rgb(238,102,75)" stroke-width="0.96"/><path d="M848.8 263.9C814.0 271.8 637.4 203.0 617.1 173.7" stroke="rgb(238,102,75)" stroke-width="1.17"/><path d="M759.6 158.3C748.7 184.8 586.2 331.6 558.7 339.8" stroke="rgb(238,102,75)" stroke-width="1.76"/><path d="M564.2 238.9C601.3 254.5 670.0 401.9 658.1 440.3" stroke="rgb(238,102,75)" stroke-width="0.68"/><path d="M576.5 215.7C608.6 236.4 671.2 404.3 660.5 441.0" stroke="rgb(238,102,75)" stroke-width="0.78"/><path d="M716.3 446.4C714.6 427.3 650.7 176.8 643.1 159.3" stroke="rgb(238,102,75)" stroke-width="0.98"/><path d="M632.7 429.8C651.1 394.8 685.1 188.0 678.8 148.9" stroke="#111" stroke-width="1.17"/><path d="M679.2 148.8C684.0 179.4 696.3 415.9 694.7 446.8" stroke="rgb(238,102,75)" stroke-width="0.84"/><path d="M822.4 206.9C800.1 223.6 589.9 249.7 564.2 238.9" stroke="#111" stroke-width="1.10"/><path d="M637.1 432.0C651.7 401.9 587.7 277.1 554.7 271.3" stroke="rgb(238,102,75)" stroke-width="1.18"/><path d="M689.6 446.4C691.4 425.4 574.5 312.1 553.5 314.5" stroke="#111" stroke-width="1.17"/><path d="M558.5 339.1C577.8 333.5 695.8 426.8 694.8 446.8" stroke="rgb(238,102,75)" stroke-width="1.14"/><path d="M585.5 390.9C613.8 368.2 692.6 410.3 689.4 446.4" stroke="rgb(238,102,75)" stroke-width="1.08"/><path d="M571.1 369.4C594.8 356.4 822.7 270.8 849.1 265.1" stroke="#111" stroke-width="0.93"/><path d="M618.7 172.6C633.7 194.8 581.7 272.8 555.4 267.6" stroke="rgb(238,102,75)" stroke-width="0.73"/><path d="M616.9 173.8C637.5 203.5 737.2 405.5 748.2 439.9" stroke="rgb(238,102,75)" stroke-width="1.73"/><path d="M572.1 371.1C599.6 355.5 586.5 273.5 555.5 267.2" stroke="rgb(238,102,75)" stroke-width="1.16"/><path d="M752.0 438.6C741.5 408.3 747.6 188.0 759.8 158.4" stroke="rgb(238,102,75)" stroke-width="0.61"/><path d="M566.6 233.5C586.9 243.0 580.3 333.4 558.8 339.9" stroke="#111" stroke-width="0.90"/><path d="M615.7 174.7C628.7 193.1 829.6 306.6 852.1 308.3" stroke="#111" stroke-width="0.88"/><path d="M553.3 312.4C589.1 308.7 599.6 247.9 567.1 232.4" stroke="#111" stroke-width="1.94"/><path d="M691.2 446.6C693.3 418.0 751.3 185.9 762.9 159.7" stroke="rgb(238,102,75)" stroke-width="0.92"/><path d="M761.3 159.0C749.7 186.3 758.8 403.4 772.7 429.6" stroke="rgb(238,102,75)" stroke-width="0.62"/><path d="M791.5 176.2C773.2 201.1 670.5 411.8 662.2 441.5" stroke="rgb(238,102,75)" stroke-width="0.84"/><path d="M609.6 414.8C627.9 391.6 685.0 177.8 680.7 148.6" stroke="rgb(238,102,75)" stroke-width="0.63"/><path d="M555.3 268.1C593.4 275.6 684.2 187.3 677.8 149.0" stroke="rgb(238,102,75)" stroke-width="0.70"/><path d="M610.0 415.1C627.7 392.5 598.4 234.7 573.8 220.0" stroke="#111" stroke-width="2.20"/><path d="M575.1 217.8C607.2 237.7 663.8 402.3 650.8 437.8" stroke="rgb(238,102,75)" stroke-width="0.77"/><path d="M553.8 316.8C586.3 312.4 728.8 182.8 736.2 150.8" stroke="rgb(238,102,75)" stroke-width="0.75"/><path d="M605.4 411.4C623.6 389.9 682.8 176.7 678.2 149.0" stroke="rgb(238,102,75)" stroke-width="0.64"/><path d="M571.0 369.2C592.8 357.2 646.2 408.7 634.9 430.9" stroke="#111" stroke-width="0.88"/><path d="M817.7 200.9C793.1 221.4 637.0 198.8 619.3 172.2" stroke="#111" stroke-width="0.84"/><path d="M758.2 157.7C743.9 193.6 635.8 386.2 612.7 417.1" stroke="rgb(238,102,75)" stroke-width="2.25"/><path d="M794.4 178.4C770.8 208.9 591.5 306.9 553.1 310.3" stroke="rgb(238,102,75)" stroke-width="0.78"/><path d="M695.0 446.8C696.2 424.1 818.1 350.0 838.9 359.5" stroke="#111" stroke-width="0.61"/><path d="M585.0 390.3C603.2 375.8 728.8 173.0 733.6 150.3" stroke="rgb(238,102,75)" stroke-width="0.63"/><path d="M837.6 231.9C819.5 240.6 717.6 426.0 719.9 446.0" stroke="#111" stroke-width="0.84"/><path d="M654.6 154.8C663.6 181.5 778.6 201.8 796.1 179.8" stroke="rgb(238,102,75)" stroke-width="1.09"/><path d="M573.8 219.9C609.1 241.0 664.2 195.0 649.8 156.6" stroke="#111" stroke-width="0.74"/><path d="M775.9 166.2C763.1 189.0 594.0 356.8 571.1 369.4" stroke="rgb(238,102,75)" stroke-width="0.76"/><path d="M752.4 438.5C744.4 415.9 667.2 418.1 660.5 441.0" stroke="rgb(238,102,75)" stroke-width="0.61"/><path d="M657.0 439.9C669.2 401.7 740.7 400.0 754.6 437.6" stroke="rgb(238,102,75)" stroke-width="0.75"/><path d="M555.1 269.1C576.4 273.1 600.6 219.0 583.4 205.8" stroke="#111" stroke-width="0.90"/><path d="M837.6 231.9C800.9 249.6 607.4 350.7 571.9 370.8" stroke="rgb(238,102,75)" stroke-width="1.74"/><path d="M716.7 147.7C714.0 175.5 596.7 357.7 572.4 371.6" stroke="#111" stroke-width="1.87"/><path d="M711.7 147.3C709.9 175.5 606.3 222.3 584.0 205.0" stroke="rgb(238,102,75)" stroke-width="0.91"/><path d="M784.6 422.5C765.6 393.5 657.0 191.1 643.3 159.2" stroke="#111" stroke-width="1.42"/><path d="M647.8 157.3C658.6 184.8 792.3 216.7 814.3 197.0" stroke="#111" stroke-width="0.83"/><path d="M683.2 148.3C685.7 167.7 598.9 376.2 583.4 388.1" stroke="#111" stroke-width="0.80"/><path d="M554.8 270.6C583.4 275.7 685.0 177.3 680.8 148.6" stroke="rgb(238,102,75)" stroke-width="1.48"/><path d="M794.2 415.7C770.7 385.3 637.7 206.2 615.4 174.9" stroke="rgb(238,102,75)" stroke-width="1.76"/><path d="M719.8 446.0C716.0 413.1 611.0 224.3 585.0 203.7" stroke="rgb(238,102,75)" stroke-width="0.76"/><path d="M558.4 338.8C592.2 329.0 590.3 272.8 555.9 265.4" stroke="rgb(238,102,75)" stroke-width="0.84"/><path d="M564.9 237.3C600.6 252.8 784.0 221.6 812.6 195.1" stroke="#111" stroke-width="1.81"/><path d="M839.2 235.1C818.6 244.4 726.6 171.8 730.8 149.7" stroke="rgb(238,102,75)" stroke-width="1.07"/><path d="M852.2 306.2C811.1 303.7 652.7 393.8 633.9 430.4" stroke="#111" stroke-width="0.91"/><path d="M696.7 446.9C697.8 417.5 747.4 185.0 758.3 157.8" stroke="rgb(238,102,75)" stroke-width="0.98"/><path d="M797.4 180.8C781.8 199.9 633.2 192.6 619.5 172.0" stroke="rgb(238,102,75)" stroke-width="1.91"/><path d="M681.4 445.5C686.1 412.4 588.2 274.3 555.4 267.8" stroke="rgb(238,102,75)" stroke-width="2.01"/><path d="M619.2 172.3C642.0 206.4 616.2 363.5 583.7 388.5" stroke="rgb(238,102,75)" stroke-width="1.14"/><path d="M852.2 306.9C820.9 304.8 626.1 206.2 605.9 182.3" stroke="#111" stroke-width="1.60"/><path d="M852.2 305.7C814.8 303.5 681.1 407.5 674.0 444.3" stroke="#111" stroke-width="0.96"/><path d="M585.8 391.2C601.1 378.8 626.7 191.0 615.2 175.0" stroke="rgb(238,102,75)" stroke-width="0.89"/><path d="M582.8 387.4C612.6 364.9 612.3 229.4 582.4 207.1" stroke="rgb(238,102,75)" stroke-width="0.99"/><path d="M574.0 219.7C594.8 232.2 594.3 361.0 573.4 373.4" stroke="#111" stroke-width="2.00"/><path d="M615.7 174.7C635.8 203.0 589.0 276.9 554.8 270.9" stroke="rgb(238,102,75)" stroke-width="1.09"/><path d="M554.6 271.8C577.5 275.7 743.1 417.1 750.6 439.1" stroke="rgb(238,102,75)" stroke-width="1.05"/><path d="M681.3 445.5C683.9 427.4 779.1 404.2 789.7 419.1" stroke="rgb(238,102,75)" stroke-width="0.80"/><path d="M849.1 265.2C814.0 272.8 612.8 226.5 584.6 204.3" stroke="#111" stroke-width="2.32"/><path d="M634.7 430.8C644.8 411.0 684.7 170.5 681.7 148.5" stroke="rgb(238,102,75)" stroke-width="1.13"/><path d="M710.9 147.2C709.6 170.5 576.2 307.6 553.0 309.5" stroke="#111" stroke-width="0.64"/><path d="M824.0 384.9C804.7 370.9 714.8 422.5 717.1 446.3" stroke="rgb(238,102,75)" stroke-width="1.01"/><path d="M586.5 392.1C603.1 378.5 804.4 375.4 821.4 388.5" stroke="rgb(238,102,75)" stroke-width="2.21"/><path d="M616.8 173.9C631.0 194.3 741.6 415.9 749.4 439.5" stroke="#111" stroke-width="0.73"/><path d="M773.3 429.2C761.5 407.3 604.6 374.9 585.2 390.4" stroke="rgb(238,102,75)" stroke-width="0.82"/><path d="M570.5 368.2C600.2 352.1 683.7 411.7 678.3 445.0" stroke="rgb(238,102,75)" stroke-width="1.84"/><path d="M566.0 234.9C589.7 245.7 694.9 420.7 693.3 446.7" stroke="#111" stroke-width="1.09"/><path d="M692.8 446.7C694.5 419.3 604.1 224.0 582.0 207.6" stroke="rgb(238,102,75)" stroke-width="0.73"/><path d="M582.3 386.7C604.5 370.2 651.8 185.7 640.4 160.5" stroke="rgb(238,102,75)" stroke-width="0.63"/><path d="M633.4 430.2C645.3 407.2 750.4 182.5 760.4 158.6" stroke="rgb(238,102,75)" stroke-width="1.62"/><path d="M749.3 439.5C742.0 417.5 576.4 310.4 553.3 312.8" stroke="#111" stroke-width="0.80"/><path d="M682.3 445.6C686.7 413.3 819.6 304.8 852.2 307.0" stroke="rgb(238,102,75)" stroke-width="1.58"/><path d="M796.9 180.5C779.0 202.6 652.6 186.2 640.9 160.2" stroke="#111" stroke-width="0.67"/><path d="M655.7 439.5C668.4 400.9 725.0 189.9 733.3 150.2" stroke="rgb(238,102,75)" stroke-width="1.08"/><path d="M822.3 387.3C807.2 375.9 572.1 310.0 553.2 311.9" stroke="rgb(238,102,75)" stroke-width="1.05"/><path d="M851.7 312.5C827.6 310.0 766.4 188.6 778.7 167.8" stroke="#111" stroke-width="1.07"/><path d="M612.4 177.0C626.6 195.9 581.4 333.0 558.7 339.7" stroke="rgb(238,102,75)" stroke-width="1.03"/><path d="M838.6 360.2C815.2 349.3 778.6 395.3 794.3 415.6" stroke="#111" stroke-width="1.78"/><path d="M817.2 200.3C797.0 217.4 630.0 196.9 614.5 175.5" stroke="#111" stroke-width="0.71"/><path d="M848.4 262.1C815.4 270.0 588.5 275.4 555.1 269.1" stroke="rgb(238,102,75)" stroke-width="1.18"/><path d="M583.4 205.8C609.7 226.0 713.0 413.4 715.9 446.4" stroke="rgb(238,102,75)" stroke-width="1.91"/><path d="M759.4 158.2C745.0 193.5 651.9 396.8 634.6 430.8" stroke="rgb(238,102,75)" stroke-width="0.69"/><path d="M575.0 218.0C609.1 239.2 811.9 306.7 851.9 310.3" stroke="rgb(238,102,75)" stroke-width="0.88"/><path d="M852.1 307.3C826.6 305.6 774.5 398.5 789.3 419.3" stroke="#111" stroke-width="0.79"/><path d="M673.4 444.2C679.8 411.6 686.5 181.3 681.9 148.4" stroke="rgb(238,102,75)" stroke-width="1.04"/><path d="M618.2 172.9C633.0 194.7 776.0 396.5 791.6 417.7" stroke="#111" stroke-width="0.82"/><path d="M851.5 313.9C811.3 309.3 766.5 385.8 790.2 418.7" stroke="#111" stroke-width="1.08"/><path d="M583.2 206.1C611.1 227.3 795.9 364.1 824.3 384.6" stroke="rgb(238,102,75)" stroke-width="0.74"/><path d="M608.9 414.2C632.7 384.4 772.9 210.0 796.9 180.4" stroke="rgb(238,102,75)" stroke-width="0.76"/><path d="M726.2 148.9C722.6 171.7 624.7 397.3 610.6 415.6" stroke="rgb(238,102,75)" stroke-width="1.12"/><path d="M583.3 206.0C601.3 219.7 715.5 423.6 717.8 446.2" stroke="#111" stroke-width="1.60"/><path d="M822.2 387.4C792.2 364.8 795.0 233.1 825.9 211.7" stroke="rgb(238,102,75)" stroke-width="0.89"/><path d="M565.6 235.7C589.6 246.4 798.4 218.9 818.8 202.3" stroke="#111" stroke-width="0.86"/><path d="M571.7 370.4C603.7 352.4 815.6 302.2 852.3 303.9" stroke="#111" stroke-width="1.16"/><path d="M609.3 179.5C628.1 203.2 649.3 404.3 635.9 431.4" stroke="rgb(238,102,75)" stroke-width="0.81"/><path d="M653.0 438.6C660.7 416.7 591.8 358.9 571.6 370.2" stroke="rgb(238,102,75)" stroke-width="0.79"/><path d="M732.8 150.1C725.9 183.6 770.7 390.5 790.9 418.2" stroke="rgb(238,102,75)" stroke-width="2.05"/><path d="M817.6 200.8C785.6 227.6 810.7 301.8 852.4 303.7" stroke="rgb(238,102,75)" stroke-width="1.82"/><path d="M838.5 233.8C811.2 246.5 741.6 410.3 751.4 438.8" stroke="#111" stroke-width="1.03"/><path d="M823.5 385.7C804.0 371.4 827.9 307.7 852.0 309.8" stroke="rgb(238,102,75)" stroke-width="0.81"/><path d="M553.2 311.5C594.1 307.5 811.1 305.2 852.1 308.3" stroke="#111" stroke-width="1.02"/><path d="M582.1 386.4C609.5 366.1 726.0 183.6 733.0 150.1" stroke="rgb(238,102,75)" stroke-width="0.89"/><path d="M633.8 430.4C643.9 410.7 764.6 185.1 775.3 165.8" stroke="rgb(238,102,75)" stroke-width="1.03"/><path d="M683.0 445.7C687.7 409.7 630.5 385.0 607.6 413.1" stroke="rgb(238,102,75)" stroke-width="0.81"/><path d="M558.0 337.2C595.3 326.8 652.6 396.4 635.3 431.1" stroke="#111" stroke-width="1.60"/><path d="M615.4 174.9C633.1 199.7 712.0 177.9 714.5 147.5" stroke="#111" stroke-width="0.94"/><path d="M585.2 390.5C610.5 370.3 625.8 207.8 604.7 183.3" stroke="#111" stroke-width="0.73"/><path d="M678.5 445.1C682.4 421.2 774.7 400.0 788.6 419.8" stroke="rgb(238,102,75)" stroke-width="1.08"/><path d="M657.2 440.0C666.1 411.8 822.8 304.0 852.2 305.7" stroke="#111" stroke-width="0.79"/><path d="M655.5 439.4C662.5 418.1 806.4 370.9 824.7 384.0" stroke="rgb(238,102,75)" stroke-width="1.01"/><path d="M790.2 418.7C771.9 393.4 697.3 415.7 695.9 446.9" stroke="rgb(238,102,75)" stroke-width="1.13"/><path d="M633.0 429.9C650.9 395.6 766.5 388.1 788.7 419.7" stroke="#111" stroke-width="0.92"/><path d="M776.0 427.8C762.3 403.5 695.0 418.9 693.3 446.7" stroke="#111" stroke-width="1.17"/><path d="M658.8 440.5C664.9 420.5 805.1 375.3 821.7 388.0" stroke="rgb(238,102,75)" stroke-width="0.76"/><path d="M572.1 371.2C593.1 359.3 650.6 182.3 640.7 160.3" stroke="rgb(238,102,75)" stroke-width="0.80"/><path d="M750.5 439.1C740.2 408.4 587.2 273.7 555.5 267.3" stroke="rgb(238,102,75)" stroke-width="0.66"/><path d="M585.2 390.5C614.4 367.2 613.7 227.7 584.2 204.7" stroke="rgb(238,102,75)" stroke-width="0.68"/><path d="M566.7 233.4C595.5 246.9 652.6 189.8 639.2 161.0" stroke="#111" stroke-width="1.02"/><path d="M685.2 446.0C688.1 421.4 657.9 180.0 649.1 156.8" stroke="rgb(238,102,75)" stroke-width="0.83"/><path d="M839.4 358.2C803.3 342.1 592.9 310.2 553.6 315.0" stroke="#111" stroke-width="0.77"/><path d="M840.4 356.1C814.6 345.0 660.9 182.4 651.3 156.0" stroke="#111" stroke-width="1.74"/><path d="M611.8 416.4C634.8 386.2 601.3 249.0 567.0 232.7" stroke="rgb(238,102,75)" stroke-width="1.14"/><path d="M632.5 429.7C651.4 393.8 616.1 229.8 584.1 204.9" stroke="rgb(238,102,75)" stroke-width="0.97"/><path d="M752.2 438.5C740.0 403.6 687.6 185.0 682.8 148.3" stroke="#111" stroke-width="2.27"/><path d="M618.8 172.5C633.5 194.4 802.6 369.6 823.9 385.1" stroke="rgb(238,102,75)" stroke-width="0.61"/><path d="M642.2 159.7C651.1 180.0 807.6 369.6 825.9 382.3" stroke="#111" stroke-width="1.63"/><path d="M585.8 202.7C616.4 227.5 792.1 232.0 823.9 208.9" stroke="#111" stroke-width="1.17"/><path d="M786.0 421.6C775.2 405.4 822.7 347.9 840.6 355.5" stroke="#111" stroke-width="0.77"/><path d="M631.7 429.3C641.9 410.2 652.0 178.9 643.6 159.1" stroke="rgb(238,102,75)" stroke-width="0.86"/><path d="M611.5 416.3C633.7 387.2 590.0 311.5 553.7 316.1" stroke="rgb(238,102,75)" stroke-width="1.07"/><path d="M553.0 309.2C571.0 307.8 597.7 377.1 583.3 388.1" stroke="#111" stroke-width="0.88"/><path d="M796.5 180.1C770.6 212.3 597.3 324.4 557.3 334.8" stroke="rgb(238,102,75)" stroke-width="1.78"/><path d="M692.6 446.7C694.9 412.0 817.2 308.9 851.7 312.5" stroke="#111" stroke-width="1.03"/><path d="M838.3 360.7C819.1 351.7 662.5 419.4 655.9 439.6" stroke="#111" stroke-width="1.11"/><path d="M787.1 420.9C767.2 391.8 686.0 410.5 681.0 445.4" stroke="rgb(238,102,75)" stroke-width="0.89"/><path d="M747.9 440.0C741.9 421.1 577.8 334.2 558.8 339.9" stroke="#111" stroke-width="1.18"/><path d="M773.9 428.9C759.9 403.1 592.4 247.6 565.6 235.6" stroke="#111" stroke-width="1.09"/><path d="M679.8 148.7C684.8 181.4 611.0 224.1 585.1 203.6" stroke="rgb(238,102,75)" stroke-width="1.06"/><path d="M750.1 439.2C739.6 407.7 809.5 343.6 840.0 356.8" stroke="#111" stroke-width="1.15"/><path d="M587.2 201.1C616.7 225.6 612.2 362.6 581.1 385.1" stroke="rgb(238,102,75)" stroke-width="0.82"/><path d="M675.8 149.4C682.9 188.6 615.1 364.1 583.5 388.4" stroke="rgb(238,102,75)" stroke-width="1.99"/><path d="M759.0 158.1C745.4 191.6 611.7 228.5 582.8 206.7" stroke="rgb(238,102,75)" stroke-width="1.17"/><path d="M652.3 155.7C661.4 181.4 761.5 404.5 774.7 428.5" stroke="rgb(238,102,75)" stroke-width="0.73"/><path d="M559.4 342.0C586.0 333.7 729.6 177.9 735.8 150.7" stroke="rgb(238,102,75)" stroke-width="1.01"/><path d="M681.2 148.5C685.7 179.9 695.1 415.1 693.1 446.7" stroke="rgb(238,102,75)" stroke-width="0.64"/><path d="M824.0 384.9C794.3 363.4 613.1 366.6 584.2 389.2" stroke="rgb(238,102,75)" stroke-width="1.88"/><path d="M554.8 270.7C585.8 276.2 634.9 199.7 616.9 173.8" stroke="rgb(238,102,75)" stroke-width="1.05"/><path d="M840.0 356.9C816.8 346.8 600.8 369.0 580.0 383.6" stroke="#111" stroke-width="1.18"/><path d="M647.9 157.3C654.5 174.2 619.7 399.6 608.3 413.7" stroke="rgb(238,102,75)" stroke-width="0.61"/><path d="M691.0 446.6C692.4 428.2 592.0 225.5 576.6 215.5" stroke="#111" stroke-width="0.79"/><path d="M605.0 183.0C625.0 206.4 818.9 270.8 848.8 264.0" stroke="#111" stroke-width="0.62"/><path d="M612.6 417.1C633.9 388.6 767.1 391.5 787.2 420.8" stroke="rgb(238,102,75)" stroke-width="0.72"/><path d="M839.0 359.2C802.9 342.8 597.2 329.9 559.3 341.8" stroke="#111" stroke-width="0.84"/><path d="M790.5 418.5C772.9 394.1 609.2 372.4 585.8 391.3" stroke="rgb(238,102,75)" stroke-width="1.49"/><path d="M788.4 420.0C765.9 387.9 631.5 211.9 606.4 181.8" stroke="rgb(238,102,75)" stroke-width="1.08"/><path d="M655.5 439.4C664.8 411.0 593.8 245.9 566.7 233.2" stroke="#111" stroke-width="0.73"/><path d="M718.7 446.1C714.3 405.7 604.9 346.3 568.6 364.7" stroke="#111" stroke-width="0.96"/><path d="M655.8 154.4C668.4 192.8 738.0 400.7 751.1 438.9" stroke="#111" stroke-width="1.10"/><path d="M851.4 315.2C819.6 311.3 585.5 312.0 553.7 316.0" stroke="#111" stroke-width="1.17"/><path d="M617.5 173.4C640.5 206.8 668.0 400.8 655.1 439.3" stroke="rgb(238,102,75)" stroke-width="1.09"/><path d="M713.4 147.4C711.6 172.4 684.8 420.6 681.2 445.5" stroke="rgb(238,102,75)" stroke-width="1.13"/><path d="M773.5 429.1C756.6 397.7 689.5 410.6 685.5 446.0" stroke="rgb(238,102,75)" stroke-width="0.88"/><path d="M566.2 234.4C589.9 245.3 802.9 369.7 824.0 385.0" stroke="rgb(238,102,75)" stroke-width="0.98"/><path d="M680.4 148.6C685.8 185.4 739.7 403.5 752.0 438.6" stroke="#111" stroke-width="1.18"/><path d="M680.2 148.7C685.1 181.4 737.8 408.5 747.8 440.0" stroke="#111" stroke-width="0.79"/><path d="M679.5 148.8C684.6 182.1 740.1 407.0 751.0 438.9" stroke="#111" stroke-width="1.00"/><path d="M679.4 148.8C683.6 175.4 741.5 413.8 750.0 439.3" stroke="#111" stroke-width="1.15"/><path d="M681.8 148.4C686.1 179.6 740.9 409.1 751.1 438.9" stroke="#111" stroke-width="1.26"/><path d="M682.5 148.3C686.7 179.6 740.6 409.2 750.8 439.0" stroke="#111" stroke-width="0.72"/><path d="M681.0 148.5C685.5 179.9 741.3 408.8 751.6 438.7" stroke="#111" stroke-width="0.75"/><path d="M616.2 174.3C633.7 199.1 811.1 347.3 838.6 360.0" stroke="#111" stroke-width="1.24"/><path d="M615.6 174.8C634.5 201.3 808.8 346.9 838.3 360.7" stroke="#111" stroke-width="1.39"/><path d="M618.0 173.1C636.9 200.8 808.5 345.0 839.2 358.8" stroke="#111" stroke-width="1.18"/><path d="M615.9 174.5C631.2 196.1 815.6 346.5 839.9 357.1" stroke="#111" stroke-width="1.21"/><path d="M617.5 173.4C638.0 203.1 805.6 345.4 838.3 360.7" stroke="#111" stroke-width="0.94"/><path d="M617.0 173.8C635.1 199.9 809.7 346.9 838.5 360.3" stroke="#111" stroke-width="1.33"/><path d="M615.0 175.2C632.0 198.8 812.2 347.8 838.6 360.1" stroke="#111" stroke-width="1.40"/><path d="M615.2 175.0C632.6 199.3 810.8 348.9 837.8 361.8" stroke="#111" stroke-width="1.39"/><path d="M553.4 313.3C586.9 309.6 818.4 306.3 852.0 309.0" stroke="#111" stroke-width="1.24"/><path d="M553.2 311.6C589.9 308.0 815.2 306.1 852.0 309.1" stroke="#111" stroke-width="0.96"/><path d="M553.3 312.9C581.9 309.8 823.5 305.7 852.1 307.7" stroke="#111" stroke-width="1.44"/><path d="M553.4 313.3C585.3 309.8 820.0 306.6 852.0 309.2" stroke="#111" stroke-width="1.12"/><path d="M553.5 314.0C585.4 310.3 819.8 308.5 851.8 311.7" stroke="#111" stroke-width="1.50"/><path d="M553.5 314.1C587.0 310.2 818.4 305.7 852.1 308.2" stroke="#111" stroke-width="0.91"/><path d="M553.3 312.8C586.1 309.3 819.3 304.9 852.2 307.1" stroke="#111" stroke-width="1.56"/><path d="M553.6 314.9C581.0 311.6 824.5 305.8 852.1 307.8" stroke="#111" stroke-width="1.23"/><path d="M553.4 313.0C576.1 310.5 829.0 309.3 851.8 311.6" stroke="#111" stroke-width="0.91"/><path d="M553.3 312.6C588.6 308.9 816.8 305.3 852.1 307.8" stroke="#111" stroke-width="1.06"/><path d="M566.0 234.8C588.7 245.1 815.0 242.4 837.4 231.5" stroke="#111" stroke-width="1.42"/><path d="M565.9 234.9C597.9 249.5 807.7 250.9 839.9 236.8" stroke="#111" stroke-width="1.33"/><path d="M565.0 237.1C587.0 246.7 817.8 246.3 839.8 236.6" stroke="#111" stroke-width="0.80"/><path d="M565.6 235.7C586.3 245.0 817.6 242.7 838.1 233.0" stroke="#111" stroke-width="0.96"/><path d="M565.2 236.6C588.2 246.7 816.0 245.0 838.9 234.6" stroke="#111" stroke-width="0.76"/><path d="M565.9 235.0C593.8 247.7 812.1 249.6 840.2 237.5" stroke="#111" stroke-width="1.45"/><path d="M616.2 174.3C636.8 203.7 768.4 390.2 789.2 419.4" stroke="rgb(238,102,75)" stroke-width="1.09"/><path d="M617.6 173.3C636.3 200.6 769.4 392.8 788.4 420.0" stroke="rgb(238,102,75)" stroke-width="1.17"/><path d="M615.8 174.6C637.1 204.6 764.7 391.6 784.9 422.3" stroke="rgb(238,102,75)" stroke-width="0.94"/><path d="M617.7 173.2C635.2 198.7 772.2 393.6 790.2 418.7" stroke="rgb(238,102,75)" stroke-width="1.47"/><path d="M616.9 173.8C637.3 203.2 766.9 391.3 787.1 420.9" stroke="rgb(238,102,75)" stroke-width="1.30"/><path d="M616.4 174.1C632.5 197.0 773.1 396.6 789.3 419.4" stroke="rgb(238,102,75)" stroke-width="0.73"/><path d="M617.6 173.3C630.6 192.2 764.5 408.0 775.7 428.0" stroke="#111" stroke-width="1.50"/><path d="M615.1 175.1C629.7 195.5 764.1 405.7 776.4 427.5" stroke="#111" stroke-width="1.20"/><path d="M617.3 173.5C636.7 201.6 758.9 398.2 775.5 428.0" stroke="#111" stroke-width="1.52"/><path d="M618.7 172.6C634.8 196.5 761.9 402.6 776.1 427.7" stroke="#111" stroke-width="0.99"/><path d="M615.9 174.6C632.8 198.5 763.0 401.4 777.7 426.8" stroke="#111" stroke-width="1.06"/><path d="M572.4 371.7C599.7 356.1 820.3 310.0 851.6 313.4" stroke="#111" stroke-width="1.05"/><path d="M572.0 371.0C594.7 358.1 826.1 306.2 852.1 308.1" stroke="#111" stroke-width="0.78"/><path d="M571.6 370.3C597.5 355.8 822.6 305.9 852.1 308.1" stroke="#111" stroke-width="1.26"/><path d="M572.5 371.9C600.9 355.6 819.5 305.7 852.1 308.1" stroke="#111" stroke-width="0.83"/><path d="M570.7 368.6C597.4 354.1 821.7 306.6 852.0 309.1" stroke="#111" stroke-width="1.45"/><path d="M574.1 219.5C605.8 238.6 805.2 344.2 838.8 359.6" stroke="#111" stroke-width="1.42"/><path d="M574.5 218.8C598.9 233.7 813.1 347.1 839.1 358.9" stroke="#111" stroke-width="1.19"/><path d="M575.4 217.3C603.4 234.9 808.2 347.1 838.0 361.3" stroke="#111" stroke-width="1.04"/><path d="M573.7 220.1C599.0 235.2 812.2 347.0 839.0 359.2" stroke="#111" stroke-width="0.94"/><path d="M575.2 217.7C604.3 235.8 808.9 342.3 840.5 355.7" stroke="#111" stroke-width="0.91"/><path d="M732.6 150.1C725.9 182.6 646.8 399.6 630.9 428.8" stroke="rgb(238,102,75)" stroke-width="1.06"/><path d="M732.0 149.9C726.7 176.3 645.1 405.9 632.5 429.7" stroke="rgb(238,102,75)" stroke-width="1.55"/><path d="M728.7 149.3C722.7 183.0 647.5 398.9 631.3 429.0" stroke="rgb(238,102,75)" stroke-width="1.55"/><path d="M729.8 149.5C725.3 173.6 644.1 408.1 632.7 429.8" stroke="rgb(238,102,75)" stroke-width="0.80"/><path d="M730.9 149.7C725.2 179.1 646.5 403.2 632.5 429.7" stroke="rgb(238,102,75)" stroke-width="0.81"/><path d="M757.9 157.6C748.8 180.5 625.2 395.7 610.1 415.1" stroke="rgb(238,102,75)" stroke-width="1.09"/><path d="M759.7 158.3C747.7 187.4 626.3 387.9 606.1 412.0" stroke="rgb(238,102,75)" stroke-width="0.93"/><path d="M758.0 157.6C749.1 179.9 623.3 395.0 608.2 413.7" stroke="rgb(238,102,75)" stroke-width="0.91"/><path d="M760.2 158.5C749.4 184.4 628.1 393.6 610.9 415.8" stroke="rgb(238,102,75)" stroke-width="1.48"/><path d="M759.5 158.3C748.1 186.1 628.4 391.3 609.8 415.0" stroke="rgb(238,102,75)" stroke-width="1.49"/><path d="M798.2 181.5C780.5 202.9 606.3 372.4 584.5 389.6" stroke="rgb(238,102,75)" stroke-width="0.80"/><path d="M797.8 181.2C774.8 209.1 613.0 367.4 584.6 389.7" stroke="rgb(238,102,75)" stroke-width="1.02"/><path d="M797.0 180.5C778.3 203.5 607.4 370.8 584.0 389.0" stroke="rgb(238,102,75)" stroke-width="1.46"/><path d="M796.4 180.0C777.0 204.2 609.4 371.0 585.1 390.3" stroke="rgb(238,102,75)" stroke-width="1.21"/><path d="M554.9 270.4C580.7 275.1 801.6 371.1 822.6 386.9" stroke="rgb(238,102,75)" stroke-width="0.92"/><path d="M555.2 268.4C588.2 274.8 796.5 365.7 823.6 385.5" stroke="rgb(238,102,75)" stroke-width="0.81"/><path d="M554.8 271.0C589.0 277.0 796.0 364.3 824.3 384.6" stroke="rgb(238,102,75)" stroke-width="1.16"/><path d="M554.9 270.1C585.9 275.7 798.0 367.2 823.4 385.8" stroke="rgb(238,102,75)" stroke-width="1.11"/><path d="M555.2 268.6C582.0 273.8 804.1 365.8 826.7 381.1" stroke="rgb(238,102,75)" stroke-width="1.48"/><path d="M583.5 205.7C607.4 224.0 686.9 415.8 683.0 445.7" stroke="rgb(238,102,75)" stroke-width="0.79"/><path d="M585.3 203.3C611.4 224.1 683.5 412.1 678.0 445.0" stroke="rgb(238,102,75)" stroke-width="0.75"/><path d="M584.2 204.7C605.3 221.2 682.6 418.6 678.3 445.0" stroke="rgb(238,102,75)" stroke-width="1.13"/><path d="M583.8 205.2C603.4 220.4 681.7 420.5 677.6 444.9" stroke="rgb(238,102,75)" stroke-width="1.01"/><path d="M584.5 204.4C613.3 227.0 682.6 408.6 676.2 444.7" stroke="rgb(238,102,75)" stroke-width="1.53"/></g><line x1="678.9" y1="140.8" x2="678.1" y2="135.8" stroke="#e8202a" stroke-width="1.5"/><line x1="762.7" y1="150.9" x2="764.6" y2="146.3" stroke="#e8202a" stroke-width="1.5"/><line x1="781.5" y1="160.2" x2="784.0" y2="155.8" stroke="#e8202a" stroke-width="1.5"/><line x1="802.1" y1="174.4" x2="805.3" y2="170.5" stroke="#e8202a" stroke-width="1.5"/><line x1="822.3" y1="194.0" x2="826.1" y2="190.7" stroke="#e8202a" stroke-width="1.5"/><line x1="860.0" y1="309.1" x2="865.0" y2="309.5" stroke="#e8202a" stroke-width="1.5"/><line x1="830.3" y1="389.9" x2="834.4" y2="392.8" stroke="#e8202a" stroke-width="1.5"/><line x1="794.3" y1="425.6" x2="797.2" y2="429.7" stroke="#e8202a" stroke-width="1.5"/><line x1="788.6" y1="429.5" x2="791.3" y2="433.7" stroke="#e8202a" stroke-width="1.5"/><line x1="718.5" y1="454.2" x2="719.0" y2="459.2" stroke="#e8202a" stroke-width="1.5"/><line x1="678.3" y1="453.1" x2="677.6" y2="458.1" stroke="#e8202a" stroke-width="1.5"/><line x1="629.5" y1="437.1" x2="627.2" y2="441.6" stroke="#e8202a" stroke-width="1.5"/><line x1="605.4" y1="421.7" x2="602.4" y2="425.6" stroke="#e8202a" stroke-width="1.5"/><line x1="563.8" y1="372.6" x2="559.4" y2="375.0" stroke="#e8202a" stroke-width="1.5"/><line x1="550.8" y1="341.1" x2="546.0" y2="342.5" stroke="#e8202a" stroke-width="1.5"/><line x1="547.1" y1="268.5" x2="542.2" y2="267.6" stroke="#e8202a" stroke-width="1.5"/><line x1="558.2" y1="232.7" x2="553.6" y2="230.7" stroke="#e8202a" stroke-width="1.5"/><line x1="600.9" y1="176.0" x2="597.7" y2="172.1" stroke="#e8202a" stroke-width="1.5"/><line x1="612.1" y1="167.4" x2="609.2" y2="163.3" stroke="#e8202a" stroke-width="1.5"/><line x1="638.2" y1="152.7" x2="636.2" y2="148.1" stroke="#e8202a" stroke-width="1.5"/><line x1="648.5" y1="148.5" x2="646.8" y2="143.8" stroke="#e8202a" stroke-width="1.5"/></g>
<g><use href="#ring" transform="translate(1144 297)"/><text x="1187.4" y="114.1" font-size="21" text-anchor="middle" dominant-baseline="central" transform="rotate(13.4 1187.4 114.1)">1</text><text x="1265.3" y="153.4" font-size="21" text-anchor="middle" dominant-baseline="central" transform="rotate(40.2 1265.3 153.4)">2</text><text x="1313.9" y="216.6" font-size="21" text-anchor="middle" dominant-baseline="central" transform="rotate(64.7 1313.9 216.6)">3</text><text x="1331.8" y="288.8" font-size="21" text-anchor="middle" dominant-baseline="central" transform="rotate(87.5 1331.8 288.8)">4</text><text x="1320.9" y="360.6" font-size="21" text-anchor="middle" dominant-baseline="central" transform="rotate(-70.2 1320.9 360.6)">5</text><text x="1284.6" y="421.8" font-size="21" text-anchor="middle" dominant-baseline="central" transform="rotate(-48.4 1284.6 421.8)">6</text><text x="1229.5" y="464.4" font-size="21" text-anchor="middle" dominant-baseline="central" transform="rotate(-27.1 1229.5 464.4)">7</text><text x="1167.3" y="483.6" font-size="21" text-anchor="middle" dominant-baseline="central" transform="rotate(-7.1 1167.3 483.6)">8</text><text x="1106.6" y="481.2" font-size="21" text-anchor="middle" dominant-baseline="central" transform="rotate(11.5 1106.6 481.2)">9</text><text x="1049.4" y="459.4" font-size="21" text-anchor="middle" dominant-baseline="central" transform="rotate(30.2 1049.4 459.4)">10</text><text x="1002.6" y="420.9" font-size="21" text-anchor="middle" dominant-baseline="central" transform="rotate(48.8 1002.6 420.9)">11</text><text x="971.5" y="371.8" font-size="21" text-anchor="middle" dominant-baseline="central" transform="rotate(66.6 971.5 371.8)">12</text><text x="957.0" y="315.9" font-size="21" text-anchor="middle" dominant-baseline="central" transform="rotate(84.2 957.0 315.9)">13</text><text x="960.3" y="257.2" font-size="21" text-anchor="middle" dominant-baseline="central" transform="rotate(282.2 960.3 257.2)">14</text><text x="979.8" y="205.4" font-size="21" text-anchor="middle" dominant-baseline="central" transform="rotate(299.2 979.8 205.4)">15</text><text x="1009.4" y="165.8" font-size="21" text-anchor="middle" dominant-baseline="central" transform="rotate(314.3 1009.4 165.8)">16</text><text x="1046.6" y="136.2" font-size="21" text-anchor="middle" dominant-baseline="central" transform="rotate(328.8 1046.6 136.2)">17</text><text x="1088.5" y="117.4" font-size="21" text-anchor="middle" dominant-baseline="central" transform="rotate(342.8 1088.5 117.4)">18</text><text x="1126.4" y="109.8" font-size="21" text-anchor="middle" dominant-baseline="central" transform="rotate(354.6 1126.4 109.8)">19</text><g fill="none"><path d="M1075.6 430.5C1092.9 396.7 1041.6 251.6 1006.9 236.2" stroke="#111" stroke-width="0.68"/><path d="M1076.1 430.8C1093.9 395.7 1243.8 345.1 1279.1 362.1" stroke="rgb(238,102,75)" stroke-width="0.80"/><path d="M1281.0 236.0C1259.5 245.5 1068.8 195.3 1054.9 176.4" stroke="rgb(238,102,75)" stroke-width="0.95"/><path d="M1282.6 354.3C1246.4 339.3 1175.3 403.2 1186.3 440.9" stroke="#111" stroke-width="0.68"/><path d="M1049.6 413.5C1070.5 387.7 1078.2 200.6 1059.4 173.1" stroke="rgb(238,102,75)" stroke-width="1.17"/><path d="M1262.8 388.5C1235.2 367.2 1088.4 397.8 1071.5 428.3" stroke="rgb(238,102,75)" stroke-width="0.63"/><path d="M1014.4 372.5C1034.4 360.8 1127.2 171.3 1124.1 148.3" stroke="#111" stroke-width="0.71"/><path d="M1027.7 391.7C1052.1 371.8 1262.0 307.0 1293.5 309.7" stroke="#111" stroke-width="1.11"/><path d="M1078.8 161.9C1093.7 193.0 1045.8 236.1 1016.5 217.9" stroke="#111" stroke-width="1.03"/><path d="M1125.3 148.2C1129.3 180.4 1036.0 250.5 1006.2 237.7" stroke="#111" stroke-width="0.83"/><path d="M1151.9 147.2C1150.7 170.5 1218.7 399.3 1232.5 418.1" stroke="rgb(238,102,75)" stroke-width="1.07"/><path d="M1120.3 445.1C1123.9 423.1 1217.0 401.7 1229.8 420.1" stroke="rgb(238,102,75)" stroke-width="0.82"/><path d="M1176.0 150.4C1172.0 168.8 1015.3 271.7 996.8 268.1" stroke="rgb(238,102,75)" stroke-width="0.74"/><path d="M1122.5 148.6C1128.2 187.7 1211.7 209.8 1236.0 178.5" stroke="rgb(238,102,75)" stroke-width="1.65"/><path d="M1024.4 387.5C1052.7 366.0 1047.7 235.2 1017.8 216.0" stroke="rgb(238,102,75)" stroke-width="0.84"/><path d="M1026.0 204.4C1050.2 223.4 1025.4 309.6 994.8 312.9" stroke="#111" stroke-width="0.82"/><path d="M1026.0 204.3C1055.7 227.6 1164.1 186.5 1170.9 149.4" stroke="rgb(238,102,75)" stroke-width="1.00"/><path d="M1025.0 205.6C1054.4 228.2 1237.5 360.4 1268.1 381.2" stroke="rgb(238,102,75)" stroke-width="0.68"/><path d="M1073.9 429.6C1087.4 404.2 1023.9 313.7 995.4 317.7" stroke="rgb(238,102,75)" stroke-width="1.00"/><path d="M1073.6 429.5C1088.3 401.8 1150.9 178.5 1152.7 147.3" stroke="#111" stroke-width="1.01"/><path d="M1137.3 446.9C1139.0 409.0 1255.7 306.5 1293.5 309.7" stroke="rgb(238,102,75)" stroke-width="1.10"/><path d="M1091.7 437.6C1101.5 411.3 1031.7 249.6 1005.8 238.7" stroke="rgb(238,102,75)" stroke-width="1.02"/><path d="M1050.2 414.1C1075.1 383.0 1185.8 195.1 1201.0 158.2" stroke="rgb(238,102,75)" stroke-width="0.70"/><path d="M1100.1 440.4C1107.9 414.9 1225.0 204.0 1242.5 183.8" stroke="rgb(238,102,75)" stroke-width="2.33"/><path d="M994.9 313.5C1021.1 310.6 1071.7 196.7 1056.3 175.3" stroke="#111" stroke-width="1.04"/><path d="M1086.6 158.4C1098.0 185.9 1264.0 304.5 1293.7 306.4" stroke="#111" stroke-width="0.82"/><path d="M1006.7 236.6C1029.7 246.7 1224.1 201.2 1240.2 181.9" stroke="rgb(238,102,75)" stroke-width="0.70"/><path d="M1118.5 444.8C1125.0 407.1 1167.5 187.8 1175.6 150.4" stroke="rgb(238,102,75)" stroke-width="0.83"/><path d="M1192.4 439.0C1183.8 413.7 1070.5 198.0 1054.5 176.6" stroke="#111" stroke-width="0.84"/><path d="M1199.2 436.5C1186.0 403.1 1053.0 228.1 1024.4 206.5" stroke="rgb(238,102,75)" stroke-width="0.65"/><path d="M1179.1 151.2C1174.7 169.4 1013.2 307.8 994.5 309.4" stroke="rgb(238,102,75)" stroke-width="2.02"/><path d="M1011.8 367.8C1029.7 358.2 1167.9 169.5 1171.6 149.6" stroke="rgb(238,102,75)" stroke-width="2.34"/><path d="M1217.4 427.8C1201.9 400.2 1068.8 205.6 1048.6 181.2" stroke="#111" stroke-width="0.73"/><path d="M1075.7 430.6C1084.4 413.7 1067.8 190.4 1056.7 175.0" stroke="rgb(238,102,75)" stroke-width="0.94"/><path d="M1238.8 180.7C1225.2 197.4 1250.4 369.1 1268.2 381.1" stroke="rgb(238,102,75)" stroke-width="1.12"/><path d="M1218.0 166.5C1199.7 198.8 1209.2 389.2 1230.6 419.5" stroke="rgb(238,102,75)" stroke-width="1.13"/><path d="M1123.7 148.4C1127.3 174.5 1068.0 394.4 1051.7 415.3" stroke="#111" stroke-width="1.03"/><path d="M1174.1 150.0C1167.2 183.6 1200.1 398.2 1216.7 428.2" stroke="rgb(238,102,75)" stroke-width="1.06"/><path d="M1199.4 157.6C1188.9 183.9 1022.8 307.8 994.6 310.3" stroke="rgb(238,102,75)" stroke-width="1.04"/><path d="M1170.7 149.4C1166.3 173.7 1073.8 193.1 1060.0 172.7" stroke="rgb(238,102,75)" stroke-width="2.04"/><path d="M1293.7 306.0C1275.5 304.9 1067.3 189.9 1056.7 175.1" stroke="#111" stroke-width="2.11"/><path d="M994.9 313.8C1022.9 310.6 1157.5 418.1 1160.7 446.1" stroke="#111" stroke-width="1.01"/><path d="M1078.3 162.1C1096.0 198.4 1210.5 384.1 1235.1 416.2" stroke="rgb(238,102,75)" stroke-width="1.18"/><path d="M1094.7 155.3C1107.3 191.5 1255.4 305.2 1293.6 308.1" stroke="#111" stroke-width="1.03"/><path d="M996.4 270.1C1037.5 277.6 1177.2 400.0 1190.1 439.8" stroke="rgb(238,102,75)" stroke-width="1.07"/><path d="M1055.4 175.9C1076.6 204.8 1040.3 249.1 1007.8 234.1" stroke="rgb(238,102,75)" stroke-width="0.88"/><path d="M1218.9 167.0C1198.7 202.0 1109.5 401.0 1096.8 439.4" stroke="rgb(238,102,75)" stroke-width="0.64"/><path d="M1121.4 445.3C1126.8 410.3 1186.6 190.6 1199.8 157.8" stroke="rgb(238,102,75)" stroke-width="0.98"/><path d="M1265.2 385.3C1249.0 373.5 1082.2 411.2 1072.7 428.9" stroke="rgb(238,102,75)" stroke-width="1.02"/><path d="M1012.7 369.5C1028.5 360.7 1124.1 427.4 1121.3 445.3" stroke="rgb(238,102,75)" stroke-width="1.04"/><path d="M1052.0 415.5C1073.9 387.2 1211.9 388.8 1233.2 417.6" stroke="#111" stroke-width="0.89"/><path d="M1280.2 359.8C1250.9 346.3 1039.3 350.7 1010.5 365.4" stroke="#111" stroke-width="2.27"/><path d="M1259.3 201.0C1229.7 225.6 1033.3 310.7 995.1 315.4" stroke="#111" stroke-width="1.16"/><path d="M1060.1 172.6C1079.5 201.3 1133.6 412.0 1130.5 446.4" stroke="#111" stroke-width="1.84"/><path d="M1213.5 429.9C1197.6 399.6 1250.6 252.1 1282.2 238.8" stroke="#111" stroke-width="0.74"/><path d="M1125.9 148.1C1129.4 177.2 1042.3 232.1 1017.6 216.3" stroke="rgb(238,102,75)" stroke-width="0.90"/><path d="M995.3 316.5C1032.8 311.6 1072.7 210.4 1048.6 181.2" stroke="rgb(238,102,75)" stroke-width="0.97"/><path d="M1157.3 446.4C1154.4 413.9 1036.7 249.5 1006.8 236.3" stroke="#111" stroke-width="0.93"/><path d="M1122.3 445.4C1128.3 404.2 1252.0 305.3 1293.6 308.5" stroke="rgb(238,102,75)" stroke-width="0.65"/><path d="M1125.4 148.2C1130.1 186.0 1129.3 407.9 1124.3 445.7" stroke="rgb(238,102,75)" stroke-width="0.72"/><path d="M1017.3 216.7C1041.8 232.2 1027.9 331.2 1000.1 339.5" stroke="#111" stroke-width="1.13"/><path d="M1049.2 413.3C1067.6 390.7 1264.4 307.7 1293.4 310.3" stroke="rgb(238,102,75)" stroke-width="0.61"/><path d="M1093.9 438.4C1104.0 410.1 1252.7 246.3 1279.9 233.6" stroke="#111" stroke-width="0.71"/><path d="M1290.5 264.7C1255.7 272.4 1248.5 343.7 1280.9 358.3" stroke="#111" stroke-width="0.80"/><path d="M1280.2 359.8C1251.4 346.5 1029.7 327.4 999.0 335.5" stroke="#111" stroke-width="0.71"/><path d="M999.7 338.0C1017.7 332.9 1083.7 413.7 1075.2 430.3" stroke="rgb(238,102,75)" stroke-width="0.97"/><path d="M1173.9 150.0C1165.7 190.1 1213.1 212.6 1239.0 180.9" stroke="rgb(238,102,75)" stroke-width="0.86"/><path d="M1027.2 391.1C1057.6 366.7 1080.3 206.0 1058.0 174.1" stroke="rgb(238,102,75)" stroke-width="0.79"/><path d="M1125.1 148.2C1128.1 172.3 1034.8 359.1 1013.6 371.2" stroke="rgb(238,102,75)" stroke-width="1.85"/><path d="M1025.6 204.9C1056.5 228.9 1202.1 202.6 1222.7 169.3" stroke="#111" stroke-width="0.83"/><path d="M1011.5 367.3C1037.8 353.4 1165.3 178.7 1170.6 149.4" stroke="rgb(238,102,75)" stroke-width="1.15"/><path d="M1192.9 438.8C1183.6 411.8 1074.6 197.4 1058.3 173.9" stroke="rgb(238,102,75)" stroke-width="0.91"/><path d="M1025.4 205.2C1044.5 220.0 1066.8 396.3 1051.9 415.4" stroke="rgb(238,102,75)" stroke-width="2.39"/><path d="M1237.7 179.8C1215.9 207.0 1178.8 406.8 1189.3 440.0" stroke="rgb(238,102,75)" stroke-width="0.64"/><path d="M1006.2 237.8C1033.3 249.5 1087.6 403.4 1073.7 429.5" stroke="rgb(238,102,75)" stroke-width="1.05"/><path d="M1119.9 149.0C1124.9 179.7 1192.1 188.3 1204.7 159.8" stroke="rgb(238,102,75)" stroke-width="0.94"/><path d="M1267.0 382.9C1234.1 359.9 1124.8 405.2 1117.9 444.7" stroke="rgb(238,102,75)" stroke-width="1.13"/><path d="M1049.6 413.6C1072.3 385.5 1127.7 184.3 1122.5 148.6" stroke="rgb(238,102,75)" stroke-width="1.65"/><path d="M1022.5 385.0C1044.9 368.8 1255.3 347.9 1280.4 359.4" stroke="#111" stroke-width="0.78"/><path d="M1229.5 420.2C1207.1 388.0 1109.7 402.3 1097.6 439.6" stroke="rgb(238,102,75)" stroke-width="0.68"/><path d="M995.9 273.4C1020.4 277.3 1070.2 195.9 1055.5 175.9" stroke="rgb(238,102,75)" stroke-width="2.08"/><path d="M1236.0 178.5C1213.4 207.6 1150.5 184.0 1152.6 147.2" stroke="rgb(238,102,75)" stroke-width="2.19"/><path d="M1023.9 207.2C1042.0 220.7 1103.7 417.8 1096.5 439.3" stroke="rgb(238,102,75)" stroke-width="1.89"/><path d="M1097.6 439.7C1109.2 404.0 1081.4 203.5 1060.5 172.4" stroke="rgb(238,102,75)" stroke-width="1.15"/><path d="M1117.2 444.6C1122.5 415.8 1162.7 177.7 1167.2 148.8" stroke="rgb(238,102,75)" stroke-width="0.60"/><path d="M1228.5 421.0C1210.6 394.7 1069.0 205.6 1048.9 181.0" stroke="#111" stroke-width="0.95"/><path d="M1225.6 422.9C1209.8 398.5 1102.8 183.2 1092.9 156.0" stroke="rgb(238,102,75)" stroke-width="0.99"/><path d="M1018.4 214.9C1033.6 224.9 1103.5 422.5 1098.0 439.8" stroke="rgb(238,102,75)" stroke-width="0.99"/><path d="M1277.9 364.7C1252.8 352.0 1184.4 412.1 1193.7 438.5" stroke="#111" stroke-width="0.96"/><path d="M1160.5 446.1C1156.5 410.4 1255.4 272.3 1290.4 264.5" stroke="#111" stroke-width="1.18"/><path d="M1121.2 148.7C1125.2 174.6 1136.5 420.6 1134.9 446.7" stroke="rgb(238,102,75)" stroke-width="0.77"/><path d="M996.6 269.0C1031.5 275.6 1127.3 183.7 1122.2 148.6" stroke="rgb(238,102,75)" stroke-width="0.76"/><path d="M997.0 267.3C1026.8 273.3 1051.1 372.4 1027.5 391.5" stroke="rgb(238,102,75)" stroke-width="1.08"/><path d="M1091.8 156.4C1103.0 186.5 1044.8 233.3 1017.8 216.0" stroke="rgb(238,102,75)" stroke-width="1.17"/><path d="M1056.7 175.0C1078.1 205.0 1235.1 364.1 1264.8 386.0" stroke="rgb(238,102,75)" stroke-width="1.15"/><path d="M1156.7 147.5C1154.7 170.9 1226.1 200.6 1241.2 182.8" stroke="rgb(238,102,75)" stroke-width="0.69"/><path d="M1173.2 149.9C1165.3 189.9 1057.5 363.7 1025.2 388.6" stroke="rgb(238,102,75)" stroke-width="1.17"/><path d="M1293.2 312.1C1267.7 309.5 1182.6 415.2 1190.5 439.6" stroke="#111" stroke-width="2.13"/><path d="M1019.4 213.5C1040.2 227.5 1019.8 310.4 994.9 313.1" stroke="#111" stroke-width="1.08"/><path d="M1118.4 149.2C1122.8 174.5 1219.7 198.4 1235.4 178.0" stroke="rgb(238,102,75)" stroke-width="0.87"/><path d="M1136.7 446.8C1137.9 421.7 1204.0 406.5 1216.0 428.6" stroke="#111" stroke-width="0.97"/><path d="M1218.8 167.0C1205.4 190.2 1267.1 301.4 1293.9 302.4" stroke="rgb(238,102,75)" stroke-width="1.12"/><path d="M1007.3 235.3C1038.0 249.1 1052.4 368.7 1025.9 389.5" stroke="rgb(238,102,75)" stroke-width="1.04"/><path d="M1050.2 179.9C1075.0 210.8 1037.7 326.9 999.6 337.6" stroke="rgb(238,102,75)" stroke-width="1.14"/><path d="M1097.9 439.7C1106.1 414.2 1255.3 349.6 1279.6 361.0" stroke="rgb(238,102,75)" stroke-width="0.84"/><path d="M1059.5 173.1C1076.7 198.3 1124.0 179.2 1118.9 149.1" stroke="rgb(238,102,75)" stroke-width="1.67"/><path d="M1281.7 356.4C1259.9 347.0 1135.8 422.9 1134.3 446.7" stroke="#111" stroke-width="0.71"/><path d="M996.2 271.3C1034.4 278.0 1075.4 384.6 1051.5 415.1" stroke="rgb(238,102,75)" stroke-width="0.92"/><path d="M1007.3 235.2C1026.2 243.8 1102.7 174.5 1096.1 154.9" stroke="#111" stroke-width="0.67"/><path d="M1000.9 342.0C1038.3 330.2 1226.2 222.7 1255.3 196.4" stroke="rgb(238,102,75)" stroke-width="0.70"/><path d="M1052.8 416.1C1066.4 398.4 1126.1 423.5 1122.9 445.5" stroke="#111" stroke-width="1.06"/><path d="M1017.2 216.9C1047.2 235.9 1214.9 207.2 1236.9 179.3" stroke="rgb(238,102,75)" stroke-width="1.12"/><path d="M994.7 311.2C1033.1 307.6 1195.2 396.0 1212.9 430.2" stroke="rgb(238,102,75)" stroke-width="1.14"/><path d="M1020.6 382.2C1044.7 365.6 1251.8 351.2 1278.0 364.4" stroke="#111" stroke-width="0.75"/><path d="M1229.3 420.4C1206.7 387.7 1164.6 188.7 1172.0 149.6" stroke="rgb(238,102,75)" stroke-width="1.01"/><path d="M1278.1 364.2C1257.5 353.9 1121.4 172.0 1117.4 149.4" stroke="#111" stroke-width="1.15"/><path d="M994.7 311.1C1019.1 308.8 1258.0 244.7 1280.3 234.4" stroke="#111" stroke-width="0.95"/><path d="M1058.5 173.7C1081.0 206.1 1232.6 363.3 1264.1 386.9" stroke="rgb(238,102,75)" stroke-width="0.96"/><path d="M1290.3 263.9C1255.5 271.8 1078.9 203.0 1058.6 173.7" stroke="rgb(238,102,75)" stroke-width="1.17"/><path d="M1201.1 158.3C1190.2 184.8 1027.7 331.6 1000.2 339.8" stroke="rgb(238,102,75)" stroke-width="1.76"/><path d="M1005.7 238.9C1042.8 254.5 1111.5 401.9 1099.6 440.3" stroke="rgb(238,102,75)" stroke-width="0.68"/><path d="M1018.0 215.7C1050.1 236.4 1112.7 404.3 1102.0 441.0" stroke="rgb(238,102,75)" stroke-width="0.78"/><path d="M1157.8 446.4C1156.1 427.3 1092.2 176.8 1084.6 159.3" stroke="rgb(238,102,75)" stroke-width="0.98"/><path d="M1074.2 429.8C1092.6 394.8 1126.6 188.0 1120.3 148.9" stroke="#111" stroke-width="1.17"/><path d="M1120.7 148.8C1125.5 179.4 1137.8 415.9 1136.2 446.8" stroke="rgb(238,102,75)" stroke-width="0.84"/><path d="M1263.9 206.9C1241.6 223.6 1031.4 249.7 1005.7 238.9" stroke="#111" stroke-width="1.10"/><path d="M1078.6 432.0C1093.2 401.9 1029.2 277.1 996.2 271.3" stroke="rgb(238,102,75)" stroke-width="1.18"/><path d="M1131.1 446.4C1132.9 425.4 1016.0 312.1 995.0 314.5" stroke="#111" stroke-width="1.17"/><path d="M1000.0 339.1C1019.3 333.5 1137.3 426.8 1136.3 446.8" stroke="rgb(238,102,75)" stroke-width="1.14"/><path d="M1027.0 390.9C1055.3 368.2 1134.1 410.3 1130.9 446.4" stroke="rgb(238,102,75)" stroke-width="1.08"/><path d="M1012.6 369.4C1036.3 356.4 1264.2 270.8 1290.6 265.1" stroke="#111" stroke-width="0.93"/><path d="M1060.2 172.6C1075.2 194.8 1023.2 272.8 996.9 267.6" stroke="rgb(238,102,75)" stroke-width="0.73"/><path d="M1058.4 173.8C1079.0 203.5 1178.7 405.5 1189.7 439.9" stroke="rgb(238,102,75)" stroke-width="1.73"/><path d="M1013.6 371.1C1041.1 355.5 1028.0 273.5 997.0 267.2" stroke="rgb(238,102,75)" stroke-width="1.16"/><path d="M1193.5 438.6C1183.0 408.3 1189.1 188.0 1201.3 158.4" stroke="rgb(238,102,75)" stroke-width="0.61"/><path d="M1008.1 233.5C1028.4 243.0 1021.8 333.4 1000.3 339.9" stroke="#111" stroke-width="0.90"/><path d="M1057.2 174.7C1070.2 193.1 1192.4 179.1 1201.0 158.2" stroke="rgb(238,102,75)" stroke-width="0.88"/><path d="M994.8 312.4C1030.6 308.7 1041.1 247.9 1008.6 232.4" stroke="#111" stroke-width="1.94"/><path d="M1132.7 446.6C1134.8 418.0 1192.8 185.9 1204.4 159.7" stroke="rgb(238,102,75)" stroke-width="0.92"/><path d="M1202.8 159.0C1191.2 186.3 1200.3 403.4 1214.2 429.6" stroke="rgb(238,102,75)" stroke-width="0.62"/><path d="M1233.0 176.2C1214.7 201.1 1112.0 411.8 1103.7 441.5" stroke="rgb(238,102,75)" stroke-width="0.84"/><path d="M1051.1 414.8C1069.4 391.6 1126.5 177.8 1122.2 148.6" stroke="rgb(238,102,75)" stroke-width="0.63"/><path d="M996.8 268.1C1034.9 275.6 1125.7 187.3 1119.3 149.0" stroke="rgb(238,102,75)" stroke-width="0.70"/><path d="M1051.5 415.1C1069.2 392.5 1039.9 234.7 1015.3 220.0" stroke="#111" stroke-width="2.20"/><path d="M1016.6 217.8C1048.7 237.7 1105.3 402.3 1092.3 437.8" stroke="rgb(238,102,75)" stroke-width="0.77"/><path d="M995.3 316.8C1027.8 312.4 1170.3 182.8 1177.7 150.8" stroke="rgb(238,102,75)" stroke-width="0.75"/><path d="M1046.9 411.4C1065.1 389.9 1124.3 176.7 1119.7 149.0" stroke="rgb(238,102,75)" stroke-width="0.64"/><path d="M1012.5 369.2C1034.3 357.2 1087.7 408.7 1076.4 430.9" stroke="#111" stroke-width="0.88"/><path d="M1175.3 150.3C1168.6 181.6 1078.5 198.8 1060.8 172.2" stroke="rgb(238,102,75)" stroke-width="0.84"/><path d="M1199.7 157.7C1185.4 193.6 1077.3 386.2 1054.2 417.1" stroke="rgb(238,102,75)" stroke-width="2.25"/><path d="M1235.9 178.4C1212.3 208.9 1033.0 306.9 994.6 310.3" stroke="rgb(238,102,75)" stroke-width="0.78"/><path d="M1136.5 446.8C1137.7 424.1 1259.6 350.0 1280.4 359.5" stroke="#111" stroke-width="0.61"/><path d="M1026.5 390.3C1044.7 375.8 1170.3 173.0 1175.1 150.3" stroke="rgb(238,102,75)" stroke-width="0.63"/><path d="M1279.1 231.9C1261.0 240.6 1159.1 426.0 1161.4 446.0" stroke="#111" stroke-width="0.84"/><path d="M1096.1 154.8C1105.1 181.5 1220.1 201.8 1237.6 179.8" stroke="rgb(238,102,75)" stroke-width="1.09"/><path d="M1015.3 219.9C1050.6 241.0 1105.7 195.0 1091.3 156.6" stroke="#111" stroke-width="0.74"/><path d="M1217.4 166.2C1204.6 189.0 1035.5 356.8 1012.6 369.4" stroke="rgb(238,102,75)" stroke-width="0.76"/><path d="M1193.9 438.5C1185.9 415.9 1108.7 418.1 1102.0 441.0" stroke="rgb(238,102,75)" stroke-width="0.61"/><path d="M1098.5 439.9C1110.7 401.7 1182.2 400.0 1196.1 437.6" stroke="rgb(238,102,75)" stroke-width="0.75"/><path d="M996.6 269.1C1017.9 273.1 1042.1 219.0 1024.9 205.8" stroke="#111" stroke-width="0.90"/><path d="M1279.1 231.9C1242.4 249.6 1048.9 350.7 1013.4 370.8" stroke="rgb(238,102,75)" stroke-width="1.74"/><path d="M1158.2 147.7C1155.5 175.5 1038.2 357.7 1013.9 371.6" stroke="#111" stroke-width="1.87"/><path d="M1153.2 147.3C1151.4 175.5 1047.8 222.3 1025.5 205.0" stroke="rgb(238,102,75)" stroke-width="0.91"/><path d="M1226.1 422.5C1207.1 393.5 1098.5 191.1 1084.8 159.2" stroke="#111" stroke-width="1.42"/><path d="M1089.3 157.3C1100.1 184.8 1233.8 216.7 1255.8 197.0" stroke="#111" stroke-width="0.83"/><path d="M1124.7 148.3C1127.2 167.7 1040.4 376.2 1024.9 388.1" stroke="#111" stroke-width="0.80"/><path d="M996.3 270.6C1024.9 275.7 1126.5 177.3 1122.3 148.6" stroke="rgb(238,102,75)" stroke-width="1.48"/><path d="M1235.7 415.7C1212.2 385.3 1079.2 206.2 1056.9 174.9" stroke="rgb(238,102,75)" stroke-width="1.76"/><path d="M1161.3 446.0C1157.5 413.1 1052.5 224.3 1026.5 203.7" stroke="rgb(238,102,75)" stroke-width="0.76"/><path d="M999.9 338.8C1033.7 329.0 1031.8 272.8 997.4 265.4" stroke="rgb(238,102,75)" stroke-width="0.84"/><path d="M1006.4 237.3C1042.1 252.8 1225.5 221.6 1254.1 195.1" stroke="#111" stroke-width="1.81"/><path d="M1280.7 235.1C1260.1 244.4 1168.1 171.8 1172.3 149.7" stroke="rgb(238,102,75)" stroke-width="1.07"/><path d="M1293.7 306.2C1252.6 303.7 1094.2 393.8 1075.4 430.4" stroke="#111" stroke-width="0.91"/><path d="M1138.2 446.9C1139.3 417.5 1188.9 185.0 1199.8 157.8" stroke="rgb(238,102,75)" stroke-width="0.98"/><path d="M1238.9 180.8C1223.3 199.9 1074.7 192.6 1061.0 172.0" stroke="rgb(238,102,75)" stroke-width="1.91"/><path d="M1122.9 445.5C1127.6 412.4 1029.7 274.3 996.9 267.8" stroke="rgb(238,102,75)" stroke-width="2.01"/><path d="M1060.7 172.3C1083.5 206.4 1057.7 363.5 1025.2 388.5" stroke="rgb(238,102,75)" stroke-width="1.14"/><path d="M1293.7 306.9C1262.4 304.8 1067.6 206.2 1047.4 182.3" stroke="#111" stroke-width="1.60"/><path d="M1293.7 305.7C1256.3 303.5 1122.6 407.5 1115.5 444.3" stroke="#111" stroke-width="0.96"/><path d="M1027.3 391.2C1042.6 378.8 1068.2 191.0 1056.7 175.0" stroke="rgb(238,102,75)" stroke-width="0.89"/><path d="M1024.3 387.4C1054.1 364.9 1053.8 229.4 1023.9 207.1" stroke="rgb(238,102,75)" stroke-width="0.99"/><path d="M1023.8 207.3C1043.2 221.8 1070.3 398.8 1056.1 418.5" stroke="rgb(238,102,75)" stroke-width="2.00"/><path d="M1057.2 174.7C1077.3 203.0 1030.5 276.9 996.3 270.9" stroke="rgb(238,102,75)" stroke-width="1.09"/><path d="M996.1 271.8C1019.0 275.7 1184.6 417.1 1192.1 439.1" stroke="rgb(238,102,75)" stroke-width="1.05"/><path d="M1122.8 445.5C1125.4 427.4 1220.6 404.2 1231.2 419.1" stroke="rgb(238,102,75)" stroke-width="0.80"/><path d="M1202.3 158.8C1188.3 191.8 1054.3 226.5 1026.1 204.3" stroke="rgb(238,102,75)" stroke-width="2.32"/><path d="M1076.2 430.8C1086.3 411.0 1126.2 170.5 1123.2 148.5" stroke="rgb(238,102,75)" stroke-width="1.13"/><path d="M1152.4 147.2C1151.1 170.5 1017.7 307.6 994.5 309.5" stroke="#111" stroke-width="0.64"/><path d="M1265.5 384.9C1246.2 370.9 1156.3 422.5 1158.6 446.3" stroke="rgb(238,102,75)" stroke-width="1.01"/><path d="M1028.0 392.1C1044.6 378.5 1245.9 375.4 1262.9 388.5" stroke="rgb(238,102,75)" stroke-width="2.21"/><path d="M1058.3 173.9C1072.5 194.3 1156.0 421.5 1158.4 446.3" stroke="rgb(238,102,75)" stroke-width="0.73"/><path d="M1214.8 429.2C1203.0 407.3 1046.1 374.9 1026.7 390.4" stroke="rgb(238,102,75)" stroke-width="0.82"/><path d="M1012.0 368.2C1041.7 352.1 1125.2 411.7 1119.8 445.0" stroke="rgb(238,102,75)" stroke-width="1.84"/><path d="M1007.5 234.9C1031.2 245.7 1136.4 420.7 1134.8 446.7" stroke="#111" stroke-width="1.09"/><path d="M1134.3 446.7C1136.0 419.3 1045.6 224.0 1023.5 207.6" stroke="rgb(238,102,75)" stroke-width="0.73"/><path d="M1023.8 386.7C1046.0 370.2 1093.3 185.7 1081.9 160.5" stroke="rgb(238,102,75)" stroke-width="0.63"/><path d="M1074.9 430.2C1086.8 407.2 1191.9 182.5 1201.9 158.6" stroke="rgb(238,102,75)" stroke-width="1.62"/><path d="M1190.8 439.5C1183.5 417.5 1017.9 310.4 994.8 312.8" stroke="#111" stroke-width="0.80"/><path d="M1123.8 445.6C1128.2 413.3 1261.1 304.8 1293.7 307.0" stroke="rgb(238,102,75)" stroke-width="1.58"/><path d="M1238.4 180.5C1220.5 202.6 1094.1 186.2 1082.4 160.2" stroke="#111" stroke-width="0.67"/><path d="M1097.2 439.5C1109.9 400.9 1166.5 189.9 1174.8 150.2" stroke="rgb(238,102,75)" stroke-width="1.08"/><path d="M1263.8 387.3C1248.7 375.9 1013.6 310.0 994.7 311.9" stroke="rgb(238,102,75)" stroke-width="1.05"/><path d="M1241.7 183.1C1225.9 201.5 1126.4 172.4 1123.0 148.5" stroke="rgb(238,102,75)" stroke-width="1.07"/><path d="M1053.9 177.0C1068.1 195.9 1022.9 333.0 1000.2 339.7" stroke="rgb(238,102,75)" stroke-width="1.03"/><path d="M1280.1 360.2C1256.7 349.3 1220.1 395.3 1235.8 415.6" stroke="#111" stroke-width="1.78"/><path d="M1174.6 150.2C1169.2 176.0 1071.5 196.9 1056.0 175.5" stroke="rgb(238,102,75)" stroke-width="0.71"/><path d="M1289.9 262.1C1256.9 270.0 1030.0 275.4 996.6 269.1" stroke="rgb(238,102,75)" stroke-width="1.18"/><path d="M1024.9 205.8C1051.2 226.0 1154.5 413.4 1157.4 446.4" stroke="rgb(238,102,75)" stroke-width="1.91"/><path d="M1200.9 158.2C1186.5 193.5 1093.4 396.8 1076.1 430.8" stroke="rgb(238,102,75)" stroke-width="0.69"/><path d="M1016.5 218.0C1050.6 239.2 1253.4 306.7 1293.4 310.3" stroke="rgb(238,102,75)" stroke-width="0.88"/><path d="M1293.6 307.3C1268.1 305.6 1216.0 398.5 1230.8 419.3" stroke="#111" stroke-width="0.79"/><path d="M1114.9 444.2C1121.3 411.6 1128.0 181.3 1123.4 148.4" stroke="rgb(238,102,75)" stroke-width="1.04"/><path d="M1059.7 172.9C1074.5 194.7 1217.5 396.5 1233.1 417.7" stroke="#111" stroke-width="0.82"/><path d="M1293.0 313.9C1252.8 309.3 1208.0 385.8 1231.7 418.7" stroke="#111" stroke-width="1.08"/><path d="M1024.7 206.1C1052.6 227.3 1237.4 364.1 1265.8 384.6" stroke="rgb(238,102,75)" stroke-width="0.74"/><path d="M1050.4 414.2C1074.2 384.4 1214.4 210.0 1238.4 180.4" stroke="rgb(238,102,75)" stroke-width="0.76"/><path d="M1167.7 148.9C1164.1 171.7 1066.2 397.3 1052.1 415.6" stroke="rgb(238,102,75)" stroke-width="1.12"/><path d="M1024.8 206.0C1042.8 219.7 1157.0 423.6 1159.3 446.2" stroke="#111" stroke-width="1.60"/><path d="M1263.7 387.4C1233.7 364.8 1236.5 233.1 1267.4 211.7" stroke="rgb(238,102,75)" stroke-width="0.89"/><path d="M1007.1 235.7C1031.1 246.4 1239.9 218.9 1260.3 202.3" stroke="#111" stroke-width="0.86"/><path d="M1013.2 370.4C1045.2 352.4 1257.1 302.2 1293.8 303.9" stroke="#111" stroke-width="1.16"/><path d="M1050.8 179.5C1069.6 203.2 1090.8 404.3 1077.4 431.4" stroke="rgb(238,102,75)" stroke-width="0.81"/><path d="M1094.5 438.6C1102.2 416.7 1033.3 358.9 1013.1 370.2" stroke="rgb(238,102,75)" stroke-width="0.79"/><path d="M1174.3 150.1C1167.4 183.6 1212.2 390.5 1232.4 418.2" stroke="rgb(238,102,75)" stroke-width="2.05"/><path d="M1259.1 200.8C1227.1 227.6 1252.2 301.8 1293.9 303.7" stroke="rgb(238,102,75)" stroke-width="1.82"/><path d="M1280.0 233.8C1252.7 246.5 1183.1 410.3 1192.9 438.8" stroke="#111" stroke-width="1.03"/><path d="M1265.0 385.7C1245.5 371.4 1269.4 307.7 1293.5 309.8" stroke="rgb(238,102,75)" stroke-width="0.81"/><path d="M994.7 311.5C1035.6 307.5 1252.6 305.2 1293.6 308.3" stroke="#111" stroke-width="1.02"/><path d="M1023.6 386.4C1051.0 366.1 1167.5 183.6 1174.5 150.1" stroke="rgb(238,102,75)" stroke-width="0.89"/><path d="M1075.3 430.4C1085.4 410.7 1206.1 185.1 1216.8 165.8" stroke="rgb(238,102,75)" stroke-width="1.03"/><path d="M1124.5 445.7C1129.2 409.7 1072.0 385.0 1049.1 413.1" stroke="rgb(238,102,75)" stroke-width="0.81"/><path d="M1026.5 203.7C1058.6 229.2 1128.2 404.9 1122.3 445.4" stroke="rgb(238,102,75)" stroke-width="1.16"/><path d="M1015.4 219.7C1042.3 235.9 1070.8 390.4 1051.5 415.1" stroke="rgb(238,102,75)" stroke-width="2.01"/><path d="M1214.9 429.2C1204.2 409.2 1134.7 424.0 1133.0 446.6" stroke="#111" stroke-width="0.68"/><path d="M996.5 269.5C1030.5 275.8 1087.9 397.9 1071.1 428.1" stroke="rgb(238,102,75)" stroke-width="0.91"/><path d="M1264.7 386.0C1237.5 365.9 1054.3 223.2 1028.2 201.7" stroke="rgb(238,102,75)" stroke-width="1.09"/><path d="M1136.0 446.8C1137.5 417.6 1028.0 330.8 1000.0 339.0" stroke="rgb(238,102,75)" stroke-width="1.85"/><path d="M1230.2 419.7C1211.6 393.2 1218.5 206.1 1239.1 181.0" stroke="rgb(238,102,75)" stroke-width="0.68"/><path d="M1056.4 175.2C1069.1 192.9 1042.5 375.3 1025.2 388.6" stroke="#111" stroke-width="1.05"/><path d="M1279.9 360.5C1253.8 348.3 1066.2 204.1 1047.7 182.0" stroke="rgb(238,102,75)" stroke-width="1.19"/><path d="M1123.2 445.6C1128.1 410.6 1208.3 392.0 1228.0 421.2" stroke="rgb(238,102,75)" stroke-width="1.05"/><path d="M1157.0 446.4C1154.6 419.3 1214.3 397.6 1229.9 420.0" stroke="rgb(238,102,75)" stroke-width="2.28"/><path d="M1025.2 205.5C1043.5 219.6 1103.2 417.2 1095.8 439.0" stroke="rgb(238,102,75)" stroke-width="0.72"/><path d="M1025.8 389.4C1048.3 371.8 1188.3 183.9 1198.7 157.3" stroke="rgb(238,102,75)" stroke-width="1.19"/><path d="M1055.6 175.8C1071.3 197.3 1200.0 407.0 1212.0 430.7" stroke="#111" stroke-width="1.03"/><path d="M1191.9 439.2C1179.3 401.8 1057.4 228.3 1026.5 203.7" stroke="rgb(238,102,75)" stroke-width="0.69"/><path d="M1281.9 238.1C1250.8 251.4 1249.6 345.5 1280.3 359.6" stroke="#111" stroke-width="1.16"/><path d="M1006.3 237.6C1033.0 249.1 1255.3 344.2 1282.1 355.5" stroke="#111" stroke-width="1.57"/><path d="M1120.9 148.8C1126.0 181.8 1212.1 391.7 1231.6 418.7" stroke="rgb(238,102,75)" stroke-width="0.62"/><path d="M1050.9 414.6C1063.4 398.7 1059.7 198.3 1046.6 182.9" stroke="rgb(238,102,75)" stroke-width="2.39"/><path d="M1281.7 356.6C1264.4 349.1 1101.6 172.8 1095.5 155.1" stroke="#111" stroke-width="0.99"/><path d="M1234.5 416.7C1213.8 389.3 1029.7 278.9 995.8 273.6" stroke="rgb(238,102,75)" stroke-width="1.09"/><path d="M1293.5 308.7C1274.4 307.2 1041.0 216.4 1025.9 204.5" stroke="#111" stroke-width="1.09"/><path d="M1281.0 235.9C1249.8 249.8 1037.7 251.0 1006.4 237.4" stroke="#111" stroke-width="0.83"/><path d="M1096.4 439.2C1102.4 421.4 1263.4 351.3 1280.5 359.1" stroke="#111" stroke-width="0.92"/><path d="M1198.6 157.3C1189.7 180.0 1125.1 421.2 1121.4 445.3" stroke="rgb(238,102,75)" stroke-width="0.96"/><path d="M1122.2 148.6C1126.0 174.7 1023.0 271.5 997.2 266.0" stroke="rgb(238,102,75)" stroke-width="0.62"/><path d="M1202.8 159.0C1193.3 181.3 1124.8 421.3 1121.1 445.2" stroke="rgb(238,102,75)" stroke-width="0.77"/><path d="M1095.4 155.1C1103.6 179.2 1202.1 407.2 1213.9 429.7" stroke="rgb(238,102,75)" stroke-width="0.74"/><path d="M1006.7 236.6C1042.8 252.5 1033.9 307.3 994.7 311.0" stroke="#111" stroke-width="0.64"/><path d="M1022.4 209.2C1047.0 227.0 1252.0 348.4 1279.4 361.5" stroke="#111" stroke-width="1.03"/><path d="M1267.5 382.2C1252.0 371.5 1139.8 428.1 1139.2 446.9" stroke="rgb(238,102,75)" stroke-width="0.86"/><path d="M1059.2 173.3C1072.3 192.4 1270.3 308.0 1293.4 310.0" stroke="#111" stroke-width="0.84"/><path d="M1156.9 446.4C1155.0 425.0 1243.8 216.0 1260.5 202.5" stroke="#111" stroke-width="0.63"/><path d="M1265.1 385.5C1237.8 365.6 1191.5 190.9 1205.3 160.1" stroke="rgb(238,102,75)" stroke-width="0.85"/><path d="M997.2 266.0C1035.6 274.1 1107.0 401.4 1093.9 438.4" stroke="rgb(238,102,75)" stroke-width="0.64"/><path d="M1028.7 201.1C1058.2 225.6 1053.7 362.6 1022.6 385.1" stroke="rgb(238,102,75)" stroke-width="0.82"/><path d="M1117.3 149.4C1124.4 188.6 1056.6 364.1 1025.0 388.4" stroke="rgb(238,102,75)" stroke-width="1.99"/><path d="M1200.5 158.1C1186.9 191.6 1053.2 228.5 1024.3 206.7" stroke="rgb(238,102,75)" stroke-width="1.17"/><path d="M1093.8 155.7C1102.9 181.4 1203.0 404.5 1216.2 428.5" stroke="rgb(238,102,75)" stroke-width="0.73"/><path d="M1000.9 342.0C1027.5 333.7 1171.1 177.9 1177.3 150.7" stroke="rgb(238,102,75)" stroke-width="1.01"/><path d="M1122.7 148.5C1127.2 179.9 1136.6 415.1 1134.6 446.7" stroke="rgb(238,102,75)" stroke-width="0.64"/><path d="M1265.5 384.9C1235.8 363.4 1054.6 366.6 1025.7 389.2" stroke="rgb(238,102,75)" stroke-width="1.88"/><path d="M996.3 270.7C1027.3 276.2 1076.4 199.7 1058.4 173.8" stroke="rgb(238,102,75)" stroke-width="1.05"/><path d="M1281.5 356.9C1258.3 346.8 1042.3 369.0 1021.5 383.6" stroke="#111" stroke-width="1.18"/><path d="M1089.4 157.3C1096.0 174.2 1061.2 399.6 1049.8 413.7" stroke="rgb(238,102,75)" stroke-width="0.61"/><path d="M1132.5 446.6C1133.9 428.2 1033.5 225.5 1018.1 215.5" stroke="#111" stroke-width="0.79"/><path d="M1046.5 183.0C1066.5 206.4 1260.4 270.8 1290.3 264.0" stroke="#111" stroke-width="0.62"/><path d="M1054.1 417.1C1075.4 388.6 1208.6 391.5 1228.7 420.8" stroke="rgb(238,102,75)" stroke-width="0.72"/><path d="M1280.5 359.2C1244.4 342.8 1038.7 329.9 1000.8 341.8" stroke="#111" stroke-width="0.84"/><path d="M1232.0 418.5C1214.4 394.1 1050.7 372.4 1027.3 391.3" stroke="rgb(238,102,75)" stroke-width="1.49"/><path d="M1229.9 420.0C1207.4 387.9 1073.0 211.9 1047.9 181.8" stroke="rgb(238,102,75)" stroke-width="1.08"/><path d="M1073.9 429.6C1087.8 403.2 1026.4 272.9 997.1 266.9" stroke="rgb(238,102,75)" stroke-width="0.73"/><path d="M1160.2 446.1C1155.8 405.7 1046.4 346.3 1010.1 364.7" stroke="#111" stroke-width="0.96"/><path d="M1097.3 154.4C1109.9 192.8 1179.5 400.7 1192.6 438.9" stroke="#111" stroke-width="1.10"/><path d="M1292.9 315.2C1261.1 311.3 1027.0 312.0 995.2 316.0" stroke="#111" stroke-width="1.17"/><path d="M1059.0 173.4C1082.0 206.8 1109.5 400.8 1096.6 439.3" stroke="rgb(238,102,75)" stroke-width="1.09"/><path d="M1154.9 147.4C1153.1 172.4 1126.3 420.6 1122.7 445.5" stroke="rgb(238,102,75)" stroke-width="1.13"/><path d="M1215.0 429.1C1198.1 397.7 1131.0 410.6 1127.0 446.0" stroke="rgb(238,102,75)" stroke-width="0.88"/><path d="M1007.7 234.4C1031.4 245.3 1244.4 369.7 1265.5 385.0" stroke="rgb(238,102,75)" stroke-width="0.98"/><path d="M1121.9 148.6C1127.3 185.4 1181.2 403.5 1193.5 438.6" stroke="#111" stroke-width="1.18"/><path d="M1121.7 148.7C1126.6 181.4 1179.3 408.5 1189.3 440.0" stroke="#111" stroke-width="0.79"/><path d="M1121.0 148.8C1126.1 182.1 1181.6 407.0 1192.5 438.9" stroke="#111" stroke-width="1.00"/><path d="M1120.9 148.8C1125.1 175.4 1183.0 413.8 1191.5 439.3" stroke="#111" stroke-width="1.15"/><path d="M1123.3 148.4C1127.6 179.6 1182.4 409.1 1192.6 438.9" stroke="#111" stroke-width="1.26"/><path d="M1124.0 148.3C1128.2 179.6 1182.1 409.2 1192.3 439.0" stroke="#111" stroke-width="0.72"/><path d="M1122.5 148.5C1127.0 179.9 1182.8 408.8 1193.1 438.7" stroke="#111" stroke-width="0.75"/><path d="M1057.7 174.3C1075.2 199.1 1252.6 347.3 1280.1 360.0" stroke="#111" stroke-width="1.24"/><path d="M1057.1 174.8C1076.0 201.3 1250.3 346.9 1279.8 360.7" stroke="#111" stroke-width="1.39"/><path d="M1059.5 173.1C1078.4 200.8 1250.0 345.0 1280.7 358.8" stroke="#111" stroke-width="1.18"/><path d="M1057.4 174.5C1072.7 196.1 1257.1 346.5 1281.4 357.1" stroke="#111" stroke-width="1.21"/><path d="M1059.0 173.4C1079.5 203.1 1247.1 345.4 1279.8 360.7" stroke="#111" stroke-width="0.94"/><path d="M1058.5 173.8C1076.6 199.9 1251.2 346.9 1280.0 360.3" stroke="#111" stroke-width="1.33"/><path d="M1056.5 175.2C1073.5 198.8 1253.7 347.8 1280.1 360.1" stroke="#111" stroke-width="1.40"/><path d="M1056.7 175.0C1074.1 199.3 1252.3 348.9 1279.3 361.8" stroke="#111" stroke-width="1.39"/><path d="M994.9 313.3C1028.4 309.6 1259.9 306.3 1293.5 309.0" stroke="#111" stroke-width="1.24"/><path d="M994.7 311.6C1031.4 308.0 1256.7 306.1 1293.5 309.1" stroke="#111" stroke-width="0.96"/><path d="M994.8 312.9C1023.4 309.8 1265.0 305.7 1293.6 307.7" stroke="#111" stroke-width="1.44"/><path d="M994.9 313.3C1026.8 309.8 1261.5 306.6 1293.5 309.2" stroke="#111" stroke-width="1.12"/><path d="M995.0 314.0C1026.9 310.3 1261.3 308.5 1293.3 311.7" stroke="#111" stroke-width="1.50"/><path d="M995.0 314.1C1028.5 310.2 1259.9 305.7 1293.6 308.2" stroke="#111" stroke-width="0.91"/><path d="M994.8 312.8C1027.6 309.3 1260.8 304.9 1293.7 307.1" stroke="#111" stroke-width="1.56"/><path d="M995.1 314.9C1022.5 311.6 1266.0 305.8 1293.6 307.8" stroke="#111" stroke-width="1.23"/><path d="M994.9 313.0C1017.6 310.5 1270.5 309.3 1293.3 311.6" stroke="#111" stroke-width="0.91"/><path d="M994.8 312.6C1030.1 308.9 1258.3 305.3 1293.6 307.8" stroke="#111" stroke-width="1.06"/><path d="M1007.5 234.8C1030.2 245.1 1256.5 242.4 1278.9 231.5" stroke="#111" stroke-width="1.42"/><path d="M1007.4 234.9C1039.4 249.5 1249.2 250.9 1281.4 236.8" stroke="#111" stroke-width="1.33"/><path d="M1006.5 237.1C1028.5 246.7 1259.3 246.3 1281.3 236.6" stroke="#111" stroke-width="0.80"/><path d="M1007.1 235.7C1027.8 245.0 1259.1 242.7 1279.6 233.0" stroke="#111" stroke-width="0.96"/><path d="M1006.7 236.6C1029.7 246.7 1257.5 245.0 1280.4 234.6" stroke="#111" stroke-width="0.76"/><path d="M1007.4 235.0C1035.3 247.7 1253.6 249.6 1281.7 237.5" stroke="#111" stroke-width="1.45"/><path d="M1057.7 174.3C1078.3 203.7 1209.9 390.2 1230.7 419.4" stroke="rgb(238,102,75)" stroke-width="1.09"/><path d="M1059.1 173.3C1077.8 200.6 1210.9 392.8 1229.9 420.0" stroke="rgb(238,102,75)" stroke-width="1.17"/><path d="M1057.3 174.6C1078.6 204.6 1206.2 391.6 1226.4 422.3" stroke="rgb(238,102,75)" stroke-width="0.94"/><path d="M1059.2 173.2C1076.7 198.7 1213.7 393.6 1231.7 418.7" stroke="rgb(238,102,75)" stroke-width="1.47"/><path d="M1058.4 173.8C1078.8 203.2 1208.4 391.3 1228.6 420.9" stroke="rgb(238,102,75)" stroke-width="1.30"/><path d="M1057.9 174.1C1074.0 197.0 1214.6 396.6 1230.8 419.4" stroke="rgb(238,102,75)" stroke-width="0.73"/><path d="M1059.1 173.3C1072.1 192.2 1206.0 408.0 1217.2 428.0" stroke="#111" stroke-width="1.50"/><path d="M1056.6 175.1C1071.2 195.5 1205.6 405.7 1217.9 427.5" stroke="#111" stroke-width="1.20"/><path d="M1058.8 173.5C1078.2 201.6 1200.4 398.2 1217.0 428.0" stroke="#111" stroke-width="1.52"/><path d="M1060.2 172.6C1076.3 196.5 1203.4 402.6 1217.6 427.7" stroke="#111" stroke-width="0.99"/><path d="M1057.4 174.6C1074.3 198.5 1204.5 401.4 1219.2 426.8" stroke="#111" stroke-width="1.06"/><path d="M1013.9 371.7C1041.2 356.1 1261.8 310.0 1293.1 313.4" stroke="#111" stroke-width="1.05"/><path d="M1013.5 371.0C1036.2 358.1 1267.6 306.2 1293.6 308.1" stroke="#111" stroke-width="0.78"/><path d="M1013.1 370.3C1039.0 355.8 1264.1 305.9 1293.6 308.1" stroke="#111" stroke-width="1.26"/><path d="M1014.0 371.9C1042.4 355.6 1261.0 305.7 1293.6 308.1" stroke="#111" stroke-width="0.83"/><path d="M1012.2 368.6C1038.9 354.1 1263.2 306.6 1293.5 309.1" stroke="#111" stroke-width="1.45"/><path d="M1015.6 219.5C1047.3 238.6 1246.7 344.2 1280.3 359.6" stroke="#111" stroke-width="1.42"/><path d="M1016.0 218.8C1040.4 233.7 1254.6 347.1 1280.6 358.9" stroke="#111" stroke-width="1.19"/><path d="M1016.9 217.3C1044.9 234.9 1249.7 347.1 1279.5 361.3" stroke="#111" stroke-width="1.04"/><path d="M1015.2 220.1C1040.5 235.2 1253.7 347.0 1280.5 359.2" stroke="#111" stroke-width="0.94"/><path d="M1016.7 217.7C1045.8 235.8 1250.4 342.3 1282.0 355.7" stroke="#111" stroke-width="0.91"/><path d="M1174.1 150.1C1167.4 182.6 1088.3 399.6 1072.4 428.8" stroke="rgb(238,102,75)" stroke-width="1.06"/><path d="M1173.5 149.9C1168.2 176.3 1086.6 405.9 1074.0 429.7" stroke="rgb(238,102,75)" stroke-width="1.55"/><path d="M1170.2 149.3C1164.2 183.0 1089.0 398.9 1072.8 429.0" stroke="rgb(238,102,75)" stroke-width="1.55"/><path d="M1171.3 149.5C1166.8 173.6 1085.6 408.1 1074.2 429.8" stroke="rgb(238,102,75)" stroke-width="0.80"/><path d="M1172.4 149.7C1166.7 179.1 1088.0 403.2 1074.0 429.7" stroke="rgb(238,102,75)" stroke-width="0.81"/><path d="M1199.4 157.6C1190.3 180.5 1066.7 395.7 1051.6 415.1" stroke="rgb(238,102,75)" stroke-width="1.09"/><path d="M1201.2 158.3C1189.2 187.4 1067.8 387.9 1047.6 412.0" stroke="rgb(238,102,75)" stroke-width="0.93"/><path d="M1199.5 157.6C1190.6 179.9 1064.8 395.0 1049.7 413.7" stroke="rgb(238,102,75)" stroke-width="0.91"/><path d="M1201.7 158.5C1190.9 184.4 1069.6 393.6 1052.4 415.8" stroke="rgb(238,102,75)" stroke-width="1.48"/><path d="M1201.0 158.3C1189.6 186.1 1069.9 391.3 1051.3 415.0" stroke="rgb(238,102,75)" stroke-width="1.49"/><path d="M1239.7 181.5C1222.0 202.9 1047.8 372.4 1026.0 389.6" stroke="rgb(238,102,75)" stroke-width="0.80"/><path d="M1239.3 181.2C1216.3 209.1 1054.5 367.4 1026.1 389.7" stroke="rgb(238,102,75)" stroke-width="1.02"/><path d="M1238.5 180.5C1219.8 203.5 1048.9 370.8 1025.5 389.0" stroke="rgb(238,102,75)" stroke-width="1.46"/><path d="M1237.9 180.0C1218.5 204.2 1050.9 371.0 1026.6 390.3" stroke="rgb(238,102,75)" stroke-width="1.21"/><path d="M996.4 270.4C1022.2 275.1 1243.1 371.1 1264.1 386.9" stroke="rgb(238,102,75)" stroke-width="0.92"/><path d="M996.7 268.4C1029.7 274.8 1238.0 365.7 1265.1 385.5" stroke="rgb(238,102,75)" stroke-width="0.81"/><path d="M996.3 271.0C1030.5 277.0 1237.5 364.3 1265.8 384.6" stroke="rgb(238,102,75)" stroke-width="1.16"/><path d="M996.4 270.1C1027.4 275.7 1239.5 367.2 1264.9 385.8" stroke="rgb(238,102,75)" stroke-width="1.11"/><path d="M996.7 268.6C1023.5 273.8 1245.6 365.8 1268.2 381.1" stroke="rgb(238,102,75)" stroke-width="1.48"/><path d="M1025.0 205.7C1048.9 224.0 1128.4 415.8 1124.5 445.7" stroke="rgb(238,102,75)" stroke-width="0.79"/><path d="M1026.8 203.3C1052.9 224.1 1125.0 412.1 1119.5 445.0" stroke="rgb(238,102,75)" stroke-width="0.75"/><path d="M1025.7 204.7C1046.8 221.2 1124.1 418.6 1119.8 445.0" stroke="rgb(238,102,75)" stroke-width="1.13"/><path d="M1025.3 205.2C1044.9 220.4 1123.2 420.5 1119.1 444.9" stroke="rgb(238,102,75)" stroke-width="1.01"/><path d="M1026.0 204.4C1054.8 227.0 1124.1 408.6 1117.7 444.7" stroke="rgb(238,102,75)" stroke-width="1.53"/></g><line x1="1120.4" y1="140.8" x2="1119.6" y2="135.8" stroke="#e8202a" stroke-width="1.5"/><line x1="1223.0" y1="160.2" x2="1225.5" y2="155.8" stroke="#e8202a" stroke-width="1.5"/><line x1="1243.6" y1="174.4" x2="1246.8" y2="170.5" stroke="#e8202a" stroke-width="1.5"/><line x1="1263.8" y1="194.0" x2="1267.6" y2="190.7" stroke="#e8202a" stroke-width="1.5"/><line x1="1271.8" y1="204.1" x2="1275.9" y2="201.2" stroke="#e8202a" stroke-width="1.5"/><line x1="1298.1" y1="262.3" x2="1303.0" y2="261.2" stroke="#e8202a" stroke-width="1.5"/><line x1="1301.5" y1="309.1" x2="1306.5" y2="309.5" stroke="#e8202a" stroke-width="1.5"/><line x1="1287.5" y1="363.0" x2="1292.1" y2="365.1" stroke="#e8202a" stroke-width="1.5"/><line x1="1271.8" y1="389.9" x2="1275.9" y2="392.8" stroke="#e8202a" stroke-width="1.5"/><line x1="1235.8" y1="425.6" x2="1238.7" y2="429.7" stroke="#e8202a" stroke-width="1.5"/><line x1="1160.0" y1="454.2" x2="1160.5" y2="459.2" stroke="#e8202a" stroke-width="1.5"/><line x1="1133.8" y1="454.7" x2="1133.5" y2="459.7" stroke="#e8202a" stroke-width="1.5"/><line x1="1119.8" y1="453.1" x2="1119.1" y2="458.1" stroke="#e8202a" stroke-width="1.5"/><line x1="988.6" y1="268.5" x2="983.7" y2="267.6" stroke="#e8202a" stroke-width="1.5"/><line x1="1010.4" y1="212.6" x2="1006.2" y2="209.9" stroke="#e8202a" stroke-width="1.5"/><line x1="1042.4" y1="176.0" x2="1039.2" y2="172.1" stroke="#e8202a" stroke-width="1.5"/><line x1="1053.6" y1="167.4" x2="1050.7" y2="163.3" stroke="#e8202a" stroke-width="1.5"/><line x1="1079.7" y1="152.7" x2="1077.7" y2="148.1" stroke="#e8202a" stroke-width="1.5"/><line x1="1090.0" y1="148.5" x2="1088.3" y2="143.8" stroke="#e8202a" stroke-width="1.5"/></g>
</g></svg></body></html>
